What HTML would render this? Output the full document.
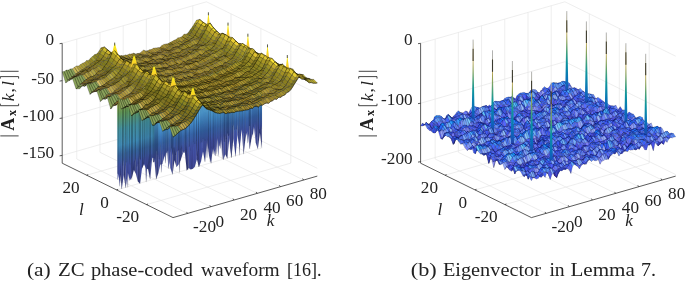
<!DOCTYPE html>
<html><head><meta charset="utf-8"><style>
    html,body{margin:0;padding:0;background:#fff;width:685px;height:281px;overflow:hidden}
    svg{display:block;will-change:transform}
    .g{stroke:#e3e3e3;stroke-width:.6}
    .a{stroke:#262626;stroke-width:.75}
    text{font-family:"Liberation Serif",serif;fill:#222}
    .t{font-size:17.2px}
    .ti{font-size:17.2px;font-style:italic}
    .yb{font-weight:bold}
    .yi{font-style:italic}
    .yln{fill:none;stroke:#222;stroke-width:.85}
    .cap{font-size:19px}
    .sb path{stroke:#000030;stroke-width:3.5;stroke-opacity:.5}
    .sa path{stroke:#000;stroke-width:4;stroke-opacity:.5}
    .sa path.rl{fill:none;stroke:#1a1400;stroke-width:6;stroke-opacity:.85}
    .sa path.cu0,.sa path.cu1,.sa path.cu2,.sa path.cu3,.sa path.cu4,.sa path.cu5{stroke-opacity:.12}
    .sa path.nk,.sb path.nk{stroke:none}
    .aa{fill:#8aa25a}.ab{fill:#b4963c}.ac{fill:#c0a84e}.ad{fill:#a89036}.ae{fill:#907e2a}.af{fill:#7e7224}.ag{fill:#786c1e}.ah{fill:#6c601e}.ai{fill:#6c661e}.aj{fill:#84781e}.ak{fill:#9c9024}.al{fill:#a2902a}.am{fill:#908424}.an{fill:#605a1e}.ao{fill:#5a5418}.ap{fill:#907e24}.aq{fill:#968424}.ar{fill:#9c8a24}.as{fill:#a28a2a}.at{fill:#9c8a2a}.au{fill:#a8902a}.av{fill:#ae9630}.aw{fill:#a89030}.ax{fill:#a88a30}.ay{fill:#9c842a}.az{fill:#a28a30}.aA{fill:#ae9636}.aB{fill:#a8962a}.aC{fill:#968a24}.aD{fill:#78721e}.aE{fill:#7e781e}.aF{fill:#ccb42a}.aG{fill:#ae962a}.aH{fill:#b4a824}.aI{fill:#baa824}.aJ{fill:#baae2a}.aK{fill:#c0ae2a}.aL{fill:#54481e}.aM{fill:#7e6c24}.aN{fill:#786624}.aO{fill:#78661e}.aP{fill:#847824}.aQ{fill:#7e721e}.aR{fill:#b4a22a}.aS{fill:#eacc30}.aT{fill:#665a1e}.aU{fill:#5a541e}.aV{fill:#8a7824}.aW{fill:#967e24}.aX{fill:#8a7224}.aY{fill:#907824}.aZ{fill:#967e2a}.aaa{fill:#90782a}.aab{fill:#847224}.aac{fill:#8a7e24}.aad{fill:#e4cc30}.aae{fill:#c0ae24}.aaf{fill:#aea224}.aag{fill:#a89c24}.aah{fill:#a29624}.aai{fill:#a29024}.aaj{fill:#54421e}.aak{fill:#7e6624}.aal{fill:#786c24}.aam{fill:#66601e}.aan{fill:#5a4e1e}.aao{fill:#846c24}.aap{fill:#96842a}.aaq{fill:#8a7e1e}.aar{fill:#ae9c24}.aas{fill:#dec630}.aat{fill:#f0d830}.aau{fill:#ae963c}.aav{fill:#a28a36}.aaw{fill:#ae9c3c}.aax{fill:#baa82a}.aay{fill:#9c8424}.aaz{fill:#ae9030}.aaA{fill:#a29030}.aaB{fill:#b49c36}.aaC{fill:#ae9c2a}.aaD{fill:#b4a82a}.aaE{fill:#6c5a24}.aaF{fill:#6c5a1e}.aaG{fill:#726024}.aaH{fill:#8a8424}.aaI{fill:#c6ae2a}.aaJ{fill:#786024}.aaK{fill:#8a841e}.aaL{fill:#c6b42a}.aaM{fill:#605418}.aaN{fill:#8a782a}.aaO{fill:#90841e}.aaP{fill:#f6de30}.aaQ{fill:#baa248}.aaR{fill:#b49c42}.aaS{fill:#90842a}.aaT{fill:#72661e}.aaU{fill:#726c1e}.aaV{fill:#605a18}.aaW{fill:#a88a2a}.aaX{fill:#ae9c36}.aaY{fill:#a89624}.aaZ{fill:#b49c2a}.aba{fill:#72601e}.abb{fill:#e4c630}.abc{fill:#c0a82a}.abd{fill:#fce436}.abe{fill:#baae24}.abf{fill:#7e6c1e}.abg{fill:#847e1e}.abh{fill:#baa242}.abi{fill:#d8c030}.abj{fill:#baae30}.abk{fill:#dec030}.abl{fill:#ccb45a}.abm{fill:#a8903c}.abn{fill:#9c8a30}.abo{fill:#baa22a}.abp{fill:#84721e}.abq{fill:#a89630}.abr{fill:#b4a224}.abs{fill:#6c6024}.abt{fill:#ccb430}.abu{fill:#60541e}.abv{fill:#f6d836}.abw{fill:#ccb454}.abx{fill:#a2962a}.aby{fill:#fcde36}.abz{fill:#725a24}.abA{fill:#846c2a}.abB{fill:#8a722a}.abC{fill:#baa848}.abD{fill:#a2903c}.abE{fill:#9c9030}.abF{fill:#c6ae30}.abG{fill:#a89c30}.abH{fill:#d2b430}.abI{fill:#f0d236}.abJ{fill:#c6a84e}.abK{fill:#baa84e}.abL{fill:#968430}.abM{fill:#968a2a}.abN{fill:#ae9c30}.abO{fill:#a28a24}.abP{fill:#d2ba30}.abQ{fill:#d8c066}.abR{fill:#c0ae48}.abS{fill:#a89c3c}.abT{fill:#b4a842}.abU{fill:#a29630}.abV{fill:#908a24}.abW{fill:#b4a236}.abX{fill:#eacc36}.abY{fill:#726624}.abZ{fill:#f0d230}.aca{fill:#fcea36}.acb{fill:#e4d230}.acc{fill:#666018}.acd{fill:#b4a242}.ace{fill:#baa842}.acf{fill:#aea242}.acg{fill:#ccba2a}.ach{fill:#ccba5a}.aci{fill:#b4a23c}.acj{fill:#a89c36}.ack{fill:#a29c30}.ba{fill:#5a72fc}.bb{fill:#425afc}.bc{fill:#485af6}.bd{fill:#4e60fc}.be{fill:#4e66fc}.bf{fill:#3c5af6}.bg{fill:#3648c6}.bh{fill:#4866fc}.bi{fill:#3c66fc}.bj{fill:#3c42ba}.bk{fill:#4e5aea}.bl{fill:#8ab4fc}.bm{fill:#5a84fc}.bn{fill:#3648cc}.bo{fill:#4248cc}.bp{fill:#424ed8}.bq{fill:#364ed8}.br{fill:#4854f0}.bs{fill:#5a66fc}.bt{fill:#60a8fc}.bu{fill:#3072fc}.bv{fill:#304ed2}.bw{fill:#5466fc}.bx{fill:#606cfc}.by{fill:#424ede}.bz{fill:#425af6}.bA{fill:#3648c0}.bB{fill:#3c4ed2}.bC{fill:#3654e4}.bD{fill:#6090fc}.bE{fill:#4272fc}.bF{fill:#4e72fc}.bG{fill:#6690fc}.bH{fill:#4860fc}.bI{fill:#8a96fc}.bJ{fill:#9cb4fc}.bK{fill:#7896fc}.bL{fill:#7e9cfc}.bM{fill:#3642c0}.bN{fill:#365af0}.bO{fill:#2a6cfc}.bP{fill:#2a72fc}.bQ{fill:#3c4ede}.bR{fill:#3c54ea}.bS{fill:#3c60fc}.bT{fill:#4e6cfc}.bU{fill:#427efc}.bV{fill:#3c4ed8}.bW{fill:#485afc}.bX{fill:#545afc}.bY{fill:#4254e4}.bZ{fill:#3c6cfc}.baa{fill:#4854e4}.bab{fill:#4e78fc}.bac{fill:#607efc}.bad{fill:#3c3cb4}.bae{fill:#3c3cae}.baf{fill:#6078fc}.bag{fill:#5a8afc}.bah{fill:#548afc}.bai{fill:#4278fc}.baj{fill:#6c96fc}.bak{fill:#84b4fc}.bal{fill:#72a2fc}.bam{fill:#4848d8}.ban{fill:#3c78fc}.bao{fill:#5490fc}.bap{fill:#2a54de}.baq{fill:#3c309c}.bar{fill:#4236ae}.bas{fill:#4e54e4}.bat{fill:#788afc}.bau{fill:#5a6cfc}.bav{fill:#3060f6}.baw{fill:#245ae4}.bax{fill:#4260fc}.bay{fill:#5472fc}.baz{fill:#96bafc}.baA{fill:#78a2fc}.baB{fill:#485af0}.baC{fill:#306cfc}.baD{fill:#304ed8}.baE{fill:#366cfc}.baF{fill:#364ed2}.baG{fill:#3c48c6}.baH{fill:#484ede}.baI{fill:#2a84fc}.baJ{fill:#2a54d8}.baK{fill:#3c5afc}.baL{fill:#3060fc}.baM{fill:#6c84fc}.baN{fill:#426cfc}.baO{fill:#3642ba}.baP{fill:#4854ea}.baQ{fill:#969cfc}.baR{fill:#7e8afc}.baS{fill:#364ecc}.baT{fill:#3666fc}.baU{fill:#3066fc}.baV{fill:#3660fc}.baW{fill:#848afc}.baX{fill:#365af6}.baY{fill:#2472fc}.baZ{fill:#1e72fc}.bba{fill:#3054d8}.bbb{fill:#484ee4}.bbc{fill:#7272fc}.bbd{fill:#4266fc}.bbe{fill:#6684fc}.bbf{fill:#5478fc}.bbg{fill:#3c54de}.bbh{fill:#4254ea}.bbi{fill:#3054e4}.bbj{fill:#4e5af6}.bbk{fill:#4e60f6}.bbl{fill:#2a66fc}.bbm{fill:#3c48cc}.bbn{fill:#84a2fc}.bbo{fill:#84a8fc}.bbp{fill:#547efc}.bbq{fill:#7ea8fc}.bbr{fill:#7eaefc}.bbs{fill:#6ca8fc}.bbt{fill:#4e90fc}.bbu{fill:#3c42b4}.bbv{fill:#304ecc}.bbw{fill:#6096fc}.bbx{fill:#3c72fc}.bby{fill:#9caefc}.bbz{fill:#3c5af0}.bbA{fill:#545af6}.bbB{fill:#4e4ee4}.bbC{fill:#90aefc}.bbD{fill:#5a7efc}.bbE{fill:#425af0}.bbF{fill:#3054de}.bbG{fill:#729cfc}.bbH{fill:#4854f6}.bbI{fill:#96a2fc}.bbJ{fill:#4872fc}.bbK{fill:#3c42c0}.bbL{fill:#3c48d2}.bbM{fill:#7884fc}.bbN{fill:#4e54f0}.bbO{fill:#546cfc}.bbP{fill:#8aaefc}.bbQ{fill:#9ca2fc}.bbR{fill:#4e5af0}.bbS{fill:#666cfc}.bbT{fill:#3c36a8}.bbU{fill:#3678fc}.bbV{fill:#488afc}.bbW{fill:#3078fc}.bbX{fill:#3c54e4}.bbY{fill:#7284fc}.bbZ{fill:#4e96fc}.bca{fill:#307efc}.bcb{fill:#7e84fc}.bcc{fill:#6c78fc}.bcd{fill:#90a8fc}.bce{fill:#667efc}.bcf{fill:#96b4fc}.bcg{fill:#4e84fc}.bch{fill:#3672fc}.bci{fill:#4e5afc}.bcj{fill:#6c8afc}.bck{fill:#96a8fc}.bcl{fill:#6cb4fc}.bcm{fill:#54a2fc}.bcn{fill:#5460fc}.bco{fill:#3c36a2}.bcp{fill:#2a60fc}.bcq{fill:#3090fc}.bcr{fill:#1e5ae4}.bcs{fill:#66a2fc}.bct{fill:#487efc}.bcu{fill:#305aea}.bcv{fill:#2454de}.bcw{fill:#72b4fc}.bcx{fill:#54a8fc}.bcy{fill:#3684fc}.bcz{fill:#2a78fc}.bcA{fill:#428afc}.bcB{fill:#8aa8fc}.bcC{fill:#96aefc}.bcD{fill:#1260f0}.bcE{fill:#1260ea}.bcF{fill:#789cfc}.bcG{fill:#5a78fc}.bcH{fill:#7278fc}.bcI{fill:#1e6cfc}.bcJ{fill:#1e78fc}.bcK{fill:#608afc}.bcL{fill:#1e8afc}.bcM{fill:#1284fc}.bcN{fill:#84c0fc}.bcO{fill:#3c84fc}.bcP{fill:#3c48c0}.bcQ{fill:#3660f6}.bcR{fill:#728afc}.bcS{fill:#7290fc}.bcT{fill:#246cfc}.bcU{fill:#6084fc}.bcV{fill:#1860ea}.bcW{fill:#3c42c6}.bcX{fill:#3084fc}.bcY{fill:#60a2fc}.bcZ{fill:#4884fc}.bda{fill:#8aa2fc}.bdb{fill:#486cfc}.bdc{fill:#4e54ea}.bdd{fill:#668afc}.bde{fill:#5a96fc}.bdf{fill:#4848d2}.bdg{fill:#3c369c}.bdh{fill:#4242ba}.bdi{fill:#2a54e4}.bdj{fill:#3654ea}.bdk{fill:#6678fc}.bdl{fill:#6072fc}.bdm{fill:#4e48de}.bdn{fill:#4248d2}.bdo{fill:#305af6}.bdp{fill:#4e4eea}.bdq{fill:#7878fc}.bdr{fill:#2478fc}.bds{fill:#4842cc}.bdt{fill:#6066fc}.bdu{fill:#5454ea}.bdv{fill:#3c54f0}.bdw{fill:#4248c6}.bdx{fill:#4254f0}.bdy{fill:#4e4ed8}.bdz{fill:#6c7efc}.bdA{fill:#4e54f6}.bdB{fill:#5a60fc}.bdC{fill:#545af0}.bdD{fill:#5454e4}.bdE{fill:#90a2fc}.bdF{fill:#4878fc}.bdG{fill:#8496fc}.bdH{fill:#3654de}.bdI{fill:#7e7efc}.bdJ{fill:#8abafc}.bdK{fill:#367efc}.bdL{fill:#9cbafc}.bdM{fill:#7890fc}.bdN{fill:#7296fc}.bdO{fill:#6c90fc}.bdP{fill:#3c7efc}.bdQ{fill:#5a9cfc}.bdR{fill:#4290fc}.bdS{fill:#5aa2fc}.bdT{fill:#4e7efc}.bdU{fill:#849cfc}.bdV{fill:#5a90fc}.bdW{fill:#78aefc}.bdX{fill:#909cfc}.bdY{fill:#669cfc}.bdZ{fill:#8ac0fc}.bea{fill:#72c6fc}.beb{fill:#2a9cfc}.bec{fill:#189cfc}.bed{fill:#127efc}.bee{fill:#3696fc}.bef{fill:#6c9cfc}.beg{fill:#2a5af0}.beh{fill:#2490fc}.bei{fill:#1884fc}.bej{fill:#7ea2fc}.bek{fill:#78bafc}.bel{fill:#2460f6}.bem{fill:#1e5aea}.ben{fill:#5ac0fc}.beo{fill:#7ec6fc}.bep{fill:#1872fc}.beq{fill:#187efc}.ber{fill:#2a7efc}.bes{fill:#7eb4fc}.bet{fill:#1272fc}.beu{fill:#0c84fc}.bev{fill:#0c7efc}.bew{fill:#0c66f0}.bex{fill:#72a8fc}.bey{fill:#364ede}.bez{fill:#1e66fc}.beA{fill:#1e60ea}.beB{fill:#2a5aea}.beC{fill:#727efc}.beD{fill:#2466fc}.beE{fill:#305ae4}.beF{fill:#4284fc}.beG{fill:#3c8afc}.beH{fill:#4242c6}.beI{fill:#2a60f6}.beJ{fill:#2a5ae4}.beK{fill:#8a9cfc}.beL{fill:#9096fc}.beM{fill:#424ee4}.beN{fill:#a2aefc}.beO{fill:#4842c0}.beP{fill:#6672fc}.beQ{fill:#3c5aea}.beR{fill:#6cc0fc}.beS{fill:#42a8fc}.beT{fill:#1e7efc}.beU{fill:#84aefc}.beV{fill:#4890fc}.beW{fill:#4e8afc}.beX{fill:#9ca8fc}.beY{fill:#3054ea}.beZ{fill:#1e60f0}.bfa{fill:#7e96fc}.bfb{fill:#305af0}.bfc{fill:#4242c0}.bfd{fill:#245aea}.bfe{fill:#5460f6}.bff{fill:#5484fc}.bfg{fill:#365aea}.bfh{fill:#9c96fc}.bfi{fill:#484eea}.bfj{fill:#544eea}.bfk{fill:#423cba}.bfl{fill:#3c3ca8}.bfm{fill:#4848cc}.bfn{fill:#4854de}.bfo{fill:#6c66f6}.bfp{fill:#5a5aea}.bfq{fill:#3c3096}.bfr{fill:#6ca2fc}.bfs{fill:#78b4fc}.bft{fill:#90b4fc}.bfu{fill:#484ed8}.bfv{fill:#6cd8fc}.bfw{fill:#2a96fc}.bfx{fill:#3ca2fc}.bfy{fill:#4296fc}.bfz{fill:#247efc}.bfA{fill:#8ac6fc}.bfB{fill:#66b4fc}.bfC{fill:#72bafc}.bfD{fill:#90bafc}.bfE{fill:#54c6fc}.bfF{fill:#42aefc}.bfG{fill:#54aefc}.bfH{fill:#42a2fc}.bfI{fill:#72c0fc}.bfJ{fill:#7ebafc}.bfK{fill:#48aefc}.bfL{fill:#3c90fc}.bfM{fill:#126cfc}.bfN{fill:#1e84fc}.bfO{fill:#248afc}.bfP{fill:#186cfc}.bfQ{fill:#0678fc}.bfR{fill:#066cf0}.bfS{fill:#067efc}.bfT{fill:#1878fc}.bfU{fill:#1266f0}.bfV{fill:#6060fc}.bfW{fill:#6666fc}.bfX{fill:#96c0fc}.bfY{fill:#7e90fc}.bfZ{fill:#4e54de}.bga{fill:#6c6cfc}.bgb{fill:#90c0fc}.bgc{fill:#787efc}.bgd{fill:#4eaefc}.bge{fill:#9c9cfc}.bgf{fill:#2a60f0}.bgg{fill:#2484fc}.bgh{fill:#609cfc}.bgi{fill:#424ed2}.bgj{fill:#6696fc}.bgk{fill:#5496fc}.bgl{fill:#6c72fc}.bgm{fill:#a2a8fc}.bgn{fill:#8490fc}.bgo{fill:#423cae}.bgp{fill:#9696fc}.bgq{fill:#4e4ede}.bgr{fill:#545aea}.bgs{fill:#5aaefc}.bgt{fill:#78a8fc}.bgu{fill:#7eccfc}.bgv{fill:#368afc}.bgw{fill:#1896fc}.bgx{fill:#66aefc}.bgy{fill:#128afc}.bgz{fill:#3c96fc}.bgA{fill:#1296fc}.bgB{fill:#0c8afc}.bgC{fill:#66c6fc}.bgD{fill:#308afc}.bgE{fill:#4254de}.bgF{fill:#4eb4fc}.bgG{fill:#5ac6fc}.bgH{fill:#48bafc}.bgI{fill:#3654d8}.bgJ{fill:#84c6fc}.bgK{fill:#3690fc}.bgL{fill:#1866fc}.bgM{fill:#2460f0}.bgN{fill:#8a90fc}.bgO{fill:#6c66fc}.bgP{fill:#6060f6}.bgQ{fill:#5454f0}.bgR{fill:#66bafc}.bgS{fill:#72aefc}.bgT{fill:#5a60f0}.bgU{fill:#8484fc}.bgV{fill:#5aa8fc}.bgW{fill:#9090fc}.cu0{fill:url(#cur0)}.cu1{fill:url(#cur1)}.cu2{fill:url(#cur2)}.cu3{fill:url(#cur3)}.cu4{fill:url(#cur4)}.cu5{fill:url(#cur5)}</style></head><body>
<svg width="685" height="281" viewBox="0 0 685 281">
<line class="g" x1="76.77" y1="159.01" x2="76.77" y2="39.11"/>
<line class="g" x1="99.98" y1="152.34" x2="99.98" y2="32.44"/>
<line class="g" x1="123.18" y1="145.66" x2="123.18" y2="25.76"/>
<line class="g" x1="146.38" y1="138.99" x2="146.38" y2="19.09"/>
<line class="g" x1="169.59" y1="132.32" x2="169.59" y2="12.42"/>
<line class="g" x1="192.79" y1="125.64" x2="192.79" y2="5.74"/>
<line class="g" x1="62.20" y1="43.30" x2="206.50" y2="1.80"/>
<line class="g" x1="62.20" y1="80.68" x2="206.50" y2="39.18"/>
<line class="g" x1="62.20" y1="118.05" x2="206.50" y2="76.55"/>
<line class="g" x1="62.20" y1="155.43" x2="206.50" y2="113.93"/>
<line class="g" x1="290.82" y1="163.10" x2="290.82" y2="43.20"/>
<line class="g" x1="260.90" y1="148.41" x2="260.90" y2="28.51"/>
<line class="g" x1="230.99" y1="133.72" x2="230.99" y2="13.82"/>
<line class="g" x1="317.30" y1="56.20" x2="206.50" y2="1.80"/>
<line class="g" x1="317.30" y1="93.58" x2="206.50" y2="39.18"/>
<line class="g" x1="317.30" y1="130.95" x2="206.50" y2="76.55"/>
<line class="g" x1="317.30" y1="168.33" x2="206.50" y2="113.93"/>
<line class="g" x1="187.57" y1="213.41" x2="76.77" y2="159.01"/>
<line class="g" x1="210.78" y1="206.74" x2="99.98" y2="152.34"/>
<line class="g" x1="233.98" y1="200.06" x2="123.18" y2="145.66"/>
<line class="g" x1="257.18" y1="193.39" x2="146.38" y2="138.99"/>
<line class="g" x1="280.39" y1="186.72" x2="169.59" y2="132.32"/>
<line class="g" x1="303.59" y1="180.04" x2="192.79" y2="125.64"/>
<line class="g" x1="146.52" y1="204.60" x2="290.82" y2="163.10"/>
<line class="g" x1="116.60" y1="189.91" x2="260.90" y2="148.41"/>
<line class="g" x1="86.69" y1="175.22" x2="230.99" y2="133.72"/>
<line class="g" x1="435.17" y1="159.01" x2="435.17" y2="39.11"/>
<line class="g" x1="458.38" y1="152.34" x2="458.38" y2="32.44"/>
<line class="g" x1="481.58" y1="145.66" x2="481.58" y2="25.76"/>
<line class="g" x1="504.78" y1="138.99" x2="504.78" y2="19.09"/>
<line class="g" x1="527.99" y1="132.32" x2="527.99" y2="12.42"/>
<line class="g" x1="551.19" y1="125.64" x2="551.19" y2="5.74"/>
<line class="g" x1="420.60" y1="43.30" x2="564.90" y2="1.80"/>
<line class="g" x1="420.60" y1="103.25" x2="564.90" y2="61.75"/>
<line class="g" x1="420.60" y1="161.70" x2="564.90" y2="120.20"/>
<line class="g" x1="649.22" y1="163.10" x2="649.22" y2="43.20"/>
<line class="g" x1="619.30" y1="148.41" x2="619.30" y2="28.51"/>
<line class="g" x1="589.39" y1="133.72" x2="589.39" y2="13.82"/>
<line class="g" x1="675.70" y1="56.20" x2="564.90" y2="1.80"/>
<line class="g" x1="675.70" y1="116.15" x2="564.90" y2="61.75"/>
<line class="g" x1="675.70" y1="174.60" x2="564.90" y2="120.20"/>
<line class="g" x1="545.97" y1="213.41" x2="435.17" y2="159.01"/>
<line class="g" x1="569.18" y1="206.74" x2="458.38" y2="152.34"/>
<line class="g" x1="592.38" y1="200.06" x2="481.58" y2="145.66"/>
<line class="g" x1="615.58" y1="193.39" x2="504.78" y2="138.99"/>
<line class="g" x1="638.79" y1="186.72" x2="527.99" y2="132.32"/>
<line class="g" x1="661.99" y1="180.04" x2="551.19" y2="125.64"/>
<line class="g" x1="504.92" y1="204.60" x2="649.22" y2="163.10"/>
<line class="g" x1="475.00" y1="189.91" x2="619.30" y2="148.41"/>
<line class="g" x1="445.09" y1="175.22" x2="589.39" y2="133.72"/>
<defs><linearGradient id="ga00" gradientUnits="userSpaceOnUse" x1="1147" y1="426" x2="1147" y2="629"><stop offset="0.00" stop-color="#f9fb0e"/><stop offset="0.50" stop-color="#fad12b"/><stop offset="1.00" stop-color="#ecb94c"/></linearGradient><linearGradient id="ga01" gradientUnits="userSpaceOnUse" x1="1341" y1="533" x2="1341" y2="736"><stop offset="0.00" stop-color="#f9fb0e"/><stop offset="0.50" stop-color="#fad12b"/><stop offset="1.00" stop-color="#ecb94c"/></linearGradient><linearGradient id="ga02" gradientUnits="userSpaceOnUse" x1="1540" y1="640" x2="1540" y2="843"><stop offset="0.00" stop-color="#f9fb0e"/><stop offset="0.50" stop-color="#fad12b"/><stop offset="1.00" stop-color="#ecb94c"/></linearGradient><linearGradient id="ga03" gradientUnits="userSpaceOnUse" x1="1732" y1="747" x2="1732" y2="950"><stop offset="0.00" stop-color="#f9fb0e"/><stop offset="0.50" stop-color="#fad12b"/><stop offset="1.00" stop-color="#ecb94c"/></linearGradient><linearGradient id="ga04" gradientUnits="userSpaceOnUse" x1="1928" y1="854" x2="1928" y2="1057"><stop offset="0.00" stop-color="#f9fb0e"/><stop offset="0.50" stop-color="#fad12b"/><stop offset="1.00" stop-color="#ecb94c"/></linearGradient><linearGradient id="ga10" gradientUnits="userSpaceOnUse" x1="2084" y1="123" x2="2084" y2="332"><stop offset="0.00" stop-color="#f9fb0e"/><stop offset="0.50" stop-color="#fad12b"/><stop offset="1.00" stop-color="#ecb94c"/></linearGradient><linearGradient id="ga11" gradientUnits="userSpaceOnUse" x1="2280" y1="226" x2="2280" y2="435"><stop offset="0.00" stop-color="#f9fb0e"/><stop offset="0.50" stop-color="#fad12b"/><stop offset="1.00" stop-color="#ecb94c"/></linearGradient><linearGradient id="ga12" gradientUnits="userSpaceOnUse" x1="2479" y1="337" x2="2479" y2="546"><stop offset="0.00" stop-color="#f9fb0e"/><stop offset="0.50" stop-color="#fad12b"/><stop offset="1.00" stop-color="#ecb94c"/></linearGradient><linearGradient id="ga13" gradientUnits="userSpaceOnUse" x1="2675" y1="444" x2="2675" y2="653"><stop offset="0.00" stop-color="#f9fb0e"/><stop offset="0.50" stop-color="#fad12b"/><stop offset="1.00" stop-color="#ecb94c"/></linearGradient><linearGradient id="ga14" gradientUnits="userSpaceOnUse" x1="2873" y1="550" x2="2873" y2="759"><stop offset="0.00" stop-color="#f9fb0e"/><stop offset="0.50" stop-color="#fad12b"/><stop offset="1.00" stop-color="#ecb94c"/></linearGradient><linearGradient id="cur0" gradientUnits="userSpaceOnUse" x1="1176" y1="705" x2="1494" y2="1812"><stop offset="0.00" stop-color="#a5a03e"/><stop offset="0.25" stop-color="#9b9b3e"/><stop offset="0.36" stop-color="#5f9254"/><stop offset="0.50" stop-color="#428c9b"/><stop offset="0.63" stop-color="#3e86af"/><stop offset="0.71" stop-color="#366298"/><stop offset="0.81" stop-color="#3e4e9b"/><stop offset="0.90" stop-color="#3e4895"/><stop offset="1.00" stop-color="#3c448b"/></linearGradient><linearGradient id="cur1" gradientUnits="userSpaceOnUse" x1="1176" y1="705" x2="1494" y2="1812"><stop offset="0.00" stop-color="#8c8835"/><stop offset="0.25" stop-color="#838335"/><stop offset="0.36" stop-color="#517c48"/><stop offset="0.50" stop-color="#387783"/><stop offset="0.63" stop-color="#357295"/><stop offset="0.71" stop-color="#2e5382"/><stop offset="0.81" stop-color="#354383"/><stop offset="0.90" stop-color="#353d7f"/><stop offset="1.00" stop-color="#333a76"/></linearGradient><linearGradient id="cur2" gradientUnits="userSpaceOnUse" x1="1176" y1="705" x2="1494" y2="1812"><stop offset="0.00" stop-color="#b5b044"/><stop offset="0.25" stop-color="#aaaa44"/><stop offset="0.36" stop-color="#68a15d"/><stop offset="0.50" stop-color="#499aaa"/><stop offset="0.63" stop-color="#4493c1"/><stop offset="0.71" stop-color="#3b6ca8"/><stop offset="0.81" stop-color="#4456aa"/><stop offset="0.90" stop-color="#444fa4"/><stop offset="1.00" stop-color="#424b99"/></linearGradient><linearGradient id="cur3" gradientUnits="userSpaceOnUse" x1="1176" y1="705" x2="1494" y2="1812"><stop offset="0.00" stop-color="#a5a548"/><stop offset="0.38" stop-color="#9baf52"/><stop offset="0.45" stop-color="#62aace"/><stop offset="0.55" stop-color="#52a0d8"/><stop offset="0.63" stop-color="#4081bf"/><stop offset="0.71" stop-color="#3662a5"/><stop offset="0.81" stop-color="#3e4e9b"/><stop offset="0.90" stop-color="#3e4895"/><stop offset="1.00" stop-color="#3c448b"/></linearGradient><linearGradient id="cur4" gradientUnits="userSpaceOnUse" x1="1176" y1="705" x2="1494" y2="1812"><stop offset="0.00" stop-color="#8c8c3d"/><stop offset="0.38" stop-color="#839546"/><stop offset="0.45" stop-color="#5390af"/><stop offset="0.55" stop-color="#4688b8"/><stop offset="0.63" stop-color="#366da2"/><stop offset="0.71" stop-color="#2e538c"/><stop offset="0.81" stop-color="#354383"/><stop offset="0.90" stop-color="#353d7f"/><stop offset="1.00" stop-color="#333a76"/></linearGradient><linearGradient id="cur5" gradientUnits="userSpaceOnUse" x1="1176" y1="705" x2="1494" y2="1812"><stop offset="0.00" stop-color="#b5b54f"/><stop offset="0.38" stop-color="#aac15b"/><stop offset="0.45" stop-color="#6cbbe3"/><stop offset="0.55" stop-color="#5bb0ee"/><stop offset="0.63" stop-color="#468ed2"/><stop offset="0.71" stop-color="#3b6cb5"/><stop offset="0.81" stop-color="#4456aa"/><stop offset="0.90" stop-color="#444fa4"/><stop offset="1.00" stop-color="#424b99"/></linearGradient></defs><g class=sa transform="scale(.1)">
<path class=aa d="M657 830l20-28-35-87-20 3zm20-28l20-15-34-87-21 15zm20-15l21-18-35-69-20 0zm21-18l20-11-35-69-20 11zm20-11l20-19-34-52-21 2z"/>
<path class=ach d="M758 739l21-14-35-52-20 14zm21-14l20-12-35-54-20 14z"/>
<path class=aci d="M799 713l20-14-34-40-21 0z"/>
<path class=aaX d="M819 699l21-13-35-41-20 14z"/>
<path class=acj d="M840 686l20-15-35-39-20 13z"/>
<path class=abq d="M860 671l20-8-34-39-21 8z"/>
<path class=abE d="M880 663l21-21-35-37-20 19z"/>
<path class=ak d="M901 642l20-10-35-28-20 1zm975-265l20-18-34-17-21-2z"/>
<path class=am d="M921 632l20-18-34-35-21 25zm81-97l20-33-34 12-20 25zm183 39l20 5-34-18-21 0z"/>
<path class=ack d="M941 614l20-12-34-39-20 16z"/>
<path class=aaH d="M961 602l21-33-35-23-20 17z"/>
<path class=aaK d="M982 569l20-34-34 4-21 7z"/>
<path class=aaC d="M1022 502l21-33-35 11-20 34zm976-308l20 21-34 6-21-17z"/>
<path class=aai d="M1043 469l20 19-35 5-20-13z"/>
<path class=aac d="M1063 488l20 22-34 5-21-22z"/>
<path class=ai d="M1083 510l21 21-35 5-20-21zm976-252l20 22-34-12-21-4z"/>
<path class=aaM d="M1104 531l20 22-35-6-20-11z"/>
<path class=ao d="M1124 553l20 17-34-22-21-1z"/>
<path class=aq d="M1144 570l21 12-35-28-20-6zm61 9l21-2-35-20-20 4zm21-2l20 0-35-21-20 1zm20 0l20 11-34-30-21-2zm772-362l21 22-35 5-20-21z"/>
<path class=aC d="M1165 582l20-8-35-13-20-7zm792-323l21-33-35 11-20 33z"/>
<path class=at d="M1266 588l21-16-35-22-20 8zm508-161l21-13-35-19-20 7zm61-22l21-16-35-24-20 9zm21-16l20-12-35-37-20 25z"/>
<path class=ay d="M1287 572l20 9-35-30-20-1zm203-45l20 5-34-25-21 2zm122-28l20-8-34-16-21 2zm20-8l20-3-34-32-20 19zm122-55l20-9-34-25-21 14z"/>
<path class=al d="M1307 581l20-10-34-31-21 11zm488-167l20 6-35-42-20 17z"/>
<path class=as d="M1327 571l21 0-35-31-20 0zm21 0l20-13-35-26-20 8zm81-19l20-2-34-31-21 14zm41-11l20-14-35-18-20-10zm40-9l21-4-35-30-20 9zm82-22l20-11-35-22-20 3zm81-32l20-15-34-23-21 4z"/>
<path class=aap d="M1368 558l20-1-34-17-21-8zm325-95l20-11-34-15-20 3zm20-11l21-5-35-21-20 11zm21-5l20-11-35-20-20 10z"/>
<path class=aZ d="M1388 557l21-8-35-14-20 5zm21-8l20 3-35-19-20 2z"/>
<path class=aA d="M1449 550l21-9-35-42-20 20zm102-21l20-9-34-39-21 12z"/>
<path class=aaW d="M1531 528l20 1-35-36-20 5z"/>
<path class=aw d="M1571 520l21-10-35-30-20 1zm81-32l21-10-35-34-20 12z"/>
<path class=av d="M1815 420l20-15-34-31-21 4z"/>
<path class=aQ d="M1896 359l21-34-35 2-20 15z"/>
<path class=aaU d="M1917 325l20-33-35 5-20 30z"/>
<path class=aE d="M1937 292l20-33-34 11-21 27z"/>
<path class=aK d="M1978 226l20-32-35 10-20 33z"/>
<path class=aD d="M2039 237l20 21-35 6-20-22z"/>
<path class=aam d="M2079 280l21 21-35-11-20-22z"/>
<path class=aa d="M691 806l21-18-35 14-20 28z"/>
<path class=abz d="M712 788l20-6-35 5-20 15z"/>
<path class=aaG d="M732 782l20-15-34 2-21 18zm20-15l21-14-35 5-20 11z"/>
<path class=aN d="M773 753l20-11-35-3-20 19z"/>
<path class=aM d="M793 742l20-11-34-6-21 14zm81-36l20-29-34-6-20 15z"/>
<path class=aal d="M813 731l21-17-35-1-20 12zm21-17l20-13-35-2-20 14z"/>
<path class=aP d="M854 701l20 5-34-20-21 13zm1077-321l20-28-34-27-21 34z"/>
<path class=af d="M894 677l21-6-35-8-20 8z"/>
<path class=aQ d="M915 671l20-14-34-15-21 21zm40-28l21-17-35-12-20 18z"/>
<path class=aj d="M935 657l20-14-34-11-20 10zm41-31l20-14-35-10-20 12zm20-14l20-18-34-25-21 33zm102-92l20 22-35-32-20-22z"/>
<path class=aaO d="M1016 594l21-33-35-26-20 34z"/>
<path class=aag d="M1037 561l20-33-35-26-20 33z"/>
<path class=acg d="M1057 528l20-29-34-30-21 33z"/>
<path class=ak d="M1077 499l21 21-35-32-20-19z"/>
<path class=ah d="M1118 542l20 22-34-33-21-21z"/>
<path class=ao d="M1138 564l21 21-35-32-20-22z"/>
<path class=am d="M1159 585l20 12-35-27-20-17zm20 12l20-13-34-2-21-12zm732-208l20-9-35-21-20 18zm142-143l20 22-34-31-21-22z"/>
<path class=ap d="M1199 584l21 10-35-20-20 8zm41 13l20-12-34-8-21 2zm142-26l21 12-35-25-20 13zm41-2l20-6-34-14-21 8zm447-152l20-11-34-17-21 16zm20-11l21-17-35-12-20 12z"/>
<path class=aq d="M1220 594l20 3-35-18-20-5zm609-154l21-16-35-4-20-6z"/>
<path class=aac d="M1260 585l21 8-35-16-20 0z"/>
<path class=aV d="M1281 593l20-1-35-4-20-11zm61-9l20-5-35-8-20 10zm508-160l20-7-35-12-20 15z"/>
<path class=aap d="M1301 592l20 8-34-28-21 16zm102-9l20-14-35-12-20 1zm325-104l20-5-35-22-20 11z"/>
<path class=aZ d="M1321 600l21-16-35-3-20-9zm163-39l20 4-34-24-21 9zm41-11l20-2-35-16-20-5zm20-2l20 1-34-21-21 4z"/>
<path class=aX d="M1362 579l20-8-34 0-21 0zm224-49l20-3-35-7-20 9zm40-9l20-19-34-3-20 11z"/>
<path class=aY d="M1443 563l21-1-35-10-20-3zm203-61l21 6-35-17-20 8z"/>
<path class=aaa d="M1464 562l20-1-35-11-20 2zm101-13l21-19-35-1-20-1zm41-22l20-6-34-11-21 10z"/>
<path class=ay d="M1504 565l21-15-35-23-20 14zm163-57l20 1-35-21-20 3zm20 1l20-7-34-24-21 10zm61-35l20-6-34-21-21 5z"/>
<path class=ae d="M1707 502l21-23-35-16-20 15z"/>
<path class=as d="M1768 468l21-2-35-30-20 11z"/>
<path class=at d="M1789 466l20-17-35-22-20 9zm20-17l20-9-34-26-21 13z"/>
<path class=aaq d="M1951 352l21-34-35-26-20 33z"/>
<path class=aC d="M1972 318l20-33-35-26-20 33z"/>
<path class=abr d="M1992 285l20-35-34-24-21 33z"/>
<path class=aad d="M2012 250l21-27-35-29-20 32z"/>
<path class=aaC d="M2033 223l20 23-35-31-20-21z"/>
<path class=aD d="M2073 268l21 22-35-32-20-21z"/>
<path class=ai d="M2094 290l20 22-35-32-20-22z"/>
<path class=aaY d="M2114 312l20-3-34-8-21-21z"/>
<path class=rl d="M691 806l21-18 20-6 20-15 21-14 20-11 20-11 21-17 20-13 20 5 20-29 21-6 20-14 20-14 21-17 20-14 20-18 21-33 20-33 20-29 21 21 20 22 20 22 21 21 20 12 20-13 21 10 20 3 20-12 21 8 20-1 20 8 21-16 20-5 20-8 21 12 20-14 20-6 21-1 20-1 20 4 21-15 20-2 20 1 21-19 20-3 20-6 20-19 21 6 20 1 20-7 21-23 20-5 20-6 21-2 20-17 20-9 21-16 20-7 20-11 21-17 20-9 20-28 21-34 20-33 20-35 21-27 20 23 20 22 21 22 20 22 20-3"/>
<path class=aa d="M726 791l20-21-34 18-21 18z"/>
<path class=aL d="M746 770l21-1-35 13-20 6z"/>
<path class=ah d="M767 769l20-10-35 8-20 15z"/>
<path class=aba d="M787 759l20-10-34 4-21 14z"/>
<path class=aM d="M807 749l20 0-34-7-20 11zm41-7l20-20-34-8-21 17z"/>
<path class=aab d="M827 749l21-7-35-11-20 11zm529-147l20-10-34-8-21 16zm81-19l21-7-35-7-20 14zm142-29l21-8-35 3-20-1zm163-54l20-7-34-14-21 23zm102-53l20-2-35-5-20 9zm61-23l20-19-35 1-20 11z"/>
<path class=aV d="M868 722l20 1-34-22-20 13zm20 1l21-14-35-3-20-5zm61-36l21-13-35-17-20 14zm570-110l20-15-35 3-20-4zm20-15l20 3-34-15-21 15zm162-37l21-16-35 0-20-1zm102-40l20-23-34 4-21 2zm61-40l20-8-34-13-21 16z"/>
<path class=aO d="M909 709l20-20-35-12-20 29z"/>
<path class=aac d="M929 689l20-2-34-16-21 6zm41-15l20-13-35-18-20 14zm284-68l21-2-35-7-20-3zm630-169l21-13-35-7-20 7zm82-47l20-12-35-26-20 28zm20-12l20-34-34-26-21 34z"/>
<path class=abg d="M990 661l20-15-34-20-21 17z"/>
<path class=aQ d="M1010 646l21-32-35-2-20 14z"/>
<path class=aj d="M1031 614l20-9-35-11-20 18z"/>
<path class=am d="M1051 605l20-22-34-22-21 33zm1037-333l20 27-35-31-20-22z"/>
<path class=aaY d="M1071 583l21-35-35-20-20 33z"/>
<path class=abP d="M1092 548l20-23-35-26-20 29z"/>
<path class=ar d="M1112 525l20 25-34-30-21-21z"/>
<path class=abp d="M1132 550l21 24-35-32-20-22z"/>
<path class=aam d="M1153 574l20 20-35-30-20-22z"/>
<path class=aU d="M1173 594l20 20-34-29-21-21z"/>
<path class=aq d="M1193 614l21 1-35-18-20-12zm21 1l20-12-35-19-20 13z"/>
<path class=ap d="M1234 603l20 3-34-12-21-10zm41 1l20-2-35-17-20 12zm20-2l20 8-34-17-21-8zm20 8l21-8-35-10-20 1zm61-18l21 5-35-18-20 5zm82-16l20 0-35-13-20 6zm325-96l20 5-35-17-20 6zm162-80l21-10-35-10-20 9z"/>
<path class=aan d="M1336 602l20 0-35-2-20-8z"/>
<path class=at d="M1397 597l20 6-35-32-20 8z"/>
<path class=aZ d="M1417 603l20-20-34 0-21-12zm61-27l20 3-34-17-21 1zm20 3l21-2-35-16-20 1zm122-34l20 3-34-21-20 3zm41-17l20 1-35-27-20 19z"/>
<path class=aaa d="M1559 565l20-11-34-6-20 2zm81-17l21-20-35-7-20 6z"/>
<path class=aX d="M1600 546l20-1-34-15-21 19z"/>
<path class=ay d="M1681 529l20-4-34-17-21-6z"/>
<path class=aao d="M1722 509l20-9-35 2-20 7z"/>
<path class=aY d="M1762 493l21-13-35-6-20 5z"/>
<path class=aal d="M1823 462l21-15-35 2-20 17z"/>
<path class=aP d="M1925 405l20-5-34-11-21 17z"/>
<path class=aC d="M2006 344l21-36-35-23-20 33z"/>
<path class=aaC d="M2027 308l20-42-35-16-20 35z"/>
<path class=aad d="M2047 266l20-24-34-19-21 27z"/>
<path class=aB d="M2067 242l21 30-35-26-20-23z"/>
<path class=ag d="M2108 299l20 23-34-32-21-22z"/>
<path class=aag d="M2128 322l21 6-35-16-20-22z"/>
<path class=aar d="M2149 328l20-1-35-18-20 3z"/>
<path class=nk d="M2084 123L2061 327 2108 332zM2084 123L2108 332 2107 314z" fill="url(#ga10)"/><path class=nk d="M2084 123v30" style="stroke:#333;stroke-width:8;stroke-opacity:1"/>
<path class=aa d="M760 889l21-18-35-101-20 21zm21-18l20-27-34-75-21 1zm20-27l20-13-34-72-20 10zm20-13l21-20-35-62-20 10zm21-20l20-14-35-48-20 0z"/>
<path class=acd d="M862 797l20-14-34-41-21 7zm20-14l21-13-35-48-20 20z"/>
<path class=aaA d="M903 770l20-4-35-43-20-1zm61-34l20-23-35-26-20 2z"/>
<path class=ace d="M923 766l20-10-34-47-21 14z"/>
<path class=acf d="M943 756l21-20-35-47-20 20z"/>
<path class=at d="M984 713l20-1-34-38-21 13zm346-79l20 1-35-25-20-8zm467-106l20-23-34-25-21 13zm122-65l20-11-34-28-21 13z"/>
<path class=abU d="M1004 712l21-14-35-37-20 13z"/>
<path class=aac d="M1025 698l20-33-35-19-20 15zm1097-433l21 28-35 6-20-27z"/>
<path class=aE d="M1045 665l20-23-34-28-21 32zm41-57l20-38-35 13-20 22zm955-275l20-37-34 12-21 36z"/>
<path class=abg d="M1065 642l21-34-35-3-20 9z"/>
<path class=am d="M1106 570l20-45-34 23-21 35z"/>
<path class=aaC d="M1126 525l21-19-35 19-20 23z"/>
<path class=ar d="M1147 506l20 33-35 11-20-25zm101 126l21 4-35-33-20 12zm813-336l21-45-35 15-20 42z"/>
<path class=aQ d="M1167 539l20 29-34 6-21-24z"/>
<path class=aam d="M1187 568l21 23-35 3-20-20z"/>
<path class=ao d="M1208 591l20 21-35 2-20-20z"/>
<path class=aan d="M1228 612l20 20-34-17-21-1z"/>
<path class=aai d="M1269 636l20 0-35-30-20-3z"/>
<path class=al d="M1289 636l20-4-34-28-21 2zm20-4l21 2-35-32-20 2zm102 1l20 0-34-36-21-5zm447-142l20-11-34-33-21 15zm20-11l21-2-35-33-20 2zm21-2l20-15-35-26-20 8z"/>
<path class=as d="M1350 635l20-4-34-29-21 8zm20-4l21 4-35-33-20 0zm61 2l21-16-35-14-20-6zm21-16l20 5-35-39-20 20zm121-21l21-5-35-26-20-3zm183-65l21-2-35-29-20 9z"/>
<path class=abq d="M1391 635l20-2-35-41-20 10zm548-183l21-4-35-43-20 19z"/>
<path class=av d="M1472 622l20-8-34-38-21 7z"/>
<path class=au d="M1492 614l20-9-34-29-20 0zm285-85l20-1-35-35-20 7z"/>
<path class=ay d="M1512 605l21-8-35-18-20-3zm21-8l20 7-34-27-21 2zm101-14l21-24-35-14-20 1zm61-32l21-2-35-20-20-1z"/>
<path class=az d="M1553 604l20-8-34-34-20 15z"/>
<path class=aw d="M1594 591l20 2-35-39-20 11z"/>
<path class=aA d="M1614 593l20-10-34-37-21 8z"/>
<path class=ae d="M1655 559l20 9-35-20-20-3zm20 9l20-17-34-23-21 20z"/>
<path class=aZ d="M1716 549l20-13-35-11-20 4zm20-13l20-5-34-22-21 16z"/>
<path class=aap d="M1817 505l21-5-35-15-20-5zm21-5l20-9-35-29-20 23z"/>
<path class=abN d="M1960 448l20-15-35-33-20 5z"/>
<path class=ap d="M1980 433l20-33-34-10-21 10z"/>
<path class=ag d="M2000 400l21-33-35 11-20 12z"/>
<path class=aaT d="M2021 367l20-34-35 11-20 34z"/>
<path class=aF d="M2082 251l20-19-35 10-20 24z"/>
<path class=aaY d="M2102 232l20 33-34 7-21-30zm81 106l21 14-35-25-20 1z"/>
<path class=aaU d="M2143 293l20 23-35 6-20-23z"/>
<path class=ah d="M2163 316l20 22-34-10-21-6z"/>
<path class=rl d="M760 889l21-18 20-27 20-13 21-20 20-14 20-14 21-13 20-4 20-10 21-20 20-23 20-1 21-14 20-33 20-23 21-34 20-38 20-45 21-19 20 33 20 29 21 23 20 21 20 20 21 4 20 0 20-4 21 2 20 1 20-4 21 4 20-2 20 0 21-16 20 5 20-8 20-9 21-8 20 7 20-8 21-5 20 2 20-10 21-24 20 9 20-17 21-2 20-13 20-5 21-2 20-1 20-23 21-5 20-9 20-11 21-2 20-15 20-11 21-4 20-15 20-33 21-33 20-34 20-37 21-45 20-19 20 33 21 28 20 23 20 22 21 14"/>
<path class=nk d="M1147 426L1101 618 1196 629zM1147 426L1196 629 1194 592z" fill="url(#ga00)"/><path class=nk d="M1147 426v30" style="stroke:#333;stroke-width:8;stroke-opacity:1"/>
<path class=aa d="M795 888l20-28-34 11-21 18zm20-28l21-18-35 2-20 27z"/>
<path class=aak d="M836 842l20-6-35-5-20 13z"/>
<path class=aN d="M856 836l20-18-34-7-21 20z"/>
<path class=aM d="M876 818l21-15-35-6-20 14zm102-65l20-5-34-12-21 20z"/>
<path class=aX d="M897 803l20-1-35-19-20 14zm569-173l20-1-34-12-21 16z"/>
<path class=aab d="M917 802l20-19-34-13-21 13zm508-166l20 1-34-4-20 2zm20 1l21-7-35 3-20 0z"/>
<path class=aV d="M937 783l21-1-35-16-20 4zm61-35l21-9-35-26-20 23zm407-102l20-10-34-1-21-4zm305-70l20-14-35-11-20 17zm122-39l20-14-35-18-20 23zm40-29l21-10-35-7-20 9zm61-15l21-23-35-7-20 15zm41-30l20-12-34-3-21 4zm20-12l21-7-35-11-20 15z"/>
<path class=aal d="M958 782l20-29-35 3-20 10z"/>
<path class=ap d="M1019 739l20-12-35-15-20 1zm264-93l20-2-34-8-21-4zm20-2l21 11-35-19-20 0zm41 1l20 3-34-14-21-2zm20 3l21-1-35-12-20-1zm21-1l20-1-35-15-20 4zm467-124l20-15-34-8-21 5zm41-25l20-3-35-15-20 11z"/>
<path class=aP d="M1039 727l20-16-34-13-21 14zm976-283l20-18-35-26-20 33z"/>
<path class=aaU d="M1059 711l21-32-35-14-20 33zm1118-385l20 22-34-32-20-23z"/>
<path class=aaq d="M1080 679l20-11-35-26-20 23zm1077-376l20 23-34-33-21-28z"/>
<path class=aj d="M1100 668l20-34-34-26-21 34zm935-242l20-33-34-26-21 33z"/>
<path class=abV d="M1120 634l21-36-35-28-20 38z"/>
<path class=aar d="M1141 598l20-41-35-32-20 45z"/>
<path class=acb d="M1161 557l20-12-34-39-21 19z"/>
<path class=aC d="M1181 545l21 29-35-35-20-33z"/>
<path class=aD d="M1202 574l20 27-35-33-20-29z"/>
<path class=acc d="M1222 601l20 22-34-32-21-23z"/>
<path class=ao d="M1242 623l21 22-35-33-20-21z"/>
<path class=am d="M1263 645l20 1-35-14-20-20z"/>
<path class=aq d="M1324 655l20-10-35-13-20 4z"/>
<path class=aY d="M1486 629l20 12-34-19-20-5z"/>
<path class=aZ d="M1506 641l21-14-35-13-20 8zm61-18l21-1-35-18-20-7zm102-33l20 0-34-31-21 24zm61-28l20 10-34-23-21 2zm81-11l21-14-35-9-20 1z"/>
<path class=aaa d="M1527 627l20-10-35-12-20 9z"/>
<path class=aap d="M1547 617l20 6-34-26-21 8zm203-45l21-15-35-21-20 13z"/>
<path class=ay d="M1588 622l20-2-35-24-20 8zm101-32l21-14-35-8-20-9zm82-33l20-4-35-22-20 5zm20-4l20-2-34-22-21 2z"/>
<path class=aaN d="M1608 620l20-28-34-1-21 5zm41-18l20-12-35-7-20 10z"/>
<path class=aan d="M1628 592l21 10-35-9-20-2z"/>
<path class=aW d="M1913 495l20-2-34-15-21 2z"/>
<path class=aac d="M1954 470l20-7-35-11-20 11z"/>
<path class=aaK d="M2055 393l21-33-35-27-20 34z"/>
<path class=ak d="M2076 360l20-34-35-30-20 37z"/>
<path class=aax d="M2096 326l20-36-34-39-21 45z"/>
<path class=aca d="M2116 290l21-11-35-47-20 19z"/>
<path class=aaY d="M2137 279l20 24-35-38-20-33z"/>
<path class=ah d="M2197 348l21 17-35-27-20-22z"/>
<path class=aag d="M2218 365l20 7-34-20-21-14z"/>
<path class=aa d="M830 854l20 7-35-1-20 28z"/>
<path class=aaG d="M850 861l20-25-34 6-21 18zm20-25l21-8-35 8-20 6z"/>
<path class=aM d="M891 828l20 1-35-11-20 18zm81-36l20-12-34 2-21 1zm650-164l21-18-35 10-20 2zm61-24l21-16-35 2-20 12z"/>
<path class=abY d="M911 829l20-30-34 4-21 15z"/>
<path class=aL d="M931 799l21-1-35 4-20 1z"/>
<path class=aal d="M952 798l20-6-35-9-20 19z"/>
<path class=aN d="M992 780l21-15-35-12-20 29z"/>
<path class=aab d="M1013 765l20-11-35-6-20 5zm20-11l20-5-34-10-21 9zm508-120l20 5-34-12-21 14zm102-24l20 1-35-19-20 28zm142-32l20-16-34-5-21 15zm81-31l21-24-35 0-20 14zm82-48l20-5-35-1-20 2zm40-20l21-20-35 4-20 7z"/>
<path class=abf d="M1053 749l21-20-35-2-20 12z"/>
<path class=aaT d="M1074 729l20-20-35 2-20 16zm1138-370l20 17-35-28-20-22z"/>
<path class=aaU d="M1094 709l20-17-34-13-21 32z"/>
<path class=aE d="M1114 692l21-19-35-5-20 11z"/>
<path class=aaq d="M1135 673l20-13-35-26-20 34z"/>
<path class=aC d="M1155 660l20-33-34-29-21 36z"/>
<path class=aR d="M1175 627l21-34-35-36-20 41z"/>
<path class=abZ d="M1196 593l20-4-35-44-20 12z"/>
<path class=aq d="M1216 589l20 23-34-38-21-29zm142 75l20 2-34-21-20 10zm20 2l21-8-35-10-20-3z"/>
<path class=ag d="M1236 612l21 22-35-33-20-27z"/>
<path class=an d="M1257 634l20 18-35-29-20-22z"/>
<path class=ao d="M1277 652l20 5-34-12-21-22z"/>
<path class=ap d="M1297 657l21-1-35-10-20-1zm102 1l20 2-34-13-21 1zm81-11l20-6-34-11-21 7zm20-6l21 0-35-12-20 1zm387-118l20 11-35-26-20 15zm20 11l20-25-34-11-21 10z"/>
<path class=am d="M1318 656l20 4-35-16-20 2zm772-240l20-30-34-26-21 33z"/>
<path class=aan d="M1338 660l20 4-34-9-21-11zm183-19l20-7-35 7-20-12zm183-53l20-3-35 5-20 0z"/>
<path class=aW d="M1419 660l20 3-34-17-20 1zm41-4l20-9-35-10-20-1z"/>
<path class=aap d="M1439 663l21-7-35-20-20 10z"/>
<path class=aZ d="M1561 639l21-5-35-17-20 10z"/>
<path class=ae d="M1582 634l20-1-35-10-20-6zm162-41l21-17-35-14-20 14z"/>
<path class=aaa d="M1602 633l20-5-34-6-21 1zm224-64l20-13-35-5-20 2z"/>
<path class=aY d="M1663 611l20-7-34-2-21-10zm142-49l21 7-35-16-20 4z"/>
<path class=aV d="M1724 585l20 8-34-17-21 14zm41-9l20 2-35-6-20-10zm81-20l20-9-34-10-21 14zm81-47l21-10-35-4-20 3zm102-50l20-9-34-6-21 7z"/>
<path class=af d="M1968 494l20-15-34-9-21 23z"/>
<path class=aP d="M2009 459l20 0-35-8-20 12z"/>
<path class=aQ d="M2049 450l21-22-35-2-20 18z"/>
<path class=abg d="M2070 428l20-12-35-23-20 33z"/>
<path class=aah d="M2110 386l20-33-34-27-20 34z"/>
<path class=abc d="M2130 353l21-33-35-30-20 36z"/>
<path class=aca d="M2151 320l20-5-34-36-21 11z"/>
<path class=aai d="M2171 315l20 22-34-34-20-24z"/>
<path class=aj d="M2191 337l21 22-35-33-20-23z"/>
<path class=aag d="M2232 376l20-5-34-6-21-17z"/>
<path class=aam d="M2252 371l21 5-35-4-20-7z"/>
<path class=rl d="M830 854l20 7 20-25 21-8 20 1 20-30 21-1 20-6 20-12 21-15 20-11 20-5 21-20 20-20 20-17 21-19 20-13 20-33 21-34 20-4 20 23 21 22 20 18 20 5 21-1 20 4 20 4 20 2 21-8 20 2 20 3 21-7 20-9 20-6 21 0 20-7 20 5 21-5 20-1 20-5 21-18 20 1 20-7 21-16 20-3 20 8 21-17 20 2 20-16 21 7 20-13 20-9 21-24 20 11 20-25 21-10 20-5 20-15 21-20 20 0 20-9 21-22 20-12 20-30 20-33 21-33 20-5 20 22 21 22 20 17 20-5 21 5"/>
<path class=aa d="M864 845l21-8-35 24-20-7zm21-8l20 0-35-1-20 25z"/>
<path class=aM d="M905 837l20-6-34-3-21 8zm81-40l21 0-35-5-20 6z"/>
<path class=aN d="M925 831l21-12-35 10-20-1z"/>
<path class=aal d="M946 819l20-2-35-18-20 30z"/>
<path class=aab d="M966 817l20-20-34 1-21 1zm41-20l20-7-35-10-20 12zm589-162l20 10-34-11-21 5zm285-71l20-19-35 2-20 9z"/>
<path class=aP d="M1027 790l20-8-34-17-21 15zm20-8l21-15-35-13-20 11zm366-110l20-12-34-2-21 8zm650-202l21-19-35-1-20 9z"/>
<path class=ag d="M1068 767l20-22-35 4-20 5zm40-34l21-20-35-4-20 20z"/>
<path class=aaU d="M1088 745l20-12-34-4-21 20z"/>
<path class=aD d="M1129 713l20-15-35-6-20 17z"/>
<path class=aE d="M1149 698l20-14-34-11-21 19z"/>
<path class=aaO d="M1169 684l21-13-35-11-20 13z"/>
<path class=ar d="M1190 671l20-23-35-21-20 33z"/>
<path class=abo d="M1210 648l20-28-34-27-21 34z"/>
<path class=abX d="M1230 620l21 3-35-34-20 4z"/>
<path class=ap d="M1251 623l20 22-35-33-20-23zm142 55l20-6-35-6-20-2zm61-4l20-6-35-5-20-3zm40-8l21-5-35-14-20 9zm427-122l21-7-35-3-20-11zm41-27l20-2-34-16-21 10zm20-2l21-15-35-6-20 5zm21-15l20-3-35-18-20 15z"/>
<path class=aaT d="M1271 645l20 21-34-32-21-22zm975-266l21-3-35 0-20-17z"/>
<path class=ak d="M1291 666l21 2-35-16-20-18zm976-290l20 5-35-10-20 5z"/>
<path class=am d="M1312 668l20 5-35-16-20-5zm20 5l20-5-34-12-21 1zm772-225l20-19-34-13-20 12z"/>
<path class=aac d="M1352 668l20-10-34 2-20-4zm732-217l20-3-34-20-21 22z"/>
<path class=aan d="M1372 658l21 20-35-14-20-4zm61 2l21 14-35-14-20-2zm407-90l20 3-34-4-21-7z"/>
<path class=aV d="M1474 668l20-2-34-10-21 7zm102-19l20-14-35 4-20-5zm61-6l20-9-35-6-20 5zm223-70l21-9-35-8-20 13zm41-28l20-1-34-21-21 24z"/>
<path class=aq d="M1515 661l20 7-35-27-20 6zm609-232l21-18-35-25-20 30z"/>
<path class=ay d="M1535 668l20-13-34-14-21 0zm122-34l20 10-34-34-21 18zm20 10l21-21-35-12-20-1z"/>
<path class=aW d="M1555 655l21-6-35-15-20 7z"/>
<path class=aY d="M1616 645l21-2-35-10-20 1zm82-22l20-12-35-7-20 7zm81-22l20-9-34-16-21 17z"/>
<path class=aZ d="M1718 611l20 2-34-25-21 16z"/>
<path class=at d="M1738 613l21-6-35-22-20 3zm285-116l20-5-34-33-21 20z"/>
<path class=ae d="M1759 607l20-6-35-8-20-8zm40-15l21 0-35-14-20-2z"/>
<path class=aX d="M1820 592l20-22-35-8-20 16z"/>
<path class=af d="M1942 537l20-20-35-8-20 25z"/>
<path class=aC d="M2043 492l20-22-34-11-20 0z"/>
<path class=aah d="M2145 411l20-32-35-26-20 33zm142-30l20 6-34-11-21-5z"/>
<path class=abc d="M2165 379l20-33-34-26-21 33z"/>
<path class=abd d="M2185 346l21 1-35-32-20 5z"/>
<path class=al d="M2206 347l20 21-35-31-20-22z"/>
<path class=aj d="M2226 368l20 11-34-20-21-22z"/>
<path class=aa d="M899 943l20-19-34-87-21 8zm20-19l21-18-35-69-20 0zm21-18l20-13-35-62-20 6zm20-13l20-24-34-50-21 12zm20-24l21-1-35-51-20 2z"/>
<path class=abQ d="M1001 868l20-9-35-62-20 20z"/>
<path class=abR d="M1021 859l20-11-34-51-21 0z"/>
<path class=abh d="M1041 848l21-18-35-40-20 7z"/>
<path class=abq d="M1062 830l20-12-35-36-20 8z"/>
<path class=aaA d="M1082 818l20-14-34-37-21 15zm874-235l20-21-34-25-21 7z"/>
<path class=abS d="M1102 804l21-13-35-46-20 22z"/>
<path class=abT d="M1123 791l20-15-35-43-20 12z"/>
<path class=abU d="M1143 776l20-22-34-41-21 20zm20-22l21-20-35-36-20 15z"/>
<path class=abV d="M1184 734l20-26-35-24-20 14z"/>
<path class=aaq d="M1204 708l20-33-34-4-21 13z"/>
<path class=am d="M1224 675l21-34-35 7-20 23zm122 8l20 18-34-28-20-5z"/>
<path class=au d="M1245 641l20-33-35 12-20 28zm691-58l20 0-35-39-20 1z"/>
<path class=al d="M1265 608l20 10-34 5-21-3zm162 98l21-8-35-26-20 6zm61-2l21-8-35-28-20 6zm102-19l20-2-34-34-21 6zm305-84l20-5-34-32-21 9zm101-52l21 3-35-37-20 2zm41-11l20-21-34-20-20 3z"/>
<path class=ap d="M1285 618l20 22-34 5-20-22zm894-217l21-34-35 12-20 32z"/>
<path class=aaT d="M1305 640l21 21-35 5-20-21z"/>
<path class=an d="M1326 661l20 22-34-15-21-2z"/>
<path class=aai d="M1366 701l21 11-35-44-20 5z"/>
<path class=abW d="M1387 712l20-4-35-50-20 10z"/>
<path class=ar d="M1407 708l20-2-34-28-21-20zm833-368l21 23-35 5-20-21z"/>
<path class=aB d="M1448 698l20 6-35-44-20 12zm752-331l20-35-35 14-20 33z"/>
<path class=at d="M1468 704l20 0-34-30-21-14zm102-16l20-3-35-30-20 13zm406-126l20-13-34-32-20 20z"/>
<path class=as d="M1509 696l20-1-35-29-20 2zm20-1l20-8-34-26-21 5zm102-20l20 3-35-33-20-10zm122-30l20-8-35-24-20-2zm20-8l20 14-34-44-21 6zm41-2l20-19-35-24-20 9zm61-30l20-4-35-28-20-3z"/>
<path class=aap d="M1549 687l21 1-35-20-20-7z"/>
<path class=av d="M1610 683l21-8-35-40-20 14zm407-131l20-14-34-38-21 15z"/>
<path class=aaW d="M1651 678l20 0-34-35-21 2z"/>
<path class=az d="M1671 678l21-18-35-26-20 9z"/>
<path class=aZ d="M1692 660l20 2-35-18-20-10z"/>
<path class=ay d="M1712 662l20-8-34-31-21 21zm122-46l20 8-34-32-21 0z"/>
<path class=aw d="M1732 654l21-9-35-34-20 12zm183-58l21-13-35-38-20 19z"/>
<path class=aA d="M1793 651l21-16-35-34-20 6z"/>
<path class=abn d="M1854 624l21-19-35-35-20 22z"/>
<path class=aq d="M2057 517l21-7-35-18-20 5z"/>
<path class=aC d="M2078 510l20-8-35-32-20 22zm20-8l20-22-34-29-21 19z"/>
<path class=ak d="M2118 480l21-12-35-20-20 3z"/>
<path class=aj d="M2139 468l20-33-35-6-20 19zm20-33l20-34-34 10-21 18z"/>
<path class=aaZ d="M2220 332l20 8-34 7-21-1z"/>
<path class=aE d="M2261 363l20 22-35-6-20-11z"/>
<path class=aaf d="M2281 385l20 20-34-29-21 3zm41 25l20 13-35-36-20-6z"/>
<path class=aH d="M2301 405l21 5-35-29-20-5z"/>
<path class=rl d="M899 943l20-19 21-18 20-13 20-24 21-1 20-9 20-11 21-18 20-12 20-14 21-13 20-15 20-22 21-20 20-26 20-33 21-34 20-33 20 10 20 22 21 21 20 22 20 18 21 11 20-4 20-2 21-8 20 6 20 0 21-8 20-1 20-8 21 1 20-3 20-2 21-8 20 3 20 0 21-18 20 2 20-8 21-9 20-8 20 14 21-16 20-19 20 8 21-19 20-4 20-5 21-13 20 0 20-21 20-13 21 3 20-14 20-21 21-7 20-8 20-22 21-12 20-33 20-34 21-34 20-35 20 8 21 23 20 22 20 20 21 5 20 13"/>
<path class=aa d="M934 918l20-4-35 10-20 19z"/>
<path class=aaJ d="M954 914l20-3-34-5-21 18z"/>
<path class=aak d="M974 911l21-14-35-4-20 13z"/>
<path class=aM d="M995 897l20-14-35-14-20 24zm40-28l21 0-35-10-20 9zm21 0l20-18-35-3-20 11zm833-233l20-28-34-3-21 19z"/>
<path class=aab d="M1015 883l20-14-34-1-21 1zm61-32l20-4-34-17-21 18zm20-4l21-19-35-10-20 12zm41-26l20-19-34-11-21 13zm833-232l20-7-34 1-20 0zm20-7l21-8-35-12-20 21z"/>
<path class=aV d="M1117 828l20-7-35-17-20 14zm386-117l20 5-35-12-20 0zm101-17l21 2-35-11-20 3zm21 2l20-9-35-4-20 2zm20-9l20-2-34-10-21 8zm20-2l21-3-35-4-20-3zm82-14l20-12-35-5-20 8zm162-63l20 10-34-17-20 4zm142-51l21-7-35-12-20 14z"/>
<path class=aP d="M1157 802l21-10-35-16-20 15zm21-10l20-19-35-19-20 22zm934-273l21-14-35-3-20 8zm21-14l20-14-35-11-20 22z"/>
<path class=aac d="M1198 773l20-15-34-24-21 20zm20-15l20-24-34-26-20 26zm102-111l20 24-35-31-20-22zm853-163l21-23-35-26-20 33z"/>
<path class=aaq d="M1238 734l21-34-35-25-20 33z"/>
<path class=aai d="M1259 700l20-37-34-22-21 34z"/>
<path class=aaI d="M1279 663l20-35-34-20-20 33z"/>
<path class=abi d="M1299 628l21 19-35-29-20-10z"/>
<path class=ai d="M1340 671l20 22-34-32-21-21z"/>
<path class=an d="M1360 693l21 15-35-25-20-22z"/>
<path class=ap d="M1381 708l20-2-35-5-20-18zm81 6l20 0-34-16-21 8zm20 0l21-3-35-7-20-6zm61 0l21-12-35-7-20 1zm468-140l20-9-35-16-20 13zm20-9l20-8-34-5-21-3zm41-15l20-12-35-21-20 21zm20-12l20-19-34-9-21 7z"/>
<path class=aan d="M1401 706l20 6-34 0-21-11zm41 0l20 8-35-8-20 2zm366-59l20-4-35 8-20-14z"/>
<path class=af d="M1421 712l21-6-35 2-20 4z"/>
<path class=aW d="M1523 716l20-2-34-18-21 8zm41-14l20 10-35-25-20 8z"/>
<path class=aZ d="M1584 712l20-18-34-6-21-1zm264-70l21-3-35-23-20 19zm21-3l20-3-35-12-20-8zm60-21l21-10-35-12-20 5z"/>
<path class=aao d="M1686 682l20-11-35 7-20 0zm142-39l20-1-34-7-21 16z"/>
<path class=aX d="M1706 671l20 5-34-16-21 18zm244-63l20-19-34-6-21 13z"/>
<path class=ae d="M1726 676l21-5-35-9-20-2zm61-14l21-15-35-10-20 8z"/>
<path class=aaa d="M1767 659l20 3-34-17-21 9z"/>
<path class=am d="M2153 491l20-7-34-16-21 12zm41-30l20-34-35-26-20 34z"/>
<path class=aah d="M2214 427l20-40-34-20-21 34z"/>
<path class=aax d="M2234 387l21-42-35-13-20 35z"/>
<path class=aaC d="M2255 345l20 15-35-20-20-8z"/>
<path class=ar d="M2275 360l20 31-34-28-21-23z"/>
<path class=aQ d="M2295 391l21 25-35-31-20-22z"/>
<path class=aaf d="M2316 416l20 5-35-16-20-20z"/>
<path class=aag d="M2336 421l20 5-34-16-21-5z"/>
<path class=aam d="M2356 426l21 3-35-6-20-13z"/>
<path class=nk d="M2280 226L2257 430 2305 435zM2280 226L2305 435 2303 417z" fill="url(#ga11)"/><path class=nk d="M2280 226v30" style="stroke:#333;stroke-width:8;stroke-opacity:1"/>
<path class=aaF d="M968 909l21-12-35 17-20 4z"/>
<path class=aL d="M989 897l20 10-35 4-20 3z"/>
<path class=aaG d="M1009 907l20-17-34 7-21 14z"/>
<path class=aN d="M1029 890l21-7-35 0-20 14z"/>
<path class=aao d="M1050 883l20-1-35-13-20 14z"/>
<path class=aab d="M1070 882l20-7-34-6-21 0zm41-25l20-4-35-6-20 4zm792-215l20-7-34 1-20 3zm20-7l21-9-35-18-20 28z"/>
<path class=aM d="M1090 875l21-18-35-6-20 18z"/>
<path class=af d="M1131 853l20-11-34-14-21 19zm20-11l20-18-34-3-20 7zm20-18l21-9-35-13-20 19zm935-273l21-16-35 3-20 12z"/>
<path class=aQ d="M1192 815l20-21-34-2-21 10zm1138-392l20-3-34-4-21-25z"/>
<path class=ai d="M1212 794l20-28-34 7-20 19zm1138-374l21 13-35-12-20-5z"/>
<path class=ag d="M1232 766l21-5-35-3-20 15z"/>
<path class=aaU d="M1253 761l20-27-35 0-20 24z"/>
<path class=aaq d="M1273 734l20-14-34-20-21 34z"/>
<path class=ak d="M1293 720l21-41-35-16-20 37z"/>
<path class=abc d="M1314 679l20-39-35-12-20 35z"/>
<path class=abO d="M1334 640l20 31-34-24-21-19z"/>
<path class=aP d="M1354 671l21 31-35-31-20-24zm732-103l20-17-34-1-21 7z"/>
<path class=ah d="M1375 702l20 5-35-14-20-22z"/>
<path class=abu d="M1395 707l20 16-34-15-21-15z"/>
<path class=am d="M1415 723l21-6-35-11-20 2zm41 0l20-1-34-16-21 6zm61 5l20-3-34-14-21 3zm630-194l20-13-34-16-21 14zm20-13l21-12-35-18-20 14zm61-34l21-34-35-26-20 34z"/>
<path class=aac d="M1436 717l20 6-35-11-20-6zm40 5l21 6-35-14-20-8zm712-213l20-19-35-6-20 7z"/>
<path class=ap d="M1497 728l20 0-35-14-20 0zm40-3l21 1-35-10-20-5zm41-5l20 3-34-21-21 12zm20 3l21-8-35-3-20-10zm41-12l20-12-34-3-21-2zm41-15l20 2-35-13-20 2zm61-7l20-6-35-7-20-5zm264-84l20-12-35-11-20 7zm20-12l20-7-34-12-21 8z"/>
<path class=aV d="M1558 726l20-6-35-6-20 2zm61-11l20-4-35-17-20 18zm40-16l21-3-35-9-20 9zm204-51l20 4-35-10-20 1zm20 4l20-10-34-3-21 3zm61-26l20-9-35 1-20-10zm20-9l20 6-34-15-21 10zm20 6l21-18-35-16-20 19zm61-37l21-16-35-5-20 9zm21-16l20-2-35-11-20 8zm61-35l20-1-35-15-20 19z"/>
<path class=aW d="M1700 698l20 1-34-17-21 3z"/>
<path class=aZ d="M1720 699l21-10-35-18-20 11zm61-16l21-2-35-22-20 12zm21-2l20-1-35-18-20-3z"/>
<path class=aY d="M1761 683l20 0-34-12-21 5zm81-19l21-16-35-5-20 4z"/>
<path class=ae d="M1822 680l20-16-34-17-21 15z"/>
<path class=aC d="M2208 490l20-3-34-26-21 23zm102-99l20 32-35-32-20-31z"/>
<path class=aaY d="M2249 453l20-41-35-25-20 40zm142-12l20-3-34-9-21-3z"/>
<path class=abP d="M2269 412l20-43-34-24-21 42z"/>
<path class=aaC d="M2289 369l21 22-35-31-20-15z"/>
<path class=aah d="M2371 433l20 8-35-15-20-5z"/>
<path class=rl d="M968 909l21-12 20 10 20-17 21-7 20-1 20-7 21-18 20-4 20-11 20-18 21-9 20-21 20-28 21-5 20-27 20-14 21-41 20-39 20 31 21 31 20 5 20 16 21-6 20 6 20-1 21 6 20 0 20-3 21 1 20-6 20 3 21-8 20-4 20-12 21-3 20 2 20 1 21-10 20-6 20 0 21-2 20-1 20-16 21-16 20 4 20-10 20-7 21-9 20-9 20 6 21-18 20-12 20-7 21-16 20-2 20-17 21-16 20-1 20-13 21-12 20-19 20-3 21-34 20-41 20-43 21 22 20 32 20-3 21 13 20 8 20-3"/>
<path class=nk d="M1341 533L1295 726 1390 736zM1341 533L1390 736 1387 699z" fill="url(#ga01)"/><path class=nk d="M1341 533v30" style="stroke:#333;stroke-width:8;stroke-opacity:1"/>
<path class=aa d="M1003 1016l20-28-34-91-21 12zm20-28l21-7-35-74-20-10zm21-7l20-31-35-60-20 17zm20-31l20-8-34-59-21 7zm20-8l20-4-34-56-20 1z"/>
<path class=abJ d="M1104 938l21-7-35-56-20 7z"/>
<path class=abK d="M1125 931l20-24-34-50-21 18z"/>
<path class=aaR d="M1145 907l20-16-34-38-20 4z"/>
<path class=aA d="M1165 891l21-6-35-43-20 11zm712-195l20-4-34-44-21 16z"/>
<path class=abL d="M1186 885l20-29-35-32-20 18z"/>
<path class=at d="M1206 856l20-8-34-33-21 9zm366-106l20 1-34-25-21-1zm20 1l21-5-35-26-20 6zm61-12l21-4-35-24-20 4zm346-90l20-8-35-18-20-6zm81-40l20-8-34-31-21 16z"/>
<path class=abE d="M1226 848l21-13-35-41-20 21zm21-13l20-20-35-49-20 28z"/>
<path class=abM d="M1267 815l20-34-34-20-21 5zm915-246l20-25-35-23-20 13z"/>
<path class=aQ d="M1287 781l21-33-35-14-20 27zm976-305l20-33-34 10-21 34z"/>
<path class=abg d="M1308 748l20-35-35 7-20 14z"/>
<path class=am d="M1328 713l20-41-34 7-21 41zm793-115l20-26-35-21-20 17zm101-62l21-27-35-19-20 19z"/>
<path class=aR d="M1348 672l21-31-35-1-20 39z"/>
<path class=ar d="M1369 641l20 29-35 1-20-31zm142 112l20 2-34-27-21-6zm20 2l21 5-35-32-20 0z"/>
<path class=aP d="M1389 670l20 28-34 4-21-31z"/>
<path class=ah d="M1409 698l21 23-35-14-20-5z"/>
<path class=ao d="M1430 721l20 21-35-19-20-16z"/>
<path class=ak d="M1450 742l20 9-34-34-21 6zm20 9l21 7-35-35-20-6zm732-207l20-8-34-27-21 12z"/>
<path class=abx d="M1491 758l20-5-35-31-20 1z"/>
<path class=al d="M1552 760l20-10-35-25-20 3zm548-159l21-3-35-30-20 2zm41-29l20 8-34-45-21 16z"/>
<path class=ay d="M1613 746l20 8-35-31-20-3zm243-56l21 6-35-32-20 16z"/>
<path class=as d="M1633 754l20-15-34-24-21 8zm102-24l20-4-35-27-20-1zm20-4l20-9-34-28-21 10zm20-9l21 3-35-37-20 6zm41 0l20-10-34-26-21 2zm122-45l20-12-35-25-20 7zm20-12l20 2-34-36-21 9zm81-29l21-8-35-30-20 12zm21-8l20-14-35-23-20 7z"/>
<path class=au d="M1674 735l20 5-35-41-20 12zm40 0l21-5-35-32-20-2zm82-15l20-3-35-34-20 0z"/>
<path class=av d="M1694 740l20-5-34-39-21 3z"/>
<path class=aZ d="M1836 707l20-17-34-10-20 1z"/>
<path class=aw d="M1897 692l20-7-34-33-20-4zm20-7l21-13-35-30-20 10zm61-23l21-13-35-32-20 9z"/>
<path class=aap d="M2019 641l20-10-34-26-21 18z"/>
<path class=abN d="M2161 580l21-11-35-35-20 1z"/>
<path class=aj d="M2243 509l20-33-35 11-20 3z"/>
<path class=aC d="M2283 443l21-35-35 4-20 41z"/>
<path class=aaL d="M2304 408l20-33-35-6-20 43z"/>
<path class=aaC d="M2324 375l20 22-34-6-21-22z"/>
<path class=aq d="M2344 397l21 24-35 2-20-32z"/>
<path class=aD d="M2365 421l20 22-35-23-20 3z"/>
<path class=aag d="M2385 443l20 15-34-25-21-13z"/>
<path class=aaf d="M2405 458l21 8-35-25-20-8z"/>
<path class=aaD d="M2426 466l20 2-35-30-20 3z"/>
<path class=aa d="M1038 987l20 2-35-1-20 28z"/>
<path class=abz d="M1058 989l20-25-34 17-21 7z"/>
<path class=aaJ d="M1078 964l20 3-34-17-20 31z"/>
<path class=aao d="M1098 967l21-22-35-3-20 8z"/>
<path class=aak d="M1119 945l20-9-35 2-20 4zm40-18l21-8-35-12-20 24z"/>
<path class=aN d="M1139 936l20-9-34 4-21 7z"/>
<path class=aX d="M1180 919l20-12-35-16-20 16zm630-195l20-1-34-3-21-3zm20-1l20 4-34-10-20 3zm81-26l21 2-35-7-20 4z"/>
<path class=aab d="M1200 907l20-18-34-4-21 6z"/>
<path class=aM d="M1220 889l21-10-35-23-20 29z"/>
<path class=ap d="M1241 879l20-10-35-21-20 8zm264-113l20 7-34-15-21-7zm41 3l20-8-35-6-20-2zm81-13l20 15-34-25-21 5zm345-72l21-10-35-14-20 12zm21-10l20-3-35-9-20-2zm40-13l21-8-35-12-20 8zm61-31l21-6-35-15-20 14zm41-12l20-15-34-5-21 3zm20-15l21-3-35-28-20 26zm21-3l20-22-35 2-20-8z"/>
<path class=aV d="M1261 869l20-18-34-16-21 13zm325-100l21-9-35-10-20 10zm21-9l20-4-35-5-20-1zm122-13l20-5-35-7-20 5zm60-14l21-9-35-7-20 9zm285-93l20-10-34-7-21 8z"/>
<path class=ag d="M1281 851l21-32-35-4-20 20zm21-32l20-19-35-19-20 34zm1097-365l21 13-35-24-20-22z"/>
<path class=aj d="M1322 800l20-26-34-26-21 33z"/>
<path class=am d="M1342 774l21-33-35-28-20 35zm1037-342l20 22-34-33-21-24z"/>
<path class=aaC d="M1363 741l20-35-35-34-20 41z"/>
<path class=aas d="M1383 706l20-20-34-45-21 31z"/>
<path class=ar d="M1403 686l21 23-35-39-20-29z"/>
<path class=aQ d="M1424 709l20 22-35-33-20-28zm833-149l20-39-34-12-21 27z"/>
<path class=aam d="M1444 731l20 22-34-32-21-23z"/>
<path class=aU d="M1464 753l21 18-35-29-20-21z"/>
<path class=aC d="M1485 771l20-5-35-15-20-9zm752-212l20 1-35-24-20 8zm61-56l20-34-35-26-20 33z"/>
<path class=aq d="M1525 773l21-4-35-16-20 5zm590-149l20-6-35-17-20 8z"/>
<path class=aan d="M1566 761l20 8-34-9-21-5z"/>
<path class=aap d="M1647 771l21-4-35-13-20-8zm41-17l20 3-34-22-21 4z"/>
<path class=aY d="M1668 767l20-13-35-15-20 15zm81-25l20 3-34-15-21 5zm20 3l20-12-34-7-20 4zm183-50l20-11-34-12-21 13zm61-24l20-10-34-12-21 13zm41-18l20-13-35-9-20 10z"/>
<path class=aZ d="M1708 757l21-10-35-7-20-5zm163-39l20-4-35-24-20 17z"/>
<path class=aaa d="M1850 727l21-9-35-11-20 10zm82-28l20-4-35-10-20 7z"/>
<path class=ae d="M1891 714l20-17-34-1-21-6z"/>
<path class=af d="M2196 578l20-8-34-1-21 11z"/>
<path class=aP d="M2216 570l21-11-35-15-20 25z"/>
<path class=aaK d="M2277 521l21-18-35-27-20 33z"/>
<path class=aR d="M2318 469l20-33-34-28-21 35z"/>
<path class=aS d="M2338 436l21-26-35-35-20 33z"/>
<path class=aG d="M2359 410l20 22-35-35-20-22z"/>
<path class=aag d="M2420 467l20 5-35-14-20-15z"/>
<path class=aah d="M2440 472l20 6-34-12-21-8zm20 6l20 2-34-12-20-2z"/>
<path class=rl d="M1038 987l20 2 20-25 20 3 21-22 20-9 20-9 21-8 20-12 20-18 21-10 20-10 20-18 21-32 20-19 20-26 21-33 20-35 20-20 21 23 20 22 20 22 21 18 20-5 20 7 21-4 20-8 20 8 21-9 20-4 20 15 21-4 20-13 20 3 21-10 20-5 20 3 20-12 21-9 20-1 20 4 21-9 20-4 20-17 21 2 20-4 20-11 21-10 20-3 20-10 21-8 20-13 20-10 21-6 20-6 20-15 21-3 20-22 20-8 21-11 20 1 20-39 21-18 20-34 20-33 21-26 20 22 20 22 21 13 20 5 20 6 20 2"/>
<path class=aa d="M1072 972l20-4-34 21-20-2zm20-4l21-3-35-1-20 25zm41-16l20-12-34 5-21 22z"/>
<path class=aaG d="M1113 965l20-13-35 15-20-3z"/>
<path class=aM d="M1153 940l21 6-35-10-20 9zm82-25l20-16-35-10-20 18z"/>
<path class=aX d="M1174 946l20-2-35-17-20 9zm20-2l20-15-34-10-21 8z"/>
<path class=aao d="M1214 929l21-14-35-8-20 12z"/>
<path class=af d="M1255 899l20-15-34-5-21 10z"/>
<path class=aaT d="M1275 884l21-22-35 7-20 10zm21-22l20-9-35-2-20 18zm20-9l20-20-34-14-21 32z"/>
<path class=aQ d="M1336 833l21-21-35-12-20 19zm122-91l21 22-35-33-20-22z"/>
<path class=aaq d="M1357 812l20-17-35-21-20 26z"/>
<path class=aC d="M1377 795l20-28-34-26-21 33zm935-248l20-23-34-21-21 18z"/>
<path class=aaC d="M1397 767l21-38-35-23-20 35z"/>
<path class=abb d="M1418 729l20-8-35-35-20 20z"/>
<path class=aq d="M1438 721l20 21-34-33-21-23zm163 67l20-8-35-11-20-8zm508-133l20-6-35-19-20 10zm20-6l20-12-34-13-21 6z"/>
<path class=ak d="M1479 764l20 4-35-15-20-22zm853-240l21-28-35-27-20 34z"/>
<path class=aU d="M1499 768l20 10-34-7-21-18z"/>
<path class=am d="M1519 778l21 4-35-16-20 5z"/>
<path class=aV d="M1540 782l20-16-35 7-20-7zm264-32l20-7-35-10-20 12zm81-16l20-9-34-7-21 9zm81-24l21-14-35-1-20 4zm21-14l20-2-35-10-20 11zm61-12l20-17-35-6-20 10zm122-53l20-19-35-9-20 15z"/>
<path class=aan d="M1560 766l20 6-34-3-21 4zm102 5l20 8-35-8-20-15zm60-13l21 12-35-13-20-3z"/>
<path class=ap d="M1580 772l21 16-35-27-20 8zm41 8l20-8-34-12-21 9zm20-8l21-1-35-15-20 4zm366-78l20-7-34-13-21 10zm20-7l21-3-35-13-20 3zm41-20l20 5-34-19-21 8zm20 5l21-17-35-15-20 13zm61-35l21-6-35-13-20 6zm82-39l20-18-35-10-20 8zm183-134l20 15-35-25-20-22z"/>
<path class=aab d="M1682 779l20-18-34 6-21 4zm20-18l20-3-34-4-20 13z"/>
<path class=aap d="M1743 770l20 0-34-23-21 10zm101-27l21-1-35-19-20 1z"/>
<path class=ay d="M1763 770l20-6-34-22-20 5zm163-42l20-3-35-28-20 17zm20-3l20-15-34-11-21-2z"/>
<path class=aZ d="M1783 764l21-14-35-5-20-3z"/>
<path class=aW d="M1824 743l20 0-34-19-21 9z"/>
<path class=ae d="M1865 742l20-8-35-7-20-4z"/>
<path class=aY d="M1905 725l21 3-35-14-20 4z"/>
<path class=aac d="M2190 612l20-6-34-6-21 3zm20-6l21-8-35-20-20 22zm41-26l20-9-34-12-21 11zm20-9l21-11-35 0-20-1z"/>
<path class=aj d="M2292 560l20-13-35-26-20 39z"/>
<path class=aR d="M2353 496l20-34-35-26-20 33z"/>
<path class=abI d="M2373 462l20-20-34-32-21 26z"/>
<path class=aB d="M2393 442l21 22-35-32-20-22z"/>
<path class=aH d="M2434 479l20-7-34-5-21-13z"/>
<path class=ah d="M2454 472l20 24-34-24-20-5z"/>
<path class=aar d="M2474 496l21-9-35-9-20-6z"/>
<path class=aah d="M2495 487l20 6-35-13-20-2z"/>
<path class=aa d="M1107 1089l20-33-35-88-20 4zm20-33l20-17-34-74-21 3zm20-17l21-24-35-63-20 13zm21-24l20-7-35-68-20 12zm20-7l20-11-34-51-21-6z"/>
<path class=aaR d="M1208 997l21-17-35-36-20 2zm61-41l21-13-35-44-20 16z"/>
<path class=ad d="M1229 980l20-13-35-38-20 15z"/>
<path class=aau d="M1249 967l20-11-34-41-21 14z"/>
<path class=abC d="M1290 943l20-11-35-48-20 15z"/>
<path class=abD d="M1310 932l20-25-34-45-21 22z"/>
<path class=abE d="M1330 907l21-26-35-28-20 9z"/>
<path class=aP d="M1351 881l20-26-35-22-20 20z"/>
<path class=aQ d="M1371 855l20-33-34-10-21 21zm976-304l20-33-35 6-20 23z"/>
<path class=aD d="M1391 822l21-34-35 7-20 17z"/>
<path class=aE d="M1412 788l20-33-35 12-20 28z"/>
<path class=ar d="M1432 755l20-33-34 7-21 38zm183 61l20-2-34-26-21-16zm671-203l20-21-35-21-20 9zm20-21l20-8-34-24-21 11z"/>
<path class=abF d="M1452 722l21-7-35 6-20 8z"/>
<path class=aq d="M1473 715l20 22-35 5-20-21z"/>
<path class=ag d="M1493 737l20 22-34 5-21-22z"/>
<path class=aT d="M1513 759l21 21-35-12-20-4z"/>
<path class=ao d="M1534 780l20 22-35-24-20-10z"/>
<path class=aC d="M1554 802l20 11-34-31-21-4z"/>
<path class=abG d="M1574 813l21-6-35-41-20 16z"/>
<path class=aai d="M1595 807l20 9-35-44-20-6z"/>
<path class=al d="M1635 814l20 0-34-34-20 8zm20 0l21-15-35-27-20 8zm509-137l20-9-35-31-20 12zm61-19l20-29-35-23-20 6zm40-31l21-14-35-33-20 18z"/>
<path class=at d="M1676 799l20 8-34-36-21 1zm467-122l21 0-35-28-20 6zm102-48l20-2-34-29-21 8z"/>
<path class=as d="M1696 807l20-4-34-24-20-8zm102-8l20-4-35-31-20 6zm40-25l21 9-35-40-20 7zm204-54l20 1-35-34-20 7zm142-52l20-11-34-26-21 6z"/>
<path class=abq d="M1716 803l21 9-35-51-20 18zm488-146l21 1-35-46-20 19z"/>
<path class=aaB d="M1737 812l20-20-35-34-20 3z"/>
<path class=ay d="M1757 792l20 0-34-22-21-12zm20 0l21 7-35-29-20 0zm41 3l20-21-34-24-21 14zm61-31l20 7-34-29-21 1zm61-12l20-3-34-21-21-3zm20-3l21-7-35-17-20 3zm21-7l20-1-35-31-20 15zm122-45l20-1-35-24-20-5z"/>
<path class=aaA d="M1859 783l20-19-35-21-20 0z"/>
<path class=au d="M1899 771l21 5-35-42-20 8zm122-38l21-13-35-26-20 2zm41-12l20-1-34-36-21 3z"/>
<path class=az d="M1920 776l20-24-35-27-20 9z"/>
<path class=aw d="M2001 741l20-8-34-37-21 14z"/>
<path class=abn d="M2082 720l21-23-35-30-20 17z"/>
<path class=aZ d="M2123 696l20-19-34-22-21 17z"/>
<path class=aj d="M2326 584l21-33-35-4-20 13zm41-66l20-34-34 12-21 28z"/>
<path class=ak d="M2387 484l20-34-34 12-20 34z"/>
<path class=abH d="M2407 450l21-14-35 6-20 20z"/>
<path class=aB d="M2428 436l20 22-34 6-21-22z"/>
<path class=aac d="M2448 458l20 22-34-1-20-15z"/>
<path class=aaf d="M2468 480l21 22-35-30-20 7z"/>
<path class=ah d="M2489 502l20 8-35-14-20-24z"/>
<path class=abr d="M2509 510l20 21-34-44-21 9z"/>
<path class=aK d="M2529 531l21-10-35-28-20-6z"/>
<path class=rl d="M1107 1089l20-33 20-17 21-24 20-7 20-11 21-17 20-13 20-11 21-13 20-11 20-25 21-26 20-26 20-33 21-34 20-33 20-33 21-7 20 22 20 22 21 21 20 22 20 11 21-6 20 9 20-2 20 0 21-15 20 8 20-4 21 9 20-20 20 0 21 7 20-4 20-21 21 9 20-19 20 7 21 5 20-24 20-3 21-7 20-1 20-8 21-13 20 1 20-1 21-23 20-1 20-19 21 0 20-9 20-11 21 1 20-29 20-2 21-14 20-21 20-8 21-33 20-33 20-34 20-34 21-14 20 22 20 22 21 22 20 8 20 21 21-10"/>
<path class=aa d="M1141 1056l21-6-35 6-20 33z"/>
<path class=abz d="M1162 1050l20-16-35 5-20 17z"/>
<path class=aak d="M1182 1034l20-7-34-12-21 24z"/>
<path class=abA d="M1202 1027l21-15-35-4-20 7zm21-15l20-1-35-14-20 11z"/>
<path class=abB d="M1243 1011l20-11-34-20-21 17zm20-11l21-19-35-14-20 13z"/>
<path class=aao d="M1284 981l20-18-35-7-20 11zm670-205l21-13-35-11-20 24z"/>
<path class=aN d="M1304 963l20-20-34 0-21 13z"/>
<path class=aM d="M1324 943l21-8-35-3-20 11zm21-8l20-15-35-13-20 25zm487-134l21-13-35 7-20 4zm427-140l21-22-35-10-20 29z"/>
<path class=aal d="M1365 920l20-27-34-12-21 26z"/>
<path class=aP d="M1385 893l21-15-35-23-20 26zm264-74l21 1-35-6-20 2zm671-196l20-18-34-13-20 21zm41-23l20-25-34-24-21 33z"/>
<path class=aQ d="M1406 878l20-31-35-25-20 33z"/>
<path class=abg d="M1426 847l20-33-34-26-21 34z"/>
<path class=aC d="M1446 814l21-35-35-24-20 33z"/>
<path class=aR d="M1467 779l20-36-35-21-20 33zm955-273l20-40-35-16-20 34z"/>
<path class=aad d="M1487 743l20 1-34-29-21 7z"/>
<path class=am d="M1507 744l21 24-35-31-20-22zm61 68l21 8-35-18-20-22zm772-207l21-5-35-16-20 8z"/>
<path class=ag d="M1528 768l20 23-35-32-20-22z"/>
<path class=an d="M1548 791l20 21-34-32-21-21z"/>
<path class=aac d="M1589 820l20 3-35-10-20-11zm711-178l20-19-34-10-21 14z"/>
<path class=ap d="M1609 823l20-4-34-12-21 6zm162-13l21 6-35-24-20 20zm366-97l21-10-35-7-20 1zm21-10l20-6-35-20-20 19zm20-6l20-14-34-6-21 0zm102-58l20 3-35-15-20 2z"/>
<path class=aan d="M1629 819l20 0-34-3-20-9z"/>
<path class=aV d="M1670 820l20-1-35-5-20 0zm81-1l20-9-34 2-21-9zm61-11l20-7-34-2-21-7zm81-16l21-13-35-15-20 19zm204-57l20-13-35-2-20 1zm20-13l20-9-34-16-21 23zm81-39l21-11-35-4-20 9zm21-11l20-7-35-8-20 11zm20-7l20-4-34-3-21-1z"/>
<path class=aq d="M1690 819l20 9-34-29-21 15z"/>
<path class=ay d="M1710 828l21-3-35-18-20-8zm82-12l20-8-35-16-20 0z"/>
<path class=aap d="M1731 825l20-6-35-16-20 4z"/>
<path class=aX d="M1853 788l20 4-35-18-20 21zm183-39l20-11-35-5-20 8z"/>
<path class=aY d="M1873 792l20 0-34-9-21-9zm41-13l20-1-35-7-20-7z"/>
<path class=aab d="M1934 778l20-2-34 0-21-5z"/>
<path class=aZ d="M1975 763l20 4-35-18-20 3zm20 4l20-12-34-13-21 7zm61-29l20 3-34-21-21 13zm20 3l21-6-35-14-20-1z"/>
<path class=aaa d="M2015 755l21-6-35-8-20 1z"/>
<path class=aaK d="M2381 575l20-32-34-25-20 33z"/>
<path class=ak d="M2401 543l21-37-35-22-20 34zm163-13l20 4-34-13-21 10z"/>
<path class=aaP d="M2442 466l20-9-34-21-21 14z"/>
<path class=aaY d="M2462 457l21 29-35-28-20-22z"/>
<path class=aaq d="M2483 486l20 25-35-31-20-22z"/>
<path class=aaU d="M2503 511l20 11-34-20-21-22z"/>
<path class=aag d="M2523 522l21 5-35-17-20-8z"/>
<path class=aam d="M2544 527l20 3-35 1-20-21z"/>
<path class=nk d="M2479 337L2456 541 2504 546zM2479 337L2504 546 2502 528z" fill="url(#ga12)"/><path class=nk d="M2479 337v30" style="stroke:#333;stroke-width:8;stroke-opacity:1"/>
<path class=aaj d="M1172 1043l20-11-30 18-21 6z"/>
<path class=aaG d="M1192 1032l21 5-31-3-20 16z"/>
<path class=aM d="M1213 1037l20-6-31-4-20 7zm162-93l21-21-31-3-20 15z"/>
<path class=aak d="M1233 1031l20-16-30-3-21 15zm61-41l20 4-30-13-21 19z"/>
<path class=aaJ d="M1253 1015l21-14-31 10-20 1z"/>
<path class=aaE d="M1274 1001l20-11-31 10-20 11z"/>
<path class=aab d="M1314 994l21-16-31-15-20 18zm21-16l20-20-31-15-20 20zm406-153l21 3-31-3-21 3zm21 3l20-13-31 4-20 6zm60-18l21 6-31-8-20 8zm285-65l20-12-30 2-21 6z"/>
<path class=aV d="M1355 958l20-14-30-9-21 8zm427-143l20 11-31-16-20 9zm20 11l20-16-30 6-21-6zm41-10l20-9-31-6-20 7zm61-15l20-10-31 1-20 0zm20-10l20 2-30-14-21 13zm102-7l20-23-31-6-20 12zm20-23l20-8-30-4-21 6zm81-28l21 2-31-13-20 13zm61-19l21-13-31-4-20 6zm82-39l20-15-31 1-20 4z"/>
<path class=ag d="M1396 923l20-18-31-12-20 27zm20-18l20-28-30 1-21 15z"/>
<path class=aQ d="M1436 877l21-13-31-17-20 31zm895-234l20-19-31-1-20 19z"/>
<path class=aaq d="M1457 864l20-28-31-22-20 33z"/>
<path class=aC d="M1477 836l20-40-30-17-21 35z"/>
<path class=aaC d="M1497 796l21-43-31-10-20 36z"/>
<path class=abi d="M1518 753l20 9-31-18-20-1z"/>
<path class=ap d="M1538 762l20 32-30-26-21-24zm142 68l21-3-31-7-21-1zm21-3l20 2-31-10-20 1zm447-92l20-12-31-10-20 9zm20-12l20-9-30-11-21 10zm61-34l20-4-30-13-21 11zm20-4l21-10-31-10-20 7z"/>
<path class=aaT d="M1558 794l21 25-31-28-20-23z"/>
<path class=an d="M1579 819l20 15-31-22-20-21z"/>
<path class=am d="M1599 834l20-11-30-3-21-8zm752-210l20 2-31-21-20 18zm20 2l21-22-31-4-21 5zm41-33l20-27-31-23-20 32z"/>
<path class=aan d="M1619 823l21 5-31-5-20-3zm102 6l20-4-31 3-20-9z"/>
<path class=aac d="M1640 828l20-4-31-5-20 4zm20-4l20 6-31-11-20 0zm650-173l21-8-31-1-20-3zm82-47l20-11-31-18-20 25z"/>
<path class=aW d="M1863 807l20 0-30-19-21 13z"/>
<path class=aZ d="M1883 807l21-6-31-9-20-4zm61-14l21 1-31-16-20 1zm122-40l21 8-31-23-20 11zm21 8l20-16-31-4-20-3z"/>
<path class=ae d="M1965 794l20-12-31-6-20 2z"/>
<path class=aY d="M1985 782l20-7-30-12-21 13z"/>
<path class=aaa d="M2005 775l21 9-31-17-20-4z"/>
<path class=aP d="M2209 701l20-12-31-6-20 14zm81-41l20-9-30-12-21 22z"/>
<path class=ak d="M2432 566l21-40-31-20-21 37z"/>
<path class=aR d="M2453 526l20-45-31-15-20 40z"/>
<path class=aby d="M2473 481l20-3-31-21-20 9z"/>
<path class=aai d="M2493 478l21 34-31-26-21-29z"/>
<path class=aj d="M2514 512l20 15-31-16-20-25z"/>
<path class=aar d="M2534 527l20-1-31-4-20-11z"/>
<path class=aam d="M2554 526l20 6-30-5-21-5zm20 6l21 18-31-20-20-3z"/>
<path class=aag d="M2595 550l20-8-31-8-20-4z"/>
<path class=rl d="M1172 1043l20-11 21 5 20-6 20-16 21-14 20-11 20 4 21-16 20-20 20-14 21-21 20-18 20-28 21-13 20-28 20-40 21-43 20 9 20 32 21 25 20 15 20-11 21 5 20-4 20 6 21-3 20 2 20-4 21 3 20-13 20 11 20-16 21 6 20-9 20 0 21-6 20-10 20 2 21 1 20-12 20-7 21 9 20-23 20-8 21 8 20-16 20-12 21 2 20-12 20-9 21-13 20-12 20-4 21-10 20-15 20-9 21-8 20-19 20 2 21-22 20-11 20-27 21-40 20-45 20-3 21 34 20 15 20-1 20 6 21 18 20-8"/>
<path class=nk d="M1540 640L1494 832 1588 843zM1540 640L1588 843 1586 806z" fill="url(#ga02)"/><path class=nk d="M1540 640v30" style="stroke:#333;stroke-width:8;stroke-opacity:1"/>
<path class=cu2 d="M1176 1799l20-90-4-677-20 11zm81 82l21-157-4-723-21 14zm21-157l20 81-4-815-20 11zm20 81l20-32-4-779-20-4zm102 33l20-152-4-781-20 18zm40-196l21 41-4-819-21 13zm142 94l21-90-4-812-20-15zm122-57l21 66-4-916-20-2zm61-8l21-27-4-829-20 13zm122 8l21 15-4-893-21 6zm21 15l20-6-4-897-20 10zm20-6l20-21-4-874-20-2zm20-21l21-74-4-799-21-1zm41 3l20-53-4-842-20 7zm20-53l21-103-4-730-21-9zm82-59l20 77-4-890-20 16zm40-96l21 100-4-827-21-2zm61 0l21-103-4-658-21 13zm41 138l20-57-4-858-20 4zm61-224l20 201-4-926-20 9zm40 9l21 180-4-941-20 19zm21 180l20-217-4-722-20-2zm40-91l21-182-4-699-20 11zm21-182l20 250-4-976-20 27zm40 80l21-65-4-826-20 45zm21-65l20 183-4-1012-20 3zm40 59l21-108-4-731-20-15zm21-108l20 171-4-903-20 1z"/>
<path class=cu1 d="M1196 1709l21 183-4-855-21-5zm41 40l20 132-4-866-20 16zm81 24l21-72-4-723-21 16zm21-72l20 37-4-780-20 20zm40 114l21 23-4-915-21 21zm41-129l20-44-4-765-20 28zm41-3l20 9-4-856-20 28zm20 9l20 101-4-997-20 40zm81 101l20-57-3-917-21-25zm41-147l20-6-4-817-20 11zm61-124l20-18-4-674-20-6zm61 223l20-143-4-777-20 4zm20-143l20 69-3-843-21-3zm41 42l20-41-4-777-20-11zm20-41l20-64-4-729-20 16zm41-95l20 197-4-898-20 9zm20 197l20-26-4-872-20 0zm102-112l20 77-4-888-20 12zm101-198l21 163-4-797-21-8zm102-21l20 88-4-748-20 9zm41-15l20 241-4-911-20 12zm40 184l20 43-3-911-21 10zm61 34l20-192-3-742-21 8zm122-35l20-170-3-846-21 40zm61-52l20-124-3-854-21-34zm81-1l21-161-4-778-21-18zm21-161l20 155-4-941-20 8z"/>
<path class=cu0 d="M1217 1892l20-143-4-718-20 6zm142-154l20 77-4-871-20 14zm142 55l21-216-4-824-21 43zm21-216l20 2-4-817-20-9zm20 2l20 214-4-999-20-32zm81 61l20-69-3-743-21-5zm20-69l21-49-4-698-20 4zm41-67l20 175-3-852-21 3zm142 35l21-31-4-692-21-6zm204-25l20 107-4-860-20 23zm20 107l20-226-4-642-20 8zm61 14l20-173-4-729-20 12zm41-73l20-188-4-651-20 12zm121 24l21-210-4-716-20 15zm102-238l20 126-3-870-21 22zm183 81l20 60-4-957-20-6z"/>
<path class=cu1 d="M1180 980l10 5-4 761-10-11zm41 15l10 3-4 660-10 173zm10 3l10 3-4 593-10 64zm20-4l10-7-4 635-10 131zm41-15l10 2-4 661-10-84zm20-5l10-8-4 831-10-163zm10-8l10-3-4 729-10 105zm31-13l10-8-4 634-10 36zm40-25l10-5-3 668-11-50zm10-5l11-11-4 690-10-11zm21-22l10-7-4 666-10 117zm20-14l10-17-4 670-10 99zm51-72l10-14-4 826-10-84zm10-14l10-23-4 790-10 59zm31-39l10 5-4 853-10 3z"/>
<path class=cu2 d="M1190 985l10 6-4 873-10-118zm10 6l10 2-4 631-10 240zm10 2l11 2-4 836-11-207zm31 8l10-7-4 759-10-159zm40-24l11 2-4 579-10 317zm21 4l10-7-4 660-10 8zm30-18l10-3-3 639-11 93zm31-18l10-6-4 725-10-85zm10-6l10-7-4 709-10 23zm41-27l10-11-4 776-10-75zm71-82l10-15-4 728-10 98zm30-52l10-22-3 773-11 39z"/>
<path class=cu0 d="M1261 987l10-5-4 640-10 0zm10-5l10-5-3 898-11-253zm71-22l11-7-4 662-10-16zm41-28l10-4-4 613-10 100zm51-38l10-7-4 752-10-79zm20-24l10-18-3 970-11-282zm10-18l11-11-4 811-10 170zm11-11l10-11-4 811-10 11zm50-85l11 6-4 861-10-94z"/>
<path class=cu4 d="M1546 767l10 17-4 801-10 35zm10 17l10 16-4 706-10 79zm10 16l10 12-4 690-10 4zm10 12l10 12-4 721-10-43zm81 28l11-1-4 685-10 109zm21-2l10-1-4 851-10-160zm30-6l10 1-3 642-11 48zm10 1l11 1-4 711-10-70zm11 1l10-6-4 649-10 68zm30-8l10 4-4 683-10 37zm20 3l11 0-4 674-10 4zm11 0l10-4-4 901-10-223zm61-21l10 1-4 708-10 12zm40 5l10-3-3 651-11 11zm71-21l11-4-4 769-11-153zm21-5l10 0-4 883-10-173zm101-25l10 1-3 692-11-87zm21-4l10-4-4 617-10 250zm30-20l10-5-4 741-10 64zm71-29l10-9-3 695-11 93zm31-17l10-1-4 730-10-83zm10-1l10-1-4 648-10 83zm20-9l10-8-4 654-10 62zm10-8l11-3-4 689-11-32zm11-3l10-4-4 683-10 10zm30-13l10-10-4 620-10 309zm20-19l11-6-4 664-11-54zm51-21l10-6-4 941-10-226zm31-18l10-14-4 726-10-69zm71-113l10-1-4 773-10-2zm10-1l10 15-4 923-10-165zm81 49l10 3-3 752-11-36z"/>
<path class=cu3 d="M1586 824l11 4-4 765-11-48zm41 9l10 4-4 652-10 55zm10 4l10 3-4 643-10 6zm10 3l10 0-3 793-11-150zm21-1l10-1-4 690-10-4zm101-9l10-1-3 678-11 6zm31-5l10-3-4 675-10 229zm10-3l10-3-4 629-10 49zm30-10l11-4-4 721-10-35zm21-3l10 0-4 643-10 65zm71-13l10 0-4 619-10 57zm10 0l10 0-4 643-10-24zm61-17l10-7-4 636-10 30zm10-7l10-2-4 654-10-16zm10-2l10-3-3 623-11 34zm10-3l11-2-4 608-10 17zm11-2l10-3-4 643-10-32zm10-3l10 0-4 634-10 9zm10 0l10-1-4 820-10-185zm10-1l10 1-4 606-10 213zm20 2l11-5-4 863-10-166zm31-17l10-8-4 800-10-48zm20-13l10-4-3 661-11 84zm10-4l11 5-4 810-10-154zm21 10l10-11-4 834-10-183zm20-21l10-9-4 779-10-62zm31-22l10-4-4 646-10 253zm30-6l10-8-4 708-10-52zm41-23l10-5-4 825-10-137zm10-5l10-4-4 919-10-90zm20-14l10-9-4 604-10 25zm31-21l10-2-4 669-10-27zm10-2l10-2-4 615-10 56zm30-13l10-6-3 752-11 195zm51-60l10-19-4 800-10 77zm31-64l10-1-4 770-10 176zm40 27l10 10-3 833-11-34zm10 10l11 10-4 736-10 87zm11 10l10 1-4 678-10 57zm10 1l10 1-4 776-10-99zm10 1l10-1-4 831-10-54zm10-1l10-1-4 719-10 113zm31 5l10 2-4 709-10 49zm10 2l10 2-4 747-10-40z"/>
<path class=cu5 d="M1597 828l10 3-4 585-10 177zm10 3l10 1-4 893-10-309zm10 1l10 1-4 711-10 181zm71 5l10-2-4 797-10 56zm10-2l10-3-4 691-10 109zm41-7l10-7-4 654-10 2zm10-7l10 5-4 724-10-75zm71-2l10-3-4 699-10-67zm10-3l10-4-3 682-11 21zm41-7l10 2-4 891-10-250zm10 2l10 2-4 659-10 230zm20-1l11-3-4 698-10-44zm11-3l10-5-4 889-10-186zm10-5l10-6-4 676-10 219zm30-6l10-4-4 612-10 35zm21-8l10-1-4 710-10 60zm20-1l10-8-4 659-10 232zm122-33l10-8-4 744-10-119zm51-20l10 5-4 640-10 165zm20-6l10-10-4 708-10 136zm30-28l11-4-4 895-10-196zm133-67l10-6-4 640-10 30zm30-10l10-5-4 709-10-89zm30-17l11-6-4 643-10 115zm21-20l10-14-4 760-10-20zm10-14l10-20-4 858-10-78zm20-39l10-23-3 750-11 73zm10-23l11-22-4 945-10-173zm41-9l10 14-4 809-10 100zm81 37l11 3-4 760-10-11z"/>
<path class=aa d="M1211 1089l20-8-31-90-20-11zm20-8l20-11-30-75-21-4zm20-11l21-9-31-60-20-6zm21-9l20-13-31-61-20 14zm20-13l20-9-31-62-20 10z"/>
<path class=abw d="M1312 1039l21-22-31-36-21-4z"/>
<path class=aau d="M1333 1017l20-15-31-36-20 15z"/>
<path class=aw d="M1353 1002l20-3-31-39-20 6zm630-172l20-16-30-26-21 8zm81-30l21-5-31-33-21 5zm82-16l20-15-31-31-20 16zm81-37l20-13-31-34-20 18z"/>
<path class=aaR d="M1373 999l21-16-31-38-21 15z"/>
<path class=abh d="M1394 983l20-5-31-46-20 13z"/>
<path class=aaw d="M1414 978l20-24-31-31-20 9z"/>
<path class=ae d="M1434 954l21-26-31-27-21 22z"/>
<path class=aP d="M1455 928l20-33-31-8-20 14z"/>
<path class=aaU d="M1475 895l20-33-31-10-20 35z"/>
<path class=aE d="M1495 862l20-34-30 2-21 22z"/>
<path class=aac d="M1515 828l21-40-31 13-20 29zm61-65l21 30-31 7-20-33zm895-204l20-36-31 10-20 39z"/>
<path class=aai d="M1536 788l20-41-31 9-20 45zm20-41l20 16-30 4-21-11zm122 119l20-2-30-25-21 1zm20-2l21 3-31-30-20 2zm834-375l20 25-31 1-20-29z"/>
<path class=aaT d="M1597 793l20 25-31 6-20-24zm975-255l21 22-31-23-20-2z"/>
<path class=an d="M1617 818l20 22-30-9-21-7z"/>
<path class=am d="M1637 840l21 21-31-28-20-2z"/>
<path class=ar d="M1658 861l20 5-31-26-20-7z"/>
<path class=au d="M1719 867l20-4-31-31-20 5zm162-25l21-1-31-32-20-1zm204-47l20-4-31-30-20 1zm223-94l20-3-30-31-21 7zm20-3l21-13-31-27-20 9z"/>
<path class=al d="M1739 863l20-5-30-24-21-2zm41-3l20-3-31-27-20-9zm264-62l20 2-31-33-20 5zm305-113l20-14-31-32-20 19z"/>
<path class=aB d="M1759 858l21 2-31-39-20 13zm610-187l20-14-30-30-21 12zm122-148l20-37-30 2-21 45z"/>
<path class=as d="M1800 857l20 3-30-31-21 1zm102-16l20-8-31-20-20-4zm40-11l21-6-31-28-20 11zm21-6l20 6-31-34-20 0zm40-10l21-3-31-24-20 1zm21-3l20-13-31-26-20 15zm81-20l20-9-31-19-20-2zm20-9l21 2-31-30-21 9zm142-66l21 2-31-28-20 2zm21 2l20-17-31-27-20 16z"/>
<path class=av d="M1820 860l21-1-31-37-20 7zm21-1l20-8-31-35-20 6zm20-8l20-9-30-34-21 8z"/>
<path class=at d="M1922 833l20-3-30-23-21 6z"/>
<path class=abq d="M2166 769l20-9-31-31-20 9z"/>
<path class=ay d="M2186 760l20-13-30-8-21-10zm20-13l21 0-31-29-20 21z"/>
<path class=aaA d="M2247 734l20-18-30-24-21 8z"/>
<path class=abx d="M2389 657l21-6-31-28-20 4z"/>
<path class=aq d="M2410 651l20-25-31-14-20 11z"/>
<path class=aQ d="M2430 626l20-34-30 8-21 12z"/>
<path class=ag d="M2450 592l21-33-31 13-20 28z"/>
<path class=aaZ d="M2511 486l21 3-31-3-20 2z"/>
<path class=aj d="M2552 514l20 24-30-3-21-20z"/>
<path class=aI d="M2593 560l20 8-31-33-20 2zm20 8l20 6-30-33-21-6z"/>
<path class=aax d="M2633 574l21 0-31-29-20-4z"/>
<path class=aa d="M1245 1078l21-16-35 19-20 8z"/>
<path class=aaj d="M1266 1062l20-1-35 9-20 11z"/>
<path class=aaE d="M1286 1061l20-16-34 16-21 9z"/>
<path class=aaG d="M1306 1045l21 0-35 3-20 13z"/>
<path class=aN d="M1327 1045l20-8-35 2-20 9zm101-51l20-22-34 6-20 5z"/>
<path class=aaJ d="M1347 1037l20-16-34-4-21 22z"/>
<path class=aao d="M1367 1021l21-8-35-11-20 15z"/>
<path class=aM d="M1388 1013l20-19-35 5-20 3zm20-19l20 0-34-11-21 16z"/>
<path class=aba d="M1448 972l21-18-35 0-20 24z"/>
<path class=aO d="M1469 954l20-18-34-8-21 26z"/>
<path class=ag d="M1489 936l20-22-34-19-20 33z"/>
<path class=aE d="M1509 914l21-26-35-26-20 33zm1078-366l20 22-35-32-20-24z"/>
<path class=aaq d="M1530 888l20-34-35-26-20 34zm935-255l20-14-35-27-20 34z"/>
<path class=aah d="M1550 854l20-34-34-32-21 40zm1118-266l20-8-34-6-21 0z"/>
<path class=aaL d="M1570 820l21-34-35-39-20 41z"/>
<path class=aas d="M1591 786l20 19-35-42-20-16z"/>
<path class=aac d="M1611 805l20 23-34-35-21-30zm102 70l20-5-35-6-20 2zm61-8l20 5-35-14-20 5zm609-178l21-3-35-15-20 14zm21-3l20-20-35-9-20 14zm20-20l20-8-34-7-21 6z"/>
<path class=ai d="M1631 828l21 22-35-32-20-25zm976-258l20 8-34-18-21-22z"/>
<path class=aaM d="M1652 850l20 20-35-30-20-22z"/>
<path class=aU d="M1672 870l20 7-34-16-21-21z"/>
<path class=ap d="M1692 877l21-2-35-9-20-5zm102-5l20-2-34-10-21-2zm20-2l21 2-35-15-20 3zm21 2l20-5-35-7-20-3zm467-140l20 1-34-15-21-2zm20 1l21-15-35-17-20 17zm21-15l20-10-35-10-20 3z"/>
<path class=aV d="M1733 870l20 5-34-8-21-3zm20 5l21-8-35-4-20 4zm122-17l21 5-35-12-20 8zm305-63l20-14-34-12-20 15zm81-42l21-12-35-7-20 13zm21-12l20-9-35-16-20 18z"/>
<path class=aab d="M1855 867l20-9-34 1-21 1z"/>
<path class=aZ d="M1896 863l20-4-35-17-20 9zm20-4l20-1-34-17-21 1zm20-1l21-12-35-13-20 8zm21-12l20 8-35-24-20 3zm101-19l21-12-35-17-20 13zm21-12l20 9-35-24-20-2zm20 9l20-21-34-8-21 5zm41-25l20 1-35-18-20 9zm20 1l20-5-34-11-21-2z"/>
<path class=ay d="M1977 854l20-10-34-20-21 6z"/>
<path class=aaa d="M1997 844l21-13-35-1-20-6z"/>
<path class=aX d="M2018 831l20-8-35-9-20 16z"/>
<path class=ae d="M2038 823l20 4-34-16-21 3z"/>
<path class=aY d="M2119 803l21-4-35-8-20 4zm81-22l21-12-35-9-20 9zm21-12l20-9-35-13-20 13zm20-9l20-7-34-6-21 0z"/>
<path class=aP d="M2363 708l20-19-34-4-21 13z"/>
<path class=aQ d="M2444 658l21-25-35-7-20 25z"/>
<path class=am d="M2485 619l20-34-34-26-21 33z"/>
<path class=aag d="M2505 585l21-33-35-29-20 36zm122-7l21-2-35-8-20-8z"/>
<path class=aaI d="M2526 552l20-33-35-33-20 37z"/>
<path class=abd d="M2546 519l20 8-34-38-21-3z"/>
<path class=ak d="M2566 527l21 21-35-34-20-25z"/>
<path class=aam d="M2648 576l20 12-35-14-20-6z"/>
<path class=rl d="M1245 1078l21-16 20-1 20-16 21 0 20-8 20-16 21-8 20-19 20 0 20-22 21-18 20-18 20-22 21-26 20-34 20-34 21-34 20 19 20 23 21 22 20 20 20 7 21-2 20-5 20 5 21-8 20 5 20-2 21 2 20-5 20-9 21 5 20-4 20-1 21-12 20 8 20-10 21-13 20-8 20 4 21-12 20 9 20-21 21-4 20 1 20-5 20-14 21-12 20-9 20-7 21-12 20-9 20 1 21-15 20-10 20-19 21-3 20-20 20-8 21-25 20-14 20-34 21-33 20-33 20 8 21 21 20 22 20 8 21-2 20 12 20-8"/>
<path class=aa d="M1280 1044l20 14-34 4-21 16z"/>
<path class=abs d="M1300 1058l21-15-35 18-20 1z"/>
<path class=aaG d="M1321 1043l20 6-35-4-20 16z"/>
<path class=aak d="M1341 1049l20-7-34 3-21 0z"/>
<path class=aN d="M1361 1042l20-6-34 1-20 8zm20-6l21-12-35-3-20 16zm41-23l20-17-34-2-20 19z"/>
<path class=aM d="M1402 1024l20-11-34 0-21 8zm40-28l21 0-35-2-20 0zm21 0l20-11-35-13-20 22z"/>
<path class=af d="M1483 985l20-22-34-9-21 18zm20-22l21-14-35-13-20 18z"/>
<path class=ag d="M1524 949l20-27-35-8-20 22z"/>
<path class=aj d="M1544 922l20-12-34-22-21 26z"/>
<path class=am d="M1564 910l21-30-35-26-20 34zm143-18l20-9-35-6-20-7zm40-7l21 3-35-18-20 5zm21 3l20 1-35-14-20-5zm691-203l20-17-35-10-20 8z"/>
<path class=aB d="M1585 880l20-33-35-27-20 34z"/>
<path class=abt d="M1605 847l20-29-34-32-21 34z"/>
<path class=at d="M1625 818l21 22-35-35-20-19z"/>
<path class=aP d="M1646 840l20 21-35-33-20-23zm223 33l21 0-35-6-20 5z"/>
<path class=ah d="M1666 861l20 12-34-23-21-22z"/>
<path class=abu d="M1686 873l21 19-35-22-20-20z"/>
<path class=aac d="M1727 883l20 2-34-10-21 2zm711-193l21-5-35-19-20 20z"/>
<path class=aq d="M1788 889l20-4-34-18-21 8zm732-247l20-30-35-27-20 34z"/>
<path class=ap d="M1808 885l21-3-35-10-20-5zm21-3l20-1-35-11-20 2zm61-9l20 5-35-20-20 9zm81-4l20-9-34-14-21 12zm81-24l21-10-35-12-20 8zm203-65l21-8-35-12-20 9zm21-8l20-4-35-15-20 7zm20-4l20-11-34-16-21 12zm20-11l21-13-35-12-20 9zm82-42l20-6-35-20-20 19zm20-6l20-19-34-4-21 3z"/>
<path class=aV d="M1849 881l20-8-34-1-21-2zm102-16l20 4-35-11-20 1zm40-5l21-6-35 0-20-8zm41-13l20-2-34-14-21 13zm203-63l20-4-34-11-21 12zm102-40l20-7-35-4-20-1zm40-24l21-5-35-7-20 10z"/>
<path class=aW d="M1910 878l20-2-34-13-21-5z"/>
<path class=aY d="M1930 876l21-11-35-6-20 4zm143-41l20 4-35-12-20-4zm20 4l20-12-34-12-21 12zm81-28l20-2-34-9-20-1z"/>
<path class=aab d="M2012 854l20-7-35-3-20 10zm203-43l20-27-35-3-20 14zm142-74l20-17-34-2-21 15z"/>
<path class=aan d="M2113 827l20 1-34-4-20-9z"/>
<path class=aX d="M2133 828l21-11-35-14-20 21z"/>
<path class=ae d="M2154 817l20-6-34-12-21 4zm40-8l21 2-35-16-20 5z"/>
<path class=aC d="M2479 668l20-3-34-32-21 25z"/>
<path class=ak d="M2499 665l21-23-35-23-20 14z"/>
<path class=aaC d="M2540 612l20-33-34-27-21 33z"/>
<path class=abk d="M2560 579l21-34-35-26-20 33z"/>
<path class=abv d="M2581 545l20 14-35-32-20-8z"/>
<path class=ar d="M2601 559l20 21-34-32-21-21z"/>
<path class=aJ d="M2621 580l21-5-35-5-20-22z"/>
<path class=ai d="M2642 575l20 15-35-12-20-8z"/>
<path class=aag d="M2662 590l20 2-34-16-21 2zm41 5l20 11-35-26-20 8z"/>
<path class=aam d="M2682 592l21 3-35-7-20-12z"/>
<path class=aa d="M1314 1160l21-21-35-81-20-14zm21-21l20-9-34-87-21 15zm20-9l20-7-34-74-20-6zm20-7l21-27-35-54-20 7zm21-27l20-5-35-55-20 6z"/>
<path class=abl d="M1416 1091l20-17-34-50-21 12z"/>
<path class=abm d="M1436 1074l21-27-35-34-20 11z"/>
<path class=aaw d="M1457 1047l20 1-35-52-20 17zm20 1l20-14-34-38-21 0z"/>
<path class=az d="M1497 1034l21-17-35-32-20 11z"/>
<path class=abn d="M1518 1017l20-15-35-39-20 22z"/>
<path class=aac d="M1538 1002l20-33-34-20-21 14zm976-314l20-21-35-2-20 3z"/>
<path class=ag d="M1558 969l21-34-35-13-20 27zm976-302l20-33-34 8-21 23z"/>
<path class=aD d="M1579 935l20-33-35 8-20 12zm20-33l20-33-34 11-21 30z"/>
<path class=am d="M1619 869l21-34-35 12-20 33zm874-151l21-30-35-20-20 17z"/>
<path class=abo d="M1640 835l20-22-35 5-20 29z"/>
<path class=ar d="M1660 813l20 22-34 5-21-22zm102 97l20 8-35-33-20-2zm40 3l21 2-35-26-20-1z"/>
<path class=abp d="M1680 835l21 21-35 5-20-21z"/>
<path class=aam d="M1701 856l20 22-35-5-20-12z"/>
<path class=ao d="M1721 878l20 21-34-7-21-19z"/>
<path class=aq d="M1741 899l21 11-35-27-20 9zm834-299l20-34-35 13-20 33z"/>
<path class=aai d="M1782 918l20-5-34-25-21-3z"/>
<path class=at d="M1823 915l20-3-35-27-20 4zm122-13l20 3-35-29-20 2zm20 3l20-15-34-25-21 11zm467-155l21-24-35-17-20 6z"/>
<path class=as d="M1843 912l20 12-34-42-21 3zm163-17l20 2-35-37-20 9zm81-26l20-5-34-29-21 10zm40-6l21 0-35-36-20 12zm21 0l20-9-35-26-20-1zm40-21l21 3-35-34-20 6zm163-63l20-3-34-32-21 13z"/>
<path class=abq d="M1863 924l21-17-35-26-20 1z"/>
<path class=al d="M1884 907l20 12-35-46-20 8zm40 8l21-13-35-24-20-5zm346-100l20-3-35-32-20 4zm203-96l20-1-34-33-21 5z"/>
<path class=av d="M1904 919l20-4-34-42-21 0zm508-157l20-12-34-35-21 5z"/>
<path class=ay d="M1985 890l21 5-35-26-20-4zm122-26l20-1-34-24-20-4zm61-10l20-12-34-25-21 11zm61-16l20-16-34-11-21-2zm102-34l20-25-35-22-20 11z"/>
<path class=aw d="M2026 897l20-11-34-32-21 6zm20-11l20-2-34-37-20 7zm20-2l21-15-35-24-20 2zm224-72l20-8-34-32-21 8z"/>
<path class=aaW d="M2209 845l20-7-35-29-20 2z"/>
<path class=aZ d="M2249 822l21-7-35-31-20 27z"/>
<path class=au d="M2310 804l21 0-35-36-20 4zm61-28l21-2-35-37-20 7z"/>
<path class=aaX d="M2392 774l20-12-35-42-20 17z"/>
<path class=aC d="M2453 726l20-7-35-29-20 19zm183-173l20 22-35 5-20-21z"/>
<path class=aQ d="M2554 634l21-34-35 12-20 30zm102-59l20 21-34-21-21 5z"/>
<path class=abc d="M2595 566l20-33-34 12-21 34z"/>
<path class=aaC d="M2615 533l21 20-35 6-20-14z"/>
<path class=ai d="M2676 596l21 15-35-21-20-15z"/>
<path class=aaf d="M2697 611l20 6-35-25-20-2z"/>
<path class=abr d="M2717 617l20 7-34-29-21-3z"/>
<path class=aar d="M2737 624l21 0-35-18-20-11z"/>
<path class=rl d="M1314 1160l21-21 20-9 20-7 21-27 20-5 20-17 21-27 20 1 20-14 21-17 20-15 20-33 21-34 20-33 20-33 21-34 20-22 20 22 21 21 20 22 20 21 21 11 20 8 20-5 21 2 20-3 20 12 21-17 20 12 20-4 21-13 20 3 20-15 21 5 20 2 20-11 20-2 21-15 20-5 20-1 21 0 20-9 20-12 21 3 20-7 20-16 21-7 20-3 20-8 21 0 20-25 20-3 21-2 20-12 20-12 21-24 20-7 20-1 21-30 20-21 20-33 21-34 20-34 20-33 21 20 20 22 20 21 21 15 20 6 20 7 21 0"/>
<path class=aa d="M1349 1123l20-8-34 24-21 21zm20-8l21-6-35 21-20 9zm21-6l20-9-35 23-20 7zm20-9l20-1-34-3-21 27z"/>
<path class=aak d="M1430 1099l21-11-35 3-20 5zm21-11l20-5-35-9-20 17z"/>
<path class=aM d="M1471 1083l20-18-34-18-21 27zm41-31l20-11-35-7-20 14z"/>
<path class=aX d="M1491 1065l21-13-35-4-20-1zm448-144l20 1-35-7-20 4z"/>
<path class=aN d="M1532 1041l20-21-34-3-21 17z"/>
<path class=ah d="M1552 1020l21-29-35 11-20 15z"/>
<path class=af d="M1573 991l20 3-35-25-20 33z"/>
<path class=aQ d="M1593 994l20-33-34-26-21 34zm122-129l20 23-34-32-21-21z"/>
<path class=aj d="M1613 961l21-33-35-26-20 33z"/>
<path class=am d="M1634 928l20-35-35-24-20 33zm142-5l20-1-34-12-21-11zm772-218l21-14-35-24-20 21z"/>
<path class=aar d="M1654 893l20-36-34-22-21 34z"/>
<path class=abk d="M1674 857l21-16-35-28-20 22z"/>
<path class=ar d="M1695 841l20 24-35-30-20-22z"/>
<path class=aam d="M1735 888l21 22-35-32-20-22zm1016-268l21 13-35-9-20-7z"/>
<path class=ao d="M1756 910l20 13-35-24-20-21z"/>
<path class=aV d="M1796 922l21 1-35-5-20-8zm102 5l20-8-34-12-21 17zm284-60l21-3-35-10-20 9zm183-62l21-8-35-18-20 25zm21-8l20-21-35 0-20 3zm40-23l21 2-35-14-20 12zm41-20l20-11-34-17-21 24z"/>
<path class=aP d="M1817 923l20-7-35-3-20 5zm630-147l20-22-35-4-20 12zm81-53l20-18-34-17-21 30z"/>
<path class=aan d="M1837 916l20 13-34-14-21-2zm41 7l20 4-35-3-20-12zm40-4l21 2-35-2-20-12z"/>
<path class=ap d="M1857 929l21-6-35-11-20 3zm163-21l20-10-34-3-21-5zm284-78l21-10-35-8-20 3zm204-96l20-11-35-5-20 1z"/>
<path class=aZ d="M1959 922l20 1-34-21-21 13zm20 1l20-6-34-12-20-3zm102-20l20-8-35-11-20 2zm61-20l20-7-35-13-20 1zm61-19l20-2-35-20-20 12zm20-2l20 0-34-17-21-3zm41-16l20 0-35-24-20 16zm20 0l20-16-34-15-21 7z"/>
<path class=ae d="M1999 917l21-9-35-18-20 15zm102-22l20-8-34-18-21 15zm224-75l20 0-35-16-20 8z"/>
<path class=aab d="M2040 898l20 0-34-1-20-2zm366-122l20-2-34 0-21 2z"/>
<path class=aY d="M2060 898l21 5-35-17-20 11zm102-22l20-9-34-4-21 0zm183-56l20-15-34-1-21 0z"/>
<path class=ay d="M2121 887l21-4-35-19-20 5z"/>
<path class=aaa d="M2243 862l21-16-35-8-20 7z"/>
<path class=aq d="M2487 743l21-9-35-15-20 7zm183-164l21 27-35-31-20-22z"/>
<path class=aaq d="M2569 691l20-31-35-26-20 33z"/>
<path class=aC d="M2589 660l20-36-34-24-21 34z"/>
<path class=aag d="M2609 624l21-40-35-18-20 34zm122 9l20-13-34-3-20-6z"/>
<path class=abi d="M2630 584l20-32-35-19-20 33z"/>
<path class=aaC d="M2650 552l20 27-34-26-21-20z"/>
<path class=aD d="M2691 606l20 22-35-32-20-21z"/>
<path class=aaf d="M2711 628l20 5-34-22-21-15z"/>
<path class=aah d="M2772 633l20 9-34-18-21 0z"/>
<path class=nk d="M2675 444L2652 648 2699 653zM2675 444L2699 653 2698 635z" fill="url(#ga13)"/><path class=nk d="M2675 444v30" style="stroke:#333;stroke-width:8;stroke-opacity:1"/>
<path class=aa d="M1384 1100l20 3-35 12-20 8z"/>
<path class=aL d="M1404 1103l20-9-34 15-21 6zm20-9l21 2-35 4-20 9zm21 2l20 5-35-2-20 1z"/>
<path class=aM d="M1465 1101l20-7-34-6-21 11zm81-47l21-9-35-4-20 11z"/>
<path class=aN d="M1485 1094l21-21-35 10-20 5zm21-21l20-4-35-4-20 18z"/>
<path class=aal d="M1526 1069l20-15-34-2-21 13z"/>
<path class=af d="M1567 1045l20-10-35-15-20 21zm20-10l20-24-34-20-21 29z"/>
<path class=aQ d="M1607 1011l21-25-35 8-20-3z"/>
<path class=aaU d="M1628 986l20-14-35-11-20 33z"/>
<path class=aj d="M1648 972l20-19-34-25-21 33z"/>
<path class=am d="M1668 953l21-39-35-21-20 35zm122-20l21 6-35-16-20-13zm41 5l20 1-34-16-21-1zm41 4l20-3-35-10-20-13zm670-193l21-10-35-16-20 11zm163-142l20 27-34-28-21-27z"/>
<path class=aB d="M1689 914l20-44-35-13-20 36z"/>
<path class=abi d="M1709 870l20-10-34-19-21 16z"/>
<path class=aq d="M1729 860l21 33-35-28-20-24zm82 79l20-1-35-16-20 1zm630-141l20-13-35-11-20 2zm81-28l20-21-34-15-21 9zm61-49l20-11-34-19-21 14z"/>
<path class=aD d="M1750 893l20 26-35-31-20-23z"/>
<path class=aT d="M1770 919l20 14-34-23-21-22z"/>
<path class=aC d="M1851 939l21 3-35-26-20 7zm773-253l20-37-35-25-20 36z"/>
<path class=ap d="M1892 939l20-1-34-15-21 6zm20-1l20 5-34-16-20-4zm20 5l21-11-35-13-20 8zm21-11l20 3-34-14-21-2zm20 3l20 1-34-14-20-1zm81-23l21 3-35-17-20 10zm366-108l21-6-35-22-20 21z"/>
<path class=aV d="M1993 936l21-11-35-2-20-1zm21-11l20 2-35-10-20 6zm20 2l20-15-34-4-21 9zm102-21l20-12-35-7-20 8zm101-31l21-10-35-3-20 2zm82-32l20 2-35-15-20 16zm81-34l20-5-34-7-21 8zm61-24l20-11-34 2-21-2zm20-11l21-2-35-18-20 22z"/>
<path class=aZ d="M2075 915l20-2-35-15-20 0zm122-31l20 9-35-26-20 9zm20 9l20-18-34-11-21 3zm122-48l20-8-34-17-21 10z"/>
<path class=aY d="M2095 913l20 0-34-10-21-5zm20 0l21-7-35-11-20 8zm41-19l20 3-34-14-21 4zm20 3l21-13-35-8-20 7zm183-60l21-14-35-3-20 0z"/>
<path class=aab d="M2258 865l20-4-35 1-20 0zm20-4l20-6-34-9-21 16zm20-6l21-12-35 3-20 0zm82-32l20-14-35-4-20 15z"/>
<path class=ar d="M2502 772l20-2-35-27-20 11z"/>
<path class=aac d="M2563 739l20-18-35-16-20 18z"/>
<path class=aaH d="M2603 710l21-24-35-26-20 31z"/>
<path class=aaY d="M2644 649l20-45-34-20-21 40z"/>
<path class=aas d="M2664 604l20-30-34-22-20 32z"/>
<path class=aG d="M2684 574l21 33-35-28-20-27z"/>
<path class=ag d="M2725 634l20 6-34-12-20-22z"/>
<path class=aah d="M2745 640l21-6-35-1-20-5zm61 14l21-14-35 2-20-9z"/>
<path class=aag d="M2766 634l20 15-35-29-20 13z"/>
<path class=aar d="M2786 649l20 5-34-21-21-13z"/>
<path class=rl d="M1384 1100l20 3 20-9 21 2 20 5 20-7 21-21 20-4 20-15 21-9 20-10 20-24 21-25 20-14 20-19 21-39 20-44 20-10 21 33 20 26 20 14 21 6 20-1 20 1 21 3 20-3 20-1 20 5 21-11 20 3 20 1 21-11 20 2 20-15 21 3 20-2 20 0 21-7 20-12 20 3 21-13 20 9 20-18 21-10 20-4 20-6 21-12 20 2 20-8 21-14 20-14 20-5 21-6 20-13 20-11 21-2 20-2 20-21 21-10 20-18 20-11 21-24 20-37 20-45 20-30 21 33 20 27 20 6 21-6 20 15 20 5 21-14"/>
<path class=nk d="M1732 747L1686 939 1780 950zM1732 747L1780 950 1778 913z" fill="url(#ga03)"/><path class=nk d="M1732 747v30" style="stroke:#333;stroke-width:8;stroke-opacity:1"/>
<path class=aa d="M1418 1204l21-7-35-94-20-3zm21-7l20-24-35-79-20 9zm20-24l20-4-34-73-21-2zm20-4l21-17-35-51-20-5z"/>
<path class=aaR d="M1500 1152l20-22-35-36-20 7zm20-22l20-6-34-51-21 21z"/>
<path class=abh d="M1540 1124l21-11-35-44-20 4z"/>
<path class=aaQ d="M1561 1113l20-14-35-45-20 15z"/>
<path class=aau d="M1581 1099l20-19-34-35-21 9z"/>
<path class=at d="M1601 1080l21-17-35-28-20 10zm366-116l20-6-34-26-21 11zm529-143l20-24-35-23-20 11z"/>
<path class=aac d="M1622 1063l20-21-35-31-20 24z"/>
<path class=af d="M1642 1042l20-33-34-23-21 25z"/>
<path class=aQ d="M1662 1009l21-34-35-3-20 14zm41-67l20-38-34 10-21 39z"/>
<path class=aaU d="M1683 975l20-33-35 11-20 19z"/>
<path class=ar d="M1723 904l21-43-35 9-20 44zm793-107l20-4-34-21-21 2z"/>
<path class=aaI d="M1744 861l20-3-35 2-20 10z"/>
<path class=aq d="M1764 858l20 31-34 4-21-33zm772-65l21-6-35-17-20 2zm41-23l20-16-34-15-21 10z"/>
<path class=ag d="M1784 889l21 26-35 4-20-26zm854-180l20-34-34 11-21 24zm122-77l20 23-35-15-20-6z"/>
<path class=an d="M1805 915l20 22-35-4-20-14z"/>
<path class=ao d="M1825 937l20 22-34-20-21-6z"/>
<path class=aC d="M1845 959l21 13-35-34-20 1z"/>
<path class=aai d="M1866 972l20-1-35-32-20-1z"/>
<path class=ak d="M1886 971l20 0-34-29-21-3zm792-330l21-38-35 1-20 45z"/>
<path class=al d="M1906 971l20 1-34-33-20 3zm20 1l21 1-35-35-20 1zm549-152l21 1-35-36-20 13z"/>
<path class=as d="M1947 973l20-9-35-21-20-5zm61-7l20-2-35-28-20-1zm20-2l20-12-34-27-21 11zm102-22l20-2-35-27-20 0zm20-2l20-1-34-33-21 7zm41-13l20 3-35-33-20-3zm40 0l21-4-35-30-20-9zm82-37l20-8-35-27-20 6zm20-8l20-9-34-30-21 12zm20-9l21-2-35-26-20-2zm21-2l20-6-35-28-20 8zm20-6l20-12-34-30-21 14zm61-23l20-22-34-22-21 6z"/>
<path class=ay d="M1987 958l21 8-35-31-20-3zm61-6l21 11-35-36-20-2zm204-29l20-21-35-27-20 18z"/>
<path class=aA d="M2069 963l20-9-35-42-20 15z"/>
<path class=au d="M2089 954l20-5-34-34-21-3zm20-5l21-7-35-29-20 2zm163-47l20 6-34-43-21 10z"/>
<path class=aw d="M2170 939l21-12-35-33-20 12zm244-86l21-5-35-39-20 14z"/>
<path class=av d="M2211 930l20-3-34-43-21 13zm81-22l21-18-35-29-20 4zm143-60l20-6-35-38-20 5z"/>
<path class=ap d="M2557 787l20-17-35-21-20 21z"/>
<path class=am d="M2597 754l20-12-34-21-20 18zm142-146l21 24-35 2-20-27z"/>
<path class=aj d="M2617 742l21-33-35 1-20 11z"/>
<path class=aE d="M2658 675l20-34-34 8-20 37z"/>
<path class=abi d="M2699 603l20-21-35-8-20 30z"/>
<path class=aaY d="M2719 582l20 26-34-1-21-33z"/>
<path class=aH d="M2780 655l20 10-34-31-21 6z"/>
<path class=aag d="M2800 665l21 8-35-24-20-15z"/>
<path class=aaf d="M2821 673l20 9-35-28-20-5z"/>
<path class=abj d="M2841 682l20-8-34-34-21 14z"/>
<path class=aa d="M1453 1187l20-15-34 25-21 7zm20-15l21-3-35 4-20 24z"/>
<path class=aaJ d="M1494 1169l20-5-35 5-20 4z"/>
<path class=aak d="M1514 1164l20-2-34-10-21 17zm81-42l21-20-35-3-20 14z"/>
<path class=aN d="M1534 1162l21-25-35-7-20 22z"/>
<path class=aab d="M1555 1137l20-2-35-11-20 6zm61-35l20-7-35-15-20 19zm508-144l20-7-35-2-20 5zm101-19l21-17-35 8-20-3zm204-71l20-15-35 0-20 12zm20-15l20-3-34-2-21 5zm20-3l21-10-35 2-20 6z"/>
<path class=aao d="M1575 1135l20-13-34-9-21 11z"/>
<path class=aM d="M1636 1095l20-22-34-10-21 17zm630-172l20-2-34 2-21 4z"/>
<path class=af d="M1656 1073l21-17-35-14-20 21z"/>
<path class=abf d="M1677 1056l20-24-35-23-20 33z"/>
<path class=aQ d="M1697 1032l20-31-34-26-21 34z"/>
<path class=abg d="M1717 1001l21-33-35-26-20 33z"/>
<path class=ak d="M1738 968l20-34-35-30-20 38zm955-266l20-34-35-27-20 34zm183-22l20 4-35-10-20 8z"/>
<path class=aax d="M1758 934l20-35-34-38-21 43zm955-266l20-33-34-32-21 38z"/>
<path class=aat d="M1778 899l21 4-35-45-20 3z"/>
<path class=am d="M1799 903l20 23-35-37-20-31zm60 67l21 8-35-19-20-22z"/>
<path class=aaU d="M1819 926l20 22-34-33-21-26z"/>
<path class=an d="M1839 948l20 22-34-33-20-22z"/>
<path class=aac d="M1880 978l20-3-34-3-21-13zm752-201l20-28-35-7-20 12zm142-134l20 22-34-33-21-24z"/>
<path class=aV d="M1900 975l20 8-34-12-20 1zm20 8l21-12-35 0-20 0zm488-103l21-12-35-3-20 6zm82-40l20-2-35-18-20 22zm101-56l20 3-34-17-20 17z"/>
<path class=aan d="M1941 971l20 14-35-13-20-1zm305-49l20 1-35 4-20 3z"/>
<path class=ap d="M1961 985l20-6-34-6-21-1zm20-6l21 3-35-18-20 9zm61 2l21-6-35-11-20 2zm468-143l20-14-34-3-21-1z"/>
<path class=ay d="M2002 982l20-2-35-22-20 6z"/>
<path class=aW d="M2022 980l20 1-34-15-21-8z"/>
<path class=aZ d="M2063 975l20-5-35-18-20 12zm284-76l21 1-35-18-20 8zm21 1l20-12-35-15-20 9z"/>
<path class=aY d="M2083 970l20 0-34-7-21-11zm61-19l20 12-34-21-21 7zm61-7l20-5-34-12-21 12z"/>
<path class=aX d="M2103 970l21-12-35-4-20 9zm82-24l20-2-35-5-20 1zm101-25l21-5-35-14-20 21zm41 0l20-22-34-9-21 18z"/>
<path class=ae d="M2164 963l21-17-35-6-20 2zm224-75l20-8-34-9-21 2z"/>
<path class=aaa d="M2307 916l20 5-35-13-20-6z"/>
<path class=aP d="M2530 824l20-11-34-16-20 24zm41-11l20-29-34 3-21 6z"/>
<path class=aq d="M2550 813l21 0-35-20-20 4zm61-26l21-10-35-23-20 16z"/>
<path class=aj d="M2652 749l20-17-34-23-21 33z"/>
<path class=aaK d="M2672 732l21-30-35-27-20 34z"/>
<path class=abd d="M2733 635l21-14-35-39-20 21z"/>
<path class=aaY d="M2754 621l20 22-35-35-20-26z"/>
<path class=aH d="M2794 665l21 4-35-14-20-23z"/>
<path class=ah d="M2815 669l20 10-35-14-20-10z"/>
<path class=aah d="M2835 679l20 2-34-8-21-8z"/>
<path class=aam d="M2855 681l21-1-35 2-20-9z"/>
<path class=rl d="M1453 1187l20-15 21-3 20-5 20-2 21-25 20-2 20-13 21-20 20-7 20-22 21-17 20-24 20-31 21-33 20-34 20-35 21 4 20 23 20 22 20 22 21 8 20-3 20 8 21-12 20 14 20-6 21 3 20-2 20 1 21-6 20-5 20 0 21-12 20-7 20 12 21-17 20-2 20-5 21-17 20 1 20-2 21-5 20 5 20-22 21 1 20-12 20-8 21-12 20-15 20-3 21-10 20-2 20-14 20-11 21 0 20-29 20 3 21-10 20-28 20-17 21-30 20-34 20-33 21-14 20 22 20 22 21 4 20 10 20 2 21-1 20 4"/>
<path class=aa d="M1488 1156l20 1-35 15-20 15z"/>
<path class=aL d="M1508 1157l20 1-34 11-21 3zm20 1l21-6-35 12-20 5zm21-6l20-6-35 16-20 2z"/>
<path class=aaG d="M1569 1146l20 0-34-9-21 25z"/>
<path class=aM d="M1589 1146l21-16-35 5-20 2zm41-23l20-9-34-12-21 20zm20-9l21-20-35 1-20 7z"/>
<path class=aN d="M1610 1130l20-7-35-1-20 13z"/>
<path class=aba d="M1671 1094l20-22-35 1-20 22z"/>
<path class=af d="M1691 1072l20-2-34-14-21 17zm20-2l21-19-35-19-20 24z"/>
<path class=aj d="M1732 1051l20-24-35-26-20 31zm20-24l20-38-34-21-21 33z"/>
<path class=aai d="M1772 989l20-28-34-27-20 34zm955-261l21-33-35-27-20 34z"/>
<path class=aax d="M1792 961l21-33-35-29-20 35z"/>
<path class=abb d="M1813 928l20 9-34-34-21-4z"/>
<path class=ap d="M1833 937l20 22-34-33-20-23zm142 60l21-4-35-8-20-14zm21-4l20-2-35-12-20 6zm122-6l20-7-35-10-20 0zm40-19l21 0-35-17-20 7zm265-69l20-7-35-12-20 8zm40-10l20-21-34-15-20 15zm20-21l21-11-35-7-20 3zm21-11l20 3-34-20-21 10zm20 3l20-14-34-8-20 2zm41-23l20-7-35-17-20 11z"/>
<path class=aaT d="M1853 959l21 21-35-32-20-22z"/>
<path class=aC d="M1874 980l20 8-35-18-20-22zm61 23l20-4-35-16-20-8z"/>
<path class=am d="M1894 988l20 2-34-12-21-8zm732-181l20-17-35-3-20-3zm81-46l20-33-34-26-21 30z"/>
<path class=aq d="M1914 990l21 13-35-28-20 3zm671-160l20-1-34-16-21 0z"/>
<path class=ar d="M1955 999l20-2-34-26-21 12z"/>
<path class=aV d="M2016 991l20-7-34-2-21-3zm81-14l21 10-35-17-20 5zm41 3l20-12-34-10-21 12zm41-12l20-2-35-3-20-12zm223-70l21 1-35-11-20 12zm142-52l21-9-35-13-20 14zm61-17l21-22-35-23-20 29z"/>
<path class=aab d="M2036 984l21-3-35-1-20 2zm21-3l20 0-35 0-20-1zm20 0l20-4-34-2-21 6zm285-62l20-10-35-10-20 22z"/>
<path class=aZ d="M2199 966l20 5-34-25-21 17zm61-19l20-3-34-22-21 17zm41-6l20-5-35-15-20 2zm20-5l20 1-34-21-21 5zm122-44l20-3-34-21-21 12z"/>
<path class=ay d="M2219 971l21-5-35-22-20 2zm61-27l21-3-35-18-20-1z"/>
<path class=ae d="M2240 966l20-19-35-8-20 5z"/>
<path class=aY d="M2341 937l21-18-35 2-20-5z"/>
<path class=aX d="M2382 909l20-11-34 2-21-1z"/>
<path class=aac d="M2646 790l20-2-34-11-21 10zm20-2l21-16-35-23-20 28zm143-113l20 13-35-23-20-22z"/>
<path class=ak d="M2687 772l20-11-35-29-20 17z"/>
<path class=abc d="M2748 695l20-33-35-27-20 33z"/>
<path class=abd d="M2768 662l20-8-34-33-21 14z"/>
<path class=au d="M2788 654l21 21-35-32-20-22z"/>
<path class=abe d="M2829 688l20 5-34-24-21-4z"/>
<path class=aaf d="M2849 693l21 2-35-16-20-10z"/>
<path class=aag d="M2870 695l20 1-35-15-20-2zm20 1l20 1-34-17-21 1z"/>
<path class=aaY d="M2910 697l21-6-35-7-20-4z"/>
<path class=aa d="M1522 1250l21 1-35-94-20-1zm21 1l20-24-35-69-20-1zm20-24l20-14-34-61-21 6zm20-14l21-5-35-62-20 6zm21-5l20-21-35-41-20 0z"/>
<path class=aaQ d="M1624 1187l20-7-34-50-21 16z"/>
<path class=aaR d="M1644 1180l21-21-35-36-20 7z"/>
<path class=az d="M1665 1159l20-12-35-33-20 9zm20-12l20-14-34-39-21 20z"/>
<path class=aaS d="M1705 1133l20-26-34-35-20 22z"/>
<path class=ap d="M1725 1107l21-25-35-12-20 2z"/>
<path class=aaT d="M1746 1082l20-33-34 2-21 19zm1118-391l20 22-35-20-20-5z"/>
<path class=ah d="M1766 1049l20-33-34 11-20 24z"/>
<path class=aaU d="M1786 1016l21-34-35 7-20 38zm956-266l20-33-35 11-20 33z"/>
<path class=aac d="M1807 982l20-33-35 12-20 28zm61-50l20 22-35 5-20-22zm772-88l20-17-34-20-21 22zm61-27l20-34-34-11-21 16z"/>
<path class=aaC d="M1827 949l20-33-34 12-21 33z"/>
<path class=al d="M1847 916l21 16-35 5-20-9zm163 111l20-4-34-30-21 4zm102-16l20 5-35-39-20 4zm61-5l20-3-35-35-20 12zm20-3l20-5-34-30-21 0zm345-107l21-12-35-24-20-3zm41-18l20-15-34-26-21 9zm81-51l21 3-35-40-20 17z"/>
<path class=ai d="M1888 954l20 21-34 5-21-21z"/>
<path class=aaV d="M1908 975l21 22-35-9-20-8z"/>
<path class=ao d="M1929 997l20 21-35-28-20-2z"/>
<path class=aq d="M1949 1018l20 4-34-19-21-13zm671-164l20-10-35-15-20 1z"/>
<path class=ar d="M1969 1022l21 4-35-27-20 4zm21 4l20 1-35-30-20 2z"/>
<path class=at d="M2030 1023l21-10-35-22-20 2zm21-10l20 13-35-42-20 7zm548-150l21-9-35-24-20 7z"/>
<path class=av d="M2071 1026l20-4-34-41-21 3z"/>
<path class=aB d="M2091 1022l21-11-35-30-20 0zm590-192l20-13-35-29-20 2z"/>
<path class=as d="M2132 1016l20-15-34-14-21-10zm81-18l21-12-35-20-20 2zm183-50l21-8-35-31-20 10zm61-21l20-1-34-34-20 7zm20-1l21-15-35-22-20 3zm82-42l20-6-35-32-20 14z"/>
<path class=ay d="M2152 1001l21 5-35-26-20 7zm122-18l21-4-35-32-20 19zm61-9l21-18-35-20-20 5zm41-21l20-5-34-29-21 18z"/>
<path class=aZ d="M2234 986l20 1-35-16-20-5zm20 1l20-4-34-17-21 5zm102-31l20-3-35-16-20-1z"/>
<path class=aaW d="M2295 979l20 5-35-40-20 3z"/>
<path class=aaz d="M2315 984l20-10-34-33-21 3z"/>
<path class=aw d="M2417 940l20-1-35-41-20 11zm20-1l20-12-34-28-21-1z"/>
<path class=aaA d="M2498 911l20-3-35-40-20 21z"/>
<path class=aaX d="M2518 908l20-12-34-39-21 11z"/>
<path class=aQ d="M2721 783l21-33-35 11-20 11z"/>
<path class=aaq d="M2762 717l20-34-34 12-21 33z"/>
<path class=aaY d="M2782 683l21-34-35 13-20 33z"/>
<path class=aaZ d="M2803 649l20-2-35 7-20 8z"/>
<path class=aai d="M2823 647l20 23-34 5-21-21z"/>
<path class=aj d="M2843 670l21 21-35-3-20-13z"/>
<path class=aaf d="M2884 713l20 16-34-34-21-2z"/>
<path class=aJ d="M2904 729l21-3-35-30-20-1z"/>
<path class=aax d="M2925 726l20 0-35-29-20-1zm20 0l20 18-34-53-21 6z"/>
<path class=rl d="M1522 1250l21 1 20-24 20-14 21-5 20-21 20-7 21-21 20-12 20-14 20-26 21-25 20-33 20-33 21-34 20-33 20-33 21 16 20 22 20 21 21 22 20 21 20 4 21 4 20 1 20-4 21-10 20 13 20-4 21-11 20 5 20-15 21 5 20-3 20-5 21-12 20 1 20-4 21-4 20 5 20-10 21-18 20-3 20-5 21-8 20-1 20-12 20-1 21-15 20-3 20-12 21-12 20-6 20-15 21-9 20-10 20-17 21 3 20-13 20-34 21-33 20-33 20-34 21-34 20-2 20 23 21 21 20 22 20 16 21-3 20 0 20 18"/>
<path class=aa d="M1557 1232l20-7-34 26-21-1zm20-7l21-2-35 4-20 24z"/>
<path class=aaJ d="M1598 1223l20-8-35-2-20 14zm20-8l20-15-34 8-21 5z"/>
<path class=aN d="M1638 1200l20-7-34-6-20 21z"/>
<path class=aM d="M1658 1193l21-12-35-1-20 7zm61-24l21-31-35-5-20 14zm41-48l20-24-34-15-21 25z"/>
<path class=aX d="M1679 1181l20 1-34-23-21 21z"/>
<path class=aaa d="M1699 1182l20-13-34-22-20 12zm671-210l20 4-34-20-21 18zm40 4l21-24-35-4-20 5z"/>
<path class=aal d="M1740 1138l20-17-35-14-20 26z"/>
<path class=aQ d="M1780 1097l21-22-35-26-20 33zm956-275l20-22-35-17-20 34z"/>
<path class=aE d="M1801 1075l20-33-35-26-20 33z"/>
<path class=aaK d="M1821 1042l20-34-34-26-21 34z"/>
<path class=aah d="M1841 1008l21-36-35-23-20 33zm956-266l20-37-35-22-20 34zm162-7l21 10-35-19-20 0z"/>
<path class=aaL d="M1862 972l20-33-35-23-20 33z"/>
<path class=aai d="M1882 939l20 23-34-30-21-16zm976-268l20 28-35-29-20-23z"/>
<path class=aP d="M1902 962l21 24-35-32-20-22zm813-128l21-12-35-5-20 13z"/>
<path class=ai d="M1923 986l20 21-35-32-20-21z"/>
<path class=aaM d="M1943 1007l20 22-34-32-21-22z"/>
<path class=am d="M1963 1029l21 0-35-11-20-21z"/>
<path class=aac d="M1984 1029l20 9-35-16-20-4z"/>
<path class=ap d="M2004 1038l20 0-34-12-21-4zm20 0l21 2-35-13-20-1zm21 2l20-3-35-14-20 4zm20-3l20-12-34-12-21 10zm122-19l20 6-34-18-21-5zm427-132l20-7-35-16-20 15zm20-7l20-11-34-14-21 9z"/>
<path class=aan d="M2085 1025l21 9-35-8-20-13z"/>
<path class=aV d="M2106 1034l20-10-35-2-20 4zm20-10l20-1-34-12-21 11zm20-1l21-2-35-5-20-5zm82-10l20-10-35-5-20 5zm203-61l20-3-34-9-21 8zm20-3l20-5-34-5-20 1zm20-5l21-7-35-10-20 12zm61-20l21-13-35-3-20 3zm41-23l20-9-34-8-21 12zm20-9l21-6-35-8-20 6zm61-24l21-18-35-6-20 10zm21-18l20-13-35-10-20 17zm20-13l20-3-34-4-21-3z"/>
<path class=aY d="M2167 1021l20-3-35-17-20 15zm325-84l20-4-35-7-20 1zm20-4l20-9-34-13-21 15z"/>
<path class=aZ d="M2207 1024l21-11-35-10-20 3zm41-21l20 7-34-24-21 12zm41-1l20-1-35-18-20 4zm20-1l20-11-34-11-21 4z"/>
<path class=ay d="M2268 1010l21-8-35-15-20-1zm122-34l20 0-34-23-20 3z"/>
<path class=aaN d="M2329 990l21 2-35-8-20-5z"/>
<path class=aao d="M2350 992l20-20-35 2-20 10z"/>
<path class=aab d="M2553 911l20-10-35-5-20 12z"/>
<path class=aaq d="M2756 800l20-24-34-26-21 33z"/>
<path class=aaO d="M2776 776l21-34-35-25-20 33z"/>
<path class=aax d="M2817 705l20-40-34-16-21 34z"/>
<path class=aaP d="M2837 665l21 6-35-24-20 2z"/>
<path class=aj d="M2878 699l20 24-34-32-21-21z"/>
<path class=aaf d="M2898 723l21 3-35-13-20-22z"/>
<path class=aam d="M2919 726l20 8-35-5-20-16zm61 19l20-5-35 4-20-18z"/>
<path class=ak d="M2939 734l20 1-34-9-21 3z"/>
<path class=nk d="M2873 550L2850 754 2898 759zM2873 550L2898 759 2897 740z" fill="url(#ga14)"/><path class=nk d="M2873 550v30" style="stroke:#333;stroke-width:8;stroke-opacity:1"/>
<path class=aL d="M1592 1213l20-1-35 13-20 7zm20-1l20 3-34 8-21 2z"/>
<path class=aaE d="M1632 1215l20-13-34 13-20 8z"/>
<path class=aN d="M1652 1202l21 2-35-4-20 15zm61-14l21-16-35 10-20-1z"/>
<path class=aM d="M1673 1204l20-6-35-5-20 7zm20-6l20-10-34-7-21 12z"/>
<path class=aaF d="M1734 1172l20-16-35 13-20 13z"/>
<path class=aaG d="M1754 1156l20-8-34-10-21 31z"/>
<path class=aab d="M1774 1148l21-11-35-16-20 17zm468-129l20 2-34-8-21 11zm61-4l20-11-34-2-21 8zm20-11l20 1-34-4-20 1zm244-69l20-19-34-5-21 13z"/>
<path class=ag d="M1795 1137l20-32-35-8-20 24z"/>
<path class=aP d="M1815 1105l20-9-34-21-21 22zm122-118l20 29-34-30-21-24zm711-95l21-11-35-2-20 7zm21-11l20-8-35-5-20 11z"/>
<path class=aQ d="M1835 1096l21-34-35-20-20 33z"/>
<path class=aaH d="M1856 1062l20-32-35-22-20 34z"/>
<path class=aai d="M1876 1030l20-43-34-15-21 36zm955-262l21-42-35-21-20 37zm183-16l20-4-34-8-20 5z"/>
<path class=aaI d="M1896 987l21-31-35-17-20 33z"/>
<path class=ar d="M1917 956l20 31-35-25-20-23zm975-261l21 34-35-30-20-28z"/>
<path class=ah d="M1957 1016l21 24-35-33-20-21z"/>
<path class=aC d="M1978 1040l20-1-35-10-20-22zm813-221l20-16-35-27-20 24z"/>
<path class=aac d="M1998 1039l20-4-34-6-21 0zm772-201l21-19-35-19-20 22z"/>
<path class=aan d="M2018 1035l21 13-35-10-20-9z"/>
<path class=ap d="M2039 1048l20 5-35-15-20 0zm20 5l20-1-34-12-21-2zm203-32l21-2-35-16-20 10zm244-61l20-14-34-9-21 7zm20-14l21 3-35-16-20 4zm21 3l20-14-35-11-20 9zm40-33l21 0-35-15-20 10zm21 0l20-15-35-9-20 9z"/>
<path class=am d="M2079 1052l21 1-35-16-20 3zm610-179l20 0-34-23-21 18zm41-17l20-11-35-11-20 3zm20-11l20-7-34-16-21 12zm61-42l20-35-34-26-21 34z"/>
<path class=aq d="M2100 1053l20-5-35-23-20 12zm20-5l20-1-34-13-21-9zm20-1l21 1-35-24-20 10zm21 1l20-12-35-13-20 1zm548-175l21-17-35-19-20 13z"/>
<path class=aW d="M2181 1036l20 14-34-29-21 2z"/>
<path class=as d="M2201 1050l21-10-35-22-20 3z"/>
<path class=aY d="M2222 1040l20-21-35 5-20-6zm61-21l20-4-35-5-20-7zm60-14l21-3-35-12-20 11z"/>
<path class=aaa d="M2364 1002l20 2-34-12-21-2zm20 2l20-12-34-20-20 20zm41-15l20-6-35-7-20 0zm20-6l20-7-34-24-21 24z"/>
<path class=aZ d="M2404 992l21-3-35-13-20-4zm82-27l20-5-35-16-20 5z"/>
<path class=ay d="M2465 976l21-11-35-16-20 3z"/>
<path class=aV d="M2628 901l20-9-34-6-21 6z"/>
<path class=aax d="M2852 726l20-45-35-16-20 40z"/>
<path class=aat d="M2872 681l20 14-34-24-21-6z"/>
<path class=aE d="M2913 729l20 15-35-21-20-24z"/>
<path class=aH d="M2933 744l20 2-34-20-21-3z"/>
<path class=aag d="M2953 746l21 3-35-15-20-8zm21 3l20-1-35-13-20-1z"/>
<path class=aam d="M2994 748l20 4-34-7-21-10z"/>
<path class=rl d="M1592 1213l20-1 20 3 20-13 21 2 20-6 20-10 21-16 20-16 20-8 21-11 20-32 20-9 21-34 20-32 20-43 21-31 20 31 20 29 21 24 20-1 20-4 21 13 20 5 20-1 21 1 20-5 20-1 21 1 20-12 20 14 21-10 20-21 20 2 21-2 20-4 20-11 20 1 21-3 20 2 20-12 21-3 20-6 20-7 21-11 20-5 20-14 21 3 20-14 20-19 21 0 20-15 20-9 21-11 20-8 20 0 21-17 20-11 20-7 21-19 20-16 20-35 21-42 20-45 20 14 21 34 20 15 20 2 21 3 20-1 20 4 20-4"/>
<path class=nk d="M1928 854L1882 1047 1977 1057zM1928 854L1977 1057 1975 1020z" fill="url(#ga04)"/><path class=nk d="M1928 854v30" style="stroke:#333;stroke-width:8;stroke-opacity:1"/>
<path class=aa d="M1626 1312l20-11-34-89-20 1zm20-11l21-19-35-67-20-3zm21-19l20-12-35-68-20 13zm20-12l20-28-34-38-21-2z"/>
<path class=az d="M1707 1242l21 3-35-47-20 6z"/>
<path class=aau d="M1728 1245l20-21-35-36-20 10z"/>
<path class=aav d="M1748 1224l20-15-34-37-21 16z"/>
<path class=aaw d="M1768 1209l21-7-35-46-20 16z"/>
<path class=ad d="M1789 1202l20-24-35-30-20 8z"/>
<path class=ap d="M1809 1178l20-22-34-19-21 11z"/>
<path class=ag d="M1829 1156l21-34-35-17-20 32zm21-34l20-33-35 7-20 9zm975-297l21-33-35 11-20 16z"/>
<path class=ah d="M1870 1089l20-33-34 6-21 34z"/>
<path class=aD d="M1890 1056l21-37-35 11-20 32zm956-264l20-34-35 10-20 35z"/>
<path class=am d="M1911 1019l20-42-35 10-20 43zm955-261l20-37-34 5-21 42z"/>
<path class=aax d="M1931 977l20-24-34 3-21 31z"/>
<path class=ar d="M1951 953l21 30-35 4-20-31zm102 121l20 5-34-31-21-13zm20 5l21 2-35-28-20-5zm854-379l20 26-34 3-21-34z"/>
<path class=aQ d="M1972 983l20 29-35 4-20-29zm975-257l21 23-35-5-20-15z"/>
<path class=aam d="M1992 1012l20 23-34 5-21-24z"/>
<path class=ao d="M2012 1035l21 21-35-17-20 1z"/>
<path class=aC d="M2033 1056l20 18-35-39-20 4z"/>
<path class=at d="M2094 1081l20-4-35-25-20 1zm61-8l20-3-35-23-20 1zm61 3l20-6-35-20-20-14zm365-107l21-4-35-30-20 14zm143-63l20-14-35-19-20 0zm20-14l20-1-34-35-21 17z"/>
<path class=aay d="M2114 1077l20-8-34-16-21-1z"/>
<path class=aq d="M2134 1069l21 4-35-25-20 5zm630-178l21-28-35-18-20 11zm21-28l20-8-35-17-20 7z"/>
<path class=ay d="M2175 1070l20 2-34-24-21-1zm244-45l20-5-35-28-20 12zm20-5l20-10-34-21-21 3zm20-10l21-6-35-21-20 6zm21-6l20-9-35-19-20 7zm20-9l20-5-34-25-21 11z"/>
<path class=al d="M2195 1072l21 4-35-40-20 12zm427-120l20-12-34-24-21 0zm81-42l21-4-35-33-20 8z"/>
<path class=aap d="M2236 1070l20-10-34-20-21 10z"/>
<path class=as d="M2256 1060l20-1-34-40-20 21zm142-26l21-9-35-21-20-2zm122-44l21-1-35-29-20 5zm41-10l20-11-34-20-21-3z"/>
<path class=au d="M2276 1059l21 2-35-40-20-2zm102-19l20-6-34-32-21 3zm264-100l21 1-35-40-20 15z"/>
<path class=aw d="M2297 1061l20-1-34-41-21 2zm61-16l20-5-35-35-20-1zm183-56l20-9-35-34-20 14zm142-53l20-26-34-29-21 11z"/>
<path class=av d="M2317 1060l20-13-34-32-20 4z"/>
<path class=aaz d="M2337 1047l21-2-35-41-20 11z"/>
<path class=aaA d="M2602 965l20-13-35-36-20 19z"/>
<path class=aaB d="M2663 941l20-5-35-44-20 9z"/>
<path class=aj d="M2805 855l20-30-34-6-21 19z"/>
<path class=aK d="M2886 721l21-37-35-3-20 45zm142 69l21-14-35-24-20-4z"/>
<path class=aaC d="M2907 684l20 16-35-5-20-14z"/>
<path class=ai d="M2968 749l20 22-35-25-20-2z"/>
<path class=aH d="M2988 771l20 5-34-27-21-3zm20 5l20 14-34-42-20 1z"/>
<path class=aaD d="M3049 776l20 6-35-34-20 4z"/>
<path class=aa d="M1661 1289l20 0-35 12-20 11zm20 0l20-26-34 19-21 19z"/>
<path class=aaj d="M1701 1263l21-4-35 11-20 12z"/>
<path class=aak d="M1722 1259l20 1-35-18-20 28z"/>
<path class=aM d="M1742 1260l20-23-34 8-21-3zm81-52l21-16-35-14-20 24z"/>
<path class=aN d="M1762 1237l21-4-35-9-20 21z"/>
<path class=aX d="M1783 1233l20-4-35-20-20 15zm609-179l21-15-35 1-20 5zm82-17l20-25-35-2-20 10zm101-41l21-11-35-5-20 9z"/>
<path class=aab d="M1803 1229l20-21-34-6-21 7zm427-151l20-5-34 3-21-4zm101-14l21 0-35-4-20 1zm366-127l21 0-35-1-20 5z"/>
<path class=aal d="M1844 1192l20-28-35-8-20 22z"/>
<path class=af d="M1864 1164l20-16-34-26-21 34z"/>
<path class=aQ d="M1884 1148l21-33-35-26-20 33zm122-126l21 23-35-33-20-29z"/>
<path class=aj d="M1905 1115l20-33-35-26-20 33z"/>
<path class=aC d="M1925 1082l20-34-34-29-21 37zm61-83l20 23-34-39-21-30zm833-106l21-21-35-17-20 8zm61-75l21-33-35-27-20 34zm81-80l21 22-35-34-20-26zm102 49l20-3-34-8-21 14z"/>
<path class=aaf d="M1945 1048l21-35-35-36-20 42z"/>
<path class=aad d="M1966 1013l20-14-35-46-20 24z"/>
<path class=aam d="M2027 1045l20 22-35-32-20-23zm995-268l21 6-35-7-20-5zm21 6l20 4-35 3-20-14zm40 1l21 8-35-10-20-6z"/>
<path class=ao d="M2047 1067l20 22-34-33-21-21z"/>
<path class=aq d="M2067 1089l21-2-35-13-20-18z"/>
<path class=ap d="M2088 1087l20 6-35-14-20-5zm20 6l20-1-34-11-21-2zm41 5l20-20-35-9-20 8zm40-16l20 8-34-20-20 3zm20 8l21-12-35-6-20-2zm448-127l20-8-35-15-20 12zm142-66l20-4-34-30-21 28z"/>
<path class=am d="M2128 1092l21 6-35-21-20 4z"/>
<path class=aV d="M2169 1078l20 4-34-9-21-4zm183-14l20-4-35-13-20 13zm81-32l20 9-34-16-21 9zm163-47l20-5-35-11-20 11zm81-30l20-18-34 4-21-1zm81-33l21-24-35-6-20 14zm21-24l20-1-35-6-20 1z"/>
<path class=aan d="M2250 1073l20 17-34-20-20 6z"/>
<path class=aZ d="M2270 1090l21-13-35-17-20 10zm21-13l20-4-35-14-20 1zm162-36l21-4-35-17-20 5zm82-25l20-11-35-15-20 5z"/>
<path class=aY d="M2311 1073l20-9-34-3-21-2zm183-61l20 12-34-20-21 6zm142-33l21-16-35-11-20 13zm82-42l20-3-35-24-20 26z"/>
<path class=aaa d="M2372 1060l20-6-34-9-21 2zm183-55l20-9-34-7-21 1z"/>
<path class=aao d="M2413 1039l20-7-35 2-20 6z"/>
<path class=ay d="M2514 1024l21-8-35-21-20 9z"/>
<path class=ae d="M2616 980l20-1-34-14-21 4z"/>
<path class=aap d="M2738 934l20-12-34-16-21 4z"/>
<path class=aac d="M2840 872l20-21-35-26-20 30z"/>
<path class=aaq d="M2860 851l20-33-34-26-21 33z"/>
<path class=aar d="M2901 785l20-34-35-30-20 37z"/>
<path class=aas d="M2921 751l20-33-34-34-21 37z"/>
<path class=aat d="M2941 718l20 20-34-38-20-16z"/>
<path class=aD d="M2982 760l20 14-34-25-21-23z"/>
<path class=ai d="M3002 774l20 3-34-6-20-22z"/>
<path class=rl d="M1661 1289l20 0 20-26 21-4 20 1 20-23 21-4 20-4 20-21 21-16 20-28 20-16 21-33 20-33 20-34 21-35 20-14 20 23 21 23 20 22 20 22 21-2 20 6 20-1 21 6 20-20 20 4 20 8 21-12 20-5 20 17 21-13 20-4 20-9 21 0 20-4 20-6 21-15 20-7 20 9 21-4 20-25 20 12 21-8 20-11 20-9 21-11 20-5 20-1 21-16 20-8 20-18 21 0 20-3 20-12 21-24 20-1 20-4 21-21 20-21 20-33 21-33 20-34 20-33 20 20 21 22 20 14 20 3 21 6 20 4 20-3 21 8"/>
<path class=aa d="M1695 1266l21 5-35 18-20 0zm21 5l20-12-35 4-20 26z"/>
<path class=aL d="M1736 1259l20 7-34-7-21 4z"/>
<path class=aM d="M1756 1266l21-7-35 1-20-1zm21-7l20-7-35-15-20 23zm20-7l20-22-34 3-21 4zm61-37l20-14-34-9-21 16z"/>
<path class=aN d="M1817 1230l21-4-35 3-20 4zm21-4l20-11-35-7-20 21z"/>
<path class=aO d="M1878 1201l21-25-35-12-20 28z"/>
<path class=aP d="M1899 1176l20-11-35-17-20 16zm894-249l20-13-34-16-21 24zm41-20l20-15-35 1-20 4zm40-31l20-12-34-13-20 21z"/>
<path class=aQ d="M1919 1165l20-24-34-26-21 33zm935-273l20-16-34-4-21 21z"/>
<path class=aj d="M1939 1141l21-33-35-26-20 33z"/>
<path class=aC d="M1960 1108l20-34-35-26-20 34zm955-264l20-33-34-26-21 33z"/>
<path class=aR d="M1980 1074l20-33-34-28-21 35zm955-263l20-33-34-27-20 34z"/>
<path class=aS d="M2000 1041l21-6-35-36-20 14z"/>
<path class=aq d="M2021 1035l20 21-35-34-20-23zm182 63l21 2-35-18-20-4zm529-139l20-6-34-16-21 0zm264-189l20 21-34-31-21-22z"/>
<path class=ag d="M2041 1056l20 22-34-33-21-23z"/>
<path class=aT d="M2061 1078l21 11-35-22-20-22z"/>
<path class=aU d="M2082 1089l20 12-35-12-20-22z"/>
<path class=am d="M2102 1101l20 5-34-19-21 2zm20 5l21 4-35-17-20-6zm21 4l20-8-35-10-20 1zm670-196l21-7-35-10-20 1z"/>
<path class=aV d="M2163 1102l20 0-34-4-21-6zm122-8l20-6-35 2-20-17zm61-12l20-14-35-4-20 9zm20-14l20 4-34-8-21 0zm41 10l20-22-35-2-20 6zm183-62l20-13-35-7-20 9zm81-41l20 7-34-19-21 16zm102-32l20-16-35-5-20 12z"/>
<path class=ap d="M2183 1102l20-4-34-20-20 20zm41-2l20-1-35-9-20-8zm386-97l20 0-34-18-21 11zm81-21l21-16-35-11-20 8zm21-16l20-7-35-22-20 18zm40-13l21-10-35-9-20 3z"/>
<path class=aW d="M2244 1099l20-1-34-20-21 12zm386-96l21-12-35-11-20 5z"/>
<path class=ay d="M2264 1098l21-4-35-21-20 5zm183-40l21 1-35-27-20 7z"/>
<path class=aX d="M2305 1088l20 0-34-11-21 13zm183-44l20-1-34-6-21 4z"/>
<path class=aY d="M2325 1088l21-6-35-9-20 4zm102-32l20 2-34-19-21 15zm142-27l21-13-35-11-20 11z"/>
<path class=ae d="M2386 1072l21 6-35-18-20 4z"/>
<path class=aZ d="M2468 1059l20-15-35-3-20-9zm40-16l21-3-35-28-20 25zm21-3l20-6-35-10-20-12z"/>
<path class=aaa d="M2549 1034l20-5-34-13-21 8z"/>
<path class=aab d="M2651 991l20-16-35 4-20 1z"/>
<path class=aac d="M2894 864l21-20-35-26-20 33z"/>
<path class=aad d="M2955 778l21-29-35-31-20 33z"/>
<path class=aG d="M2976 749l20 21-35-32-20-20z"/>
<path class=aae d="M3016 791l21 0-35-17-20-14z"/>
<path class=aaf d="M3037 791l20 11-35-25-20-3zm20 11l20-1-34-18-21-6z"/>
<path class=aag d="M3077 801l21-5-35-9-20-4z"/>
<path class=aah d="M3098 796l20 2-35-14-20 3z"/>
<path class=aai d="M3118 798l20-4-34-2-21-8z"/>
<path class=aa d="M1730 1371l20-14-34-86-21-5zm20-14l21-20-35-78-20 12zm21-20l20-17-35-54-20-7zm20-17l20-17-34-44-21 7z"/>
<path class=ab d="M1811 1303l21-8-35-43-20 7z"/>
<path class=ac d="M1832 1295l20-10-35-55-20 22zm20-10l20-14-34-45-21 4z"/>
<path class=ad d="M1872 1271l21-24-35-32-20 11z"/>
<path class=ae d="M1893 1247l20-21-35-25-20 14z"/>
<path class=af d="M1913 1226l20-30-34-20-21 25z"/>
<path class=ag d="M1933 1196l21-33-35 2-20 11zm143-145l20 22-35 5-20-22zm975-265l20 22-34-17-21 0z"/>
<path class=ah d="M1954 1163l20-34-35 12-20 24z"/>
<path class=ai d="M1974 1129l20-33-34 12-21 33zm1097-321l21 19-35-25-20-11z"/>
<path class=aj d="M1994 1096l21-33-35 11-20 34zm915-200l20-30-35-2-20 12z"/>
<path class=ak d="M2015 1063l20-33-35 11-20 33z"/>
<path class=al d="M2035 1030l20 0-34 5-21 6zm162 104l21-6-35-26-20 0zm122-11l21 2-35-37-20 6z"/>
<path class=am d="M2055 1030l21 21-35 5-20-21zm833-112l21-22-35-20-20 16zm143-153l20 21-35 5-20-21z"/>
<path class=an d="M2096 1073l20 21-34-5-21-11z"/>
<path class=ao d="M2116 1094l20 22-34-15-20-12z"/>
<path class=ap d="M2136 1116l21 11-35-21-20-5z"/>
<path class=aq d="M2157 1127l20 4-34-21-21-4z"/>
<path class=ar d="M2177 1131l20 3-34-32-20 8zm793-331l20-33-35 11-20 33z"/>
<path class=as d="M2218 1128l20-3-35-27-20 4zm61 0l20 1-35-31-20 1zm20 1l20-6-34-29-21 4zm61-14l20-3-34-30-21 6zm61-6l20-7-34-24-21-6zm142-46l21 7-35-36-20 6zm41-11l20 0-34-36-21 13zm41-14l20-8-35-27-20 0zm61-23l20-8-35-25-20-7zm40-24l21 2-35-34-20 7zm61-18l20-15-34-31-20 16z"/>
<path class=at d="M2238 1125l20 12-34-37-21-2zm529-132l20-20-35-20-20 6zm20-20l20 0-34-30-21 10zm61-23l20-24-34-19-21 7z"/>
<path class=au d="M2258 1137l21-9-35-29-20 1zm82-12l20-10-35-27-20 0zm61-15l20-1-35-37-20-4z"/>
<path class=av d="M2380 1112l21-2-35-42-20 14z"/>
<path class=aw d="M2441 1102l21-2-35-44-20 22zm21-2l20-3-35-39-20-2zm40-17l21 1-35-40-20 15zm21 1l20-18-35-23-20 1zm101-32l21-14-35-35-20 13zm41-22l20 3-34-42-21 12z"/>
<path class=ax d="M2482 1097l20-14-34-24-21-1z"/>
<path class=ay d="M2543 1066l20-3-34-23-21 3zm183-59l20-16-34-25-21 16z"/>
<path class=az d="M2584 1070l20-18-35-23-20 5z"/>
<path class=aA d="M2685 1033l21-18-35-40-20 16z"/>
<path class=aB d="M2827 958l21-8-35-36-20 13z"/>
<path class=aC d="M2868 926l20-8-34-26-20 15z"/>
<path class=aD d="M2929 866l20-33-34 11-21 20z"/>
<path class=aE d="M2949 833l21-33-35 11-20 33z"/>
<path class=aF d="M2990 767l20-24-34 6-21 29z"/>
<path class=aG d="M3010 743l21 22-35 5-20-21z"/>
<path class=aH d="M3092 827l20-1-35-25-20 1z"/>
<path class=aI d="M3112 826l20 6-34-36-21 5z"/>
<path class=aJ d="M3132 832l21 0-35-34-20-2z"/>
<path class=aK d="M3153 832l20-2-35-36-20 4z"/>
<path class=rl d="M1730 1371l20-14 21-20 20-17 20-17 21-8 20-10 20-14 21-24 20-21 20-30 21-33 20-34 20-33 21-33 20-33 20 0 21 21 20 22 20 21 20 22 21 11 20 4 20 3 21-6 20-3 20 12 21-9 20 1 20-6 21 2 20-10 20-3 21-2 20-1 20-7 21-2 20-3 20-14 21 1 20-18 20-3 21 7 20-18 20 0 21-14 20-8 20 3 21-18 20-8 20-16 21 2 20-20 20 0 20-15 21-8 20-24 20-8 21-22 20-30 20-33 21-33 20-33 20-24 21 22 20 21 20 22 21 19 20-1 20 6 21 0 20-2"/>
</g>
<defs><linearGradient id="gb00" gradientUnits="userSpaceOnUse" x1="4731" y1="396" x2="4731" y2="1226"><stop offset="0.00" stop-color="#d4d50c"/><stop offset="0.12" stop-color="#d7ae28"/><stop offset="0.25" stop-color="#bc9e47"/><stop offset="0.38" stop-color="#86a25d"/><stop offset="0.50" stop-color="#42a07c"/><stop offset="0.62" stop-color="#0c949e"/><stop offset="0.75" stop-color="#097fb2"/><stop offset="0.88" stop-color="#0c64bb"/><stop offset="1.00" stop-color="#2540a9"/></linearGradient><linearGradient id="gb01" gradientUnits="userSpaceOnUse" x1="4925" y1="503" x2="4925" y2="1333"><stop offset="0.00" stop-color="#d4d50c"/><stop offset="0.12" stop-color="#d7ae28"/><stop offset="0.25" stop-color="#bc9e47"/><stop offset="0.38" stop-color="#86a25d"/><stop offset="0.50" stop-color="#42a07c"/><stop offset="0.62" stop-color="#0c949e"/><stop offset="0.75" stop-color="#097fb2"/><stop offset="0.88" stop-color="#0c64bb"/><stop offset="1.00" stop-color="#2540a9"/></linearGradient><linearGradient id="gb02" gradientUnits="userSpaceOnUse" x1="5124" y1="610" x2="5124" y2="1440"><stop offset="0.00" stop-color="#d4d50c"/><stop offset="0.12" stop-color="#d7ae28"/><stop offset="0.25" stop-color="#bc9e47"/><stop offset="0.38" stop-color="#86a25d"/><stop offset="0.50" stop-color="#42a07c"/><stop offset="0.62" stop-color="#0c949e"/><stop offset="0.75" stop-color="#097fb2"/><stop offset="0.88" stop-color="#0c64bb"/><stop offset="1.00" stop-color="#2540a9"/></linearGradient><linearGradient id="gb03" gradientUnits="userSpaceOnUse" x1="5316" y1="717" x2="5316" y2="1547"><stop offset="0.00" stop-color="#d4d50c"/><stop offset="0.12" stop-color="#d7ae28"/><stop offset="0.25" stop-color="#bc9e47"/><stop offset="0.38" stop-color="#86a25d"/><stop offset="0.50" stop-color="#42a07c"/><stop offset="0.62" stop-color="#0c949e"/><stop offset="0.75" stop-color="#097fb2"/><stop offset="0.88" stop-color="#0c64bb"/><stop offset="1.00" stop-color="#2540a9"/></linearGradient><linearGradient id="gb04" gradientUnits="userSpaceOnUse" x1="5512" y1="824" x2="5512" y2="1654"><stop offset="0.00" stop-color="#d4d50c"/><stop offset="0.12" stop-color="#d7ae28"/><stop offset="0.25" stop-color="#bc9e47"/><stop offset="0.38" stop-color="#86a25d"/><stop offset="0.50" stop-color="#42a07c"/><stop offset="0.62" stop-color="#0c949e"/><stop offset="0.75" stop-color="#097fb2"/><stop offset="0.88" stop-color="#0c64bb"/><stop offset="1.00" stop-color="#2540a9"/></linearGradient><linearGradient id="gb10" gradientUnits="userSpaceOnUse" x1="5668" y1="111" x2="5668" y2="941"><stop offset="0.00" stop-color="#d4d50c"/><stop offset="0.12" stop-color="#d7ae28"/><stop offset="0.25" stop-color="#bc9e47"/><stop offset="0.38" stop-color="#86a25d"/><stop offset="0.50" stop-color="#42a07c"/><stop offset="0.62" stop-color="#0c949e"/><stop offset="0.75" stop-color="#097fb2"/><stop offset="0.88" stop-color="#0c64bb"/><stop offset="1.00" stop-color="#2540a9"/></linearGradient><linearGradient id="gb11" gradientUnits="userSpaceOnUse" x1="5864" y1="214" x2="5864" y2="1044"><stop offset="0.00" stop-color="#d4d50c"/><stop offset="0.12" stop-color="#d7ae28"/><stop offset="0.25" stop-color="#bc9e47"/><stop offset="0.38" stop-color="#86a25d"/><stop offset="0.50" stop-color="#42a07c"/><stop offset="0.62" stop-color="#0c949e"/><stop offset="0.75" stop-color="#097fb2"/><stop offset="0.88" stop-color="#0c64bb"/><stop offset="1.00" stop-color="#2540a9"/></linearGradient><linearGradient id="gb12" gradientUnits="userSpaceOnUse" x1="6063" y1="325" x2="6063" y2="1155"><stop offset="0.00" stop-color="#d4d50c"/><stop offset="0.12" stop-color="#d7ae28"/><stop offset="0.25" stop-color="#bc9e47"/><stop offset="0.38" stop-color="#86a25d"/><stop offset="0.50" stop-color="#42a07c"/><stop offset="0.62" stop-color="#0c949e"/><stop offset="0.75" stop-color="#097fb2"/><stop offset="0.88" stop-color="#0c64bb"/><stop offset="1.00" stop-color="#2540a9"/></linearGradient><linearGradient id="gb13" gradientUnits="userSpaceOnUse" x1="6259" y1="432" x2="6259" y2="1262"><stop offset="0.00" stop-color="#d4d50c"/><stop offset="0.12" stop-color="#d7ae28"/><stop offset="0.25" stop-color="#bc9e47"/><stop offset="0.38" stop-color="#86a25d"/><stop offset="0.50" stop-color="#42a07c"/><stop offset="0.62" stop-color="#0c949e"/><stop offset="0.75" stop-color="#097fb2"/><stop offset="0.88" stop-color="#0c64bb"/><stop offset="1.00" stop-color="#2540a9"/></linearGradient><linearGradient id="gb14" gradientUnits="userSpaceOnUse" x1="6457" y1="538" x2="6457" y2="1368"><stop offset="0.00" stop-color="#d4d50c"/><stop offset="0.12" stop-color="#d7ae28"/><stop offset="0.25" stop-color="#bc9e47"/><stop offset="0.38" stop-color="#86a25d"/><stop offset="0.50" stop-color="#42a07c"/><stop offset="0.62" stop-color="#0c949e"/><stop offset="0.75" stop-color="#097fb2"/><stop offset="0.88" stop-color="#0c64bb"/><stop offset="1.00" stop-color="#2540a9"/></linearGradient></defs><g class=sb transform="scale(.1)">
<path class=bbE d="M4228 1259l17-14-22-13-17 27z"/>
<path class=baS d="M4245 1245l18-21-23 32-17-24zm687-219l18-14-22 23-18 62z"/>
<path class=bn d="M4263 1224l17 16-22-13-18 29z"/>
<path class=bg d="M4280 1240l17 2-22 5-17-20zm171-51l18-18-23 30-17-10zm928-264l17 6-22-1-17-33z"/>
<path class=bbm d="M4297 1242l17-26-22 28-17 3z"/>
<path class=baF d="M4314 1216l17-13-22 18-17 23z"/>
<path class=bv d="M4331 1203l17-4-22 25-17-3zm103-17l17 3-22 2-17-30zm344-110l17 12-22 8-17-28zm206-60l17 7-22 0-17 12zm34-8l18-5-23 17-17-6z"/>
<path class=beB d="M4348 1199l18-21-23-7-17 53z"/>
<path class=beq d="M4366 1178l17-3-22-19-18 15z"/>
<path class=bei d="M4383 1175l17 1-22-21-17 1z"/>
<path class=ber d="M4400 1176l17 7-22-29-17 1z"/>
<path class=bbU d="M4417 1183l17 3-22-25-17-7zm344-94l17-13-22-8-17-7z"/>
<path class=baD d="M4469 1171l17-18-22 4-18 44zm498-157l17 2-22 19-17-8zm292-81l17 15-22 3-17-27z"/>
<path class=baE d="M4486 1153l17 16-22-29-17 17z"/>
<path class=bax d="M4503 1169l17 20-22-32-17-17zm962-283l17 31-22-38-17-12z"/>
<path class=baO d="M4520 1189l17-15-22 16-17-33zm103-60l17 72-22-68-17-5zm533-137l17 21-22-15-17-24z"/>
<path class=bp d="M4537 1174l18 2-23-13-17 27z"/>
<path class=bbX d="M4555 1176l17-40-22 11-18 16z"/>
<path class=baV d="M4572 1136l17-3-22-10-17 24z"/>
<path class=ban d="M4589 1133l17-2-22-23-17 15z"/>
<path class=baT d="M4606 1131l17-2-22-1-17-20zm704-208l18 4-23-22-17 26zm207-38l17-28-22-21-18 32z"/>
<path class=bgW d="M4640 1201l18-37-23-38-17 7z"/>
<path class=bdk d="M4658 1164l17-28-22-27-18 17zm824-247l17-9-22-26-17-3z"/>
<path class=bH d="M4675 1136l17 14-22-37-17-4z"/>
<path class=bbN d="M4692 1150l17-10-22-7-17-20z"/>
<path class=baP d="M4709 1140l17-15-22-31-17 39z"/>
<path class=bcd d="M4726 1125l18 8-23-63-17 24z"/>
<path class=bG d="M4744 1133l17-44-22-28-18 9z"/>
<path class=bbu d="M4795 1088l17 21-22 19-17-32z"/>
<path class=bbK d="M4812 1109l17-40-22 14-17 45zm464-161l17-13-22 71-17-55zm137-46l18 8-23 27-17 6z"/>
<path class=bR d="M4829 1069l18 6-23-7-17 15z"/>
<path class=bf d="M4847 1075l17-17-22 3-18 7z"/>
<path class=bS d="M4864 1058l17 10-22-13-17 6z"/>
<path class=bM d="M4881 1068l17 25-22-27-17-11zm34 1l17-43-22 71-17-47z"/>
<path class=bcn d="M4898 1093l17-24-22-19-17 16z"/>
<path class=bap d="M4950 1012l17 2-22 13-17 8z"/>
<path class=baX d="M5001 1023l17-15-22 6-17 9z"/>
<path class=bdj d="M5036 1003l17-3-22 5-18 15z"/>
<path class=baN d="M5053 1000l17 13-22-31-17 23z"/>
<path class=bct d="M5070 1013l17-24-22-14-17 7z"/>
<path class=bu d="M5087 989l17-14-22-4-17 4zm155-43l17-13-22-9-17 4z"/>
<path class=baC d="M5104 975l17 7-22-10-17-1z"/>
<path class=bZ d="M5121 982l18 7-23-23-17 6zm327-91l17-5-22-19-17 19z"/>
<path class=bbd d="M5139 989l17 3-22-18-18-8z"/>
<path class=bV d="M5173 1013l17-51-22-4-17 40zm481-196l17 0-22 48-17 8z"/>
<path class=baU d="M5190 962l17-22-22 2-17 16z"/>
<path class=bP d="M5207 940l18 7-23-16-17 11zm361-106l17 10-22-15-17 1z"/>
<path class=bbW d="M5225 947l17-1-22-18-18 3z"/>
<path class=bA d="M5293 935l17-12-22 8-17 75z"/>
<path class=bdF d="M5328 927l17 14-22-45-18 9z"/>
<path class=baj d="M5345 941l17-6-22-40-17 1z"/>
<path class=bcK d="M5362 935l17-10-22-28-17-2z"/>
<path class=bj d="M5396 931l17-29-22 41-17-13z"/>
<path class=bB d="M5431 910l17-19-22-5-18 51z"/>
<path class=bw d="M5499 908l18-23-23-17-17 14z"/>
<path class=bcJ d="M5534 857l17-26-22-5-17 10z"/>
<path class=bcD d="M5551 831l17 3-22-4-17-4z"/>
<path class=bO d="M5585 844l17-17-22 3-17-1z"/>
<path class=baw d="M5602 827l18-13-23 33-17-17z"/>
<path class=bbi d="M5620 814l17-1-22 51-18-17z"/>
<path class=bQ d="M5637 813l17 4-22 56-17-9z"/>
<path class=bv d="M4250 1243l17 8-22-6-17 14z"/>
<path class=baN d="M4267 1251l18-2-22-25-18 21zm155-37l17 11-22-42-17-7zm584-171l17-10-22-10-17-7z"/>
<path class=bbd d="M4285 1249l17 3-22-12-17-16zm343-100l17 20-22-40-17 2zm241-73l17 6-22-24-17 17zm17 6l17-16-22 2-17-10z"/>
<path class=baP d="M4302 1252l17 51-22-61-17-2zm17 51l17-72-22-15-17 26zm1185-381l18-3-23-11-17 9z"/>
<path class=bE d="M4336 1231l17-8-22-20-17 13zm17-8l18 8-23-32-17 4z"/>
<path class=bdY d="M4371 1231l17-16-22-37-18 21z"/>
<path class=bdS d="M4388 1215l17-7-22-33-17 3z"/>
<path class=bdP d="M4405 1208l17 6-22-38-17-1z"/>
<path class=bcS d="M4439 1225l17-18-22-21-17-3z"/>
<path class=bdo d="M4456 1207l18-46-23 28-17-3z"/>
<path class=baw d="M4474 1161l17-4-22 14-18 18zm824-237l17-3-22 14-17 13zm35-6l17 11-22-2-18-4z"/>
<path class=bO d="M4491 1157l17 17-22-21-17 18zm773-202l17-20-22-2-17 13z"/>
<path class=baE d="M4508 1174l17 5-22-10-17-16zm533-162l17 26-22-35-18 5zm17 26l17-40-22 2-17 3z"/>
<path class=bg d="M4525 1179l17 8-22 2-17-20zm189-52l17-18-22 31-17 10zm17-18l17 9-22 7-17 15zm17 9l18-12-22 27-18-8z"/>
<path class=bbX d="M4542 1187l18-17-23 4-17 15z"/>
<path class=bn d="M4560 1170l17-7-22 13-18-2zm343-104l17-15-22 42-17-25zm17-15l17 2-22 16-17 24zm258-56l17-27-22 45-17-21zm309-104l17 31-22-5-17-31z"/>
<path class=bf d="M4577 1163l17-6-22-21-17 40z"/>
<path class=bbx d="M4594 1157l17-11-22-13-17 3z"/>
<path class=bZ d="M4611 1146l17 3-22-18-17 2zm859-238l17-17-22-5-17 5z"/>
<path class=bae d="M4645 1169l18 13-23 19-17-72zm18 13l17-38-22 20-18 37z"/>
<path class=by d="M4680 1144l17 8-22-16-17 28zm17 8l17-25-22 23-17-14z"/>
<path class=bdH d="M4766 1106l17-13-22-4-17 44z"/>
<path class=baU d="M4783 1093l17-12-22-5-17 13z"/>
<path class=bcv d="M4800 1081l17-11-22 18-17-12z"/>
<path class=bbF d="M4817 1070l17-8-22 47-17-21z"/>
<path class=baD d="M4834 1062l18 9-23-2-17 40zm361-94l17 0-22-6-17 51z"/>
<path class=bba d="M4852 1071l17 5-22-1-18-6z"/>
<path class=bS d="M4937 1053l18 3-23-30-17 43z"/>
<path class=bbs d="M4955 1056l17-7-22-37-18 14z"/>
<path class=bU d="M4972 1049l17 4-22-39-17-2z"/>
<path class=bdV d="M4989 1053l17-10-22-27-17-2zm601-170l17-14-22-25-17-10zm86-19l17-34-22-13-17 0z"/>
<path class=baT d="M5023 1033l18-21-23-4-17 15z"/>
<path class=bap d="M5075 998l17-3-22 18-17-13z"/>
<path class=bi d="M5092 995l17 43-22-49-17 24z"/>
<path class=bbq d="M5109 1038l17-25-22-38-17 14z"/>
<path class=bdT d="M5126 1013l18-17-23-14-17-7z"/>
<path class=bax d="M5144 996l17 17-22-24-18-7z"/>
<path class=bH d="M5161 1013l17-18-22-3-17-3z"/>
<path class=ban d="M5212 968l17 2-22-30-17 22z"/>
<path class=bb d="M5229 970l18 82-22-105-18-7z"/>
<path class=bd d="M5247 1052l17-97-22-9-17 1z"/>
<path class=bcr d="M5281 935l17-11-22 24-17-15z"/>
<path class=beD d="M5315 921l18-3-23 5-17 12z"/>
<path class=baS d="M5350 929l17 31-22-19-17-14z"/>
<path class=bW d="M5367 960l17-21-22-4-17 6z"/>
<path class=bbb d="M5384 939l17 75-22-89-17 10z"/>
<path class=bgU d="M5401 1014l17-59-22-24-17-6z"/>
<path class=baR d="M5418 955l18 23-23-76-17 29z"/>
<path class=beN d="M5436 978l17-41-22-27-18-8z"/>
<path class=bh d="M5453 937l17-29-22-17-17 19z"/>
<path class=bY d="M5522 919l17-34-22 0-18 23z"/>
<path class=baV d="M5539 885l17-16-22-12-17 28z"/>
<path class=bgk d="M5556 869l17 21-22-59-17 26z"/>
<path class=bgh d="M5573 890l17-7-22-49-17-3z"/>
<path class=bde d="M5607 869l18-11-23-31-17 17z"/>
<path class=bgV d="M5625 858l17-12-22-32-18 13z"/>
<path class=bgz d="M5642 846l17-8-22-25-17 1z"/>
<path class=bch d="M5659 838l17 26-22-47-17-4z"/>
<path class=bbf d="M4272 1286l18-9-23-26-17-8z"/>
<path class=bay d="M4290 1277l17-5-22-23-18 2z"/>
<path class=bc d="M4307 1272l17 37-22-57-17-3z"/>
<path class=baH d="M4324 1309l17-49-22 43-17-51zm378-146l17 56-22-67-17-8z"/>
<path class=bg d="M4341 1260l17-20-22-9-17 72zm35-24l17 56-22-61-18-8zm618-178l17 39-22-44-17-4z"/>
<path class=bi d="M4358 1240l18-4-23-13-17 8zm1289-387l17 36-22-43-17 12z"/>
<path class=bau d="M4393 1292l17-50-22-27-17 16z"/>
<path class=bbD d="M4410 1242l17 3-22-37-17 7zm326-92l17-15-22-26-17 18z"/>
<path class=be d="M4427 1245l17 7-22-38-17-6zm481-121l17-43-22-15-17 16z"/>
<path class=bw d="M4444 1252l17-22-22-5-17-11z"/>
<path class=bd d="M4461 1230l18 3-23-26-17 18zm550-133l17-46-22-8-17 10z"/>
<path class=bbd d="M4479 1233l17-30-22-42-18 46zm51-43l17 14-22-25-17-5zm223-55l18 6-23-23-17-9zm275-84l18-2-23-16-17 10z"/>
<path class=bgR d="M4496 1203l17-13-22-33-17 4z"/>
<path class=bu d="M4513 1190l17 0-22-16-17-17z"/>
<path class=bH d="M4547 1204l18-15-23-2-17-8zm344-105l17 25-22-42-17-6zm258-79l17 44-22-68-18 17zm429-109l17-1-22-20-17-21z"/>
<path class=bax d="M4565 1189l17-6-22-13-18 17zm498-145l17 7-22-13-17-26z"/>
<path class=bS d="M4582 1183l17-22-22 2-17 7z"/>
<path class=baL d="M4599 1161l17-16-22 12-17 6zm1031-302l17-6-22 5-18 11z"/>
<path class=bcp d="M4616 1145l17-3-22 4-17 11z"/>
<path class=bap d="M4633 1142l17 5-22 2-17-3z"/>
<path class=bv d="M4650 1147l18 2-23 20-17-20zm1031-283l17-9-22 9-17-26z"/>
<path class=bA d="M4668 1149l17 6-22 27-18-13z"/>
<path class=bp d="M4685 1155l17 8-22-19-17 38z"/>
<path class=bfZ d="M4719 1219l17-69-22-23-17 25z"/>
<path class=baf d="M4771 1141l17 8-22-43-18 12z"/>
<path class=bdz d="M4788 1149l17 13-22-69-17 13z"/>
<path class=bbC d="M4805 1162l17-31-22-50-17 12z"/>
<path class=bdJ d="M4822 1131l17-21-22-40-17 11z"/>
<path class=bgh d="M4839 1110l18 3-23-51-17 8z"/>
<path class=bff d="M4857 1113l17-5-22-37-18-9zm189-64l17-5-22-32-18 21z"/>
<path class=bbp d="M4874 1108l17-9-22-23-17-5z"/>
<path class=bdT d="M4925 1081l17 2-22-32-17 15zm430-111l17-4-22-37-17-11z"/>
<path class=bh d="M4942 1083l18 27-23-57-17-2zm756-228l17 14-22-39-17 34z"/>
<path class=bcC d="M4960 1110l17-28-22-26-18-3z"/>
<path class=bdb d="M4977 1082l17-24-22-9-17 7z"/>
<path class=baV d="M5080 1051l17-34-22-19-17 40z"/>
<path class=bch d="M5097 1017l17 19-22-41-17 3z"/>
<path class=baS d="M5114 1036l17-7-22 9-17-43z"/>
<path class=bR d="M5131 1029l18-9-23-7-17 25z"/>
<path class=bdG d="M5166 1064l17-49-22-2-17-17z"/>
<path class=bf d="M5183 1015l17-15-22-5-17 18z"/>
<path class=bT d="M5200 1000l17 35-22-67-17 27z"/>
<path class=bft d="M5217 1035l17-35-22-32-17 0z"/>
<path class=bF d="M5234 1000l18 0-23-30-17-2z"/>
<path class=bj d="M5252 1000l17-9-22 61-18-82zm120-34l17 51-22-57-17-31zm69-30l17-4-22 46-18-23z"/>
<path class=bM d="M5269 991l17-18-22-18-17 97zm189-59l17-18-22 23-17 41z"/>
<path class=bde d="M5286 973l17-1-22-37-17 20z"/>
<path class=bcl d="M5303 972l17-4-22-44-17 11z"/>
<path class=bbV d="M5320 968l18 10-23-57-17 3z"/>
<path class=bgS d="M5338 978l17-8-22-52-18 3z"/>
<path class=bgT d="M5389 1017l17-50-22-28-17 21z"/>
<path class=bad d="M5406 967l17-15-22 62-17-75z"/>
<path class=bae d="M5423 952l18-16-23 19-17 59z"/>
<path class=bC d="M5475 914l17-1-22-5-17 29z"/>
<path class=baN d="M5492 913l17 22-22-44-17 17z"/>
<path class=br d="M5509 935l18 20-23-33-17-31z"/>
<path class=bdt d="M5527 955l17-24-22-12-18 3z"/>
<path class=beC d="M5544 931l17 1-22-47-17 34z"/>
<path class=bcB d="M5561 932l17-21-22-42-17 16z"/>
<path class=bbE d="M5595 910l17-33-22 6-17 7z"/>
<path class=bN d="M5612 877l18-18-23 10-17 14z"/>
<path class=baA d="M5664 889l17-25-22-26-17 8z"/>
<path class=bw d="M4295 1304l17-4-22-23-18 9zm17-4l17-14-22-14-17 5zm1013-290l18 14-23-56-17 4z"/>
<path class=bM d="M4329 1286l17-19-22 42-17-37zm584-163l17-14-22 15-17-25zm309-108l17 28-22-8-17-35z"/>
<path class=bbm d="M4346 1267l17 8-22-15-17 49zm481-126l17-7-22-3-17 31z"/>
<path class=baf d="M4363 1275l18 14-23-49-17 20z"/>
<path class=bbj d="M4381 1289l17 38-22-91-18 4zm412-125l17-11-22-4-17-8z"/>
<path class=bgP d="M4398 1327l17-52-22 17-17-56z"/>
<path class=bgq d="M4415 1275l17 14-22-47-17 50z"/>
<path class=bgn d="M4432 1289l17-24-22-20-17-3z"/>
<path class=baa d="M4449 1265l17-26-22 13-17-7z"/>
<path class=by d="M4466 1239l18-5-23-4-17 22zm1117-313l17-8-22-7-17 21z"/>
<path class=bdx d="M4484 1234l17 5-22-6-18-3z"/>
<path class=bbE d="M4501 1239l17-19-22-17-17 30z"/>
<path class=bbf d="M4518 1220l17 2-22-32-17 13zm1117-317l17 24-22-68-18 18z"/>
<path class=bH d="M4535 1222l17 31-22-63-17 0zm241-62l17 4-22-23-18-6zm120-48l17 11-22-24-17 9zm824-226l18 5-23-22-17-14z"/>
<path class=bdX d="M4552 1253l17-31-22-18-17-14z"/>
<path class=bd d="M4569 1222l18-17-22-16-18 15z"/>
<path class=bW d="M4587 1205l17 35-22-57-17 6zm463-139l18 41-22-58-18 2z"/>
<path class=be d="M4604 1240l17-55-22-24-17 22z"/>
<path class=bdY d="M4621 1185l17-1-22-39-17 16z"/>
<path class=bbd d="M4638 1184l17 39-22-81-17 3zm481-132l17-6-22-10-17-19z"/>
<path class=baz d="M4655 1223l18-36-23-40-17-5z"/>
<path class=bay d="M4673 1187l17 3-22-41-18-2zm635-182l17 5-22-38-17 1zm155-42l17-17-22-14-17 4z"/>
<path class=bce d="M4690 1190l17-17-22-18-17-6z"/>
<path class=bf d="M4707 1173l17-27-22 17-17-8zm550-163l17-16-22 6-18 0zm17-16l17 2-22-5-17 9z"/>
<path class=baG d="M4724 1146l17 6-22 67-17-56z"/>
<path class=bbu d="M4741 1152l17 14-22-16-17 69zm69 1l17-12-22 21-17-13z"/>
<path class=bbO d="M4758 1166l18-6-23-25-17 15zm894-239l17 23-22-97-17 6z"/>
<path class=baP d="M4844 1134l18 65-23-89-17 21z"/>
<path class=bdt d="M4862 1199l17-76-22-10-18-3zm515-161l17-58-22-14-17 4z"/>
<path class=bb d="M4879 1123l17-11-22-4-17 5zm738-223l18 3-23-26-17 33z"/>
<path class=bV d="M4930 1109l17-19-22-9-17 43zm103-21l17-22-22-15-17 46z"/>
<path class=bax d="M4947 1090l18 5-23-12-17-2zm138-28l17-8-22-3-17-7z"/>
<path class=bg d="M4965 1095l17-17-22 32-18-27zm17-17l17 5-22-1-17 28z"/>
<path class=bh d="M4999 1083l17 2-22-27-17 24zm292-87l17 9-22-32-17 18z"/>
<path class=bA d="M5016 1085l17 3-22 9-17-39zm515-156l18-16-22 42-18-20zm35-23l17 20-22 6-17-1z"/>
<path class=bdz d="M5068 1107l17-45-22-18-17 5z"/>
<path class=bdb d="M5102 1054l17-2-22-35-17 34z"/>
<path class=baK d="M5136 1046l18-18-23 1-17 7z"/>
<path class=baX d="M5154 1028l17-16-22 8-18 9z"/>
<path class=baS d="M5171 1012l17-3-22 55-17-44z"/>
<path class=bn d="M5188 1009l17 2-22 4-17 49zm326-75l17-5-22 6-17-22zm35-21l17-7-22 25-17 24z"/>
<path class=bS d="M5205 1011l17 4-22-15-17 15z"/>
<path class=bp d="M5239 1043l18-33-23-10-17 35z"/>
<path class=bbM d="M5343 1024l17-15-22-31-18-10z"/>
<path class=bgQ d="M5360 1009l17 29-22-68-17 8z"/>
<path class=bj d="M5394 980l17-12-22 49-17-51zm17-12l17 13-22-14-17 50z"/>
<path class=bci d="M5428 981l18-10-23-19-17 15z"/>
<path class=bdl d="M5446 971l17-8-22-27-18 16z"/>
<path class=bbJ d="M5480 946l17-8-22-24-17 18zm17-8l17-4-22-21-17 1z"/>
<path class=bbh d="M5600 918l17-18-22 10-17 1z"/>
<path class=bx d="M5669 950l17-27-22-34-17-36z"/>
<path class=baQ d="M5686 923l17-8-22-51-17 25z"/>
<path class=bdU d="M5703 915l17-29-22-31-17 9z"/>
<path class=bbN d="M4317 1312l17 17-22-29-17 4z"/>
<path class=bcb d="M4334 1329l17 1-22-44-17 14z"/>
<path class=bI d="M4351 1330l17-21-22-42-17 19z"/>
<path class=bdk d="M4368 1309l18-23-23-11-17-8zm1272-363l17-2-22-41-18-3z"/>
<path class=bg d="M4386 1286l17-31-22 34-18-14zm687-207l17-11-22 39-18-41z"/>
<path class=bbm d="M4403 1255l17-9-22 81-17-38zm51-5l17-16-22 31-17 24z"/>
<path class=bfl d="M4420 1246l17 84-22-55-17 52z"/>
<path class=beH d="M4437 1330l17-80-22 39-17-14z"/>
<path class=baS d="M4471 1234l18 2-23 3-17 26zm327-93l17-9-22 32-17-4zm17-9l17 0-22 21-17 11zm206-58l17 25-22-14-17-2zm430-122l17-5-22 24-18 10zm17-5l17 2-22 14-17 8z"/>
<path class=bM d="M4489 1236l17 67-22-69-18 5z"/>
<path class=bgN d="M4506 1303l17-46-22-18-17-5z"/>
<path class=beC d="M4523 1257l17 7-22-44-17 19z"/>
<path class=bbB d="M4540 1264l17 43-22-85-17-2z"/>
<path class=bfu d="M4557 1307l17-93-22 39-17-31z"/>
<path class=bA d="M4574 1214l18-2-23 10-17 31zm756-228l18 44-23-20-17-5z"/>
<path class=bW d="M4592 1212l17 19-22-26-18 17z"/>
<path class=bj d="M4609 1231l17-19-22 28-17-35zm51-22l18 12-23 2-17-39zm103-46l18 69-23-66-17-14zm121-29l17-14-22 3-17 76zm515-144l17-18-22 8-17 58zm189-65l17 97-22-96-17-20zm103-29l17 11-22 16-17 27z"/>
<path class=bB d="M4626 1212l17-15-22-12-17 55z"/>
<path class=bbd d="M4643 1197l17 12-22-25-17 1z"/>
<path class=bgO d="M4678 1221l17 27-22-61-18 36z"/>
<path class=bgp d="M4695 1248l17-36-22-22-17-3z"/>
<path class=bgq d="M4712 1212l17 55-22-94-17 17z"/>
<path class=bas d="M4729 1267l17-85-22-36-17 27z"/>
<path class=bbf d="M4746 1182l17-19-22-11-17-6z"/>
<path class=bp d="M4781 1232l17-91-22 19-18 6z"/>
<path class=bn d="M4832 1132l17 17-22-8-17 12zm258-64l17-6-22 0-17 45zm343-91l18-25-23 29-17-13z"/>
<path class=bc d="M4849 1149l18 28-23-43-17 7zm69-11l17 16-22-31-17-11z"/>
<path class=bae d="M4867 1177l17-43-22 65-18-65zm515-165l17-22-22 48-17-29z"/>
<path class=bax d="M4901 1120l17 18-22-26-17 11zm51 5l18-21-23-14-17 19zm155-63l17 3-22-11-17 8zm412-97l17-31-22 0-17 4z"/>
<path class=bcn d="M4935 1154l17-29-22-16-17 14z"/>
<path class=bS d="M4970 1104l17-9-22 0-18-5zm17-9l17-9-22-8-17 17z"/>
<path class=baV d="M5004 1086l17-12-22 9-17-5zm550-164l17-5-22-4-18 16z"/>
<path class=bbH d="M5038 1099l17 16-22-27-17-3z"/>
<path class=baB d="M5055 1115l18-36-23-13-17 22z"/>
<path class=bH d="M5124 1065l17 4-22-17-17 2z"/>
<path class=be d="M5141 1069l18-8-23-15-17 6zm361-108l17 4-22-27-17 8zm120-35l18 20-23-46-17 18z"/>
<path class=bay d="M5159 1061l17-6-22-27-18 18z"/>
<path class=bdO d="M5176 1055l17 10-22-53-17 16z"/>
<path class=ba d="M5193 1065l17 15-22-71-17 3z"/>
<path class=bby d="M5210 1080l17-25-22-44-17-2z"/>
<path class=bd d="M5227 1055l17 22-22-62-17-4z"/>
<path class=bci d="M5244 1077l18-60-23 26-17-28z"/>
<path class=baF d="M5262 1017l17-23-22 16-18 33z"/>
<path class=beg d="M5279 994l17-8-22 8-17 16z"/>
<path class=bap d="M5296 986l17-1-22 11-17-2z"/>
<path class=baD d="M5313 985l17 1-22 19-17-9z"/>
<path class=baH d="M5348 1030l17-17-22 11-18-14z"/>
<path class=bo d="M5365 1013l17-1-22-3-17 15z"/>
<path class=bz d="M5416 972l17 5-22-9-17 12zm69-23l17 12-22-15-17 17z"/>
<path class=baX d="M5536 934l18-12-23 7-17 5z"/>
<path class=baE d="M5571 917l17 8-22-19-17 7z"/>
<path class=bdy d="M5605 1022l17-96-22-8-17 8z"/>
<path class=br d="M5657 944l17-40-22 23-17-24z"/>
<path class=bbK d="M5674 904l17-8-22 54-17-23z"/>
<path class=bad d="M5708 907l17 5-22 3-17 8z"/>
<path class=by d="M5725 912l18-12-23-14-17 29z"/>
<path class=bbh d="M5743 900l17-21-22 12-18-5z"/>
<path class=bfg d="M4339 1266l17-8-22 71-17-17zm240-77l18-8-23 33-17 93zm189-20l18-13-23 7-17 19zm464-161l17-8-22 55-17 25zm17-8l18-6-23 83-17-22z"/>
<path class=bR d="M4356 1258l17 2-22 70-17-1z"/>
<path class=bB d="M4373 1260l17 25-22 24-17 21z"/>
<path class=bv d="M4390 1285l18-43-22 44-18 23zm241-84l17-10-22 21-17 19zm721-202l18-1-22 32-18-44zm86-29l18 36-23-29-17-5z"/>
<path class=beZ d="M4408 1242l17-11-22 24-17 31zm189-61l17-1-22 32-18 2zm532-151l17-9-22 44-17-3z"/>
<path class=bcV d="M4425 1231l17 4-22 11-17 9zm69-10l17-18-22 33-18-2z"/>
<path class=bbi d="M4442 1235l17-6-22 101-17-84zm447-128l17 7-22 20-17 43z"/>
<path class=bdj d="M4459 1229l17-1-22 22-17 80zm86-13l17-19-22 67-17-7z"/>
<path class=bem d="M4476 1228l18-7-23 13-17 16zm636-185l17-13-22 32-17 6zm223-66l17 22-22-13-17-1z"/>
<path class=bcu d="M4511 1203l17 7-22 93-17-67zm756-209l17 5-22 18-18 60z"/>
<path class=bbX d="M4528 1210l17 6-22 41-17 46zm34-13l17-8-22 118-17-43z"/>
<path class=bap d="M4614 1180l17 21-22 30-17-19zm292-66l17-8-22 14-17 14zm515-158l17 14-22 2-17 18zm120-33l18 9-23 2-17 31z"/>
<path class=baJ d="M4648 1191l17 6-22 0-17 15zm275-85l17 5-22 27-17-18zm86-31l17 46-22-35-17 9zm498-123l17-15-22 24-17-12z"/>
<path class=bba d="M4665 1197l18-18-23 30-17-12zm413-130l17-5-22 17-18 36zm635-178l17-9-22 27-17-11z"/>
<path class=bdH d="M4683 1179l17-11-22 53-18-12zm532-143l17-28-22 72-17-15z"/>
<path class=bQ d="M4700 1168l17-1-22 81-17-27z"/>
<path class=bV d="M4717 1167l17 8-22 37-17 36zm910-266l18 3-23 22-17 96z"/>
<path class=baG d="M4734 1175l17-1-22 93-17-55z"/>
<path class=baO d="M4751 1174l17-5-22 13-17 85z"/>
<path class=bfl d="M4786 1156l17 113-22-37-18-69z"/>
<path class=bj d="M4803 1269l17-137-22 9-17 91z"/>
<path class=bgL d="M4820 1132l17-21-22 21-17 9z"/>
<path class=bcE d="M4837 1111l17 5-22 16-17 0z"/>
<path class=baw d="M4854 1116l17 7-22 26-17-17zm138-39l17-2-22 20-17 9z"/>
<path class=bC d="M4871 1123l18-16-22 70-18-28z"/>
<path class=bn d="M4940 1111l17 7-22 36-17-16zm447-103l17-35-22 39-17 1zm258-104l17 21-22 21-18-20zm103-27l17 25-22-2-18 12z"/>
<path class=baS d="M4957 1118l18-29-23 36-17 29z"/>
<path class=beJ d="M4975 1089l17-12-22 27-18 21z"/>
<path class=baT d="M5026 1121l17-50-22 3-17 12z"/>
<path class=bcv d="M5043 1071l17-2-22 30-17-25zm52-9l17-19-22 25-17 11z"/>
<path class=bgI d="M5060 1069l18-2-23 48-17-16z"/>
<path class=bgM d="M5146 1021l18 3-23 45-17-4z"/>
<path class=baD d="M5164 1024l17 40-22-3-18 8zm566-144l18-3-23 35-17-5z"/>
<path class=bbH d="M5181 1064l17 39-22-48-17 6z"/>
<path class=beM d="M5198 1103l17-67-22 29-17-10z"/>
<path class=beD d="M5284 999l17 2-22-7-17 23z"/>
<path class=bfP d="M5301 1001l17-29-22 14-17 8z"/>
<path class=bfU d="M5318 972l17 5-22 8-17 1z"/>
<path class=bg d="M5370 998l17 10-22 5-17 17z"/>
<path class=bbF d="M5404 973l17-17-22 34-17 22zm120-36l17-14-22 42-17-4z"/>
<path class=bcC d="M5456 1006l17 3-22-57-18 25z"/>
<path class=bft d="M5473 1009l17-28-22-34-17 5z"/>
<path class=bE d="M5490 981l17-29-22-3-17-2z"/>
<path class=bS d="M5559 932l17 57-22-67-18 12z"/>
<path class=bK d="M5576 989l17-44-22-28-17 5z"/>
<path class=baN d="M5593 945l17-11-22-9-17-8z"/>
<path class=bbm d="M5610 934l17-33-22 121-17-97z"/>
<path class=bM d="M5662 925l17-8-22 27-17 2z"/>
<path class=baF d="M5679 917l17-21-22 8-17 40z"/>
<path class=bav d="M5696 896l17-7-22 7-17 8z"/>
<path class=bW d="M5765 902l17-5-22-18-17 21z"/>
<path class=nk d="M5668 111L5652 937 5686 941zM5668 111L5686 941 5684 928z" fill="url(#gb10)"/><path class=nk d="M5668 111v91" style="stroke:#aaa;stroke-width:9;stroke-opacity:1"/><path class=nk d="M5668 202v124" style="stroke:#3a3a30;stroke-width:11;stroke-opacity:1"/>
<path class=bfw d="M4361 1288l17 0-22-30-17 8z"/>
<path class=bcz d="M4378 1288l17 28-22-56-17-2zm979-278l18-4-23-7-17-22z"/>
<path class=bdF d="M4395 1316l18-22-23-9-17-25z"/>
<path class=beD d="M4413 1294l17-33-22-19-18 43z"/>
<path class=bgw d="M4430 1261l17-9-22-21-17 11z"/>
<path class=beq d="M4447 1252l17 35-22-52-17-4z"/>
<path class=baN d="M4464 1287l17 46-22-104-17 6zm309-99l18 8-23-27-17 5z"/>
<path class=bbq d="M4481 1333l18-40-23-65-17 1z"/>
<path class=bgx d="M4499 1293l17-41-22-31-18 7z"/>
<path class=beb d="M4516 1252l17-22-22-27-17 18zm824-238l17-4-22-33-17-5z"/>
<path class=bgy d="M4533 1230l17-3-22-17-17-7z"/>
<path class=beT d="M4550 1227l17 18-22-29-17-6zm155-40l17-8-22-11-17 11zm223-66l17 4-22-19-17 8z"/>
<path class=beV d="M4567 1245l17 22-22-70-17 19z"/>
<path class=bgz d="M4584 1267l18-55-23-23-17 8zm327-118l17-28-22-7-17-7z"/>
<path class=bgA d="M4602 1212l17-16-22-15-18 8z"/>
<path class=bgB d="M4619 1196l17 5-22-21-17 1z"/>
<path class=bew d="M4636 1201l17-16-22 16-17-21z"/>
<path class=bcD d="M4653 1185l17-4-22 10-17 10z"/>
<path class=bcV d="M4670 1181l18 5-23 11-17-6z"/>
<path class=bcI d="M4688 1186l17 1-22-8-18 18zm292-76l17-19-22-2-18 29z"/>
<path class=bdr d="M4722 1179l17 15-22-27-17 1z"/>
<path class=bch d="M4739 1194l17 10-22-29-17-8zm979-292l17 23-22-36-17 7z"/>
<path class=bct d="M4756 1204l17-16-22-14-17 1z"/>
<path class=bai d="M4791 1196l17-25-22-15-18 13z"/>
<path class=baF d="M4808 1171l17-17-22 115-17-113z"/>
<path class=bn d="M4825 1154l17 7-22-29-17 137z"/>
<path class=bgC d="M4842 1161l17-3-22-47-17 21z"/>
<path class=bu d="M4859 1158l17 51-22-93-17-5zm86-33l17 24-22-38-17-5zm69-20l17 46-22-76-17 2z"/>
<path class=bah d="M4876 1209l18-74-23-12-17-7z"/>
<path class=bgD d="M4894 1135l17 14-22-42-18 16z"/>
<path class=bbx d="M4962 1149l18-39-23 8-17-7z"/>
<path class=bei d="M4997 1091l17 14-22-28-17 12z"/>
<path class=bbb d="M5031 1151l17 54-22-84-17-46z"/>
<path class=bgE d="M5048 1205l17-95-22-39-17 50z"/>
<path class=bcZ d="M5065 1110l18 7-23-48-17 2z"/>
<path class=bdQ d="M5083 1117l17-34-22-16-18 2z"/>
<path class=baY d="M5100 1083l17-21-22 0-17 5z"/>
<path class=bfN d="M5117 1062l17 11-22-30-17 19z"/>
<path class=bgF d="M5134 1073l17 0-22-43-17 13z"/>
<path class=bgG d="M5151 1073l18-6-23-46-17 9z"/>
<path class=bgH d="M5169 1067l17-14-22-29-18-3z"/>
<path class=bem d="M5186 1053l17-11-22 22-17-40zm481-140l17-21-22 33-17-21z"/>
<path class=bgI d="M5203 1042l17 1-22 60-17-39z"/>
<path class=bv d="M5220 1043l17 10-22-17-17 67zm172-43l17 22-22-14-17-10z"/>
<path class=bao d="M5237 1053l17 28-22-73-17 28zm498-128l18-26-23-19-17 9z"/>
<path class=bgJ d="M5254 1081l18-29-23-52-17 8z"/>
<path class=bgd d="M5272 1052l17-34-22-24-18 6z"/>
<path class=bcM d="M5289 1018l17-13-22-6-17-5z"/>
<path class=bcr d="M5306 1005l17 41-22-45-17-2zm395-121l17 18-22-6-17 21z"/>
<path class=bdR d="M5323 1046l17-32-22-42-17 29z"/>
<path class=baC d="M5375 1006l17-6-22-2-18 1z"/>
<path class=baV d="M5409 1022l17-34-22-15-17 35z"/>
<path class=bgK d="M5426 988l17-1-22-31-17 17z"/>
<path class=baE d="M5443 987l18 33-23-50-17-14zm121-30l17 37-22-62-18-9z"/>
<path class=bS d="M5461 1020l17-57-22 43-18-36z"/>
<path class=bC d="M5478 963l17-11-22 57-17-3z"/>
<path class=bbi d="M5495 952l17 3-22 26-17 28z"/>
<path class=beg d="M5512 955l17-5-22 2-17 29z"/>
<path class=baZ d="M5529 950l17-6-22-7-17 15z"/>
<path class=bfz d="M5546 944l18 13-23-34-17 14z"/>
<path class=bb d="M5581 994l17-46-22 41-17-57z"/>
<path class=baS d="M5598 948l17-7-22 4-17 44z"/>
<path class=bax d="M5615 941l17 23-22-30-17 11z"/>
<path class=bE d="M5632 964l18-31-23-32-17 33z"/>
<path class=bgv d="M5650 933l17-20-22-9-18-3z"/>
<path class=beZ d="M5684 892l17-8-22 33-17 8z"/>
<path class=bi d="M5753 899l17 45-22-67-18 3z"/>
<path class=bcS d="M5770 944l17-48-22 6-17-25z"/>
<path class=bfg d="M5787 896l17-11-22 12-17 5z"/>
<path class=nk d="M4731 396L4716 1221 4749 1226zM4731 396L4749 1226 4747 1212z" fill="url(#gb00)"/><path class=nk d="M4731 396v91" style="stroke:#aaa;stroke-width:9;stroke-opacity:1"/><path class=nk d="M4731 487v124" style="stroke:#3a3a30;stroke-width:11;stroke-opacity:1"/>
<path class=bbW d="M4383 1310l17 4-22-26-17 0z"/>
<path class=baJ d="M4400 1314l18-13-23 15-17-28z"/>
<path class=baV d="M4418 1301l17 4-22-11-18 22zm927-259l17-9-22-19-17 32zm86-27l17-11-22-16-17 34z"/>
<path class=bcZ d="M4435 1305l17-5-22-39-17 33z"/>
<path class=bgs d="M4452 1300l17-21-22-27-17 9z"/>
<path class=baw d="M4469 1279l17-6-22 14-17-35z"/>
<path class=bn d="M4486 1273l18 10-23 50-17-46z"/>
<path class=bg d="M4504 1283l17 3-22 7-18 40zm1271-341l17-23-22 25-17-45z"/>
<path class=bN d="M4521 1286l17-18-22-16-17 41z"/>
<path class=bE d="M4538 1268l17 39-22-77-17 22zm309-76l17 4-22-35-17-7zm326-101l18 15-22-39-18 6zm447-129l17 4-22-25-17 7z"/>
<path class=bG d="M4555 1307l17-2-22-78-17 3z"/>
<path class=bdO d="M4572 1305l17-20-22-40-17-18zm413-155l17 23-22-63-18 39zm223-36l17 6-22-78-17 11z"/>
<path class=bH d="M4589 1285l18-2-23-16-17-22z"/>
<path class=beP d="M4607 1283l17 59-22-130-18 55z"/>
<path class=bcR d="M4624 1342l17-43-22-103-17 16z"/>
<path class=baA d="M4641 1299l17-27-22-71-17-5z"/>
<path class=bgt d="M4658 1272l17-2-22-85-17 16zm739-227l17-15-22-30-17 6z"/>
<path class=bfs d="M4675 1270l17-22-22-67-17 4z"/>
<path class=bgu d="M4692 1248l18-30-22-32-18-5z"/>
<path class=bgv d="M4710 1218l17 0-22-31-17-1zm807-231l17-2-22-30-17-3z"/>
<path class=bdP d="M4727 1218l17 20-22-59-17 8z"/>
<path class=bm d="M4744 1238l17-11-22-33-17-15z"/>
<path class=bh d="M4761 1227l17-4-22-19-17-10zm979-274l18 0-23-28-17-23z"/>
<path class=ba d="M4778 1223l18 19-23-54-17 16z"/>
<path class=bbY d="M4796 1242l17-13-22-33-18-8z"/>
<path class=bcC d="M4813 1229l17 6-22-64-17 25z"/>
<path class=bdd d="M4830 1235l17-43-22-38-17 17z"/>
<path class=bbf d="M4864 1196l17 8-22-46-17 3z"/>
<path class=bA d="M4881 1204l18-19-23 24-17-51z"/>
<path class=bbh d="M4899 1185l17 5-22-55-18 74zm378-96l17-22-22-15-18 29z"/>
<path class=bef d="M4916 1190l17-29-22-12-17-14z"/>
<path class=ban d="M4933 1161l17-11-22-29-17 28z"/>
<path class=bbU d="M4950 1150l17 4-22-29-17-4zm412-117l18-13-23-10-17 4z"/>
<path class=bi d="M4967 1154l18-4-23-1-17-24zm447-124l17-15-22 7-17-22z"/>
<path class=bdW d="M5002 1173l17-31-22-51-17 19z"/>
<path class=bcA d="M5019 1142l17-11-22-26-17-14z"/>
<path class=baS d="M5036 1131l17 12-22 8-17-46zm601-165l17 3-22-5-17-23z"/>
<path class=bbT d="M5053 1143l17 20-22 42-17-54z"/>
<path class=bfk d="M5070 1163l18-3-23-50-17 95z"/>
<path class=bce d="M5088 1160l17-38-22-5-18-7z"/>
<path class=bcQ d="M5105 1122l17-27-22-12-17 34z"/>
<path class=bcy d="M5122 1095l17-3-22-30-17 21z"/>
<path class=bcz d="M5139 1092l17-5-22-14-17-11z"/>
<path class=bch d="M5156 1087l17 4-22-18-17 0z"/>
<path class=bdN d="M5191 1106l17 8-22-61-17 14z"/>
<path class=baz d="M5225 1120l17-35-22-42-17-1z"/>
<path class=bbd d="M5242 1085l17 22-22-54-17-10z"/>
<path class=bd d="M5259 1107l18-18-23-8-17-28z"/>
<path class=bcK d="M5294 1067l17-4-22-45-17 34zm515-128l17-31-22-23-17 11z"/>
<path class=bbs d="M5311 1063l17 5-22-63-17 13z"/>
<path class=baN d="M5328 1068l17-26-22 4-17-41z"/>
<path class=baE d="M5380 1020l17 25-22-39-18 4z"/>
<path class=bu d="M5448 1004l18-6-23-11-17 1z"/>
<path class=baD d="M5466 998l17-2-22 24-18-33z"/>
<path class=bS d="M5483 996l17 16-22-49-17 57z"/>
<path class=bfC d="M5500 1012l17-25-22-35-17 11z"/>
<path class=bZ d="M5534 985l17 49-22-84-17 5z"/>
<path class=bcB d="M5551 1034l18-21-23-69-17 6z"/>
<path class=bdJ d="M5569 1013l17-41-22-15-18-13z"/>
<path class=bv d="M5586 972l17-15-22 37-17-37z"/>
<path class=bC d="M5603 957l17 5-22-14-17 46z"/>
<path class=bbO d="M5654 969l18 0-22-36-18 31z"/>
<path class=bbx d="M5672 969l17-37-22-19-17 20z"/>
<path class=bfG d="M5689 932l17 6-22-46-17 21z"/>
<path class=bcO d="M5706 938l17 23-22-77-17 8z"/>
<path class=bdT d="M5723 961l17-8-22-51-17-18z"/>
<path class=bdM d="M5758 953l17-11-22-43-18 26z"/>
<path class=bc d="M5792 919l17 20-22-43-17 48z"/>
<path class=bs d="M4405 1382l18 11-23-79-17-4zm1340-391l18-23-23-15-17 8z"/>
<path class=bbI d="M4423 1393l17-25-22-67-18 13z"/>
<path class=bdG d="M4440 1368l17-14-22-49-17-4z"/>
<path class=bda d="M4457 1354l17-26-22-28-17 5z"/>
<path class=bG d="M4474 1328l17-14-22-35-17 21z"/>
<path class=bbJ d="M4491 1314l18 24-23-65-17 6zm1048-301l17-17-22-11-17 2z"/>
<path class=bl d="M4509 1338l17-40-22-15-18-10z"/>
<path class=bbd d="M4526 1298l17 8-22-20-17-3zm601-158l17-24-22-21-17 27z"/>
<path class=bF d="M4543 1306l17-15-22-23-17 18zm635-183l18 1-23-33-17-4z"/>
<path class=bn d="M4560 1291l17 3-22 13-17-39zm52-17l17-17-22 26-18 2zm274-90l18 17-23 3-17-8zm189-51l18-5-23 35-17-20zm481-137l18 6-23 32-17-49z"/>
<path class=bj d="M4577 1294l17 12-22-1-17 2zm653-187l17 19-22-6-17-6z"/>
<path class=bbL d="M4594 1306l18-32-23 11-17 20z"/>
<path class=bbm d="M4629 1257l17-4-22 89-17-59z"/>
<path class=bo d="M4646 1253l17 1-22 45-17 43z"/>
<path class=bM d="M4663 1254l17 9-22 9-17 27zm17 9l17-2-22 9-17 2zm584-159l18-4-23 7-17-22z"/>
<path class=bY d="M4697 1261l18-2-23-11-17 22z"/>
<path class=bdM d="M4715 1259l17 10-22-51-18 30z"/>
<path class=bce d="M4732 1269l17 2-22-53-17 0z"/>
<path class=baf d="M4749 1271l17-34-22 1-17-20z"/>
<path class=bbE d="M4766 1237l17-5-22-5-17 11zm653-156l17-47-22-4-17 15z"/>
<path class=bz d="M4783 1232l18-10-23 1-17 4zm550-154l17-18-22 8-17-5z"/>
<path class=bA d="M4801 1222l17 9-22 11-18-19zm773-220l17-14-22 25-18 21z"/>
<path class=bad d="M4818 1231l17 29-22-31-17 13z"/>
<path class=bgq d="M4835 1260l17-32-22 7-17-6z"/>
<path class=bB d="M4852 1228l17-37-22 1-17 43z"/>
<path class=baD d="M4869 1191l17-7-22 12-17-4z"/>
<path class=bc d="M4904 1201l17 3-22-19-18 19zm17 3l17 13-22-27-17-5z"/>
<path class=bdl d="M4938 1217l17-19-22-37-17 29z"/>
<path class=bdN d="M4955 1198l17-21-22-27-17 11z"/>
<path class=baN d="M4972 1177l18-18-23-5-17-4z"/>
<path class=bi d="M4990 1159l17 5-22-14-18 4zm446-125l17-9-22-10-17 15z"/>
<path class=bg d="M5007 1164l17 23-22-14-17-23zm86-36l17 6-22 26-18 3z"/>
<path class=bw d="M5024 1187l17-11-22-34-17 31z"/>
<path class=bay d="M5041 1176l17-29-22-16-17 11z"/>
<path class=bS d="M5058 1147l17-14-22 10-17-12z"/>
<path class=bQ d="M5110 1134l17 6-22-18-17 38z"/>
<path class=ban d="M5144 1116l17-4-22-20-17 3z"/>
<path class=bE d="M5161 1112l17 11-22-36-17 5z"/>
<path class=bH d="M5196 1124l17-8-22-10-18-15zm309-93l17 19-22-38-17-16zm86-43l17 37-22-53-17 41z"/>
<path class=bbh d="M5213 1116l17-9-22 7-17-8z"/>
<path class=by d="M5247 1126l17-22-22-19-17 35z"/>
<path class=baP d="M5282 1100l17 20-22-31-18 18z"/>
<path class=baQ d="M5299 1120l17-7-22-46-17 22z"/>
<path class=bdz d="M5316 1113l17-35-22-15-17 4z"/>
<path class=bax d="M5350 1060l17 13-22-31-17 26zm309-75l18-22-23 6-17-3z"/>
<path class=bcK d="M5367 1073l18-18-23-22-17 9z"/>
<path class=bag d="M5385 1055l17 1-22-36-18 13z"/>
<path class=bb d="M5402 1056l17 25-22-36-17-25z"/>
<path class=bbx d="M5453 1025l18 5-23-26-17 11z"/>
<path class=bdb d="M5471 1030l17 21-22-53-18 6z"/>
<path class=bft d="M5488 1051l17-20-22-35-17 2z"/>
<path class=be d="M5522 1050l17-37-22-26-17 25z"/>
<path class=bcd d="M5608 1025l17-1-22-67-17 15z"/>
<path class=bdU d="M5625 1024l17-16-22-46-17-5z"/>
<path class=bK d="M5642 1008l17-23-22-19-17-4z"/>
<path class=baS d="M5677 963l17-1-22 7-18 0z"/>
<path class=bd d="M5694 962l17 54-22-84-17 37z"/>
<path class=bby d="M5711 1016l17-41-22-37-17-6z"/>
<path class=bbH d="M5728 975l17 16-22-30-17-23z"/>
<path class=bdc d="M5763 968l17 24-22-39-18 0z"/>
<path class=bgl d="M5780 992l17-28-22-22-17 11z"/>
<path class=bdx d="M5797 964l17-36-22-9-17 23z"/>
<path class=bv d="M5814 928l17-17-22 28-17-20z"/>
<path class=bR d="M5831 911l17 14-22-17-17 31z"/>
<path class=bad d="M4428 1380l17-46-22 59-18-11zm326-112l17 26-22-23-17-2z"/>
<path class=bbm d="M4445 1334l17-8-22 42-17 25zm412-103l17 5-22-8-17 32zm945-297l17 6-22 24-17 28z"/>
<path class=baG d="M4462 1326l17 6-22 22-17 14z"/>
<path class=bV d="M4479 1332l17-4-22 0-17 26z"/>
<path class=bb d="M4496 1328l17-6-22-8-17 14zm292-64l18-37-23 5-17 5z"/>
<path class=bM d="M4513 1322l18 25-22-9-18-24zm739-204l17 11-22-3-17-19z"/>
<path class=baa d="M4531 1347l17-22-22-27-17 40zm240-53l17-30-22-27-17 34z"/>
<path class=bh d="M4548 1325l17-11-22-8-17-8z"/>
<path class=bax d="M4565 1314l17-14-22-9-17 15zm17-14l17 22-22-28-17-3zm893-256l18 29-22-43-18-5z"/>
<path class=bci d="M4599 1322l18-11-23-5-17-12zm430-115l17-31-22 11-17-23zm464-134l17-10-22-12-17-21z"/>
<path class=bbX d="M4617 1311l17-28-22-9-18 32z"/>
<path class=bZ d="M4634 1283l17-10-22-16-17 17z"/>
<path class=bbx d="M4651 1273l17 0-22-20-17 4z"/>
<path class=baN d="M4668 1273l17 15-22-34-17-1zm790-225l17-4-22-19-17 9z"/>
<path class=bH d="M4685 1288l17 7-22-32-17-9zm17 7l18-35-23 1-17 2zm207-68l17 6-22-32-18-17z"/>
<path class=bbz d="M4720 1260l17-4-22 3-18 2z"/>
<path class=bg d="M4737 1256l17 12-22 1-17-10zm876-253l17 6-22 16-17-37zm137-43l18-3-23 34-17-16z"/>
<path class=bS d="M4806 1227l17 1-22-6-18 10z"/>
<path class=bn d="M4823 1228l17 18-22-15-17-9zm945-271l17-14-22 25-18 23z"/>
<path class=bj d="M4840 1246l17-15-22 29-17-29zm464-142l17 4-22 12-17-20zm223-58l17 5-22-1-17-19zm103-37l17-8-22 23-17 1zm86-16l17-2-22 25-17-54z"/>
<path class=bdk d="M4874 1236l17 2-22-47-17 37z"/>
<path class=bbC d="M4891 1238l18-11-23-43-17 7z"/>
<path class=bs d="M4926 1233l17-5-22-24-17-3zm154-36l18 29-23-93-17 14z"/>
<path class=baP d="M4943 1228l17 0-22-11-17-13z"/>
<path class=baH d="M4960 1228l17-24-22-6-17 19z"/>
<path class=bd d="M4977 1204l17 0-22-27-17 21z"/>
<path class=bdz d="M4994 1204l18 17-22-62-18 18z"/>
<path class=bdG d="M5012 1221l17-14-22-43-17-5z"/>
<path class=by d="M5046 1176l17 1-22-1-17 11zm223-47l18-17-23-8-17 22z"/>
<path class=bau d="M5063 1177l17 20-22-50-17 29zm86 4l17-35-22-30-17 24z"/>
<path class=bI d="M5098 1226l17-47-22-51-18 5zm257-86l17-29-22-51-17 18z"/>
<path class=bw d="M5115 1179l17 7-22-52-17-6zm275-94l17-4-22-26-18 18z"/>
<path class=bgl d="M5132 1186l17-5-22-41-17-6z"/>
<path class=bcU d="M5166 1146l17-6-22-28-17 4zm670-176l17-31-22-28-17 17z"/>
<path class=bc d="M5183 1140l18 34-23-51-17-11z"/>
<path class=bx d="M5201 1174l17-43-22-7-18-1z"/>
<path class=bR d="M5218 1131l17-22-22 7-17 8z"/>
<path class=bz d="M5235 1109l17 9-22-11-17 9zm52 3l17-8-22-4-18 4z"/>
<path class=bae d="M5321 1108l17 28-22-23-17 7zm326-107l17 64-22-57-17 16z"/>
<path class=bgp d="M5338 1136l17 4-22-62-17 35z"/>
<path class=bbY d="M5372 1111l18-26-23-12-17-13z"/>
<path class=be d="M5407 1081l17 6-22-31-17-1zm275-83l17-11-22-24-18 22z"/>
<path class=bbh d="M5424 1087l17-36-22 30-17-25z"/>
<path class=bQ d="M5441 1051l17-3-22-14-17 47z"/>
<path class=br d="M5510 1063l17-17-22-15-17 20z"/>
<path class=bgq d="M5544 1051l17 71-22-109-17 37z"/>
<path class=bgr d="M5561 1122l18-88-23-38-17 17z"/>
<path class=bbf d="M5579 1034l17-24-22-8-18-6z"/>
<path class=bbd d="M5596 1010l17-7-22-15-17 14zm257-71l18-11-23-3-17-14z"/>
<path class=bfu d="M5664 1065l18-67-23-13-17 23z"/>
<path class=bdb d="M5699 987l17 6-22-31-17 1z"/>
<path class=bbK d="M5733 991l17-31-22 15-17 41z"/>
<path class=bB d="M5785 943l17-9-22 58-17-24z"/>
<path class=bW d="M5819 940l17 30-22-42-17 36z"/>
<path class=baD d="M4450 1347l17-19-22 6-17 46z"/>
<path class=bbl d="M4467 1328l17-1-22-1-17 8z"/>
<path class=bba d="M4484 1327l17 19-22-14-17-6z"/>
<path class=bbd d="M4501 1346l17-5-22-13-17 4zm241-73l17 2-22-19-17 4z"/>
<path class=bS d="M4518 1341l18-19-23 0-17 6z"/>
<path class=bg d="M4536 1322l17 36-22-11-18-25zm378-106l17 13-22-2-18 11zm927-251l17-4-22 9-17-30z"/>
<path class=bp d="M4553 1358l17-38-22 5-17 22z"/>
<path class=bfg d="M4570 1320l17-13-22 7-17 11zm241-79l17-4-22-10-18 37z"/>
<path class=baV d="M4587 1307l17-4-22-3-17 14z"/>
<path class=bn d="M4604 1303l18 25-23-6-17-22zm189-56l18-6-23 23-17 30zm103-20l18-11-23 22-17-2zm86-36l17-3-22 16-17 24zm17-3l18 8-23 8-17 0zm499-137l17-1-22 23-18-29z"/>
<path class=bdA d="M4622 1328l17 17-22-34-18 11zm910-266l17 14-22-30-17 17z"/>
<path class=bgm d="M4639 1345l17-1-22-61-17 28z"/>
<path class=bgn d="M4656 1344l17-1-22-70-17 10zm1065-308l17-26-22-17-17-6z"/>
<path class=beP d="M4673 1343l17 3-22-73-17 0z"/>
<path class=bI d="M4690 1346l17-26-22-32-17-15z"/>
<path class=bX d="M4707 1320l18-23-23-2-17-7z"/>
<path class=bY d="M4725 1297l17-24-22-13-18 35z"/>
<path class=bW d="M4759 1275l17 8-22-15-17-12zm103-29l17 32-22-47-17 15zm464-124l17-15-22 1-17-4zm378-122l17 36-22-49-17 11z"/>
<path class=bM d="M4776 1283l17-36-22 47-17-26zm739-233l17 12-22 1-17 10zm154-52l18 10-23 57-17-64z"/>
<path class=bZ d="M4828 1237l17 5-22-14-17-1zm979-285l17 36-22-54-17 9z"/>
<path class=baS d="M4845 1242l17 4-22 0-17-18z"/>
<path class=bbj d="M4879 1278l17-51-22 9-17-5zm670-202l17-29-22 4-17-5z"/>
<path class=baO d="M4931 1229l17 12-22-8-17-6zm86-33l17 11-22 14-18-17zm326-89l17-5-22 34-17-28z"/>
<path class=by d="M4948 1241l17-18-22 5-17 5z"/>
<path class=bA d="M4965 1223l17-32-22 37-17 0z"/>
<path class=bo d="M5034 1207l17 1-22-1-17 14z"/>
<path class=baP d="M5051 1208l17-8-22-24-17 31z"/>
<path class=bci d="M5068 1200l17 18-22-41-17-1zm670-190l17 3-22-22-17 2z"/>
<path class=bbN d="M5085 1218l18-21-23 0-17-20z"/>
<path class=bfl d="M5103 1197l17-11-22 40-18-29z"/>
<path class=bad d="M5120 1186l17-4-22-3-17 47zm17-4l17 0-22 4-17-7zm429-135l18-12-23 87-17-71z"/>
<path class=beH d="M5154 1182l17-10-22 9-17 5z"/>
<path class=bdC d="M5171 1172l17 17-22-43-17 35z"/>
<path class=bcH d="M5188 1189l18 3-23-52-17 6z"/>
<path class=bbb d="M5206 1192l17-49-22 31-18-34z"/>
<path class=bbm d="M5223 1143l17-7-22-5-17 43z"/>
<path class=bh d="M5240 1136l17-4-22-23-17 22zm378-94l17-34-22-5-17 7z"/>
<path class=bH d="M5257 1132l17 1-22-15-17-9z"/>
<path class=br d="M5274 1133l18 14-23-18-17-11z"/>
<path class=bcn d="M5292 1147l17-14-22-21-18 17z"/>
<path class=bw d="M5309 1133l17-11-22-18-17 8z"/>
<path class=baq d="M5360 1102l17 88-22-50-17-4z"/>
<path class=bgo d="M5377 1190l18-75-23-4-17 29z"/>
<path class=bbR d="M5395 1115l17-2-22-28-18 26z"/>
<path class=bs d="M5412 1113l17 4-22-36-17 4z"/>
<path class=bdB d="M5429 1117l17-8-22-22-17-6z"/>
<path class=beL d="M5446 1109l17 1-22-59-17 36z"/>
<path class=bda d="M5463 1110l17-34-22-28-17 3z"/>
<path class=bdb d="M5480 1076l18-25-23-7-17 4z"/>
<path class=bae d="M5584 1035l17 13-22-14-18 88z"/>
<path class=bau d="M5601 1048l17-6-22-32-17 24z"/>
<path class=bv d="M5635 1008l17-5-22 6-17-6z"/>
<path class=bN d="M5652 1003l17-5-22 3-17 8z"/>
<path class=bj d="M5687 1008l17-8-22-2-18 67z"/>
<path class=bc d="M5755 1013l18-27-23-26-17 31z"/>
<path class=baN d="M5773 986l17-24-22-5-18 3z"/>
<path class=baT d="M5790 962l17-10-22-9-17 14z"/>
<path class=bbo d="M5824 988l17-23-22-25-17-6z"/>
<path class=bdc d="M5858 961l18 65-23-87-17 31z"/>
<path class=baW d="M5876 1026l17-45-22-53-18 11z"/>
<path class=bdV d="M4472 1366l17-4-22-34-17 19z"/>
<path class=bgk d="M4489 1362l17-10-22-25-17 1z"/>
<path class=bi d="M4506 1352l17 12-22-18-17-19z"/>
<path class=bfi d="M4523 1364l18 71-23-94-17 5z"/>
<path class=bgc d="M4541 1435l17-49-22-64-18 19z"/>
<path class=bbO d="M4558 1386l17-45-22 17-17-36zm189-82l17 4-22-35-17 24z"/>
<path class=bbX d="M4575 1341l17-12-22-9-17 38zm223-31l17-54-22-9-17 36z"/>
<path class=baN d="M4592 1329l17-2-22-20-17 13zm1082-308l18-10-23-13-17 5z"/>
<path class=baE d="M4609 1327l18-20-23-4-17 4zm224-83l17 16-22-23-17 4z"/>
<path class=bba d="M4627 1307l17-5-22 26-18-25zm893-257l17 7-22-7-17 1zm343-96l18-17-23 24-17 4z"/>
<path class=bA d="M4644 1302l17 25-22 18-17-17z"/>
<path class=bbu d="M4661 1327l17-10-22 27-17 1z"/>
<path class=bad d="M4678 1317l17 6-22 20-17 1zm34 0l18-17-23 20-17 26zm499-178l17 52-22 1-18-3zm549-124l17 21-22-23-17-3z"/>
<path class=bae d="M4695 1323l17-6-22 29-17-3zm687-205l18 4-23 68-17-88z"/>
<path class=bp d="M4730 1300l17 4-22-7-18 23zm1047-264l18-53-22 3-18 27z"/>
<path class=bd d="M4764 1308l17 14-22-47-17-2z"/>
<path class=bgl d="M4781 1322l17-12-22-27-17-8z"/>
<path class=baC d="M4815 1256l18-12-22-3-18 6z"/>
<path class=bbd d="M4850 1260l17 7-22-25-17-5zm945-277l17 5-22-26-17 24z"/>
<path class=bh d="M4867 1267l17-11-22-10-17-4z"/>
<path class=bg d="M4884 1256l17-32-22 54-17-32zm86-41l17 18-22-10-17 18zm309-82l17 16-22-16-17-1zm52-27l17 27-22-11-17 11zm154-31l18-13-23 14-17 34zm121-40l17 39-22-26-17-13z"/>
<path class=bv d="M4901 1224l18-7-23 10-17 51zm52-15l17 6-22 26-17-12zm120-45l17 18-22 18-17 8zm464-107l17-9-22 14-17-12zm52-26l17 4-22 0-18 12zm240-63l17-3-22 23-17-36z"/>
<path class=baU d="M4919 1217l17 5-22-6-18 11z"/>
<path class=baJ d="M4936 1222l17-13-22 20-17-13zm103-39l17-9-22 33-17-11z"/>
<path class=bfg d="M4987 1233l17-47-22 5-17 32zm516-171l17-12-22 1-18 25z"/>
<path class=beD d="M5004 1186l18-7-23 9-17 3z"/>
<path class=baw d="M5022 1179l17 4-22 13-18-8z"/>
<path class=bbF d="M5056 1174l17-10-22 44-17-1z"/>
<path class=baO d="M5090 1182l18 33-23 3-17-18z"/>
<path class=baH d="M5108 1215l17 1-22-19-18 21z"/>
<path class=baa d="M5125 1216l17-24-22-6-17 11z"/>
<path class=by d="M5142 1192l17-23-22 13-17 4z"/>
<path class=bn d="M5159 1169l17-27-22 40-17 0zm395-121l17-8-22 36-17-14zm172-57l17 4-22 41-17-36z"/>
<path class=bdH d="M5176 1142l17-12-22 42-17 10z"/>
<path class=bq d="M5193 1130l18 9-23 50-17-17zm653-165l17-11-22 11-17 23z"/>
<path class=bdf d="M5228 1191l17-13-22-35-17 49z"/>
<path class=bw d="M5245 1178l17-33-22-9-17 7z"/>
<path class=bax d="M5262 1145l17-12-22-1-17 4z"/>
<path class=bV d="M5296 1149l18-39-22 37-18-14z"/>
<path class=baF d="M5314 1110l17-4-22 27-17 14z"/>
<path class=bW d="M5348 1133l17-13-22-13-17 15z"/>
<path class=bH d="M5365 1120l17-2-22-16-17 5z"/>
<path class=bco d="M5400 1122l17 10-22-17-18 75z"/>
<path class=bdn d="M5417 1132l17-43-22 24-17 2zm481-193l17 4-22 38-17 45z"/>
<path class=bj d="M5434 1089l17 30-22-2-17-4z"/>
<path class=bbK d="M5451 1119l17-36-22 26-17 8zm17-36l17-8-22 35-17-1z"/>
<path class=baS d="M5571 1040l18-9-23 16-17 29z"/>
<path class=bbj d="M5623 1074l17-25-22-7-17 6z"/>
<path class=bbE d="M5640 1049l17-23-22-18-17 34z"/>
<path class=bE d="M5657 1026l17-5-22-18-17 5z"/>
<path class=baV d="M5692 1011l17-10-22 7-18-10z"/>
<path class=bN d="M5709 1001l17-10-22 9-17 8z"/>
<path class=bM d="M5743 995l17 20-22-5-17 26z"/>
<path class=bdF d="M5812 988l17-20-22-16-17 10z"/>
<path class=bB d="M5881 937l17 2-22 87-18-65z"/>
<path class=bbd d="M4494 1371l17 17-22-26-17 4zm481-124l17 27-22-59-17-6zm636-194l17 23-22-41-17-4zm206-55l17 3-22-13-17-5z"/>
<path class=bbf d="M4511 1388l17-15-22-21-17 10z"/>
<path class=bax d="M4528 1373l18-10-23 1-17-12zm1203-367l17 67-22-82-17 10zm34 16l17-11-22 4-17-20z"/>
<path class=bj d="M4546 1363l17 4-22 68-18-71zm154-52l17 81-22-69-17-6zm430-118l17 27-22-4-17-1z"/>
<path class=bfl d="M4563 1367l17 23-22-4-17 49z"/>
<path class=bgi d="M4580 1390l17-32-22-17-17 45z"/>
<path class=bF d="M4597 1358l17-5-22-24-17 12z"/>
<path class=bH d="M4614 1353l18 34-23-60-17 2zm275-63l17-25-22-9-17 11z"/>
<path class=bbO d="M4632 1387l17-50-22-30-18 20z"/>
<path class=bdV d="M4649 1337l17-10-22-25-17 5z"/>
<path class=baD d="M4666 1327l17-14-22 14-17-25zm687-202l17-11-22 19-17-27zm86-36l17-22-22 22-17 43z"/>
<path class=bv d="M4683 1313l17-2-22 6-17 10zm430-130l17 10-22 22-18-33zm188-49l18 11-23 4-17-16z"/>
<path class=baH d="M4717 1392l18-76-23 1-17 6z"/>
<path class=bW d="M4735 1316l17 20-22-36-18 17z"/>
<path class=bc d="M4752 1336l17-41-22 9-17-4z"/>
<path class=bg d="M4769 1295l17 23-22-10-17-4zm464-136l17 36-22-4-17-52zm189-49l17-21-22 43-17-10z"/>
<path class=baO d="M4786 1318l17-35-22 39-17-14zm842-242l17 4-22-6-17-39z"/>
<path class=bB d="M4803 1283l17-22-22 49-17 12z"/>
<path class=baJ d="M4820 1261l18-11-23 6-17 54z"/>
<path class=bcI d="M4838 1250l17-6-22 0-18 12z"/>
<path class=baw d="M4855 1244l17 15-22 1-17-16zm859-244l17 6-22-5-17 10z"/>
<path class=bn d="M4872 1259l17 31-22-23-17-7z"/>
<path class=bS d="M4906 1265l18-22-23-19-17 32z"/>
<path class=bbW d="M4924 1243l17-17-22-9-18 7zm292-86l17 2-22-20-18-9z"/>
<path class=baC d="M4941 1226l17 14-22-18-17-5zm240-61l17 0-22-23-17 27zm344-100l17-6-22-9-17 12zm51-22l18 6-23-9-17 8z"/>
<path class=bcg d="M4958 1240l17 7-22-38-17 13z"/>
<path class=baM d="M4992 1274l17-43-22 2-17-18z"/>
<path class=bav d="M5009 1231l18-26-23-19-17 47z"/>
<path class=bgg d="M5027 1205l17-11-22-15-18 7zm51-18l17-1-22-22-17 10z"/>
<path class=bcJ d="M5044 1194l17-5-22-6-17-4z"/>
<path class=bdr d="M5061 1189l17-2-22-13-17 9z"/>
<path class=bP d="M5095 1186l18-3-23-1-17-18z"/>
<path class=bdn d="M5147 1220l17-34-22 6-17 24z"/>
<path class=bfg d="M5164 1186l17-21-22 4-17 23zm498-152l17-6-22-2-17 23z"/>
<path class=bdR d="M5198 1165l18-8-23-27-17 12z"/>
<path class=bdw d="M5250 1195l17-35-22 18-17 13z"/>
<path class=bbb d="M5267 1160l17 74-22-89-17 33z"/>
<path class=bY d="M5284 1234l17-100-22-1-17 12z"/>
<path class=bh d="M5319 1145l17 5-22-40-18 39z"/>
<path class=bgj d="M5336 1150l17-25-22-19-17 4z"/>
<path class=baS d="M5370 1114l17 10-22-4-17 13zm103-39l17 26-22-18-17 36z"/>
<path class=bb d="M5387 1124l18 5-23-11-17 2z"/>
<path class=bdx d="M5405 1129l17-19-22 12-18-4z"/>
<path class=bbF d="M5456 1067l17 8-22 44-17-30z"/>
<path class=bdb d="M5490 1101l18-8-23-18-17 8z"/>
<path class=bi d="M5508 1093l17-28-22-3-18 13z"/>
<path class=bbl d="M5542 1059l17-13-22 11-17-7z"/>
<path class=bcp d="M5559 1046l17-3-22 5-17 9z"/>
<path class=bch d="M5594 1049l17 4-22-22-18 9z"/>
<path class=bbm d="M5645 1080l17-46-22 15-17 25z"/>
<path class=baV d="M5679 1028l18-9-23 2-17 5z"/>
<path class=baL d="M5697 1019l17-19-22 11-18 10z"/>
<path class=bda d="M5748 1073l17-51-22-27-17-4z"/>
<path class=bM d="M5782 1011l18 9-23 16-17-21z"/>
<path class=bV d="M5800 1020l17-22-22-15-18 53z"/>
<path class=bd d="M5834 1001l17 48-22-81-17 20z"/>
<path class=baf d="M5851 1049l17-65-22-19-17 3z"/>
<path class=bdT d="M5868 984l18 5-23-35-17 11z"/>
<path class=bak d="M5886 989l17-10-22-42-18 17z"/>
<path class=bgh d="M5903 979l17-23-22-17-17-2z"/>
<path class=bu d="M5920 956l17-9-22-4-17-4z"/>
<path class=bA d="M4516 1384l17 60-22-56-17-17z"/>
<path class=bk d="M4533 1444l18-60-23-11-17 15zm842-195l17-115-22-20-17 11z"/>
<path class=bbd d="M4551 1384l17-9-22-12-18 10z"/>
<path class=bax d="M4568 1375l17 3-22-11-17-4zm515-147l17 71-22-112-17 2zm361-119l17 59-22-79-17 21zm86-26l17 71-22-89-17 28z"/>
<path class=bg d="M4585 1378l17-19-22 31-17-23zm1048-305l17 3-22 0-17-23zm258-91l17 63-22-56-18-5z"/>
<path class=bB d="M4602 1359l17 0-22-1-17 32z"/>
<path class=bb d="M4619 1359l17 14-22-20-17 5z"/>
<path class=bj d="M4636 1373l18-4-22 18-18-34zm653-202l17 6-22 57-17-74z"/>
<path class=bp d="M4654 1369l17-10-22-22-17 50z"/>
<path class=bcG d="M4671 1359l17-7-22-25-17 10z"/>
<path class=be d="M4688 1352l17 30-22-69-17 14z"/>
<path class=bJ d="M4705 1382l17-23-22-48-17 2z"/>
<path class=bae d="M4722 1359l18 7-23 26-17-81z"/>
<path class=bdh d="M4740 1366l17-15-22-35-18 76z"/>
<path class=br d="M4757 1351l17-34-22 19-17-20z"/>
<path class=baD d="M4774 1317l17-36-22 14-17 41zm120-52l17-8-22 33-17-31zm447-140l17 15-22 10-17-5zm172-40l17-2-22 10-18 8z"/>
<path class=bap d="M4791 1281l17-9-22 46-17-23zm17-9l17 10-22 1-17 35zm516-131l17-16-22 20-18-11zm171-51l18-5-23 16-17-26z"/>
<path class=bz d="M4825 1282l18 106-23-127-17 22z"/>
<path class=bbO d="M4843 1388l17-96-22-42-18 11z"/>
<path class=bfC d="M4860 1292l17-17-22-31-17 6z"/>
<path class=bbW d="M4877 1275l17-10-22-6-17-15z"/>
<path class=bv d="M4911 1257l18 2-23 6-17 25z"/>
<path class=baV d="M4929 1259l17-5-22-11-18 22z"/>
<path class=bbU d="M4946 1254l17-7-22-21-17 17z"/>
<path class=baC d="M4963 1247l17-8-22 1-17-14z"/>
<path class=baJ d="M4980 1239l17-4-22 12-17-7z"/>
<path class=bn d="M4997 1235l17 15-22 24-17-27zm258-59l17-2-22 21-17-36z"/>
<path class=bc d="M5014 1250l18 29-23-48-17 43z"/>
<path class=bbA d="M5032 1279l17 57-22-131-18 26z"/>
<path class=bw d="M5049 1336l17-99-22-43-17 11z"/>
<path class=bcw d="M5066 1237l17-9-22-39-17 5zm412-103l17-44-22-15-17-8z"/>
<path class=baf d="M5100 1299l17-80-22-33-17 1z"/>
<path class=bff d="M5117 1219l18-2-22-34-18 3z"/>
<path class=bE d="M5135 1217l17-22-22-2-17-10zm103-37l17-4-22-17-17-2z"/>
<path class=baS d="M5152 1195l17 12-22 13-17-27zm258-66l17 3-22-3-18-5z"/>
<path class=bd d="M5169 1207l17 29-22-50-17 34z"/>
<path class=bda d="M5186 1236l17-23-22-48-17 21z"/>
<path class=bdO d="M5203 1213l18-2-23-46-17 0z"/>
<path class=baj d="M5221 1211l17-31-22-23-18 8z"/>
<path class=bQ d="M5272 1174l17-3-22-11-17 35z"/>
<path class=bM d="M5306 1177l18-36-23-7-17 100zm447-123l17-6-22 25-17-67z"/>
<path class=bbb d="M5358 1140l17 109-22-124-17 25z"/>
<path class=bi d="M5392 1134l18-5-23-5-17-10zm533-163l17 15-22-30-17 23z"/>
<path class=bbz d="M5427 1132l17-23-22 1-17 19zm395-111l17-16-22-7-17 22z"/>
<path class=bL d="M5461 1168l17-34-22-67-17 22z"/>
<path class=bac d="M5547 1154l17-66-22-29-17 6z"/>
<path class=bbw d="M5564 1088l17 5-22-47-17 13z"/>
<path class=bag d="M5581 1093l17 5-22-55-17 3z"/>
<path class=bT d="M5598 1098l18 10-22-59-18-6z"/>
<path class=bcB d="M5616 1108l17-35-22-20-17-4z"/>
<path class=bbu d="M5650 1076l17 26-22-22-17-4z"/>
<path class=baP d="M5667 1102l17-29-22-39-17 46z"/>
<path class=bcU d="M5684 1073l18-28-23-17-17 6z"/>
<path class=bai d="M5702 1045l17-3-22-23-18 9z"/>
<path class=bgh d="M5719 1042l17-7-22-35-17 19z"/>
<path class=bZ d="M5736 1035l17 19-22-48-17-6z"/>
<path class=bdC d="M5770 1048l17 41-22-67-17 51z"/>
<path class=bdq d="M5787 1089l18 6-23-84-17 11z"/>
<path class=bdt d="M5805 1095l17-74-22-1-18-9z"/>
<path class=baX d="M5839 1005l17-23-22 19-17-3z"/>
<path class=bdH d="M5856 982l17-15-22 82-17-48z"/>
<path class=bq d="M5873 967l18 15-23 2-17 65z"/>
<path class=bY d="M5908 1045l17-74-22 8-17 10z"/>
<path class=bcK d="M5942 986l17 2-22-41-17 9z"/>
<path class=bg d="M4538 1385l18 14-23 45-17-60zm18 14l17-25-22 10-18 60zm206-80l17 18-22 14-17 15zm635-196l18-1-23 12-17 115zm224-48l17 17-22 16-18-10z"/>
<path class=baD d="M4573 1374l17 12-22-11-17 9zm446-127l18 21-23-18-17-15zm258-80l17 18-22-11-17 2zm636-192l17 8-22 62-17-63z"/>
<path class=bS d="M4590 1386l17-21-22 13-17-3zm739-205l17-17-22-23-18 36z"/>
<path class=bfb d="M4607 1365l17-11-22 5-17 19z"/>
<path class=bcv d="M4624 1354l17-9-22 14-17 0z"/>
<path class=baJ d="M4641 1345l18-4-23 32-17-14z"/>
<path class=bbF d="M4659 1341l17-6-22 34-18 4zm893-264l17-4-22 81-17-71z"/>
<path class=bbi d="M4676 1335l17-16-22 40-17 10z"/>
<path class=beB d="M4693 1319l17-4-22 37-17 7z"/>
<path class=bC d="M4710 1315l17-3-22 70-17-30zm533-129l17-6-22 0-17 31z"/>
<path class=bdj d="M4727 1312l18-6-23 53-17 23z"/>
<path class=bdH d="M4745 1306l17 13-22 47-18-7z"/>
<path class=bq d="M4779 1337l17-33-22 13-17 34zm790-264l17 19-22-4-17 66z"/>
<path class=bbl d="M4796 1304l17-6-22-17-17 36z"/>
<path class=bu d="M4813 1298l17 50-22-76-17 9zm705-183l17-29-22-1-18 5z"/>
<path class=bgb d="M4830 1348l18-38-23-28-17-10z"/>
<path class=bM d="M4848 1310l17-6-22 84-18-106z"/>
<path class=bj d="M4865 1304l17-2-22-10-17 96zm326-74l17 9-22-3-17-29zm636-204l17 13-22-18-17 74z"/>
<path class=bF d="M4882 1302l17 8-22-35-17 17z"/>
<path class=baj d="M4899 1310l17-19-22-26-17 10z"/>
<path class=bbU d="M4916 1291l18-26-23-8-17 8zm430-127l17-22-22-17-17 16z"/>
<path class=baC d="M4934 1265l17 20-22-26-18-2z"/>
<path class=bab d="M4951 1285l17 3-22-34-17 5zm910-242l17-32-22-29-17 23z"/>
<path class=bG d="M4968 1288l17-19-22-22-17 7z"/>
<path class=bU d="M4985 1269l17-13-22-17-17 8z"/>
<path class=bch d="M5002 1256l17-9-22-12-17 4z"/>
<path class=bad d="M5037 1268l17 54-22-43-18-29zm34-7l17-10-22-14-17 99z"/>
<path class=baq d="M5054 1322l17-61-22 75-17-57z"/>
<path class=bf d="M5088 1251l17-31-22 8-17 9zm412-115l18-21-23-25-17 44z"/>
<path class=baF d="M5105 1220l17-13-22 92-17-71zm533-128l17-28-22 9-17 35zm34-45l17 12-22 43-17-26z"/>
<path class=baS d="M5122 1207l18-13-23 25-17 80zm808-224l17 3-22-15-17 74z"/>
<path class=bap d="M5140 1194l17 14-22 9-18 2zm275-72l17 3-22 4-18 5zm17 3l17-12-22 19-17-3z"/>
<path class=bbd d="M5157 1208l17 37-22-50-17 22z"/>
<path class=bac d="M5174 1245l17-15-22-23-17-12zm670-206l17 4-22-38-17 16z"/>
<path class=baG d="M5208 1239l18-59-23 33-17 23zm275-103l17 0-22-2-17 34z"/>
<path class=bv d="M5226 1180l17 6-22 25-18 2zm360-88l17 9-22-8-17-5zm172-48l17-15-22 25-17-19zm17-15l17-14-22 33-17 6zm189-44l17-11-22 14-17-2z"/>
<path class=baL d="M5260 1180l17-13-22 9-17 4z"/>
<path class=bax d="M5294 1185l17-3-22-11-17 3z"/>
<path class=bb d="M5311 1182l18-1-23-4-17-6z"/>
<path class=bP d="M5363 1142l17-8-22 6-17-15z"/>
<path class=bB d="M5380 1134l17-11-22 126-17-109z"/>
<path class=bcp d="M5449 1113l17 1-22-5-17 23z"/>
<path class=bn d="M5466 1114l17 22-22 32-17-59z"/>
<path class=bcI d="M5535 1086l17-9-22 6-17 2z"/>
<path class=bbX d="M5603 1101l18-26-23 23-17-5z"/>
<path class=bba d="M5655 1064l17-17-22 29-17-3zm292-78l17-1-22 1-17-15z"/>
<path class=bae d="M5689 1059l18 92-23-78-17 29z"/>
<path class=bbc d="M5707 1151l17-44-22-62-18 28z"/>
<path class=bcR d="M5724 1107l17-44-22-21-17 3z"/>
<path class=baN d="M5741 1063l17-19-22-9-17 7z"/>
<path class=bV d="M5792 1015l18 0-23 74-17-41z"/>
<path class=bo d="M5810 1015l17 11-22 69-18-6z"/>
<path class=bcz d="M5878 1011l18-34-23-10-17 15z"/>
<path class=bcV d="M5896 977l17-2-22 7-18-15z"/>
<path class=nk d="M5864 214L5848 1040 5882 1044zM5864 214L5882 1044 5880 1031z" fill="url(#gb11)"/><path class=nk d="M5864 214v91" style="stroke:#aaa;stroke-width:9;stroke-opacity:1"/><path class=nk d="M5864 305v124" style="stroke:#3a3a30;stroke-width:11;stroke-opacity:1"/>
<path class=bcv d="M4561 1383l17 5-22 11-18-14zm1082-314l17 8-22 15-17-17z"/>
<path class=baT d="M4578 1388l17 5-22-19-17 25z"/>
<path class=bi d="M4595 1393l17 3-22-10-17-12z"/>
<path class=bab d="M4612 1396l17 2-22-33-17 21z"/>
<path class=bdb d="M4629 1398l17 29-22-73-17 11z"/>
<path class=bbq d="M4646 1427l18-39-23-43-17 9z"/>
<path class=bbw d="M4664 1388l17 1-22-48-18 4zm773-220l17-8-22-35-17-3z"/>
<path class=bbp d="M4681 1389l17 14-22-68-17 6zm790-231l17 6-22-50-17-1z"/>
<path class=bdV d="M4698 1403l17-47-22-37-17 16z"/>
<path class=bgd d="M4715 1356l17-15-22-26-17 4z"/>
<path class=baI d="M4732 1341l18 10-23-39-17 3z"/>
<path class=ban d="M4750 1351l17 26-22-71-18 6z"/>
<path class=bes d="M4767 1377l17-27-22-31-17-13z"/>
<path class=bbd d="M4784 1350l17 3-22-16-17-18zm17 3l17-22-22-27-17 33zm859-276l17 46-22-59-17 28z"/>
<path class=beV d="M4818 1331l17-6-22-27-17 6zm567-161l17-14-22-22-17 8z"/>
<path class=bg d="M4835 1325l18 45-23-22-17-50zm877-243l17-22-22 91-18-92z"/>
<path class=bge d="M4853 1370l17 20-22-80-18 38z"/>
<path class=bbE d="M4870 1390l17-91-22 5-17 6z"/>
<path class=bgf d="M4887 1299l17-19-22 22-17 2z"/>
<path class=bap d="M4904 1280l17 2-22 28-17-8z"/>
<path class=bv d="M4921 1282l17 40-22-31-17 19zm121-12l17-6-22 4-18-21zm137-54l17 23-22 6-17-37zm412-119l17 67-22-72-17-19zm275-70l17-15-22 31-17-4z"/>
<path class=bcB d="M4938 1322l18 11-22-68-18 26z"/>
<path class=bbe d="M4956 1333l17-20-22-28-17-20z"/>
<path class=bax d="M4973 1313l17-31-22 6-17-3zm343-125l18 22-23-28-17 3zm35 14l17-29-22-9-17 17zm601-190l17 50-22-76-17-3z"/>
<path class=bN d="M4990 1282l17-21-22 8-17 19z"/>
<path class=baU d="M5007 1261l17 5-22-10-17 13z"/>
<path class=bch d="M5024 1266l18 4-23-23-17 9z"/>
<path class=bM d="M5059 1264l17 0-22 58-17-54z"/>
<path class=baO d="M5076 1264l17-4-22 1-17 61z"/>
<path class=bW d="M5093 1260l17 29-22-38-17 10z"/>
<path class=be d="M5110 1289l17-38-22-31-17 31z"/>
<path class=bbs d="M5127 1251l18-9-23-35-17 13z"/>
<path class=ber d="M5145 1242l17-36-22-12-18 13z"/>
<path class=bcV d="M5162 1206l17 10-22-8-17-14z"/>
<path class=bB d="M5196 1239l17-31-22 22-17 15z"/>
<path class=bn d="M5213 1208l18 7-23 24-17-9z"/>
<path class=bbb d="M5231 1215l17 126-22-161-18 59z"/>
<path class=bga d="M5248 1341l17-97-22-58-17-6z"/>
<path class=bda d="M5265 1244l17-8-22-56-17 6z"/>
<path class=bbP d="M5282 1236l17-26-22-43-17 13zm395-113l17-26-22-50-17 17z"/>
<path class=bbJ d="M5299 1210l17-22-22-3-17-18z"/>
<path class=bau d="M5334 1210l17-8-22-21-18 1z"/>
<path class=bai d="M5368 1173l17-3-22-28-17 22zm447-126l17 7-22-39-18 0z"/>
<path class=beG d="M5402 1156l17-10-22-23-17 11z"/>
<path class=bbW d="M5419 1146l18 22-22-46-18 1z"/>
<path class=bex d="M5454 1160l17-2-22-45-17 12z"/>
<path class=bh d="M5488 1164l17-7-22-21-17-22z"/>
<path class=bbz d="M5505 1157l18-39-23 18-17 0z"/>
<path class=bcu d="M5523 1118l17-14-22 11-18 21z"/>
<path class=bO d="M5540 1104l17 4-22-22-17 29z"/>
<path class=bgg d="M5557 1108l17-20-22-11-17 9z"/>
<path class=beT d="M5574 1088l17 9-22-24-17 4z"/>
<path class=bbO d="M5608 1164l18-67-23 4-17-9z"/>
<path class=beI d="M5626 1097l17-28-22 6-18 26z"/>
<path class=bff d="M5694 1097l18-15-23-23-17-12z"/>
<path class=bdn d="M5729 1060l17-13-22 60-17 44z"/>
<path class=baS d="M5746 1047l17 16-22 0-17 44z"/>
<path class=bH d="M5763 1063l17 31-22-50-17 19z"/>
<path class=bcf d="M5780 1094l17-18-22-47-17 15z"/>
<path class=bef d="M5797 1076l18-29-23-32-17 14z"/>
<path class=bbx d="M5832 1054l17-33-22 5-17-11z"/>
<path class=baD d="M5849 1021l17 6-22 12-17-13z"/>
<path class=bbi d="M5883 1012l17 0-22-1-17 32z"/>
<path class=bbU d="M5900 1012l18 1-22-36-18 34z"/>
<path class=bdP d="M5918 1013l17 15-22-53-17 2z"/>
<path class=bcs d="M5935 1028l17-16-22-29-17-8z"/>
<path class=bck d="M5969 1062l17-38-22-39-17 1z"/>
<path class=bF d="M5986 1024l18-35-23-15-17 11z"/>
<path class=nk d="M4925 503L4909 1329 4943 1333zM4925 503L4943 1333 4941 1320z" fill="url(#gb01)"/><path class=nk d="M4925 503v91" style="stroke:#aaa;stroke-width:9;stroke-opacity:1"/><path class=nk d="M4925 594v124" style="stroke:#3a3a30;stroke-width:11;stroke-opacity:1"/>
<path class=bbU d="M4583 1411l17 4-22-27-17-5zm979-281l17-2-22-20-17-4z"/>
<path class=bbx d="M4600 1415l17-15-22-7-17-5z"/>
<path class=bi d="M4617 1400l17 5-22-9-17-3zm825-220l17-30-22 18-18-22zm481-159l17 23-22-31-18-1z"/>
<path class=bax d="M4634 1405l17 1-22-8-17-2z"/>
<path class=bg d="M4651 1406l18-1-23 22-17-29zm207-64l17 20-22 8-18-45zm429-129l17-6-22 29-17 8zm326-67l18-24-23 42-17-67zm189-85l18 17-23-2-17 18z"/>
<path class=by d="M4669 1405l17 7-22-24-18 39z"/>
<path class=bd d="M4686 1412l17 0-22-23-17-1z"/>
<path class=br d="M4703 1412l17-14-22 5-17-14z"/>
<path class=bdl d="M4720 1398l17 15-22-57-17 47z"/>
<path class=bft d="M4737 1413l18-23-23-49-17 15z"/>
<path class=bbf d="M4755 1390l17-4-22-35-18-10z"/>
<path class=bH d="M4772 1386l17-21-22 12-17-26z"/>
<path class=bC d="M4789 1365l17-18-22 3-17 27z"/>
<path class=bv d="M4806 1347l17-3-22 9-17-3zm326-99l18-3-23 6-17 38zm207-49l17-2-22 13-18-22zm137-48l17 3-22 4-17 2zm17 3l17-19-22 29-17-6zm189-50l17-21-22 40-17-46zm103-37l17-6-22 33-17-31z"/>
<path class=baV d="M4823 1344l17-6-22-7-17 22zm327-99l17-4-22 1-18 9z"/>
<path class=bZ d="M4840 1338l18 4-23-17-17 6z"/>
<path class=bae d="M4875 1362l17-23-22 51-17-20zm378-116l17-5-22 100-17-126z"/>
<path class=bbm d="M4892 1339l17-6-22-34-17 91z"/>
<path class=bes d="M4909 1333l17 3-22-56-17 19z"/>
<path class=bbw d="M4926 1336l17-3-22-51-17-2z"/>
<path class=bz d="M4943 1333l18 19-23-30-17-40z"/>
<path class=baP d="M4961 1352l17-31-22 12-18-11z"/>
<path class=bB d="M4978 1321l17-15-22 7-17 20z"/>
<path class=bf d="M4995 1306l17-6-22-18-17 31z"/>
<path class=bD d="M5012 1300l17-2-22-37-17 21z"/>
<path class=bdF d="M5029 1298l18 2-23-34-17-5z"/>
<path class=bT d="M5047 1300l17 4-22-34-18-4z"/>
<path class=bcj d="M5064 1304l17-18-22-22-17 6zm154-58l18 14-23-52-17 31z"/>
<path class=bdb d="M5081 1286l17-5-22-17-17 0z"/>
<path class=bh d="M5098 1281l17-8-22-13-17 4z"/>
<path class=bn d="M5115 1273l17-25-22 41-17-29zm516-151l17-8-22-17-18 67z"/>
<path class=bO d="M5167 1241l17-13-22-22-17 36z"/>
<path class=bdr d="M5184 1228l17-4-22-8-17-10z"/>
<path class=baD d="M5201 1224l17 22-22-7-17-23zm258-74l17 1-22 9-17 8zm51-15l18-10-23 32-17 7z"/>
<path class=bcS d="M5236 1260l17-14-22-31-18-7z"/>
<path class=bbT d="M5270 1241l17-28-22 31-17 97z"/>
<path class=baF d="M5304 1207l17-4-22 7-17 26zm395-124l18-2-23 16-17 26z"/>
<path class=bS d="M5321 1203l18-4-23-11-17 22z"/>
<path class=bA d="M5356 1197l17 21-22-16-17 8z"/>
<path class=bau d="M5373 1218l17-11-22-34-17 29z"/>
<path class=bdd d="M5390 1207l17-15-22-22-17 3z"/>
<path class=bbJ d="M5407 1192l17-17-22-19-17 14zm344-107l17 25-22-63-17 13z"/>
<path class=bct d="M5424 1175l18 5-23-34-17 10zm447-109l17-39-22 0-17-6z"/>
<path class=bfb d="M5528 1125l17 6-22-13-18 39z"/>
<path class=bdK d="M5545 1131l17-1-22-26-17 14z"/>
<path class=bdQ d="M5579 1128l17 10-22-50-17 20z"/>
<path class=bE d="M5596 1138l17 8-22-49-17-9z"/>
<path class=bbp d="M5648 1114l17 32-22-77-17 28z"/>
<path class=bgb d="M5665 1146l17-42-22-27-17-8z"/>
<path class=baS d="M5717 1081l17 28-22-27-18 15z"/>
<path class=bF d="M5734 1109l17-24-22-25-17 22z"/>
<path class=baA d="M5768 1110l17-43-22-4-17-16z"/>
<path class=bci d="M5820 1078l17 47-22-78-18 29z"/>
<path class=bcb d="M5837 1125l17-15-22-56-17-7z"/>
<path class=bbO d="M5854 1110l17-44-22-45-17 33z"/>
<path class=bcT d="M5888 1027l17-15-22 0-17 15z"/>
<path class=bcr d="M5905 1012l18 9-23-9-17 0z"/>
<path class=bc d="M5940 1044l17 33-22-49-17-15z"/>
<path class=beP d="M5957 1077l17-39-22-26-17 16z"/>
<path class=bM d="M5974 1038l17-17-22 41-17-50z"/>
<path class=bcW d="M5991 1021l18 15-23-12-17 38z"/>
<path class=bdx d="M6009 1036l17-29-22-18-18 35z"/>
<path class=bbJ d="M4605 1441l17-5-22-21-17-4zm979-286l17-15-22-12-17 2zm120-28l17-21-22-23-17 21zm224-60l17 9-22-55-18-9z"/>
<path class=bdb d="M4622 1436l17-19-22-17-17 15z"/>
<path class=baT d="M4639 1417l17-20-22 8-17-5zm498-154l18 4-23-19-17 25z"/>
<path class=bap d="M4656 1397l18 1-23 8-17-1zm705-210l17 10-22 0-17 2z"/>
<path class=bv d="M4674 1398l17 6-22 1-18 1zm17 6l17-15-22 23-17-7zm361-115l17 6-22 5-18-2zm171-46l17 37-22-34-17-22zm52-37l17 22-22 13-17 5zm103-9l17 3-22 18-17-21zm34-16l17 2-22 9-17 15zm35 0l17 6-22-7-18-5zm171-56l18 11-23 10-17-8zm52-15l17 3-22 33-17-32zm69-6l17-7-22 12-17-28zm34-25l17-1-22 32-17-25z"/>
<path class=bbv d="M4708 1389l17-8-22 31-17 0z"/>
<path class=baD d="M4725 1381l17-12-22 29-17 14z"/>
<path class=baF d="M4742 1369l17 4-22 40-17-15zm1220-337l17-14-22 59-17-33z"/>
<path class=bg d="M4759 1373l18 25-22-8-18 23zm1220-355l17 26-22-6-17 39z"/>
<path class=bdx d="M4777 1398l17-10-22-2-17 4z"/>
<path class=bb d="M4794 1388l17-6-22-17-17 21zm309-78l17-31-22 2-17 5zm533-174l17 8-22-22-18 24zm154-58l17 27-22-38-17 43z"/>
<path class=bH d="M4811 1382l17 49-22-84-17 18zm120-36l17 5-22-15-17-3z"/>
<path class=bfa d="M4828 1431l17-51-22-36-17 3z"/>
<path class=bcj d="M4845 1380l18-1-23-41-17 6zm18-1l17-19-22-18-18-4z"/>
<path class=baS d="M4880 1360l17-23-22 25-17-20zm17-23l17 6-22-4-17 23zm498-137l17-19-22 26-17 11zm619-176l17-4-22 16-18-15z"/>
<path class=bax d="M4914 1343l17 3-22-13-17 6z"/>
<path class=bci d="M4948 1351l18 8-23-26-17 3z"/>
<path class=bbb d="M4966 1359l17-30-22 23-18-19z"/>
<path class=bbL d="M4983 1329l17-16-22 8-17 31z"/>
<path class=bc d="M5000 1313l17 50-22-57-17 15z"/>
<path class=bd d="M5017 1363l17-59-22-4-17 6z"/>
<path class=baV d="M5034 1304l18-15-23 9-17 2zm395-121l18-2-23-6-17 17zm172-43l17-15-22 13-17-10zm292-89l17-3-22-21-17 39z"/>
<path class=bA d="M5069 1295l17 35-22-26-17-4zm807-223l17-21-22 15-17 44z"/>
<path class=bau d="M5086 1330l17-20-22-24-17 18z"/>
<path class=bN d="M5120 1279l17-16-22 10-17 8z"/>
<path class=bch d="M5155 1267l17-11-22-11-18 3z"/>
<path class=bu d="M5172 1256l17-7-22-8-17 4z"/>
<path class=bbU d="M5189 1249l17 1-22-22-17 13z"/>
<path class=bdK d="M5206 1250l17-7-22-19-17 4z"/>
<path class=bbX d="M5240 1280l18-59-22 39-18-14zm447-167l17 14-22-23-17 42z"/>
<path class=bbi d="M5258 1221l17-15-22 40-17 14z"/>
<path class=bW d="M5292 1228l17 58-22-73-17 28z"/>
<path class=bck d="M5309 1286l17-37-22-42-17 6z"/>
<path class=bbd d="M5326 1249l18-45-23-1-17 4z"/>
<path class=bbl d="M5344 1204l17-17-22 12-18 4z"/>
<path class=bdd d="M5464 1187l17 22-22-59-17 30z"/>
<path class=bbe d="M5481 1209l17 1-22-59-17-1z"/>
<path class=bcS d="M5498 1210l17-43-22-13-17-3z"/>
<path class=bbx d="M5515 1167l18-9-23-23-17 19z"/>
<path class=bcO d="M5533 1158l17-16-22-17-18 10z"/>
<path class=bP d="M5550 1142l17 0-22-11-17-6z"/>
<path class=baE d="M5567 1142l17 13-22-25-17 1z"/>
<path class=bS d="M5653 1144l17-34-22 4-17 8z"/>
<path class=ban d="M5721 1106l18-2-22-23-18 2z"/>
<path class=bC d="M5756 1097l17-18-22 6-17 24z"/>
<path class=bej d="M5807 1105l18-9-23-35-17 6z"/>
<path class=bh d="M5825 1096l17-9-22-9-18-17z"/>
<path class=bj d="M5842 1087l17-1-22 39-17-47zm17-1l17-14-22 38-17 15z"/>
<path class=bcZ d="M5910 1048l18 19-23-55-17 15z"/>
<path class=bay d="M5945 1076l17-44-22 12-17-23z"/>
<path class=bbz d="M5996 1044l18-20-23-3-17 17zm35-24l17 5-22-18-17 29z"/>
<path class=bN d="M4627 1438l17-9-22 7-17 5z"/>
<path class=baV d="M4644 1429l17-9-22-3-17 19zm361-86l17-33-22 3-17 16z"/>
<path class=bbx d="M4661 1420l18 8-23-31-17 20zm35 10l17-28-22 2-17-6z"/>
<path class=bai d="M4679 1428l17 2-22-32-18-1z"/>
<path class=baU d="M4713 1402l17-8-22-5-17 15zm1065-295l17-21-22-7-17 18z"/>
<path class=bu d="M4730 1394l17 9-22-22-17 8zm1065-308l17 4-22-12-17 1z"/>
<path class=bdF d="M4747 1403l17 18-22-52-17 12z"/>
<path class=bes d="M4764 1421l18-26-23-22-17-4z"/>
<path class=bv d="M4782 1395l17 14-22-11-18-25zm154-57l17 14-22-6-17-3zm86-28l17-8-22 61-17-50zm790-220l18 16-23-1-17-27zm138-52l17 12-22 26-17-9zm51 5l18 4-23-3-17-26z"/>
<path class=bd d="M4799 1409l17 9-22-30-17 10z"/>
<path class=bx d="M4816 1418l17 7-22-43-17 6zm1048-299l17-2-22-31-17 1z"/>
<path class=bbu d="M4833 1425l17-45-22 51-17-49z"/>
<path class=bM d="M4850 1380l18-12-23 12-17 51z"/>
<path class=bg d="M4868 1368l17 20-22-9-18 1zm103-18l17-9-22 18-18-8zm515-157l17 28-22-12-17-22z"/>
<path class=bbj d="M4885 1388l17 37-22-65-17 19z"/>
<path class=bau d="M4902 1425l17-52-22-36-17 23z"/>
<path class=baN d="M4919 1373l17-35-22 5-17-6zm292-102l17 14-22-35-17-1z"/>
<path class=bz d="M4953 1352l18-2-23 1-17-5zm877-246l17-2-22-8-18 9z"/>
<path class=bbX d="M4988 1341l17 2-22-14-17 30z"/>
<path class=bV d="M5039 1302l18 33-23-31-17 59z"/>
<path class=bbD d="M5057 1335l17-23-22-23-18 15z"/>
<path class=bZ d="M5074 1312l17-4-22-13-17-6zm326-86l17-27-22 1-17-3z"/>
<path class=bn d="M5091 1308l17 0-22 22-17-35z"/>
<path class=bbm d="M5108 1308l17-7-22 9-17 20zm223-71l18-14-23 26-17 37z"/>
<path class=bbz d="M5125 1301l17-12-22-10-17 31z"/>
<path class=bbJ d="M5142 1289l18 20-23-46-17 16zm894-243l17-11-22-15-17 4z"/>
<path class=bay d="M5160 1309l17 6-22-48-18-4z"/>
<path class=bbn d="M5177 1315l17-27-22-32-17 11z"/>
<path class=bdV d="M5194 1288l17-17-22-22-17 7z"/>
<path class=bbf d="M5228 1285l17 12-22-54-17 7z"/>
<path class=bW d="M5245 1297l18-18-23 1-17-37zm602-193l17 15-22-32-17 9z"/>
<path class=bC d="M5263 1279l17-40-22-18-18 59z"/>
<path class=bfL d="M5280 1239l17-4-22-29-17 15z"/>
<path class=baD d="M5297 1235l17 51-22-58-17-22z"/>
<path class=baO d="M5314 1286l17-49-22 49-17-58z"/>
<path class=bS d="M5349 1223l17 15-22-34-18 45z"/>
<path class=bbr d="M5366 1238l17 2-22-53-17 17z"/>
<path class=bD d="M5383 1240l17-14-22-29-17-10z"/>
<path class=bO d="M5417 1199l17-14-22-4-17 19zm17-14l18 3-23-5-17-2z"/>
<path class=bi d="M5452 1188l17 38-22-45-18 2zm154-44l17 18-22-22-17 15zm35 4l17 15-22-27-18-11zm120-39l17-2-22-10-17 7z"/>
<path class=bcU d="M5469 1226l17-33-22-6-17-6z"/>
<path class=bbb d="M5503 1221l17-9-22-2-17-1z"/>
<path class=bgc d="M5520 1212l18 13-23-58-17 43z"/>
<path class=baf d="M5538 1225l17-47-22-20-18 9z"/>
<path class=bcK d="M5555 1178l17 3-22-39-17 16z"/>
<path class=bdY d="M5572 1181l17-14-22-25-17 0z"/>
<path class=baT d="M5589 1167l17-23-22 11-17-13z"/>
<path class=bdT d="M5623 1162l18-14-23-23-17 15z"/>
<path class=bH d="M5658 1163l17-5-22-14-17-8z"/>
<path class=bcS d="M5675 1158l17 1-22-49-17 34z"/>
<path class=baj d="M5692 1159l17-33-22-13-17-3z"/>
<path class=bav d="M5709 1126l17-27-22 28-17-14z"/>
<path class=bap d="M5726 1099l18-3-23 10-17 21zm18-3l17 13-22-5-18 2zm189-43l17-15-22 29-18-19z"/>
<path class=bbY d="M5881 1117l17-16-22-29-17 14z"/>
<path class=bh d="M5898 1101l17-31-22-19-17 21z"/>
<path class=baE d="M5915 1070l18-17-23-5-17 3z"/>
<path class=bf d="M5967 1050l17 14-22-32-17 44z"/>
<path class=bag d="M5984 1064l17-21-22-25-17 14z"/>
<path class=bbd d="M6019 1047l17-1-22-22-18 20z"/>
<path class=bax d="M6053 1035l17-7-22-3-17-5z"/>
<path class=bL d="M4649 1476l17-18-22-29-17 9z"/>
<path class=bbx d="M4666 1458l18-30-23-8-17 9z"/>
<path class=baU d="M4684 1428l17-11-22 11-18-8z"/>
<path class=bv d="M4701 1417l17 25-22-12-17-2zm189-39l17-1-22 11-17-20zm429-120l17-9-22 37-17-51zm69-33l17 6-22 9-17-2z"/>
<path class=bi d="M4718 1442l17-20-22-20-17 28zm378-126l17 3-22-11-17 4z"/>
<path class=bai d="M4735 1422l17 10-22-38-17 8zm567-162l17-2-22-23-17 4z"/>
<path class=bbd d="M4752 1432l17 23-22-52-17-9zm361-113l17 6-22-17-17 0zm17 6l17-18-22-6-17 7z"/>
<path class=bbO d="M4769 1455l18-45-23 11-17-18zm241-84l17-10-22-18-17-2zm447-116l17 15-22-82-18-3zm584-178l17 2-22-33-17 1z"/>
<path class=bfg d="M4787 1410l17-20-22 5-18 26z"/>
<path class=bap d="M4804 1390l17-16-22 35-17-14z"/>
<path class=bbF d="M4821 1374l17 5-22 39-17-9z"/>
<path class=baF d="M4838 1379l17 8-22 38-17-7zm17 8l18-11-23 4-17 45z"/>
<path class=baT d="M4873 1376l17 2-22-10-18 12zm498-137l17-14-22 13-17-15zm51-16l17-1-22-23-17 27zm516-145l17-15-22-10-18 17z"/>
<path class=bad d="M4907 1377l17 51-22-3-17-37zm962-253l17 41-22-46-17-15z"/>
<path class=bj d="M4924 1428l17-70-22 15-17 52z"/>
<path class=bav d="M4941 1358l17-8-22-12-17 35z"/>
<path class=bba d="M4958 1350l18 16-23-14-17-14z"/>
<path class=bax d="M4976 1366l17-7-22-9-18 2zm1013-293l17-1-22-8-17-14z"/>
<path class=bh d="M4993 1359l17 12-22-30-17 9zm1013-287l17-5-22-24-17 21zm17-5l18 10-22-30-18-4z"/>
<path class=bcB d="M5027 1361l17 6-22-57-17 33z"/>
<path class=bgb d="M5044 1367l17-24-22-41-17 8z"/>
<path class=bn d="M5061 1343l18 22-22-30-18-33zm447-130l17-9-22 17-17-28zm155-52l17 18-22-16-17-15z"/>
<path class=bbh d="M5079 1365l17-49-22-4-17 23zm257-116l18 27-23-39-17 49z"/>
<path class=baV d="M5147 1307l18-17-23-1-17 12zm138-41l17-6-22-21-17 40z"/>
<path class=baD d="M5165 1290l17-4-22 23-18-20z"/>
<path class=bg d="M5182 1286l17 35-22-6-17-6zm68 0l18-3-23 14-17-12z"/>
<path class=baP d="M5199 1321l17-14-22-19-17 27z"/>
<path class=bce d="M5216 1307l17 11-22-47-17 17z"/>
<path class=baf d="M5233 1318l17-32-22-1-17-14z"/>
<path class=bB d="M5268 1283l17-17-22 13-18 18z"/>
<path class=bF d="M5354 1276l17-37-22-16-18 14z"/>
<path class=bN d="M5405 1231l17-8-22 3-17 14z"/>
<path class=bE d="M5439 1222l18 33-23-70-17 14z"/>
<path class=bbB d="M5474 1270l17 19-22-63-17-38z"/>
<path class=bfu d="M5491 1289l17-76-22-20-17 33zm69-48l17-33-22-30-17 47z"/>
<path class=baO d="M5525 1204l17 26-22-18-17 9z"/>
<path class=bam d="M5542 1230l18 11-22-16-18-13z"/>
<path class=be d="M5577 1208l17 0-22-27-17-3z"/>
<path class=bat d="M5594 1208l17-4-22-37-17 14z"/>
<path class=bac d="M5611 1204l17-27-22-33-17 23z"/>
<path class=bZ d="M5628 1177l18-18-23 3-17-18z"/>
<path class=bS d="M5646 1159l17 2-22-13-18 14z"/>
<path class=bdp d="M5680 1179l17 44-22-65-17 5z"/>
<path class=baH d="M5697 1223l17-80-22 16-17-1z"/>
<path class=bbz d="M5714 1143l17-2-22-15-17 33z"/>
<path class=bdb d="M5731 1141l18 47-23-89-17 27z"/>
<path class=bau d="M5749 1188l17 15-22-107-18 3z"/>
<path class=bfa d="M5766 1203l17-70-22-24-17-13z"/>
<path class=bbJ d="M5783 1133l17-2-22-24-17 2z"/>
<path class=bbf d="M5800 1131l17 28-22-73-17 21z"/>
<path class=baM d="M5817 1159l18-5-23-64-17-4z"/>
<path class=bda d="M5835 1154l17-32-22-16-18-16z"/>
<path class=bH d="M5852 1122l17 2-22-20-17 2z"/>
<path class=bfW d="M5886 1165l17-37-22-11-17 2z"/>
<path class=bdn d="M5903 1128l17-33-22 6-17 16z"/>
<path class=bR d="M5920 1095l18-17-23-8-17 31z"/>
<path class=bdK d="M5955 1063l17 0-22-25-17 15z"/>
<path class=baE d="M5972 1063l17 10-22-23-17-12z"/>
<path class=bdG d="M6058 1079l17-5-22-39-17 11z"/>
<path class=bcS d="M6075 1074l17-23-22-23-17 7z"/>
<path class=bbM d="M4671 1506l18-15-23-33-17 18z"/>
<path class=bfa d="M4689 1491l17-13-22-50-18 30z"/>
<path class=bbq d="M4706 1478l17-27-22-34-17 11z"/>
<path class=bax d="M4723 1451l17 29-22-38-17-25zm275-75l17-6-22-11-17 7z"/>
<path class=bby d="M4740 1480l17-1-22-57-17 20z"/>
<path class=bdM d="M4757 1479l17-39-22-8-17-10zm206-70l18 3-23-62-17 8z"/>
<path class=bg d="M4774 1440l18-18-23 33-17-23zm155-62l17 11-22 39-17-51zm309-88l17 14-22 14-17-11zm309-84l18 14-23 10-17-26zm464-135l17 37-22-36-17 1z"/>
<path class=bdx d="M4792 1422l17 25-22-37-18 45z"/>
<path class=bcf d="M4809 1447l17-6-22-51-17 20z"/>
<path class=bfX d="M4826 1441l17-9-22-58-17 16z"/>
<path class=bex d="M4843 1432l17-15-22-38-17-5z"/>
<path class=baN d="M4860 1417l18 10-23-40-17-8zm52-10l17-29-22-1-17 1z"/>
<path class=bL d="M4878 1427l17 2-22-53-18 11z"/>
<path class=bbP d="M4895 1429l17-22-22-29-17-2zm498-151l17-14-22-39-17 14z"/>
<path class=by d="M4946 1389l17 20-22-51-17 70zm1151-300l17-31-22-7-17 23z"/>
<path class=bbn d="M4981 1412l17-36-22-10-18-16z"/>
<path class=bn d="M5015 1370l17-9-22 10-17-12z"/>
<path class=bR d="M5032 1361l17 0-22 0-17 10z"/>
<path class=bM d="M5049 1361l17 13-22-7-17-6z"/>
<path class=bbB d="M5066 1374l18 60-23-91-17 24zm997-273l17 23-22-45-17-2z"/>
<path class=bdI d="M5084 1434l17-70-22 1-18-22z"/>
<path class=bI d="M5101 1364l17 25-22-73-17 49z"/>
<path class=bcR d="M5118 1389l17-55-22-15-17-3z"/>
<path class=bS d="M5135 1334l17-13-22 4-17-6zm17-13l18 3-23-17-17 18zm378-102l17-13-22-2-17 9z"/>
<path class=bm d="M5170 1324l17-1-22-33-18 17z"/>
<path class=bag d="M5187 1323l17-3-22-34-17 4z"/>
<path class=bv d="M5204 1320l17-23-22 24-17-35zm258-99l17-3-22 37-18-33z"/>
<path class=baS d="M5221 1297l17-7-22 17-17 14z"/>
<path class=bW d="M5255 1304l18 22-23-40-17 32z"/>
<path class=bfY d="M5273 1326l17-15-22-28-18 3z"/>
<path class=bf d="M5290 1311l17-43-22-2-17 17z"/>
<path class=baU d="M5307 1268l17-13-22 5-17 6zm137-35l18-12-23 1-17 1z"/>
<path class=bap d="M5324 1255l17 2-22 1-17 2zm670-188l17 4-22 2-17-10z"/>
<path class=bi d="M5341 1257l18 39-23-47-17 9z"/>
<path class=baH d="M5359 1296l17 53-22-73-18-27z"/>
<path class=bfZ d="M5376 1349l17-71-22-39-17 37z"/>
<path class=bab d="M5410 1264l17-4-22-29-17-6z"/>
<path class=bbJ d="M5427 1260l17-27-22-10-17 8z"/>
<path class=baG d="M5479 1218l17 14-22 38-17-15zm240-42l17-7-22-26-17 80z"/>
<path class=bco d="M5496 1232l17 51-22 6-17-19z"/>
<path class=bad d="M5513 1283l17-64-22-6-17 76zm52-63l17 15-22 6-18-11zm343-88l17-19-22 15-17 37z"/>
<path class=bdu d="M5582 1235l17 15-22-42-17 33z"/>
<path class=bbS d="M5599 1250l17-32-22-10-17 0zm429-142l18 8-23-49-17 5z"/>
<path class=bV d="M5616 1218l17-35-22 21-17 4z"/>
<path class=bdH d="M5633 1183l18-6-23 0-17 27z"/>
<path class=bbd d="M5651 1177l17 11-22-29-18 18z"/>
<path class=bF d="M5668 1188l17-3-22-24-17-2z"/>
<path class=bj d="M5685 1185l17 54-22-60-17-18zm69-10l17 4-22 9-18-47zm86-32l17-22-22 33-18 5z"/>
<path class=bdf d="M5702 1239l17-63-22 47-17-44z"/>
<path class=bT d="M5736 1169l18 6-23-34-17 2z"/>
<path class=bae d="M5771 1179l17-27-22 51-17-15zm120-28l17-19-22 33-17-41z"/>
<path class=bbK d="M5788 1152l17-8-22-11-17 70z"/>
<path class=bc d="M5805 1144l17 42-22-55-17 2z"/>
<path class=bcn d="M5822 1186l18-43-23 16-17-28z"/>
<path class=bB d="M5857 1121l17 8-22-7-17 32z"/>
<path class=br d="M5874 1129l17 22-22-27-17-2z"/>
<path class=beM d="M5925 1113l18-5-23-13-17 33z"/>
<path class=bd d="M5943 1108l17 36-22-66-18 17z"/>
<path class=bcG d="M5960 1144l17-52-22-29-17 15z"/>
<path class=ban d="M5977 1092l17-25-22-4-17 0z"/>
<path class=bcc d="M6046 1116l17-15-22-24-18-10z"/>
<path class=bga d="M6080 1124l17-35-22-15-17 5z"/>
<path class=bj d="M4694 1485l17 9-22-3-18 15zm429-114l17-15-22 33-17-25zm275-93l17-13-22 13-17 71zm309-67l17-37-22 65-17-54zm258-83l17-4-22 20-17-36z"/>
<path class=bbb d="M4711 1494l17-12-22-4-17 13zm1202-355l17 17-22-24-17 19z"/>
<path class=bH d="M4728 1482l17-6-22-25-17 27zm773-228l17 12-22-34-17-14zm69-13l17 1-22-22-18-14z"/>
<path class=bg d="M4745 1476l17-28-22 32-17-29zm17-28l17 1-22 30-17 1zm601-170l18 39-22-21-18-39zm464-127l17-5-22 40-17-42z"/>
<path class=br d="M4779 1449l18 43-23-52-17 39zm1117-284l17-26-22 12-17-22z"/>
<path class=beN d="M4797 1492l17-10-22-60-18 18z"/>
<path class=bw d="M4814 1482l17-17-22-18-17-25zm223-87l17 15-22-49-17 9zm893-239l18-21-23-22-17 19zm18-21l17-7-22-20-18 5z"/>
<path class=bbh d="M4831 1465l17-29-22 5-17 6zm756-223l17-21-22 14-17-15z"/>
<path class=bbX d="M4848 1436l17-13-22 9-17 9z"/>
<path class=bdj d="M4865 1423l17-10-22 4-17 15z"/>
<path class=bv d="M4882 1413l18-5-22 19-18-10zm550-161l17 4-22 4-17 4z"/>
<path class=bn d="M4900 1408l17-9-22 30-17-2zm17-9l17 13-22-5-17 22z"/>
<path class=be d="M4934 1412l17 42-22-76-17 29z"/>
<path class=bby d="M4951 1454l17-33-22-32-17-11z"/>
<path class=bW d="M4968 1421l18-7-23-5-17-20zm103-34l18-19-23 6-17-13zm619-196l17 20-22-26-17 3zm343-67l18-21-23 5-17-37z"/>
<path class=baH d="M4986 1414l17-6-22 4-18-3z"/>
<path class=bY d="M5003 1408l17-12-22-20-17 36z"/>
<path class=bbO d="M5020 1396l17-1-22-25-17 6z"/>
<path class=bdE d="M5054 1410l17-23-22-26-17 0z"/>
<path class=bad d="M5089 1368l17 1-22 65-18-60zm429-102l17 8-22 9-17-51zm533-163l17 3-22 10-18-8zm34 3l17-34-22 52-17-23z"/>
<path class=bae d="M5106 1369l17 2-22-7-17 70z"/>
<path class=bbL d="M5140 1356l17-3-22-19-17 55z"/>
<path class=bcG d="M5157 1353l18-4-23-28-17 13z"/>
<path class=bT d="M5175 1349l17-8-22-17-18-3zm274-93l18 26-23-49-17 27z"/>
<path class=bbd d="M5192 1341l17-8-22-10-17 1z"/>
<path class=bax d="M5209 1333l17 1-22-14-17 3zm51-22l18 13-23-20-17-14z"/>
<path class=bbe d="M5226 1334l17 15-22-52-17 23z"/>
<path class=bdd d="M5243 1349l17-38-22-21-17 7z"/>
<path class=bM d="M5278 1324l17 4-22-2-18-22zm446-150l17 4-22-2-17 63z"/>
<path class=bp d="M5295 1328l17-20-22 3-17 15z"/>
<path class=bz d="M5312 1308l17-8-22-32-17 43z"/>
<path class=bah d="M5329 1300l17-22-22-23-17 13z"/>
<path class=bbU d="M5346 1278l17 0-22-21-17-2z"/>
<path class=bfl d="M5381 1317l17-39-22 71-17-53z"/>
<path class=bdH d="M5415 1265l17-13-22 12-17 14z"/>
<path class=bK d="M5467 1282l17 5-22-66-18 12z"/>
<path class=bcf d="M5484 1287l17-33-22-36-17 3z"/>
<path class=bo d="M5535 1274l17-24-22-31-17 64zm533-168l17 0-22-5-17 15z"/>
<path class=bL d="M5552 1250l18-9-23-35-17 13z"/>
<path class=baG d="M5604 1221l17-22-22 51-17-15zm498-149l17-11-22 28-17 35z"/>
<path class=bB d="M5621 1199l17-12-22 31-17 32z"/>
<path class=bbi d="M5638 1187l18-1-23-3-17 35z"/>
<path class=baT d="M5656 1186l17 4-22-13-18 6z"/>
<path class=bS d="M5673 1190l17 1-22-3-17-11z"/>
<path class=bc d="M5741 1178l18 32-23-41-17 7z"/>
<path class=bdl d="M5759 1210l17-28-22-7-18-6z"/>
<path class=baP d="M5776 1182l17-3-22 0-17-4z"/>
<path class=bX d="M5793 1179l17 30-22-57-17 27z"/>
<path class=bbk d="M5810 1209l17-58-22-7-17 8z"/>
<path class=bbm d="M5844 1146l18 11-22-14-18 43z"/>
<path class=bce d="M5862 1157l17 3-22-39-17 22z"/>
<path class=bd d="M5879 1160l17 5-22-36-17-8z"/>
<path class=bfW d="M5982 1124l17 44-22-76-17 52z"/>
<path class=bcb d="M5999 1168l17 4-22-105-17 25z"/>
<path class=bdX d="M6016 1172l17-48-22-53-17-4z"/>
<path class=bV d="M6119 1061l18-1-23-2-17 31z"/>
<path class=bv d="M4716 1470l17 7-22 17-17-9zm1151-328l17-1-22 16-18-11z"/>
<path class=bg d="M4733 1477l17 14-22-9-17 12zm258-71l17 8-22 0-18 7zm85-15l18-26-23 22-17 23zm172-51l17-10-22 19-17-15zm309-97l18-13-23 20-17 24zm327-102l17 28-22-9-17-3zm172-52l17 29-22-15-18 21zm34 11l17-19-22 25-17 0z"/>
<path class=bW d="M4750 1491l17 19-22-34-17 6z"/>
<path class=bdX d="M4767 1510l17-10-22-52-17 28z"/>
<path class=bcd d="M4784 1500l18-22-23-29-17-1z"/>
<path class=bM d="M4802 1478l17 0-22 14-18-43zm240-83l17 37-22-37-17 1zm670-192l17 37-22-29-17-20zm86-22l17 24-22-26-17 3z"/>
<path class=bad d="M4819 1478l17-12-22 16-17 10zm996-273l17-18-22 22-17-30z"/>
<path class=baG d="M4836 1466l17-14-22 13-17 17z"/>
<path class=bdx d="M4853 1452l17 4-22-20-17 29z"/>
<path class=ba d="M4870 1456l17 12-22-45-17 13z"/>
<path class=bS d="M4887 1468l18-55-23 0-17 10zm962-302l18-24-23 4-17 5z"/>
<path class=bbl d="M4905 1413l17-15-22 10-18 5z"/>
<path class=beD d="M4922 1398l17 1-22 0-17 9z"/>
<path class=bap d="M4939 1399l17 10-22 3-17-13z"/>
<path class=bA d="M4956 1409l17 22-22 23-17-42z"/>
<path class=bbK d="M4973 1431l18-25-23 15-17 33z"/>
<path class=bQ d="M5008 1414l17-19-22 13-17 6zm584-174l17-16-22 18-17-1z"/>
<path class=bbX d="M5025 1395l17 0-22 1-17 12zm945-268l17-2-22 3-17 7z"/>
<path class=bbb d="M5059 1432l17-41-22 19-17-15zm842-263l17 0-22-4-17-5z"/>
<path class=baS d="M5094 1365l17 18-22-15-18 19z"/>
<path class=bc d="M5111 1383l17 29-22-43-17-1zm172-42l17 25-22-42-18-13z"/>
<path class=beC d="M5128 1412l17-28-22-13-17-2z"/>
<path class=bw d="M5145 1384l17-5-22-23-17 15z"/>
<path class=bcn d="M5162 1379l18 9-23-35-17 3zm18 9l17 15-22-54-18 4z"/>
<path class=beL d="M5197 1403l17-30-22-32-17 8z"/>
<path class=bcc d="M5214 1373l17 5-22-45-17 8z"/>
<path class=bdl d="M5231 1378l17-38-22-6-17-1z"/>
<path class=bz d="M5265 1330l18 11-23-30-17 38zm207-44l17-12-22 8-18-26z"/>
<path class=bcH d="M5300 1366l17-26-22-12-17-4z"/>
<path class=bx d="M5317 1340l17 13-22-45-17 20zm206-42l17-22-22-10-17-12z"/>
<path class=baB d="M5334 1353l17-53-22 0-17 8z"/>
<path class=baV d="M5351 1300l17-13-22-9-17 22z"/>
<path class=baE d="M5368 1287l18 3-23-12-17 0z"/>
<path class=bbv d="M5386 1290l17-15-22 42-18-39z"/>
<path class=baF d="M5403 1275l17-4-22 7-17 39z"/>
<path class=bi d="M5420 1271l17 14-22-20-17 13z"/>
<path class=bbp d="M5437 1285l17-7-22-26-17 13zm241-64l17-17-22-14-17-4z"/>
<path class=bbd d="M5454 1278l18 8-23-30-17-4zm241-74l17-1-22-12-17-1z"/>
<path class=bj d="M5489 1274l17 10-22 3-17-5zm498-149l17 47-22-48-17 4z"/>
<path class=bdB d="M5506 1284l17 14-22-44-17 33z"/>
<path class=bbm d="M5540 1276l17-33-22 31-17-8zm292-89l17-21-22-15-17 58z"/>
<path class=bn d="M5575 1230l17 10-22 1-18 9z"/>
<path class=bdH d="M5609 1224l17-9-22 6-17 21z"/>
<path class=baT d="M5626 1215l17-1-22-15-17 22zm516-142l17-20-22 7-18 1z"/>
<path class=bdF d="M5643 1214l18 12-23-39-17 12z"/>
<path class=bD d="M5661 1226l17-5-22-35-18 1z"/>
<path class=baP d="M5729 1240l17-36-22-30-17 37z"/>
<path class=bH d="M5746 1204l18 18-23-44-17-4z"/>
<path class=br d="M5764 1222l17-36-22 24-18-32zm309-104l17-18-22 6-17-3z"/>
<path class=bbL d="M5781 1186l17-5-22 1-17 28zm257-93l18-4-23 35-17 48z"/>
<path class=bdt d="M5918 1169l17 17-22-47-17 26z"/>
<path class=bfV d="M5935 1186l18-24-23-6-17-17z"/>
<path class=bdn d="M5953 1162l17-35-22 8-18 21z"/>
<path class=bdf d="M6004 1172l17-47-22 43-17-44z"/>
<path class=bfc d="M6021 1125l17-32-22 79-17-4z"/>
<path class=bR d="M6107 1081l17 10-22-19-17 34z"/>
<path class=baN d="M6124 1091l18-18-23-12-17 11z"/>
<path class=bbO d="M4738 1530l17 6-22-59-17-7z"/>
<path class=bH d="M4755 1536l17-61-22 16-17-14zm1391-450l18 42-22-55-18 18z"/>
<path class=bdH d="M4772 1475l17-28-22 63-17-19zm533-160l17-20-22 71-17-25zm34-29l17 20-22 47-17-13z"/>
<path class=bC d="M4789 1447l18 1-23 52-17 10z"/>
<path class=bq d="M4807 1448l17 17-22 13-18 22zm962-265l17-13-22 52-18-18zm257-71l17-11-22 24-17 47z"/>
<path class=bv d="M4824 1465l17-18-22 31-17 0zm17-18l17 3-22 16-17 12zm17 3l17 11-22-9-17 14zm34-15l18-3-23 36-17-12zm104-30l17 15-22-14-18 25zm292-69l17-21-22 26-18-11zm618-185l17-4-22 22-17-28z"/>
<path class=bN d="M4875 1461l17-26-22 21-17-4z"/>
<path class=bfg d="M4910 1432l17 6-22-25-18 55zm412-137l17-9-22 54-17 26z"/>
<path class=bbZ d="M4927 1438l17-10-22-30-17 15z"/>
<path class=bcy d="M4944 1428l17-5-22-24-17-1z"/>
<path class=bu d="M4961 1423l17-7-22-7-17-10z"/>
<path class=bba d="M4978 1416l18-11-23 26-17-22zm808-246l17 1-22 15-17 36z"/>
<path class=baV d="M5013 1420l17-23-22 17-17-8zm1099-316l17-21-22-2-17 19z"/>
<path class=beB d="M5030 1397l17-16-22 14-17 19z"/>
<path class=bap d="M5047 1381l17 11-22 3-17 0zm618-176l18-2-22 23-18-12z"/>
<path class=bA d="M5064 1392l17 41-22-1-17-37zm464-133l17 18-22 21-17-14z"/>
<path class=bn d="M5081 1433l18-69-23 27-17 41zm722-262l17 61-22-51-17 5z"/>
<path class=bfd d="M5099 1364l17-9-22 10-18 26z"/>
<path class=baw d="M5116 1355l17 0-22 28-17-18zm532-151l17 1-22 9-17 1z"/>
<path class=baF d="M5133 1355l17 13-22 44-17-29zm876-247l17 4-22 60-17-47z"/>
<path class=bg d="M5150 1368l17 5-22 11-17 28zm17 5l17-4-22 10-17 5zm567-163l17-2-22 32-17-37zm17-2l18-25-23 21-17 36zm327-98l17 30-22-22-17-29z"/>
<path class=bM d="M5184 1369l18 21-22-2-18-9z"/>
<path class=bj d="M5202 1390l17-43-22 56-17-15z"/>
<path class=bV d="M5219 1347l17-23-22 49-17 30zm721-213l18-5-23 57-17-17z"/>
<path class=bdj d="M5236 1324l17-13-22 67-17-5z"/>
<path class=bcu d="M5253 1311l17 1-22 28-17 38z"/>
<path class=baJ d="M5270 1312l18 24-23-6-17 10z"/>
<path class=bQ d="M5356 1306l17 22-22-28-17 53z"/>
<path class=bi d="M5373 1328l18-38-23-3-17 13zm499-159l17-11-22-16-18 24z"/>
<path class=baU d="M5391 1290l17 0-22 0-18-3z"/>
<path class=bZ d="M5408 1290l17 18-22-33-17 15z"/>
<path class=bbf d="M5425 1308l17 6-22-43-17 4z"/>
<path class=bc d="M5442 1314l17 37-22-66-17-14z"/>
<path class=baB d="M5459 1351l18-73-23 0-17 7z"/>
<path class=baS d="M5477 1278l17 7-22 1-18-8zm446-131l17-13-22 35-17 0z"/>
<path class=bz d="M5494 1285l17 0-22-11-17 12z"/>
<path class=bbX d="M5511 1285l17-26-22 25-17-10zm464-145l17-5-22-8-17 35z"/>
<path class=bae d="M5545 1277l17 59-22-60-17 22z"/>
<path class=bdD d="M5562 1336l18-55-23-38-17 33z"/>
<path class=bbC d="M5580 1281l17-8-22-43-18 13z"/>
<path class=bay d="M5597 1273l17-34-22 1-17-10z"/>
<path class=bfb d="M5614 1239l17-28-22 13-17 16z"/>
<path class=bcr d="M5631 1211l17-7-22 11-17 9z"/>
<path class=baD d="M5683 1203l17 6-22 12-17 5zm446-120l17 3-22 5-17-10z"/>
<path class=baX d="M5700 1209l17-1-22-4-17 17zm292-74l17-27-22 17-17 2z"/>
<path class=bS d="M5717 1208l17 2-22-7-17 1z"/>
<path class=bcn d="M5820 1232l17-34-22 7-17-24z"/>
<path class=bB d="M5837 1198l17-20-22 9-17 18z"/>
<path class=bR d="M5854 1178l18-9-23-3-17 21z"/>
<path class=bch d="M5889 1158l17-7-22-10-17 1z"/>
<path class=bbm d="M5958 1129l17 11-22 22-18 24z"/>
<path class=bav d="M6043 1101l18 1-23-9-17 32z"/>
<path class=baE d="M6061 1102l17 8-22-21-18 4z"/>
<path class=bbh d="M6095 1140l17-36-22-4-17 18z"/>
<path class=bcR d="M6164 1128l17-34-22-41-17 20z"/>
<path class=baX d="M4760 1464l17-12-22 84-17-6z"/>
<path class=beI d="M4777 1452l17 10-22 13-17 61zm258-24l17-41-22 10-17 23z"/>
<path class=bet d="M4794 1462l18-5-23-10-17 28zm533-141l17-28-22 2-17 20z"/>
<path class=beq d="M4812 1457l17 9-22-18-18-1z"/>
<path class=bem d="M4829 1466l17-7-22 6-17-17zm154-57l17 1-22 6-17 7zm206-57l18-19-23 36-17 4zm550-167l17 0-22 25-17-2z"/>
<path class=bO d="M4846 1459l17 5-22-17-17 18zm1099-320l17 12-22-17-17 13z"/>
<path class=bch d="M4863 1464l17 11-22-25-17-3z"/>
<path class=bZ d="M4880 1475l17-20-22 6-17-11zm17-20l18 10-23-30-17 26z"/>
<path class=bu d="M4915 1465l17-33-22 0-18 3z"/>
<path class=bcr d="M4932 1432l17-10-22 16-17-6z"/>
<path class=baw d="M4949 1422l17 18-22-12-17 10zm155-52l17 4-22-10-18 69zm51-8l17 36-22-30-17-13zm395-109l17-17-22 41-17-18zm206-68l18 1-23 22-17 2z"/>
<path class=bbl d="M4966 1440l17-31-22 14-17 5z"/>
<path class=bP d="M5000 1410l18 16-22-21-18 11z"/>
<path class=baT d="M5018 1426l17 2-22-8-17-15zm876-259l17 1-22-10-17 11z"/>
<path class=bfM d="M5052 1387l17-12-22 6-17 16z"/>
<path class=bcE d="M5069 1375l17 10-22 7-17-11zm344-95l17-1-22 11-17 0z"/>
<path class=beJ d="M5086 1385l18-15-23 63-17-41zm773-221l18-13-23 27-17 20z"/>
<path class=bfN d="M5121 1374l17 10-22-29-17 9z"/>
<path class=bfO d="M5138 1384l17-22-22-7-17 0z"/>
<path class=baU d="M5172 1398l17-46-22 21-17-5zm739-230l17-20-22 3-17 7zm103-21l17-29-22-10-17 27z"/>
<path class=beg d="M5207 1333l17 4-22 53-18-21zm326-72l17-8-22 6-17 26z"/>
<path class=bap d="M5224 1337l17 11-22-1-17 43zm154-21l18-15-23 27-17-22zm121-35l17-17-22 21-17-7zm17-17l17-3-22 24-17 0zm481-149l17 32-22-12-17 5zm86-23l17 50-22-32-17-8z"/>
<path class=bfP d="M5241 1348l17-27-22 3-17 23zm790-230l17-26-22 20-17-4z"/>
<path class=bfQ d="M5258 1321l17-15-22 5-17 13z"/>
<path class=bfR d="M5275 1306l18-9-23 15-17-1z"/>
<path class=bew d="M5293 1297l17 6-22 33-18-24zm755-205l18-13-23 22-17 11z"/>
<path class=bcV d="M5310 1303l17 18-22-6-17 21zm412-111l17-7-22 23-17 1z"/>
<path class=bfS d="M5344 1293l17-7-22 0-17 9z"/>
<path class=bcD d="M5361 1286l17 30-22-10-17-20zm344-90l17-4-22 17-17-6z"/>
<path class=bfd d="M5396 1301l17-21-22 10-18 38z"/>
<path class=bcv d="M5430 1279l17 21-22 8-17-18zm447-128l17 16-22 2-18 9z"/>
<path class=baS d="M5447 1300l17 13-22 1-17-6z"/>
<path class=bA d="M5464 1313l18-23-23 61-17-37zm705-215l17 41-22-11-18-42z"/>
<path class=bn d="M5482 1290l17-9-22-3-18 73zm360-99l17-27-22 34-17 34z"/>
<path class=bfg d="M5567 1236l18-10-23 110-17-59z"/>
<path class=bbz d="M5585 1226l17-3-22 58-18 55z"/>
<path class=bcu d="M5602 1223l17 8-22 42-17 8z"/>
<path class=baJ d="M5619 1231l17 9-22-1-17 34z"/>
<path class=bbU d="M5636 1240l17 2-22-31-17 28z"/>
<path class=bdP d="M5653 1242l17 20-22-58-17 7z"/>
<path class=bdQ d="M5670 1262l18-43-23-14-17-1z"/>
<path class=bfT d="M5688 1219l17-23-22 7-18 2z"/>
<path class=beZ d="M5774 1186l17-15-22 12-18 25z"/>
<path class=bep d="M5791 1171l17 10-22-11-17 13z"/>
<path class=bcz d="M5808 1181l17 16-22-26-17-1z"/>
<path class=bv d="M5825 1197l17-6-22 41-17-61z"/>
<path class=beD d="M5928 1148l17-9-22 8-17 4zm52-5l17-28-22 25-17-11z"/>
<path class=bbW d="M5962 1151l18-8-22-14-18 5z"/>
<path class=bfU d="M6066 1079l17 13-22 10-18-1z"/>
<path class=bg d="M6100 1142l17-14-22 12-17-30z"/>
<path class=bcn d="M6117 1128l17 28-22-52-17 36z"/>
<path class=bh d="M6134 1156l17-51-22-22-17 21z"/>
<path class=bbx d="M6151 1105l18-7-23-12-17-3z"/>
<path class=bbm d="M6186 1139l17-72-22 27-17 34z"/>
<path class=nk d="M6063 325L6047 1151 6081 1155zM6063 325L6081 1155 6079 1142z" fill="url(#gb12)"/><path class=nk d="M6063 325v91" style="stroke:#aaa;stroke-width:9;stroke-opacity:1"/><path class=nk d="M6063 416v124" style="stroke:#3a3a30;stroke-width:11;stroke-opacity:1"/>
<path class=bfv d="M4782 1514l17-14-22-48-17 12z"/>
<path class=bfw d="M4799 1500l18-6-23-32-17-10z"/>
<path class=bfx d="M4817 1494l17-2-22-35-18 5z"/>
<path class=bcX d="M4834 1492l17-3-22-23-17-9z"/>
<path class=bcy d="M4851 1489l17-13-22-17-17 7z"/>
<path class=bcz d="M4868 1476l17-7-22-5-17-5zm120-32l17-8-22-27-17 31z"/>
<path class=baJ d="M4885 1469l17 25-22-19-17-11z"/>
<path class=bcU d="M4902 1494l18-7-23-32-17 20zm189-13l18-13-23-83-17-10z"/>
<path class=bbd d="M4920 1487l17 19-22-41-18-10zm17 19l17-46-22-28-17 33z"/>
<path class=bfy d="M4954 1460l17-14-22-24-17 10z"/>
<path class=bP d="M4971 1446l17-2-22-4-17-18z"/>
<path class=baI d="M5005 1436l18 8-23-34-17-1z"/>
<path class=bi d="M5023 1444l17 28-22-46-18-16zm807-232l17 24-22-39-17-16z"/>
<path class=bK d="M5040 1472l17-13-22-31-17-2z"/>
<path class=beU d="M5057 1459l17-2-22-70-17 41zm52 9l17-27-22-71-18 15z"/>
<path class=bdT d="M5074 1457l17 24-22-106-17 12z"/>
<path class=bah d="M5126 1441l17 0-22-67-17-4z"/>
<path class=bal d="M5143 1441l17-17-22-40-17-10z"/>
<path class=bao d="M5160 1424l17-27-22-35-17 22z"/>
<path class=baw d="M5177 1397l17-21-22 22-17-36z"/>
<path class=beD d="M5194 1376l18-12-23-12-17 46z"/>
<path class=beb d="M5212 1364l17 7-22-38-18 19z"/>
<path class=bfz d="M5229 1371l17 22-22-56-17-4zm584-171l17 12-22-31-17-10z"/>
<path class=bU d="M5246 1393l17 1-22-46-17-11z"/>
<path class=bfA d="M5263 1394l17-7-22-66-17 27z"/>
<path class=bfB d="M5280 1387l18-1-23-80-17 15z"/>
<path class=ban d="M5298 1386l17 33-22-122-18 9z"/>
<path class=bbs d="M5315 1419l17-48-22-68-17-6z"/>
<path class=bbZ d="M5332 1371l17-16-22-34-17-18zm378-112l17-27-22-36-17 23z"/>
<path class=bfC d="M5349 1355l17 13-22-75-17 28z"/>
<path class=bai d="M5366 1368l17 26-22-108-17 7z"/>
<path class=bdO d="M5383 1394l18-34-23-44-17-30z"/>
<path class=bfD d="M5401 1360l17-6-22-53-18 15z"/>
<path class=bW d="M5418 1354l17 94-22-168-17 21z"/>
<path class=bdz d="M5435 1448l17-81-22-88-17 1z"/>
<path class=bay d="M5452 1367l17-6-22-61-17-21zm481-168l17 32-22-83-17 20z"/>
<path class=bS d="M5469 1361l17-73-22 25-17-13z"/>
<path class=bfd d="M5486 1288l18-11-22 13-18 23z"/>
<path class=bem d="M5504 1277l17 6-22-2-17 9zm154-38l17-5-22 8-17-2z"/>
<path class=baY d="M5521 1283l17-5-22-14-17 17z"/>
<path class=ber d="M5538 1278l17 8-22-25-17 3zm361-90l17-13-22-8-17-16z"/>
<path class=bbx d="M5555 1286l17 28-22-61-17 8z"/>
<path class=bdZ d="M5572 1314l18-15-23-63-17 17z"/>
<path class=bea d="M5590 1299l17-30-22-43-18 10z"/>
<path class=bfE d="M5607 1269l17-14-22-32-17 3z"/>
<path class=bcL d="M5624 1255l17-7-22-17-17-8z"/>
<path class=bcJ d="M5641 1248l17-9-22 1-17-9z"/>
<path class=bap d="M5675 1234l18-3-23 31-17-20z"/>
<path class=baT d="M5693 1231l17 28-22-40-18 43z"/>
<path class=bfF d="M5727 1232l17-16-22-24-17 4z"/>
<path class=beh d="M5744 1216l17 9-22-40-17 7z"/>
<path class=bee d="M5761 1225l18 2-23-42-17 0z"/>
<path class=bfG d="M5779 1227l17-14-22-27-18-1z"/>
<path class=bfH d="M5796 1213l17-13-22-29-17 15z"/>
<path class=bbf d="M5847 1236l17-33-22-12-17 6z"/>
<path class=bdV d="M5864 1203l18 3-23-42-17 27z"/>
<path class=bfI d="M5882 1206l17-18-22-37-18 13z"/>
<path class=baE d="M5916 1175l17 24-22-31-17-1z"/>
<path class=bm d="M5950 1231l17-62-22-30-17 9z"/>
<path class=bbW d="M5967 1169l18-14-23-4-17-12z"/>
<path class=bch d="M5985 1155l17 11-22-23-18 8z"/>
<path class=bfJ d="M6002 1166l17 8-22-59-17 28z"/>
<path class=bdP d="M6019 1174l17-36-22 9-17-32z"/>
<path class=bO d="M6036 1138l17-6-22-14-17 29z"/>
<path class=bfK d="M6053 1132l18 6-23-46-17 26zm18 6l17 10-22-69-18 13z"/>
<path class=bfL d="M6088 1148l17-7-22-49-17-13z"/>
<path class=bv d="M6105 1141l17 4-22-3-17-50z"/>
<path class=bbX d="M6122 1145l17-28-22 11-17 14z"/>
<path class=bn d="M6139 1117l17-3-22 42-17-28z"/>
<path class=bq d="M6156 1114l18 8-23-17-17 51z"/>
<path class=bdb d="M6174 1122l17-2-22-22-18 7z"/>
<path class=bg d="M6191 1120l17 0-22 19-17-41z"/>
<path class=bC d="M6208 1120l17-20-22-33-17 72z"/>
<path class=nk d="M5124 610L5108 1436 5141 1440zM5124 610L5141 1440 5140 1426z" fill="url(#gb02)"/><path class=nk d="M5124 610v91" style="stroke:#aaa;stroke-width:9;stroke-opacity:1"/><path class=nk d="M5124 701v124" style="stroke:#3a3a30;stroke-width:11;stroke-opacity:1"/>
<path class=baj d="M4804 1539l17 0-22-39-17 14zm1117-322l17 5-22-47-17 13z"/>
<path class=bbf d="M4821 1539l18 15-22-60-18 6z"/>
<path class=bbC d="M4839 1554l17-15-22-47-17 2zm979-269l17-27-22-58-17 13z"/>
<path class=bbP d="M4856 1539l17-17-22-33-17 3z"/>
<path class=bdO d="M4873 1522l17 8-22-54-17 13z"/>
<path class=bl d="M4890 1530l17-28-22-33-17 7zm1168-337l18-10-23-51-17 6z"/>
<path class=bi d="M4907 1502l18-6-23-2-17-25zm344-102l17 9-22-16-17-22zm636-176l17-19-22 1-18-3z"/>
<path class=bax d="M4925 1496l17 12-22-21-18 7z"/>
<path class=bad d="M4942 1508l17 40-22-42-17-19z"/>
<path class=bfn d="M4959 1548l17-50-22-38-17 46z"/>
<path class=baE d="M4976 1498l17-45-22-7-17 14z"/>
<path class=bP d="M4993 1453l17 3-22-12-17 2z"/>
<path class=bch d="M5010 1456l18 18-23-38-17 8z"/>
<path class=bbd d="M5028 1474l17 24-22-54-18-8zm876-269l17 12-22-29-17 18z"/>
<path class=bcn d="M5045 1498l17-27-22 1-17-28zm979-286l17 7-22-45-17-8z"/>
<path class=br d="M5062 1471l17 2-22-14-17 13zm17 2l17-17-22 1-17 2zm69-16l17-12-22-4-17 0z"/>
<path class=bM d="M5096 1456l18-19-23 44-17-24z"/>
<path class=bbK d="M5114 1437l17 7-22 24-18 13z"/>
<path class=bp d="M5131 1444l17 13-22-16-17 27z"/>
<path class=bc d="M5165 1445l17-2-22-19-17 17z"/>
<path class=bH d="M5182 1443l17-23-22-23-17 27zm945-281l17 9-22-26-17-4zm52-20l17 19-22-39-18-8z"/>
<path class=bbG d="M5199 1420l18 11-23-55-17 21z"/>
<path class=bbr d="M5217 1431l17-2-22-65-18 12z"/>
<path class=bdZ d="M5234 1429l17-29-22-29-17-7z"/>
<path class=bW d="M5268 1409l17 16-22-31-17-1zm34-15l18 6-22-14-18 1zm636-172l17 20-22-43-17-24z"/>
<path class=bd d="M5285 1425l17-31-22-7-17 7z"/>
<path class=bae d="M5320 1400l17 31-22-12-17-33z"/>
<path class=bfo d="M5337 1431l17-1-22-59-17 48z"/>
<path class=baQ d="M5354 1430l17-25-22-50-17 16z"/>
<path class=bdp d="M5371 1405l17 34-22-71-17-13z"/>
<path class=bfp d="M5388 1439l18-66-23 21-17-26z"/>
<path class=baG d="M5406 1373l17-21-22 8-18 34z"/>
<path class=bg d="M5423 1352l17 3-22-1-17 6zm154-39l18 16-23-15-17-28z"/>
<path class=bco d="M5440 1355l17 29-22 64-17-94z"/>
<path class=bfq d="M5457 1384l17 0-22-17-17 81z"/>
<path class=bdf d="M5474 1384l17-28-22 5-17 6z"/>
<path class=bbh d="M5491 1356l18-15-23-53-17 73z"/>
<path class=bfr d="M5509 1341l17 6-22-70-18 11z"/>
<path class=bes d="M5526 1347l17-21-22-43-17-6zm137-51l17-4-22-53-17 9z"/>
<path class=bfs d="M5543 1326l17-17-22-31-17 5z"/>
<path class=bbx d="M5560 1309l17 4-22-27-17-8z"/>
<path class=bs d="M5595 1329l17-2-22-28-18 15zm188-32l18 13-22-83-18-2z"/>
<path class=bce d="M5612 1327l17-17-22-41-17 30z"/>
<path class=bbD d="M5629 1310l17 20-22-75-17 14z"/>
<path class=bft d="M5646 1330l17-34-22-48-17 7z"/>
<path class=bm d="M5680 1292l18 10-23-68-17 5z"/>
<path class=bcU d="M5698 1302l17 6-22-77-18 3z"/>
<path class=bK d="M5715 1308l17-35-22-14-17-28z"/>
<path class=bF d="M5732 1273l17-9-22-32-17 27zm344-90l17 5-22-50-18-6z"/>
<path class=bab d="M5749 1264l17 27-22-75-17 16z"/>
<path class=bbO d="M5766 1291l17 6-22-72-17-9zm241-79l17 0-22-46-17-11zm189-51l17-34-22-7-17 2z"/>
<path class=bdX d="M5801 1310l17-25-22-72-17 14z"/>
<path class=bh d="M5835 1258l17 15-22-61-17-12z"/>
<path class=bbN d="M5852 1273l17 7-22-44-17-24z"/>
<path class=baa d="M5869 1280l18-56-23-21-17 33z"/>
<path class=bam d="M5955 1242l17 6-22-17-17-32z"/>
<path class=bfu d="M5972 1248l18-25-23-54-17 62z"/>
<path class=bdL d="M5990 1223l17-11-22-57-18 14z"/>
<path class=bdz d="M6041 1219l17-26-22-55-17 36z"/>
<path class=be d="M6093 1188l17 8-22-48-17-10z"/>
<path class=bbY d="M6110 1196l17-34-22-21-17 7z"/>
<path class=baM d="M6144 1171l17-13-22-41-17 28z"/>
<path class=baA d="M6161 1158l18-16-23-28-17 3z"/>
<path class=bN d="M6213 1127l17-24-22 17-17 0z"/>
<path class=bdo d="M6230 1103l17-2-22-1-17 20z"/>
<path class=baS d="M4826 1538l18 1-23 0-17 0zm859-250l18 0-23 4-17 4z"/>
<path class=bg d="M4844 1539l17-3-22 18-18-15zm773-230l17-11-22 29-17 2zm34-10l17-2-22 33-17-20zm52-11l17-3-22 17-18-10zm68-15l17 0-22 18-17-27zm69-32l17-2-22 19-17 27zm17-2l17-3-22 37-17-15zm344-103l17 19-22 6-17-19z"/>
<path class=bB d="M4861 1536l17-6-22 9-17 15zm876-254l17-6-22-3-17 35z"/>
<path class=baP d="M4878 1530l17 53-22-61-17 17zm1220-332l17-13-22 3-17-5z"/>
<path class=bbS d="M4895 1583l17-52-22-1-17-8z"/>
<path class=bR d="M4912 1531l18-24-23-5-17 28zm189-67l18-7-23-1-17 17z"/>
<path class=bbd d="M4930 1507l17 14-22-25-18 6zm68-11l17-4-22-39-17 45zm584-167l18-2-23-14-17-4z"/>
<path class=bW d="M4947 1521l17 14-22-27-17-12z"/>
<path class=bbu d="M4964 1535l17-35-22 48-17-40zm498-175l17 54-22-30-17-29zm515-134l18-18-23 40-17-6zm69-26l17 17-22 2-17-7z"/>
<path class=baO d="M4981 1500l17-4-22 2-17 50zm1031-298l17 17-22-7-17 11z"/>
<path class=bdV d="M5015 1492l18-15-23-21-17-3z"/>
<path class=bi d="M5033 1477l17-8-22 5-18-18z"/>
<path class=bn d="M5050 1469l17 0-22 29-17-24zm481-141l17 4-22 15-17-6zm69-1l17-18-22 20-18-16zm34-29l17 1-22 11-17 17zm34-1l17-9-22 8-17 34z"/>
<path class=bV d="M5067 1469l17 12-22-10-17 27zm1099-300l18-29-23 18-17 13z"/>
<path class=bbh d="M5084 1481l17-17-22 9-17-2z"/>
<path class=bS d="M5119 1457l17-15-22-5-18 19zm326-96l17-1-22-5-17-3z"/>
<path class=bv d="M5136 1442l17 15-22-13-17-7z"/>
<path class=bM d="M5153 1457l17 13-22-13-17-13zm567-172l17-3-22 26-17-6zm240-73l17 14-22 16-17-20z"/>
<path class=br d="M5170 1470l17-13-22-12-17 12zm17-13l17-12-22-2-17 2z"/>
<path class=bcn d="M5204 1445l18 24-23-49-17 23zm69 10l17 5-22-51-17-9z"/>
<path class=beC d="M5222 1469l17-30-22-8-18-11z"/>
<path class=bfi d="M5239 1439l17 35-22-45-17 2z"/>
<path class=baW d="M5256 1474l17-19-22-55-17 29zm653-169l17-40-22-60-17 19z"/>
<path class=bfj d="M5290 1460l17 7-22-42-17-16z"/>
<path class=bp d="M5307 1467l18-63-23-10-17 31zm722-248l17-19-22 12-17 0z"/>
<path class=bbz d="M5325 1404l17-16-22 12-18-6zm618-179l17-13-22 10-17-5z"/>
<path class=bA d="M5342 1388l17 1-22 42-17-31z"/>
<path class=bco d="M5359 1389l17 69-22-28-17 1z"/>
<path class=bfk d="M5376 1458l17-58-22 5-17 25z"/>
<path class=bfl d="M5393 1400l18-2-23 41-17-34zm413-109l17-25-22 44-18-13z"/>
<path class=bad d="M5411 1398l17-17-22-8-18 66zm377-125l18 18-23 6-17-6z"/>
<path class=bz d="M5428 1381l17-20-22-9-17 21z"/>
<path class=bfm d="M5479 1414l17-38-22 8-17 0z"/>
<path class=bo d="M5496 1376l18-17-23-3-17 28z"/>
<path class=bQ d="M5514 1359l17-31-22 13-18 15zm704-204l17-26-22-2-17 34z"/>
<path class=bdx d="M5548 1332l17 6-22-12-17 21z"/>
<path class=bh d="M5565 1338l17-9-22-20-17 17z"/>
<path class=bax d="M5754 1276l17-3-22-9-17 9z"/>
<path class=bbK d="M5823 1266l17-25-22 44-17 25zm172-58l17-6-22 21-18 25z"/>
<path class=bj d="M5874 1236l18 14-23 30-17-7z"/>
<path class=bdC d="M5892 1250l17 55-22-81-18 56z"/>
<path class=bdU d="M5926 1265l17-40-22-8-17-12z"/>
<path class=bdc d="M6063 1217l18 7-23-31-17 26z"/>
<path class=bdB d="M6081 1224l17-26-22-15-18 10z"/>
<path class=bae d="M6115 1185l17 43-22-32-17-8z"/>
<path class=bdy d="M6132 1228l17-39-22-27-17 34z"/>
<path class=bc d="M6149 1189l17-20-22 2-17-9z"/>
<path class=bC d="M6184 1140l17-4-22 6-18 16z"/>
<path class=bZ d="M6235 1129l17-2-22-24-17 24z"/>
<path class=bE d="M6252 1127l17 13-22-39-17 2z"/>
<path class=bba d="M4849 1534l17 13-22-8-18-1z"/>
<path class=bax d="M4866 1547l17 2-22-13-17 3zm86-15l17-20-22 9-17-14zm171-70l18 23-22-28-18 7zm327-79l17-8-22-14-17 20zm137-40l17 4-22-18-17 9z"/>
<path class=baX d="M4883 1549l17-30-22 11-17 6zm120-49l17-15-22 11-17 4z"/>
<path class=bg d="M4900 1519l17 14-22 50-17-53zm327-71l17-28-22 49-18-24zm257-82l17-3-22 51-17-54z"/>
<path class=bbK d="M4917 1533l18 10-23-12-17 52z"/>
<path class=be d="M4935 1543l17-11-22-25-18 24zm1254-379l17 27-22-51-18 29z"/>
<path class=bn d="M4969 1512l17-4-22 27-17-14zm447-142l17 13-22 15-18 2zm618-161l17 6-22 4-17-17zm34-15l17 2-22 21-17-17z"/>
<path class=bq d="M4986 1508l17-8-22 0-17 35zm258-88l17-6-22 25-17 30z"/>
<path class=baJ d="M5020 1485l18-8-23 15-17 4z"/>
<path class=baD d="M5038 1477l17 19-22-19-18 15zm721-204l17 13-22-10-17 6zm464-124l17-12-22 18-17-19z"/>
<path class=bF d="M5055 1496l17 8-22-35-17 8z"/>
<path class=bT d="M5072 1504l17 9-22-44-17 0zm17 9l17-38-22 6-17-12z"/>
<path class=bN d="M5106 1475l17-13-22 2-17 17z"/>
<path class=baM d="M5141 1485l17 11-22-54-17 15z"/>
<path class=baf d="M5158 1496l17-15-22-24-17-15z"/>
<path class=bbH d="M5175 1481l17-1-22-10-17-13z"/>
<path class=bbj d="M5192 1480l17-4-22-19-17 13z"/>
<path class=bdx d="M5209 1476l18-28-23-3-17 12z"/>
<path class=baF d="M5261 1414l17 0-22 60-17-35z"/>
<path class=bbm d="M5278 1414l17 8-22 33-17 19z"/>
<path class=baG d="M5295 1422l17-4-22 42-17-5z"/>
<path class=bcW d="M5312 1418l18-8-23 57-17-7z"/>
<path class=bA d="M5330 1410l17 7-22-13-18 63z"/>
<path class=bc d="M5347 1417l17 58-22-87-17 16z"/>
<path class=bbQ d="M5364 1475l17-40-22-46-17-1z"/>
<path class=bj d="M5381 1435l17-45-22 68-17-69zm704-239l18 30-22-2-18-7zm69 3l17-22-22 12-17 39z"/>
<path class=bM d="M5398 1390l18-20-23 30-17 58z"/>
<path class=bbX d="M5433 1383l17 0-22-2-17 17zm618-168l17-21-22 6-17 19z"/>
<path class=bi d="M5467 1375l17-9-22-6-17 1zm206-62l17-13-22-3-17 2zm35-17l17 7-22-15-18 0zm17 7l17-18-22 0-17 3z"/>
<path class=bbu d="M5501 1363l18 25-23-12-17 38z"/>
<path class=bY d="M5519 1388l17-26-22-3-18 17zm292-87l17-42-22 32-18-18z"/>
<path class=bf d="M5536 1362l17-21-22-13-17 31z"/>
<path class=baT d="M5553 1341l17-13-22 4-17-4zm137-41l18-4-23-8-17 9zm189-56l18-6-23-2-17 3z"/>
<path class=bv d="M5570 1328l17 15-22-5-17-6zm327-90l17 3-22 9-18-14z"/>
<path class=bh d="M5604 1347l18-7-22-13-18 2zm361-113l17 0-22-22-17 13z"/>
<path class=bw d="M5622 1340l17 26-22-57-17 18z"/>
<path class=bdU d="M5639 1366l17-33-22-35-17 11z"/>
<path class=bbp d="M5656 1333l17-20-22-14-17-1z"/>
<path class=baV d="M5742 1285l17-12-22 9-17 3zm103-33l17 1-22-12-17 25z"/>
<path class=bW d="M5776 1286l17 40-22-53-17 3z"/>
<path class=bbI d="M5793 1326l18-25-23-28-17 0z"/>
<path class=baS d="M5828 1259l17-7-22 14-17 25z"/>
<path class=baE d="M5862 1253l17-9-22-5-17 2z"/>
<path class=bad d="M5914 1241l17 33-22 31-17-55zm223-39l17-3-22 29-17-43z"/>
<path class=bae d="M5931 1274l17-37-22 28-17 40z"/>
<path class=bV d="M5948 1237l17-3-22-9-17 40z"/>
<path class=bS d="M5982 1234l18-22-23 14-17-14zm35-27l17 2-22-7-17 6zm223-70l17 21-22-29-17 26zm34 22l18-38-23 19-17-13z"/>
<path class=bfg d="M6000 1212l17-5-22 1-18 18z"/>
<path class=bdu d="M6103 1226l17 3-22-31-17 26z"/>
<path class=bs d="M6120 1229l17-27-22-17-17 13z"/>
<path class=bQ d="M6171 1177l18-13-23 5-17 20z"/>
<path class=bbD d="M6206 1191l17-42-22-13-17 4z"/>
<path class=bay d="M6257 1158l17 1-22-32-17 2z"/>
<path class=bg d="M4871 1552l17 82-22-87-17-13zm223-57l17 13-22 5-17-9zm103-20l17-28-22 33-17 1zm945-273l17-14-22 14-17 27z"/>
<path class=bfe d="M4888 1634l17-80-22-5-17-2z"/>
<path class=bi d="M4905 1554l17-15-22-20-17 30zm584-172l17-10-22-6-17 9zm69-28l17 7-22-20-17 21z"/>
<path class=baE d="M4922 1539l18-5-23-1-17-14z"/>
<path class=baS d="M4940 1534l17 19-22-10-18-10z"/>
<path class=bW d="M4957 1553l17-12-22-9-17 11z"/>
<path class=bd d="M4974 1541l17 38-22-67-17 20z"/>
<path class=ba d="M4991 1579l17-58-22-13-17 4z"/>
<path class=baT d="M5008 1521l17-15-22-6-17 8zm859-261l17 23-22-30-17-1z"/>
<path class=baC d="M5025 1506l18-8-23-13-17 15z"/>
<path class=bbW d="M5043 1498l17-7-22-14-18 8z"/>
<path class=bcv d="M5060 1491l17-4-22 9-17-19zm721-218l17 17-22-4-17-13z"/>
<path class=bv d="M5077 1487l17 8-22 9-17-8zm69-6l17-6-22 10-18-23zm86-37l17 5-22-1-18 28zm292-94l17 15-22 23-18-25zm103-28l17 14-22 4-18 7zm343-89l17 12-22-11-17 3zm86-20l17 13-22-11-17-6zm223-60l18-8-23 14-17-1z"/>
<path class=bc d="M5111 1508l17-2-22-31-17 38z"/>
<path class=bbf d="M5128 1506l18-25-23-19-17 13z"/>
<path class=bM d="M5163 1475l17 32-22-11-17-11z"/>
<path class=bp d="M5180 1507l17-32-22 6-17 15z"/>
<path class=baF d="M5214 1447l18-3-23 32-17 4zm602-160l17-25-22 39-18 25z"/>
<path class=bE d="M5249 1449l17 4-22-33-17 28z"/>
<path class=bde d="M5266 1453l17-16-22-23-17 6z"/>
<path class=bbx d="M5283 1437l17 16-22-39-17 0zm138-47l17 12-22-32-18 20z"/>
<path class=bh d="M5300 1453l17 16-22-47-17-8zm619-186l17 19-22-45-17-3zm86-11l17-23-22-21-18 22z"/>
<path class=bce d="M5317 1469l18-36-23-15-17 4z"/>
<path class=bdb d="M5335 1433l17 5-22-28-18 8zm120-18l17-29-22-3-17 0z"/>
<path class=bH d="M5352 1438l17 6-22-27-17-7zm635-193l18 11-23-22-17 0z"/>
<path class=bbu d="M5369 1444l17-21-22 52-17-58zm275-108l17 65-22-35-17-26z"/>
<path class=bbK d="M5386 1423l17-15-22 27-17 40z"/>
<path class=bq d="M5403 1408l18-18-23 0-17 45zm138-43l17-11-22 8-17 26zm412-126l17-6-22 4-17 37z"/>
<path class=bbd d="M5438 1402l17 13-22-32-17-13zm292-84l17 12-22-27-17-7zm343-92l17-12-22-20-17 21zm121-40l17-11-22-11-18 13zm68-10l17-23-22 5-17-21z"/>
<path class=bS d="M5472 1386l17-4-22-7-17 8zm275-56l17-40-22-5-17 18z"/>
<path class=baL d="M5506 1372l18-22-23 13-17 3z"/>
<path class=bff d="M5575 1361l17 3-22-36-17 13zm327-91l17-3-22-29-18 6z"/>
<path class=baN d="M5592 1364l17-18-22-3-17-15zm447-130l17-21-22-4-17-2z"/>
<path class=bfg d="M5609 1346l18-24-23 25-17-4z"/>
<path class=bfh d="M5661 1401l17 12-22-80-17 33z"/>
<path class=baa d="M5678 1413l17-85-22-15-17 20z"/>
<path class=bF d="M5695 1328l18 3-23-31-17 13z"/>
<path class=bcK d="M5713 1331l17-13-22-22-18 4z"/>
<path class=bO d="M5764 1290l17-17-22 0-17 12zm86-30l17 0-22-8-17 7z"/>
<path class=bn d="M5798 1290l18-3-23 39-17-40zm310-88l17 7-22 17-18-30zm51-14l17-7-22 18-17 3zm52-13l17 2-22 14-17-27z"/>
<path class=bdi d="M5833 1262l17-2-22-1-17 42z"/>
<path class=bG d="M5884 1283l18-13-23-26-17 9z"/>
<path class=bz d="M5936 1286l17-47-22 35-17-33z"/>
<path class=bdF d="M6022 1233l17 1-22-27-17 5z"/>
<path class=bZ d="M6090 1214l18-12-23-6-17-2z"/>
<path class=baO d="M6125 1209l17-7-22 27-17-3z"/>
<path class=bR d="M6176 1181l18 5-23-9-17 22zm52-4l17-8-22-20-17 42z"/>
<path class=bbp d="M6245 1169l17 7-22-39-17 12z"/>
<path class=baX d="M6297 1145l17-11-22-13-18 38z"/>
<path class=bM d="M4893 1578l17-5-22 61-17-82z"/>
<path class=bbK d="M4910 1573l17-2-22-17-17 80z"/>
<path class=bdb d="M4927 1571l17-14-22-18-17 15z"/>
<path class=bE d="M4944 1557l18 6-22-29-18 5z"/>
<path class=bax d="M4962 1563l17 1-22-11-17-19zm309-104l17 20-22-26-17-4zm206-58l17 20-22-35-17 29zm567-162l17 29-22-34-17-1zm120-44l17 29-22-36-17 14zm120-4l18-20-23-18-17 23z"/>
<path class=bH d="M4979 1564l17-11-22-12-17 12zm326-85l17 8-22-34-17-16zm894-234l17-68-22 9-18-5z"/>
<path class=bj d="M4996 1553l17 12-22 14-17-38z"/>
<path class=bbm d="M5013 1565l17-43-22-1-17 58z"/>
<path class=bbl d="M5030 1522l18-20-23 4-17 15z"/>
<path class=bcT d="M5048 1502l17 0-22-4-18 8z"/>
<path class=bP d="M5065 1502l17 5-22-16-17 7zm17 5l17-16-22-4-17 4zm790-234l17-5-22-8-17 0z"/>
<path class=baw d="M5099 1491l17-11-22 15-17-8zm447-125l17 5-22-6-17-15zm343-98l17-18-22 33-17-23z"/>
<path class=bap d="M5116 1480l17 6-22 22-17-13zm790-230l18 9-22 11-18 13zm172-36l17-7-22 19-17-13z"/>
<path class=bv d="M5133 1486l18-1-23 21-17 2zm619-174l17 2-22 16-17-12zm172-53l17 28-22-20-17 3zm171-52l18 34-23-27-17 12zm172-51l17 35-22-15-17-7z"/>
<path class=beY d="M5151 1485l17-9-22 5-18 25z"/>
<path class=baL d="M5168 1476l17-7-22 6-17 6z"/>
<path class=bbF d="M5185 1469l17-18-22 56-17-32z"/>
<path class=bcu d="M5202 1451l17-6-22 30-17 32z"/>
<path class=beZ d="M5219 1445l18-7-23 9-17 28z"/>
<path class=bcV d="M5237 1438l17 7-22-1-18 3z"/>
<path class=bcv d="M5254 1445l17 14-22-10-17-5zm395-107l17 7-22-9-17-14zm601-194l17 12-22 13-17 8z"/>
<path class=bfa d="M5288 1479l17 0-22-42-17 16z"/>
<path class=br d="M5322 1487l18-32-23 14-17-16z"/>
<path class=bV d="M5340 1455l17-18-22-4-18 36z"/>
<path class=baS d="M5357 1437l17 8-22-7-17-5zm635-188l18 42-23-46-17-12z"/>
<path class=bA d="M5374 1445l17 4-22-5-17-6zm326-101l18-30-23 14-17 85z"/>
<path class=bQ d="M5391 1449l17-42-22 16-17 21z"/>
<path class=bfb d="M5408 1407l17-5-22 6-17 15z"/>
<path class=baC d="M5425 1402l18 5-22-17-18 18zm207-52l17-12-22-16-18 24zm687-205l17-2-22-9-17 11z"/>
<path class=bi d="M5443 1407l17 2-22-7-17-12z"/>
<path class=bbv d="M5460 1409l17-8-22 14-17-13z"/>
<path class=bbe d="M5494 1421l17-20-22-19-17 4z"/>
<path class=baN d="M5511 1401l18-18-23-11-17 10zm52-30l17 18-22-35-17 11z"/>
<path class=bu d="M5529 1383l17-17-22-16-18 22z"/>
<path class=bbJ d="M5580 1389l17-28-22 0-17-7z"/>
<path class=bn d="M5597 1361l17 33-22-30-17-3z"/>
<path class=bf d="M5614 1394l18-44-23-4-17 18zm447-126l17-54-22-1-17 21z"/>
<path class=bg d="M5666 1345l17-2-22 58-17-65z"/>
<path class=bfc d="M5683 1343l17 1-22 69-17-12z"/>
<path class=baJ d="M5718 1314l17-4-22 21-18-3zm17-4l17 2-22 6-17 13z"/>
<path class=bS d="M5769 1314l17 4-22-28-17 40z"/>
<path class=bbs d="M5786 1318l17-8-22-37-17 17z"/>
<path class=bbU d="M5803 1310l18-21-23 1-17-17z"/>
<path class=baT d="M5821 1289l17 11-22-13-18 3zm481-118l17-26-22 0-18 8z"/>
<path class=baE d="M5838 1300l17-20-22-18-17 25z"/>
<path class=bcz d="M5855 1280l17-7-22-13-17 2z"/>
<path class=bbX d="M5941 1287l17-36-22 35-17-19z"/>
<path class=bbi d="M5958 1251l17-2-22-10-17 47z"/>
<path class=bch d="M5975 1249l17 0-22-16-17 6z"/>
<path class=bz d="M6010 1291l17-54-22 19-18-11z"/>
<path class=bN d="M6027 1237l17 2-22-6-17 23zm120-35l17-7-22 7-17 7z"/>
<path class=bh d="M6113 1241l17-29-22-10-18 12z"/>
<path class=baV d="M6130 1212l17-10-22 7-17-7z"/>
<path class=bw d="M6181 1224l18 21-23-64-17 7z"/>
<path class=beB d="M6216 1177l17-27-22 25-17 11z"/>
<path class=bfd d="M6233 1150l17-6-22 33-17-2z"/>
<path class=bW d="M4915 1586l17 33-22-46-17 5z"/>
<path class=be d="M4932 1619l17-45-22-3-17 2zm103-56l18 1-23-42-17 43z"/>
<path class=bS d="M4949 1574l18-5-23-12-17 14z"/>
<path class=bax d="M4967 1569l17 2-22-8-18-6zm532-132l17-37-22 21-17-20zm189-77l17 37-22-54-17 2zm17 37l18-60-23 7-17-1z"/>
<path class=bz d="M4984 1571l17-9-22 2-17-1z"/>
<path class=beQ d="M5001 1562l17-16-22 7-17 11z"/>
<path class=bg d="M5018 1546l17 17-22 2-17-12zm997-257l17-18-22 20-18-42z"/>
<path class=baA d="M5053 1564l17-22-22-40-18 20zm601-181l17-11-22-34-17 12z"/>
<path class=bcY d="M5070 1542l17-15-22-25-17 0z"/>
<path class=bch d="M5087 1527l17 10-22-30-17-5zm653-198l17 29-22-48-17 4z"/>
<path class=bex d="M5104 1537l17-9-22-37-17 16z"/>
<path class=bdQ d="M5121 1528l17-22-22-26-17 11z"/>
<path class=bbW d="M5138 1506l18 10-23-30-17-6zm292-87l18-2-23-15-17 5z"/>
<path class=baN d="M5156 1516l17 26-22-57-18 1z"/>
<path class=baf d="M5173 1542l17 14-22-80-17 9z"/>
<path class=bdU d="M5190 1556l17-13-22-74-17 7zm687-183l17-46-22-54-17 7z"/>
<path class=bG d="M5207 1543l17-47-22-45-17 18z"/>
<path class=beR d="M5224 1496l18-19-23-32-17 6z"/>
<path class=beS d="M5242 1477l17-14-22-25-18 7z"/>
<path class=beT d="M5259 1463l17-1-22-17-17-7z"/>
<path class=baw d="M5276 1462l17 6-22-9-17-14z"/>
<path class=baD d="M5293 1468l17-13-22 24-17-20zm893-248l18-24-23 28-17-29z"/>
<path class=baS d="M5310 1455l17 5-22 19-17 0zm808-222l17 27-22-19-18-34z"/>
<path class=bM d="M5327 1460l18 29-23-2-17-8z"/>
<path class=bbR d="M5345 1489l17-3-22-31-18 32z"/>
<path class=bdk d="M5362 1486l17-22-22-27-17 18z"/>
<path class=bc d="M5379 1464l17 34-22-53-17-8z"/>
<path class=bx d="M5396 1498l17-45-22-4-17-4z"/>
<path class=bN d="M5413 1453l17-34-22-12-17 42z"/>
<path class=baE d="M5448 1417l17 16-22-26-18-5zm378-105l17-2-22-21-18 21z"/>
<path class=bbJ d="M5465 1433l17-5-22-19-17-2z"/>
<path class=bT d="M5482 1428l17 9-22-36-17 8z"/>
<path class=bbF d="M5516 1400l18-11-23 12-17 20z"/>
<path class=bi d="M5534 1389l17 23-22-29-18 18zm309-79l17 26-22-36-17-11z"/>
<path class=bdF d="M5551 1412l17-25-22-21-17 17zm120-40l17-12-22-15-17-7z"/>
<path class=bu d="M5568 1387l17-18-22 2-17-5z"/>
<path class=bap d="M5585 1369l17-4-22 24-17-18z"/>
<path class=baV d="M5602 1365l17 13-22-17-17 28zm206-49l18-4-23-2-17 8zm155-42l17-3-22-20-17 36z"/>
<path class=bn d="M5619 1378l18 19-23-3-17-33zm447-130l17 5-22 15-17-29zm138-52l17 6-22 43-18-21z"/>
<path class=bbE d="M5637 1397l17-14-22-33-18 44zm670-194l17-26-22-6-18 20z"/>
<path class=baU d="M5723 1337l17-8-22-15-18 30z"/>
<path class=bdb d="M5757 1358l17 23-22-69-17-2z"/>
<path class=bdd d="M5774 1381l17-54-22-13-17-2zm464-156l17 26-22-101-17 27z"/>
<path class=baT d="M5791 1327l17-11-22 2-17-4z"/>
<path class=bw d="M5860 1336l17 37-22-93-17 20z"/>
<path class=beU d="M5894 1327l17-30-22-29-17 5z"/>
<path class=bcw d="M5911 1297l18-2-23-45-17 18z"/>
<path class=beV d="M5929 1295l17-12-22-24-18-9z"/>
<path class=bba d="M5946 1283l17-9-22 13-17-28z"/>
<path class=bZ d="M5980 1271l17 23-22-45-17 2zm69-19l17-4-22-9-17-2zm103-33l17 10-22-27-17 10zm172-42l17-10-22-22-17 26z"/>
<path class=bcj d="M5997 1294l18-5-23-40-17 0zm258-43l17-9-22-98-17 6z"/>
<path class=bQ d="M6032 1271l17-19-22-15-17 54z"/>
<path class=bR d="M6083 1253l17-13-22-26-17 54zm52 7l17-41-22-7-17 29z"/>
<path class=beW d="M6100 1240l18-7-23-26-17 7z"/>
<path class=bag d="M6169 1229l17-9-22-25-17 7z"/>
<path class=bbX d="M6221 1202l17 23-22-48-17 68z"/>
<path class=bd d="M6272 1242l17 29-22-115-17-12z"/>
<path class=beX d="M6289 1271l18-68-23-12-17-35z"/>
<path class=bbx d="M6341 1167l17 11-22-35-17 2z"/>
<path class=beL d="M4937 1676l17-66-22 9-17-33z"/>
<path class=beM d="M4954 1610l18-9-23-27-17 45z"/>
<path class=bbO d="M4972 1601l17 9-22-41-18 5z"/>
<path class=bbY d="M4989 1610l17-12-22-27-17-2zm927-274l18 12-23-51-17 30z"/>
<path class=ba d="M5006 1598l17-19-22-17-17 9z"/>
<path class=bF d="M5023 1579l17-8-22-25-17 16z"/>
<path class=bA d="M5040 1571l18 45-23-53-17-17z"/>
<path class=bcH d="M5058 1616l17-40-22-12-18-1z"/>
<path class=bdl d="M5075 1576l17 3-22-37-17 22z"/>
<path class=bda d="M5092 1579l17 3-22-55-17 15z"/>
<path class=bau d="M5109 1582l17-3-22-42-17-10z"/>
<path class=bbI d="M5126 1579l17-13-22-38-17 9z"/>
<path class=bh d="M5143 1566l18-40-23-20-17 22zm619-182l17-18-22-8-17-29z"/>
<path class=baE d="M5161 1526l17-8-22-2-18-10zm463-139l18 2-23-11-17-13z"/>
<path class=bg d="M5178 1518l17 21-22 3-17-26zm240-68l17-12-22 15-17 45z"/>
<path class=bj d="M5195 1539l17-15-22 32-17-14zm17-15l17-11-22 30-17 13zm155-46l17 19-22-11-17 3zm532-147l17 5-22-9-17 46zm361-84l17-36-22 40-17-26zm17-36l17 7-22 24-17 9z"/>
<path class=bQ d="M5229 1513l17 4-22-21-17 47z"/>
<path class=bdO d="M5246 1517l18 0-22-40-18 19z"/>
<path class=bl d="M5264 1517l17-3-22-51-17 14z"/>
<path class=bbr d="M5281 1514l17-14-22-38-17 1z"/>
<path class=bab d="M5298 1500l17-2-22-30-17-6z"/>
<path class=bdd d="M5315 1498l17 10-22-53-17 13zm275-58l17-35-22-36-17 18z"/>
<path class=bcj d="M5332 1508l18-7-23-41-17-5z"/>
<path class=bH d="M5350 1501l17-23-22 11-18-29zm738-222l17 13-22-39-17-5z"/>
<path class=baP d="M5384 1497l17-16-22-17-17 22zm773-210l17-36-22-32-17 41z"/>
<path class=bM d="M5401 1481l17-31-22 48-17-34z"/>
<path class=baT d="M5435 1438l18 8-23-27-17 34z"/>
<path class=bax d="M5453 1446l17 61-22-90-18 2zm240-76l17 30-22-40-17 12z"/>
<path class=beN d="M5470 1507l17-45-22-29-17-16z"/>
<path class=baf d="M5487 1462l17-13-22-21-17 5z"/>
<path class=bW d="M5504 1449l17 6-22-18-17-9z"/>
<path class=bI d="M5521 1455l18 26-23-81-17 37z"/>
<path class=bce d="M5539 1481l17-57-22-35-18 11z"/>
<path class=bbd d="M5556 1424l17 3-22-15-17-23zm635-187l17 0-22-17-17 9zm35-7l17 18-22-46-17-6z"/>
<path class=bcR d="M5573 1427l17 13-22-53-17 25z"/>
<path class=bdQ d="M5607 1405l17-18-22-22-17 4z"/>
<path class=bv d="M5642 1389l17-1-22 9-18-19z"/>
<path class=bbX d="M5659 1388l17-14-22 9-17 14z"/>
<path class=bN d="M5676 1374l17-4-22 2-17 11z"/>
<path class=bdx d="M5710 1400l17-33-22 30-17-37z"/>
<path class=bdH d="M5727 1367l18-10-22-20-18 60z"/>
<path class=baN d="M5745 1357l17 27-22-55-17 8z"/>
<path class=baO d="M5779 1366l17 0-22 15-17-23z"/>
<path class=bbS d="M5796 1366l17 54-22-93-17 54z"/>
<path class=bx d="M5813 1420l18-70-23-34-17 11zm224-99l17-26-22-24-17 18z"/>
<path class=bag d="M5831 1350l17-21-22-17-18 4z"/>
<path class=bZ d="M5848 1329l17 0-22-19-17 2z"/>
<path class=bn d="M5865 1329l17 10-22-3-17-26z"/>
<path class=bbu d="M5882 1339l17-8-22 42-17-37z"/>
<path class=bdE d="M5934 1348l17-12-22-41-18 2z"/>
<path class=bcC d="M5951 1336l17-9-22-44-17 12z"/>
<path class=bci d="M5968 1327l17 45-22-98-17 9zm172-35l17-5-22-27-17-27zm103-44l17-1-22-22-17-23z"/>
<path class=bw d="M5985 1372l17-85-22-16-17 3z"/>
<path class=baS d="M6002 1287l18 11-23-4-17-23z"/>
<path class=br d="M6020 1298l17 23-22-32-18 5z"/>
<path class=bdM d="M6054 1295l17-5-22-38-17 19zm292-76l17 4-22-56-17 10z"/>
<path class=bK d="M6071 1290l17-11-22-31-17 4z"/>
<path class=bdz d="M6105 1292l18 12-23-64-17 13z"/>
<path class=bck d="M6123 1304l17-12-22-59-18 7z"/>
<path class=bdb d="M6174 1251l17-14-22-8-17-10z"/>
<path class=bbD d="M6208 1237l18-7-22-34-18 24z"/>
<path class=bco d="M6294 1218l18 22-23 31-17-29z"/>
<path class=beO d="M6312 1240l17 17-22-54-18 68z"/>
<path class=beP d="M6329 1257l17-38-22-42-17 26z"/>
<path class=bdk d="M6363 1223l17-10-22-35-17-11z"/>
<path class=bbm d="M4959 1590l18 8-23 12-17 66z"/>
<path class=bM d="M4977 1598l17 47-22-44-18 9zm618-188l17 53-22-23-17-13z"/>
<path class=bcn d="M4994 1645l17-39-22 4-17-9z"/>
<path class=bB d="M5011 1606l17-26-22 18-17 12zm120-67l17 6-22 34-17 3z"/>
<path class=bdH d="M5028 1580l17-17-22 16-17 19zm704-198l18-23-23 8-17 33zm636-204l17-9-22 54-17-4z"/>
<path class=bap d="M5045 1563l18-19-23 27-17 8zm189-59l17-10-22 19-17 11z"/>
<path class=bC d="M5063 1544l17-11-22 83-18-45zm240-43l17-8-22 7-17 14zm1082-332l17-5-22 49-17 10z"/>
<path class=bdj d="M5080 1533l17 6-22 37-17 40z"/>
<path class=baD d="M5097 1539l17 7-22 33-17-3zm103-11l17-13-22 24-17-21zm17-13l17-11-22 20-17 15zm361-109l17 4-22 17-17-3zm670-190l17-7-22 39-17-18zm34-10l17-10-22 15-17 36zm17-10l18 20-23 2-17-7z"/>
<path class=baF d="M5114 1546l17-7-22 43-17-3z"/>
<path class=bA d="M5148 1545l18 7-23 14-17 13zm894-235l17-24-22 35-17-23zm17-24l17 9-22 0-17 26z"/>
<path class=bR d="M5166 1552l17-9-22-17-18 40z"/>
<path class=bZ d="M5183 1543l17-15-22-10-17 8z"/>
<path class=baJ d="M5251 1494l18 9-23 14-17-4z"/>
<path class=bv d="M5269 1503l17 12-22 2-18 0zm532-156l17 1-22 18-17 0z"/>
<path class=bbX d="M5286 1515l17-14-22 13-17 3z"/>
<path class=bg d="M5320 1493l17 48-22-43-17 2zm189-46l17 10-22-8-17 13zm52-14l17-27-22 18-17 57zm360-101l18 5-23-1-17-5zm396-116l17-18-22 42-18-22z"/>
<path class=bs d="M5337 1541l18-34-23 1-17-10z"/>
<path class=bbh d="M5355 1507l17 0-22-6-18 7zm34 6l17-45-22 29-17-19z"/>
<path class=bw d="M5372 1507l17 6-22-35-17 23z"/>
<path class=baS d="M5406 1468l17-13-22 26-17 16zm704-198l18-20-23 42-17-13z"/>
<path class=baX d="M5423 1455l17 11-22-16-17 31z"/>
<path class=bbx d="M5440 1466l18-12-23-16-17 12z"/>
<path class=baU d="M5458 1454l17-24-22 16-18-8z"/>
<path class=bq d="M5475 1430l17 3-22 74-17-61zm790-221l17-3-22 41-17 1z"/>
<path class=bbL d="M5492 1433l17 14-22 15-17 45zm481-106l17-11-22 11-17 9zm155-77l17 10-22 44-18-12z"/>
<path class=bbu d="M5526 1457l18 41-23-43-17-6z"/>
<path class=beH d="M5544 1498l17-65-22 48-18-26zm463-166l18 15-23-60-17 85z"/>
<path class=by d="M5612 1463l17-41-22-17-17 35z"/>
<path class=baN d="M5629 1422l18-17-23-18-17 18z"/>
<path class=bbd d="M5647 1405l17 21-22-37-18-2z"/>
<path class=ba d="M5664 1426l17 4-22-42-17 1z"/>
<path class=bcG d="M5681 1430l17-33-22-23-17 14z"/>
<path class=bdF d="M5698 1397l17-9-22-18-17 4z"/>
<path class=bbv d="M5715 1388l17-6-22 18-17-30z"/>
<path class=beI d="M5750 1359l17-19-22 17-18 10z"/>
<path class=beJ d="M5767 1340l17-4-22 48-17-27z"/>
<path class=bbF d="M5784 1336l17 11-22 19-17 18z"/>
<path class=baG d="M5818 1348l18 7-23 65-17-54z"/>
<path class=bj d="M5836 1355l17 8-22-13-18 70zm103-18l17 14-22-3-18-12z"/>
<path class=bd d="M5853 1363l17 35-22-69-17 21z"/>
<path class=bby d="M5870 1398l17-24-22-45-17 0z"/>
<path class=bdl d="M5887 1374l17-14-22-21-17-10z"/>
<path class=bc d="M5904 1360l17-28-22-1-17 8z"/>
<path class=bo d="M5956 1351l17-24-22 9-17 12z"/>
<path class=bae d="M5990 1316l17 16-22 40-17-45z"/>
<path class=beK d="M6025 1347l17-37-22-12-18-11z"/>
<path class=br d="M6076 1295l17 18-22-23-17 5z"/>
<path class=bY d="M6093 1313l17-43-22 9-17 11z"/>
<path class=bad d="M6145 1260l17 47-22-15-17 12z"/>
<path class=bdf d="M6162 1307l17-25-22 5-17 5z"/>
<path class=bbb d="M6179 1282l17-4-22-27-17 36z"/>
<path class=bdz d="M6196 1278l17-13-22-28-17 14z"/>
<path class=bbO d="M6213 1265l18-8-23-20-17 0z"/>
<path class=bbz d="M6231 1257l17-41-22 14-18 7z"/>
<path class=bV d="M6334 1198l17-14-22 73-17-17z"/>
<path class=bQ d="M6351 1184l17-6-22 41-17 38z"/>
<path class=nk d="M6259 432L6243 1258 6276 1262zM6259 432L6276 1262 6275 1248z" fill="url(#gb13)"/><path class=nk d="M6259 432v91" style="stroke:#aaa;stroke-width:9;stroke-opacity:1"/><path class=nk d="M6259 523v124" style="stroke:#3a3a30;stroke-width:11;stroke-opacity:1"/>
<path class=bcv d="M4982 1590l17 17-22-9-18-8z"/>
<path class=bn d="M4999 1607l17-10-22 48-17-47zm343-115l18 34-23 15-17-48zm859-231l17-15-22 32-17 4z"/>
<path class=bA d="M5016 1597l17 22-22-13-17 39z"/>
<path class=bf d="M5033 1619l17-29-22-10-17 26zm498-148l17-39-22 25-17-10zm52 32l17-83-22-14-17 27z"/>
<path class=bbl d="M5050 1590l17-29-22 2-17 17z"/>
<path class=bet d="M5067 1561l18-15-22-2-18 19zm705-209l17-12-22 0-17 19z"/>
<path class=beu d="M5085 1546l17 0-22-13-17 11z"/>
<path class=bev d="M5102 1546l17-12-22 5-17-6zm687-206l17 5-22-9-17 4z"/>
<path class=bew d="M5119 1534l17-6-22 18-17-7z"/>
<path class=bcV d="M5136 1528l17 17-22-6-17 7z"/>
<path class=bap d="M5153 1545l18 22-23-22-17-6zm155-45l17 13-22-12-17 14zm636-175l17-23-22 35-18-5zm137-46l17-2-22 18-17-9zm241-70l17 31-22-24-18-20z"/>
<path class=baV d="M5171 1567l17-32-22 17-18-7zm549-172l17-2-22-5-17 9zm17-2l18-13-23 2-17 6z"/>
<path class=baw d="M5188 1535l17-24-22 32-17 9zm34-24l17 22-22-18-17 13zm241-65l17 3-22 5-18 12z"/>
<path class=bem d="M5205 1511l17 0-22 17-17 15zm618-173l18 12-23-2-17-1z"/>
<path class=bbd d="M5239 1533l17 61-22-90-17 11z"/>
<path class=bL d="M5256 1594l18-45-23-55-17 10z"/>
<path class=bex d="M5274 1549l17-23-22-23-18-9z"/>
<path class=baT d="M5291 1526l17-26-22 15-17-12z"/>
<path class=baU d="M5325 1513l17-21-22 1-17 8z"/>
<path class=bg d="M5360 1526l17-42-22 23-18 34zm34-46l17 39-22-6-17-6zm258-74l17 82-22-83-18 17zm34 15l17-31-22 40-17-4zm189-75l17 19-22 33-17-35zm172-27l17-33-22 24-17 37zm120-46l17 14-22 20-17-47z"/>
<path class=bv d="M5377 1484l17-4-22 27-17 0zm326-94l17 5-22 2-17 33zm138-40l17 47-22-42-18-7zm154-47l17 19-22-6-17 11z"/>
<path class=bey d="M5411 1519l17-64-22 13-17 45z"/>
<path class=bez d="M5428 1455l17-9-22 9-17 13z"/>
<path class=beA d="M5445 1446l18 0-23 20-17-11z"/>
<path class=bP d="M5480 1449l17 5-22-24-17 24z"/>
<path class=bbW d="M5497 1454l17 7-22-28-17-3z"/>
<path class=bi d="M5514 1461l17 10-22-24-17-14zm825-221l17-34-22-8-17 18z"/>
<path class=baF d="M5548 1432l18 9-22 57-18-41z"/>
<path class=bbb d="M5566 1441l17 62-22-70-17 65z"/>
<path class=baZ d="M5600 1420l17-22-22 12-17-4z"/>
<path class=beB d="M5617 1398l17-7-22 72-17-53z"/>
<path class=bC d="M5634 1391l18 15-23 16-17 41z"/>
<path class=beC d="M5669 1488l17-67-22 5-17-21z"/>
<path class=beD d="M5755 1380l17-28-22 7-18 23z"/>
<path class=bcD d="M5806 1345l17-7-22 9-17-11z"/>
<path class=bb d="M5858 1397l17-51-22 17-17-8z"/>
<path class=bj d="M5892 1365l17-10-22 19-17 24z"/>
<path class=bae d="M5909 1355l17 68-22-63-17 14z"/>
<path class=bdn d="M5926 1423l18-98-23 7-17 28z"/>
<path class=beE d="M5961 1302l17-4-22 53-17-14z"/>
<path class=bbi d="M5978 1298l17 5-22 24-17 24z"/>
<path class=baO d="M6012 1322l17 49-22-39-17-16z"/>
<path class=bdf d="M6029 1371l18-52-22 28-18-15z"/>
<path class=bcu d="M6064 1286l17-7-22 7-17 24z"/>
<path class=baD d="M6098 1277l17-11-22 47-17-18zm138-33l17-24-22 37-18 8z"/>
<path class=bbF d="M6115 1266l18 13-23-9-17 43z"/>
<path class=bdb d="M6133 1279l17 33-22-62-18 20z"/>
<path class=bbo d="M6150 1312l17-39-22-13-17-10z"/>
<path class=bbK d="M6184 1287l17-26-22 21-17 25z"/>
<path class=baS d="M6218 1246l18-2-23 21-17 13z"/>
<path class=beg d="M6253 1220l17 5-22-9-17 41z"/>
<path class=bu d="M6270 1225l17 26-22-42-17 7z"/>
<path class=beF d="M6287 1251l17-38-22-7-17 3z"/>
<path class=bdr d="M6304 1213l18-4-23-13-17 10z"/>
<path class=bcT d="M6356 1206l17-20-22-2-17 14z"/>
<path class=bcJ d="M6373 1186l17-1-22-7-17 6z"/>
<path class=bcz d="M6390 1185l17 22-22-38-17 9z"/>
<path class=beG d="M6407 1207l18-31-23-12-17 5z"/>
<path class=nk d="M5316 717L5300 1543 5333 1547zM5316 717L5333 1547 5332 1533z" fill="url(#gb03)"/><path class=nk d="M5316 717v91" style="stroke:#aaa;stroke-width:9;stroke-opacity:1"/><path class=nk d="M5316 808v124" style="stroke:#3a3a30;stroke-width:11;stroke-opacity:1"/>
<path class=bal d="M5004 1649l17-30-22-12-17-17z"/>
<path class=baU d="M5021 1619l17-26-22 4-17 10z"/>
<path class=bap d="M5038 1593l17-3-22 29-17-22zm378-112l17 1-22 37-17-39zm326-88l18 10-23-10-17 2z"/>
<path class=baX d="M5055 1590l17 14-22-14-17 29z"/>
<path class=bdY d="M5072 1604l18 19-23-62-17 29z"/>
<path class=bdZ d="M5090 1623l17-13-22-64-18 15z"/>
<path class=bea d="M5107 1610l17-36-22-28-17 0z"/>
<path class=beb d="M5124 1574l17-17-22-23-17 12z"/>
<path class=bec d="M5141 1557l17-7-22-22-17 6z"/>
<path class=bed d="M5158 1550l18 5-23-10-17-17z"/>
<path class=baw d="M5176 1555l17 0-22 12-18-22zm1236-354l18-4-23 10-17-22z"/>
<path class=bbl d="M5193 1555l17-12-22-8-17 32z"/>
<path class=bee d="M5210 1543l17 11-22-43-17 24z"/>
<path class=bbW d="M5227 1554l17 32-22-75-17 0z"/>
<path class=bef d="M5244 1586l17-29-22-24-17-22z"/>
<path class=bg d="M5261 1557l18-17-23 54-17-61zm413-124l17-6-22 61-17-82zm17-6l17-29-22 23-17 67zm172-24l17 1-22-7-17-47zm86-42l17-31-22-5-18 98z"/>
<path class=bn d="M5279 1540l17-6-22 15-18 45z"/>
<path class=bN d="M5296 1534l17-3-22-5-17 23z"/>
<path class=bbx d="M5313 1531l17-2-22-29-17 26zm533-140l17 12-22-53-18-12z"/>
<path class=bch d="M5330 1529l17 0-22-16-17-13zm430-126l17-6-22-17-18 13z"/>
<path class=bD d="M5347 1529l18 7-23-44-17 21z"/>
<path class=bM d="M5365 1536l17 54-22-64-18-34zm669-188l18-8-23 31-17-49z"/>
<path class=bY d="M5382 1590l17-88-22-18-17 42z"/>
<path class=bP d="M5399 1502l17-21-22-1-17 4z"/>
<path class=beg d="M5433 1482l17-3-22-24-17 64z"/>
<path class=beh d="M5450 1479l18-17-23-16-17 9z"/>
<path class=bei d="M5468 1462l17 7-22-23-18 0z"/>
<path class=bu d="M5485 1469l17 32-22-52-17-3z"/>
<path class=bdb d="M5502 1501l17 16-22-63-17-5z"/>
<path class=bej d="M5519 1517l17-42-22-14-17-7z"/>
<path class=bS d="M5536 1475l17-15-22 11-17-10z"/>
<path class=bbJ d="M5553 1460l18 19-23-47-17 39z"/>
<path class=bm d="M5571 1479l17-9-22-29-18-9z"/>
<path class=bj d="M5588 1470l17 27-22 6-17-62z"/>
<path class=bbm d="M5605 1497l17-55-22-22-17 83zm447-157l17-8-22-13-18 52z"/>
<path class=bcY d="M5622 1442l17 13-22-57-17 22z"/>
<path class=bek d="M5639 1455l18-8-23-56-17 7z"/>
<path class=bbV d="M5657 1447l17-14-22-27-18-15z"/>
<path class=bel d="M5708 1398l17-10-22 2-17 31z"/>
<path class=bem d="M5725 1388l17 5-22 2-17-5z"/>
<path class=bcA d="M5777 1397l17-10-22-35-17 28z"/>
<path class=ben d="M5794 1387l17-2-22-45-17 12z"/>
<path class=bca d="M5811 1385l17 19-22-59-17-5z"/>
<path class=beo d="M5828 1404l18-13-23-53-17 7z"/>
<path class=bbX d="M5880 1404l17-37-22-21-17 51z"/>
<path class=baD d="M5897 1367l17-1-22-1-17-19zm447-136l17 19-22-10-17-31z"/>
<path class=bW d="M5914 1366l17 35-22-46-17 10z"/>
<path class=bad d="M5931 1401l18-40-23 62-17-68z"/>
<path class=bep d="M5966 1330l17-21-22-7-17 23z"/>
<path class=beq d="M5983 1309l17 13-22-24-17 4z"/>
<path class=baC d="M6000 1322l17 42-22-61-17-5z"/>
<path class=bbD d="M6017 1364l17-16-22-26-17-19z"/>
<path class=bcS d="M6069 1332l17 3-22-49-17 33z"/>
<path class=bl d="M6086 1335l17-10-22-46-17 7z"/>
<path class=bdW d="M6103 1325l17-22-22-26-17 2z"/>
<path class=bde d="M6120 1303l18-1-23-36-17 11z"/>
<path class=bZ d="M6138 1302l17 6-22-29-18-13zm103-40l17 23-22-41-18 2z"/>
<path class=bA d="M6155 1308l17 16-22-12-17-33z"/>
<path class=bQ d="M6172 1324l17-51-22 0-17 39z"/>
<path class=bv d="M6189 1273l17 9-22 5-17-14z"/>
<path class=bax d="M6206 1282l17 4-22-25-17 26z"/>
<path class=bE d="M6223 1286l18-24-23-16-17 15z"/>
<path class=ba d="M6258 1285l17 36-22-101-17 24z"/>
<path class=bbo d="M6275 1321l17-54-22-42-17-5z"/>
<path class=bbd d="M6292 1267l17-15-22-1-17-26zm69-17l17-13-22-31-17 34z"/>
<path class=baL d="M6309 1252l18-23-23-16-17 38z"/>
<path class=ber d="M6327 1229l17 2-22-22-18 4z"/>
<path class=bes d="M6378 1237l17-5-22-46-17 20z"/>
<path class=bcm d="M6395 1232l17-31-22-16-17 1z"/>
<path class=baN d="M6430 1197l17 55-22-76-18 31z"/>
<path class=bN d="M5026 1634l17-6-22-9-17 30zm1099-325l18-5-23-1-17 22z"/>
<path class=bbx d="M5043 1628l17-9-22-26-17 26zm962-268l17 12-22-50-17-13z"/>
<path class=bdP d="M5060 1619l17 7-22-36-17 3z"/>
<path class=baN d="M5077 1626l18 7-23-29-17-14z"/>
<path class=bH d="M5095 1633l17-8-22-2-18-19zm979-283l17 7-22-25-17 8z"/>
<path class=bW d="M5112 1625l17 7-22-22-17 13z"/>
<path class=bT d="M5129 1632l17-20-22-38-17 36z"/>
<path class=bdQ d="M5146 1612l17-23-22-32-17 17z"/>
<path class=bdR d="M5163 1589l18 7-23-46-17 7zm825-245l17 16-22-51-17 21z"/>
<path class=bdS d="M5181 1596l17-14-22-27-18-5z"/>
<path class=bcO d="M5198 1582l17-9-22-18-17 0z"/>
<path class=bcA d="M5215 1573l17 4-22-34-17 12z"/>
<path class=bbU d="M5232 1577l17-12-22-11-17-11z"/>
<path class=baD d="M5249 1565l17-14-22 35-17-32zm120-43l18 3-22 11-18-7zm138-38l17 16-22 1-17-32zm653-185l17-2-22 11-17-6z"/>
<path class=bv d="M5266 1551l18-5-23 11-17 29zm584-164l18 9-22-5-18 13zm413-108l17-2-22 8-17-23zm189-63l17 8-22 28-17-55z"/>
<path class=baL d="M5284 1546l17-7-22 1-18 17z"/>
<path class=bbl d="M5301 1539l17-7-22 2-17 6zm17-7l17-7-22 6-17 3z"/>
<path class=baw d="M5335 1525l17-4-22 8-17 2z"/>
<path class=bap d="M5352 1521l17 1-22 7-17 0z"/>
<path class=bg d="M5387 1525l17 6-22 59-17-54zm223-47l17-18-22 37-17-27zm258-82l17 22-22-15-17-12zm309-99l17 27-22 0-17-16z"/>
<path class=bbm d="M5404 1531l17 13-22-42-17 88z"/>
<path class=bdT d="M5421 1544l17-35-22-28-17 21z"/>
<path class=bcy d="M5438 1509l17-12-22-15-17-1z"/>
<path class=bdr d="M5455 1497l18-14-23-4-17 3z"/>
<path class=bcJ d="M5473 1483l17-6-22-15-18 17zm17-6l17 7-22-15-17-7z"/>
<path class=bM d="M5524 1500l17 9-22 8-17-16z"/>
<path class=bcn d="M5541 1509l17 14-22-48-17 42zm516-120l17-39-22-10-18 8z"/>
<path class=bdU d="M5558 1523l18-26-23-37-17 15z"/>
<path class=bh d="M5576 1497l17-16-22-2-18-19z"/>
<path class=bb d="M5593 1481l17-3-22-8-17 9z"/>
<path class=bq d="M5627 1460l17-13-22-5-17 55z"/>
<path class=baS d="M5644 1447l18 41-23-33-17-13z"/>
<path class=bR d="M5662 1488l17-54-22 13-18 8z"/>
<path class=bdo d="M5679 1434l17-5-22 4-17 14z"/>
<path class=baT d="M5696 1429l17 5-22-7-17 6zm223-54l17-13-22 4-17 1z"/>
<path class=bdV d="M5713 1434l17 11-22-47-17 29z"/>
<path class=bab d="M5730 1445l17 22-22-79-17 10z"/>
<path class=bdW d="M5747 1467l18-50-23-24-17-5z"/>
<path class=baE d="M5765 1417l17 5-22-19-18-10z"/>
<path class=bbJ d="M5782 1422l17 3-22-28-17 6z"/>
<path class=bag d="M5799 1425l17-15-22-23-17 10z"/>
<path class=ban d="M5816 1410l17-13-22-12-17 2z"/>
<path class=bba d="M5833 1397l17-10-22 17-17-19z"/>
<path class=bbN d="M5885 1418l17-1-22-13-17-1z"/>
<path class=bbX d="M5902 1417l17-42-22-8-17 37zm206-70l17-38-22 16-17 10zm86-23l17-28-22-23-17 51z"/>
<path class=bn d="M5936 1362l18 19-23 20-17-35z"/>
<path class=bB d="M5954 1381l17-21-22 1-18 40z"/>
<path class=baU d="M5971 1360l17-16-22-14-17 31z"/>
<path class=bax d="M6022 1372l17-27-22 19-17-42z"/>
<path class=baO d="M6039 1345l18 44-23-41-17 16z"/>
<path class=bd d="M6091 1357l17-10-22-12-17-3z"/>
<path class=baV d="M6143 1304l17-5-22 3-18 1z"/>
<path class=bZ d="M6211 1296l17-4-22-10-17-9z"/>
<path class=bS d="M6228 1292l18-12-23 6-17-4zm18-12l17-1-22-17-18 24zm137-31l17-3-22-9-17 13z"/>
<path class=bj d="M6280 1277l17 26-22 18-17-36z"/>
<path class=bam d="M6297 1303l17 6-22-42-17 54z"/>
<path class=bI d="M6314 1309l17 3-22-60-17 15z"/>
<path class=bdX d="M6331 1312l18 3-22-86-18 23z"/>
<path class=bL d="M6349 1315l17-56-22-28-17-2z"/>
<path class=bbd d="M6366 1259l17-10-22 1-17-19zm34-13l17 3-22-17-17 5z"/>
<path class=bi d="M6417 1249l18-27-23-21-17 31z"/>
<path class=bdK d="M6435 1222l17-6-22-19-18 4z"/>
<path class=bcC d="M5048 1695l17-31-22-36-17 6z"/>
<path class=bL d="M5065 1664l17-4-22-41-17 9z"/>
<path class=be d="M5082 1660l18 13-23-47-17-7z"/>
<path class=bdc d="M5100 1673l17 32-22-72-18-7z"/>
<path class=bdI d="M5117 1705l17-46-22-34-17 8z"/>
<path class=bcn d="M5134 1659l17-23-22-4-17-7z"/>
<path class=bbh d="M5151 1636l17-22-22-2-17 20z"/>
<path class=baV d="M5168 1614l18-17-23-8-17 23z"/>
<path class=baU d="M5186 1597l17-11-22 10-18-7z"/>
<path class=baL d="M5203 1586l17-5-22 1-17 14z"/>
<path class=baE d="M5220 1581l17 18-22-26-17 9z"/>
<path class=bax d="M5237 1599l17 34-22-56-17-4zm498-147l17 3-22-10-17-11zm86-31l17 12-22-23-17 15z"/>
<path class=bJ d="M5254 1633l17-13-22-55-17 12z"/>
<path class=baM d="M5271 1620l18 13-23-82-17 14z"/>
<path class=bbC d="M5289 1633l17-38-22-49-18 5z"/>
<path class=bdJ d="M5306 1595l17-22-22-34-17 7z"/>
<path class=bbt d="M5323 1573l17-22-22-19-17 7z"/>
<path class=bcX d="M5340 1551l17-6-22-20-17 7z"/>
<path class=bdK d="M5357 1545l17 8-22-32-17 4z"/>
<path class=bai d="M5374 1553l18 9-23-40-17-1z"/>
<path class=bbp d="M5392 1562l17-3-22-34-18-3z"/>
<path class=bF d="M5409 1559l17-19-22-9-17-6z"/>
<path class=bn d="M5426 1540l17 5-22-1-17-13zm481-146l17-9-22 32-17 1zm395-116l17 26-22-1-17-26z"/>
<path class=bce d="M5443 1545l17 16-22-52-17 35z"/>
<path class=bdL d="M5460 1561l18-13-23-51-17 12z"/>
<path class=bal d="M5478 1548l17-30-22-35-18 14z"/>
<path class=bcm d="M5495 1518l17-18-22-23-17 6z"/>
<path class=bcz d="M5512 1500l17-1-22-15-17-7z"/>
<path class=bv d="M5529 1499l17 26-22-25-17-16zm498-140l17-2-22 15-17-12zm395-115l18-3-23 8-17-3z"/>
<path class=bH d="M5546 1525l17-18-22 2-17-9zm69-26l17 9-22-30-17 3z"/>
<path class=bM d="M5563 1507l18 5-23 11-17-14z"/>
<path class=bbb d="M5581 1512l17 5-22-20-18 26z"/>
<path class=bd d="M5598 1517l17-18-22-18-17 16zm601-162l17-11-22-20-17-27z"/>
<path class=bdM d="M5632 1508l17-14-22-34-17 18z"/>
<path class=bdN d="M5649 1494l18-18-23-29-17 13z"/>
<path class=bg d="M5667 1476l17 16-22-4-18-41zm446-135l17-4-22 10-17 10z"/>
<path class=bbX d="M5684 1492l17-36-22-22-17 54z"/>
<path class=bU d="M5701 1456l17-3-22-24-17 5z"/>
<path class=bbx d="M5718 1453l17-1-22-18-17-5z"/>
<path class=bj d="M5752 1455l18 44-23-32-17-22zm310-89l17 31-22-8-18-44zm257-62l17-17-22 22-17-6z"/>
<path class=baH d="M5770 1499l17-42-22-40-18 50z"/>
<path class=bbD d="M5787 1457l17-27-22-8-17-5z"/>
<path class=bS d="M5804 1430l17-9-22 4-17-3zm326-93l18-3-23-25-17 38zm103-10l18-39-23 4-17 4zm155-65l17-3-22-10-17 10zm17-3l17-15-22 2-17 3z"/>
<path class=bdd d="M5838 1433l17-2-22-34-17 13z"/>
<path class=baA d="M5855 1431l18-10-23-34-17 10z"/>
<path class=bdb d="M5873 1421l17 5-22-30-18-9zm412-104l17-39-22-1-17 2z"/>
<path class=bz d="M5890 1426l17-32-22 24-17-22zm34-41l17 27-22-37-17 42z"/>
<path class=bdO d="M5941 1412l18-22-23-28-17 13zm533-149l17-21-22-18-17-8z"/>
<path class=bi d="M5959 1390l17-4-22-5-18-19z"/>
<path class=bT d="M5976 1386l17 14-22-40-17 21zm206-50l17 19-22-58-17 2z"/>
<path class=bbG d="M5993 1400l17-23-22-33-17 16z"/>
<path class=bZ d="M6010 1377l17-18-22 1-17-16z"/>
<path class=baK d="M6044 1357l18 9-23-21-17 27z"/>
<path class=bdu d="M6079 1397l17-7-22-40-17 39z"/>
<path class=baP d="M6096 1390l17-49-22 16-17-7z"/>
<path class=bcg d="M6148 1334l17-5-22-25-18 5z"/>
<path class=bdF d="M6165 1329l17 7-22-37-17 5z"/>
<path class=bw d="M6216 1344l17-17-22-31-17 28z"/>
<path class=baT d="M6251 1288l17 5-22-13-18 12z"/>
<path class=bbd d="M6268 1293l17 24-22-38-17 1z"/>
<path class=bbu d="M6336 1287l18 5-23 20-17-3z"/>
<path class=bae d="M6354 1292l17 1-22 22-18-3z"/>
<path class=baG d="M6371 1293l17-31-22-3-17 56z"/>
<path class=bh d="M6440 1241l17 31-22-50-18 27z"/>
<path class=bbP d="M6457 1272l17-9-22-47-17 6z"/>
<path class=bp d="M5070 1667l17 17-22-20-17 31z"/>
<path class=bY d="M5087 1684l18-37-23 13-17 4z"/>
<path class=bg d="M5105 1647l17 3-22 23-18-13z"/>
<path class=bad d="M5122 1650l17 13-22 42-17-32zm17 13l17-38-22 34-17 46z"/>
<path class=bn d="M5156 1625l17 3-22 8-17 23zm395-100l17 10-22-10-17-26zm52-22l17-5-22 19-17-5z"/>
<path class=bH d="M5173 1628l17 22-22-36-17 22zm69 4l17 18-22-51-17-18zm704-199l18-2-23-19-17-27zm121-45l17 8-22-30-18-9zm395-101l17-26-22 11-17-31z"/>
<path class=bbC d="M5190 1650l18-1-22-52-18 17zm155-47l17-1-22-51-17 22z"/>
<path class=baz d="M5208 1649l17-20-22-43-17 11zm154-47l17-17-22-40-17 6z"/>
<path class=bcK d="M5225 1629l17 3-22-51-17 5z"/>
<path class=bdA d="M5259 1650l17-28-22 11-17-34zm1117-338l17 12-22-31-17-1z"/>
<path class=bdn d="M5276 1622l18 6-23-8-17 13z"/>
<path class=bae d="M5294 1628l17-5-22 10-18-13z"/>
<path class=bdw d="M5311 1623l17-20-22-8-17 38z"/>
<path class=bw d="M5328 1603l17 0-22-30-17 22zm86-1l17-38-22-5-17 3zm550-171l17-14-22-27-18 22z"/>
<path class=bdb d="M5379 1585l18 4-23-36-17-8zm1031-305l17 3-22-24-17 3z"/>
<path class=bd d="M5397 1589l17 13-22-40-18-9zm51-13l17 14-22-45-17-5zm447-124l17-28-22 2-17-5zm464-140l17 0-22-20-18-5z"/>
<path class=be d="M5431 1564l17 12-22-36-17 19zm876-260l17 21-22-47-17 39zm17 21l17-22-22 1-17-26z"/>
<path class=bdB d="M5465 1590l18-18-23-11-17-16z"/>
<path class=bbA d="M5483 1572l17 3-22-27-18 13z"/>
<path class=bdC d="M5500 1575l17 48-22-105-17 30z"/>
<path class=bcn d="M5517 1623l17-83-22-40-17 18zm326-154l17 2-22-38-17-12z"/>
<path class=bbG d="M5534 1540l17-15-22-26-17 1z"/>
<path class=bdx d="M5568 1535l18-27-23-1-17 18z"/>
<path class=bv d="M5586 1508l17-5-22 9-18-5zm704-206l17 2-22 13-17-24z"/>
<path class=bbg d="M5620 1498l17 1-22 0-17 18z"/>
<path class=bA d="M5637 1499l17 21-22-12-17-9zm52-7l17 11-22-11-17-16z"/>
<path class=baP d="M5654 1520l17-20-22-6-17 14z"/>
<path class=bW d="M5671 1500l18-8-22-16-18 18zm516-154l17 26-22-36-17-7zm154-43l18 9-23-25-17 17zm86-20l18 56-23-95-17 15z"/>
<path class=bI d="M5706 1503l17 18-22-65-17 36z"/>
<path class=bcR d="M5723 1521l17-47-22-21-17 3z"/>
<path class=baN d="M5740 1474l17-10-22-12-17 1z"/>
<path class=bz d="M5757 1464l18 46-23-55-17-3z"/>
<path class=bbB d="M5775 1510l17-27-22 16-18-44z"/>
<path class=bdD d="M5792 1483l17 23-22-49-17 42z"/>
<path class=bbR d="M5809 1506l17-49-22-27-17 27z"/>
<path class=ba d="M5826 1457l17 12-22-48-17 9zm155-40l17 1-22-32-17 4z"/>
<path class=bX d="M5860 1471l18 18-23-58-17 2z"/>
<path class=bcb d="M5878 1489l17-37-22-31-18 10z"/>
<path class=bax d="M5912 1424l17-5-22-25-17 32zm344-99l17-4-22-33-18 39z"/>
<path class=bF d="M5929 1419l17 14-22-48-17 9z"/>
<path class=br d="M5998 1418l17 26-22-44-17-14z"/>
<path class=bcc d="M6015 1444l17-29-22-38-17 23z"/>
<path class=bdE d="M6032 1415l17 3-22-59-17 18z"/>
<path class=bcC d="M6049 1418l18-30-23-31-17 2z"/>
<path class=bbu d="M6084 1396l17 4-22-3-17-31z"/>
<path class=bbK d="M6101 1400l17-41-22 31-17 7z"/>
<path class=bq d="M6118 1359l17-7-22-11-17 49z"/>
<path class=bbd d="M6135 1352l17 14-22-29-17 4z"/>
<path class=bh d="M6152 1366l18-29-22-3-18 3z"/>
<path class=bi d="M6170 1337l17 9-22-17-17 5z"/>
<path class=bbN d="M6204 1372l17-7-22-10-17-19z"/>
<path class=bo d="M6221 1365l17-39-22 18-17 11z"/>
<path class=bV d="M6238 1326l18-1-23 2-17 17z"/>
<path class=bdF d="M6273 1321l17-19-22-9-17-5z"/>
<path class=bbh d="M6393 1324l17-44-22-18-17 31z"/>
<path class=bdG d="M6445 1339l17-52-22-46-18 3z"/>
<path class=bB d="M6479 1261l17-18-22 20-17 9z"/>
<path class=bdH d="M6496 1243l17-12-22 11-17 21z"/>
<path class=bbj d="M5092 1698l18-6-23-8-17-17zm997-278l17 1-22-25-17-8z"/>
<path class=bc d="M5110 1692l17-15-22-30-18 37zm549-164l17-4-22-4-17-21zm17-4l18-6-23-18-17 20zm516-150l17 37-22-65-17-9z"/>
<path class=bT d="M5127 1677l17-7-22-20-17-3zm51-18l17 5-22-36-17-3z"/>
<path class=bb d="M5144 1670l17-12-22 5-17-13zm429-126l18-16-23 7-17-10z"/>
<path class=bax d="M5161 1658l17 1-22-34-17 38z"/>
<path class=bW d="M5195 1664l18-9-23-5-17-22zm1066-326l17 44-22-57-18 1zm223-60l17 23-22-40-17 26z"/>
<path class=by d="M5213 1655l17-18-22 12-18 1z"/>
<path class=br d="M5230 1637l17 30-22-38-17 20zm103-21l17 18-22-31-17 20zm17 18l17-39-22 8-17 0zm619-193l17 4-22-14-18 2z"/>
<path class=bdt d="M5247 1667l17-4-22-31-17-3z"/>
<path class=bbB d="M5264 1663l17-9-22-4-17-18z"/>
<path class=baG d="M5281 1654l18-44-23 12-17 28zm619-215l17-9-22 22-17 37zm326-76l17-27-22 29-17 7z"/>
<path class=bg d="M5299 1610l17 6-22 12-18-6zm68-15l17-16-22 23-17 1zm17-16l18 17-23-11-17 17zm464-125l17 3-22 12-17-12zm103-28l18 15-23-8-17-14zm430-123l17-3-22 12-17 0z"/>
<path class=bM d="M5316 1616l17 0-22 7-17 5zm464-133l17 2-22 25-18-46zm51-20l17-9-22 3-17 49zm34-6l18-4-23 18-17-2zm533-157l17-6-22 30-17-12z"/>
<path class=bbh d="M5402 1596l17-19-22 12-18-4z"/>
<path class=bA d="M5419 1577l17 0-22 25-17-13z"/>
<path class=bV d="M5436 1577l17-7-22-6-17 38z"/>
<path class=bn d="M5453 1570l17-2-22 8-17-12z"/>
<path class=baO d="M5470 1568l18 5-23 17-17-14z"/>
<path class=bae d="M5488 1573l17 27-22-28-18 18zm51 17l17-35-22-15-17 83zm498-178l17 20-22-17-17 29z"/>
<path class=bdu d="M5505 1600l17-17-22-8-17-3z"/>
<path class=bdg d="M5522 1583l17 7-22 33-17-48z"/>
<path class=be d="M5556 1555l17-11-22-19-17 15z"/>
<path class=baK d="M5591 1528l17-1-22-19-18 27z"/>
<path class=bdb d="M5608 1527l17 4-22-28-17 5zm34-3l17 4-22-29-17-1z"/>
<path class=bbD d="M5625 1531l17-7-22-26-17 5z"/>
<path class=bdv d="M5694 1518l17-36-22 10-18 8z"/>
<path class=bbv d="M5711 1482l17 2-22 19-17-11z"/>
<path class=bj d="M5728 1484l17 24-22 13-17-18zm155-31l17-14-22 50-18-18zm137-37l17-4-22 32-17-26z"/>
<path class=baa d="M5745 1508l17 9-22-43-17 47z"/>
<path class=baf d="M5762 1517l18-34-23-19-17 10z"/>
<path class=bdw d="M5797 1485l17 7-22-9-17 27z"/>
<path class=bad d="M5814 1492l17-29-22 43-17-23zm653-199l17-15-22 9-17 52z"/>
<path class=bbg d="M5917 1430l17-4-22-2-17 28zm326-94l18 2-23-12-17 39z"/>
<path class=bS d="M5934 1426l17 0-22-7-17 5zm361-98l17-19-22-7-17 19z"/>
<path class=baP d="M5986 1445l17-19-22-9-17 14z"/>
<path class=bdx d="M6003 1426l17-10-22 2-17-1zm120-54l17 21-22-34-17 41z"/>
<path class=bdf d="M6054 1432l18 36-23-50-17-3z"/>
<path class=bdy d="M6072 1468l17-48-22-32-18 30z"/>
<path class=bdn d="M6106 1421l17-49-22 28-17-4z"/>
<path class=bdl d="M6140 1393l17 10-22-51-17 7z"/>
<path class=bdz d="M6157 1403l18-29-23-8-17-14zm344-102l17 18-22-76-17 18z"/>
<path class=ba d="M6175 1374l17 0-22-37-18 29z"/>
<path class=bcH d="M6209 1411l17-48-22 9-17-26z"/>
<path class=bw d="M6278 1382l17-54-22-7-17 4z"/>
<path class=baU d="M6312 1309l17-14-22 9-17-2z"/>
<path class=bba d="M6329 1295l17-10-22 40-17-21z"/>
<path class=bv d="M6346 1285l18 9-23 9-17 22z"/>
<path class=baS d="M6364 1294l17 9-22 9-18-9zm68-15l18 16-23-12-17-3z"/>
<path class=baF d="M6415 1294l17-15-22 1-17 44z"/>
<path class=bbu d="M6450 1295l17-2-22 46-18-56z"/>
<path class=bck d="M6518 1319l17-30-22-58-17 12z"/>
<path class=bbb d="M5115 1713l17-24-22 3-18 6zm17-24l17 50-22-62-17 15z"/>
<path class=baa d="M5149 1739l17-74-22 5-17 7z"/>
<path class=bdj d="M5166 1665l17-18-22 11-17 12z"/>
<path class=bv d="M5183 1647l17 4-22 8-17-1zm790-224l18-6-22 24-18-15zm69-18l17-8-22 15-17 4z"/>
<path class=bj d="M5200 1651l18 67-23-54-17-5zm310-59l17-13-22 21-17-27z"/>
<path class=baH d="M5218 1718l17-65-22 2-18 9z"/>
<path class=bW d="M5235 1653l17 4-22-20-17 18z"/>
<path class=bg d="M5252 1657l17-27-22 37-17-30zm429-152l18 39-23-20-17 4zm138-28l17 2-22 13-17-7zm172-60l17 15-22 13-17-4zm154-25l17 26-22-25-17-21z"/>
<path class=baG d="M5269 1630l17 5-22 28-17 4z"/>
<path class=bM d="M5286 1635l18-6-23 25-17 9zm481-133l18 0-23 15-17-9z"/>
<path class=bq d="M5304 1629l17-23-22 4-18 44z"/>
<path class=baD d="M5321 1606l17 6-22 4-17-6zm343-108l17 7-22 23-17-4z"/>
<path class=bn d="M5338 1612l17 11-22-7-17 0zm721-215l18 1-23 34-17-20zm447-130l17 12-22 22-17-23z"/>
<path class=bA d="M5355 1623l17-11-22 22-17-18zm859-254l17-16-22 58-17-37z"/>
<path class=bY d="M5372 1612l17 4-22-21-17 39zm653-159l17-48-22 11-17 10z"/>
<path class=bS d="M5389 1616l18-30-23-7-17 16zm464-154l17 1-22-9-17 9zm52 0l17-19-22-4-17 14zm498-144l17-25-22 7-17 3z"/>
<path class=bba d="M5407 1586l17-7-22 17-18-17zm979-285l17 17-22-15-17-9z"/>
<path class=baX d="M5424 1579l17 8-22-10-17 19zm996-286l17-6-22 7-17 6z"/>
<path class=bbd d="M5441 1587l17 5-22-15-17 0z"/>
<path class=be d="M5458 1592l17 14-22-36-17 7z"/>
<path class=bdk d="M5475 1606l17 0-22-38-17 2z"/>
<path class=bdl d="M5492 1606l18-14-22-19-18-5z"/>
<path class=bae d="M5527 1579l17 25-22-21-17 17z"/>
<path class=bdm d="M5544 1604l17-2-22-12-17-7z"/>
<path class=bdn d="M5561 1602l17-31-22-16-17 35z"/>
<path class=bc d="M5578 1571l18-19-23-8-17 11z"/>
<path class=bax d="M5596 1552l17-15-22-9-18 16zm120-31l17-9-22-30-17 36z"/>
<path class=bdo d="M5613 1537l17-30-22 20-17 1z"/>
<path class=bap d="M5630 1507l17-12-22 36-17-4zm17-12l17 3-22 26-17 7z"/>
<path class=br d="M5699 1544l17-23-22-3-18 6z"/>
<path class=bH d="M5733 1512l17 36-22-64-17-2zm721-202l18 7-22-22-18-16z"/>
<path class=bbY d="M5750 1548l17-46-22 6-17-24z"/>
<path class=bbj d="M5785 1502l17 33-22-52-18 34z"/>
<path class=baB d="M5802 1535l17-58-22 8-17-2z"/>
<path class=bbg d="M5836 1479l17-17-22 1-17 29z"/>
<path class=bb d="M5870 1463l18 30-23-36-17-3z"/>
<path class=bbO d="M5888 1493l17-31-22-9-18 4z"/>
<path class=bi d="M5922 1443l17 1-22-14-17 9zm17 1l17-10-22-8-17 4zm498-157l17 23-22-31-17 15z"/>
<path class=baT d="M5956 1434l17-11-22 3-17 0z"/>
<path class=baP d="M6008 1432l17 21-22-27-17 19z"/>
<path class=bbL d="M6077 1398l17-20-22 90-18-36z"/>
<path class=bQ d="M6094 1378l17-14-22 56-17 48z"/>
<path class=bC d="M6111 1364l17-1-22 58-17-1zm378-89l17-8-22 11-17 15z"/>
<path class=bbv d="M6128 1363l17 29-22-20-17 49z"/>
<path class=bdp d="M6162 1418l18 1-23-16-17-10z"/>
<path class=bdq d="M6180 1419l17 23-22-68-18 29z"/>
<path class=bas d="M6197 1442l17-73-22 5-17 0z"/>
<path class=bbm d="M6231 1353l17-3-22 13-17 48z"/>
<path class=bN d="M6248 1350l18-11-23-3-17 27z"/>
<path class=baS d="M6266 1339l17 43-22-44-18-2zm34-16l17-2-22 7-17 54z"/>
<path class=bV d="M6283 1382l17-59-22 59-17-44z"/>
<path class=baU d="M6317 1321l17-4-22-8-17 19z"/>
<path class=bP d="M6334 1317l17-14-22-8-17 14zm35-18l17 2-22-7-18-9z"/>
<path class=bdr d="M6351 1303l18-4-23-14-17 10z"/>
<path class=bR d="M6472 1317l17-42-22 18-17 2z"/>
<path class=bbu d="M6523 1279l17 15-22 25-17-18z"/>
<path class=bds d="M6540 1294l18 63-23-68-17 30z"/>
<path class=bbF d="M5137 1669l17-8-22 28-17 24zm1168-322l17-13-22-11-17 59z"/>
<path class=bq d="M5154 1661l17 6-22 72-17-50z"/>
<path class=bg d="M5171 1667l17 11-22-13-17 74zm344-87l17-12-22 24-18 14zm515-132l17-15-22 20-17-21z"/>
<path class=bE d="M5188 1678l17-7-22-24-17 18z"/>
<path class=bbd d="M5205 1671l18 21-23-41-17-4zm1254-346l18-16-23 1-17-23z"/>
<path class=bj d="M5223 1692l17-12-22 38-18-67zm584-190l17 24-22 9-17-33z"/>
<path class=bcW d="M5240 1680l17-10-22-17-17 65z"/>
<path class=bax d="M5257 1670l17-14-22 1-17-4zm86-39l17 54-22-73-17-6zm51-8l18 11-23-18-17-4z"/>
<path class=bS d="M5274 1656l17-11-22-15-17 27z"/>
<path class=bb d="M5291 1645l18 47-23-57-17-5z"/>
<path class=be d="M5309 1692l17-56-22-7-18 6zm68-30l17-39-22-11-17 11z"/>
<path class=baN d="M5326 1636l17-5-22-25-17 23zm824-222l17-11-22-11-17-29z"/>
<path class=bI d="M5360 1685l17-23-22-39-17-11z"/>
<path class=bs d="M5412 1634l17 42-22-90-18 30z"/>
<path class=bT d="M5429 1676l17-80-22-17-17 7zm567-211l17 23-22-71-18 6z"/>
<path class=baE d="M5446 1596l17-13-22 4-17-8z"/>
<path class=bv d="M5463 1583l17 25-22-16-17-5zm241-53l17-14-22 28-18-39zm86-33l17 5-22 0-18 0zm498-140l17-10-22 35-17-43zm257-68l18-19-23 24-17-15z"/>
<path class=bad d="M5480 1608l17 56-22-58-17-14z"/>
<path class=bo d="M5497 1664l18-84-23 26-17 0z"/>
<path class=bA d="M5532 1568l17 42-22-31-17 13z"/>
<path class=bp d="M5549 1610l17-47-22 41-17-25z"/>
<path class=baG d="M5566 1563l17 0-22 39-17 2z"/>
<path class=bM d="M5583 1563l18 3-23 5-17 31zm172-60l17 40-22 5-17-36zm412-100l18 20-23-5-17-26z"/>
<path class=bR d="M5601 1566l17-13-22-1-18 19z"/>
<path class=baX d="M5618 1553l17-19-22 3-17 15z"/>
<path class=bO d="M5635 1534l17-8-22-19-17 30zm876-262l17 7-22-12-17 8z"/>
<path class=bcX d="M5652 1526l17 20-22-51-17 12z"/>
<path class=bcY d="M5669 1546l17-8-22-40-17-3z"/>
<path class=bcZ d="M5686 1538l18-8-23-25-17-7z"/>
<path class=bn d="M5721 1516l17 0-22 5-17 23zm172-43l17-1-22 21-18-30z"/>
<path class=bN d="M5738 1516l17-13-22 9-17 9z"/>
<path class=bbm d="M5772 1543l18-46-23 5-17 46zm791-273l17-9-22 96-18-63z"/>
<path class=bbL d="M5824 1526l17-30-22-19-17 58z"/>
<path class=bH d="M5841 1496l17 16-22-33-17-2z"/>
<path class=bda d="M5858 1512l17 3-22-53-17 17zm378-111l17-3-22-45-17 16z"/>
<path class=bbe d="M5875 1515l18-42-23-10-17-1zm224-80l17 20-22-77-17 20z"/>
<path class=bbh d="M5910 1472l17 12-22-22-17 31z"/>
<path class=bh d="M5927 1484l17-23-22-18-17 19z"/>
<path class=bi d="M5944 1461l17-16-22-1-17-1zm17-16l17 3-22-14-17 10z"/>
<path class=bdb d="M5978 1448l18 17-23-42-17 11z"/>
<path class=bcC d="M6013 1488l17-40-22-16-17-15z"/>
<path class=bdc d="M6047 1433l17 93-22-121-17 48z"/>
<path class=bx d="M6064 1526l18-86-23-43-17 8z"/>
<path class=bdd d="M6082 1440l17-5-22-37-18-1z"/>
<path class=baA d="M6116 1455l17-41-22-50-17 14z"/>
<path class=bde d="M6133 1414l17 0-22-51-17 1z"/>
<path class=bdf d="M6185 1423l17-5-22 1-18-1z"/>
<path class=bdg d="M6202 1418l17 29-22-5-17-23z"/>
<path class=bdh d="M6219 1447l17-46-22-32-17 73z"/>
<path class=bbf d="M6253 1398l18-40-23-8-17 3zm155-50l17-31-22 1-17-17z"/>
<path class=bZ d="M6271 1358l17-1-22-18-18 11zm120-35l17 25-22-47-17-2z"/>
<path class=bu d="M6322 1334l17-2-22-11-17 2zm17-2l17-7-22-8-17 4z"/>
<path class=bP d="M6356 1325l18-6-23-16-17 14z"/>
<path class=bbW d="M6374 1319l17 4-22-24-18 4z"/>
<path class=baT d="M6425 1317l17-8-22-16-17 25z"/>
<path class=bbx d="M6442 1309l17 16-22-38-17 6z"/>
<path class=baS d="M6477 1309l17-26-22 34-18-7z"/>
<path class=bdi d="M6494 1283l17-11-22 3-17 42z"/>
<path class=baJ d="M6528 1279l17 10-22-10-17-12z"/>
<path class=bcN d="M5159 1718l17-20-22-37-17 8z"/>
<path class=bcO d="M5176 1698l17-26-22-5-17-6z"/>
<path class=bcv d="M5193 1672l17 5-22 1-17-11zm292-87l17-1-22 24-17-25z"/>
<path class=bi d="M5210 1677l18 7-23-13-17 7zm86-11l17-10-22-11-17 11z"/>
<path class=bv d="M5228 1684l17-11-22 19-18-21zm34-23l17 5-22 4-17 10zm258-87l17-11-22 17-18 84zm584-163l17-2-22 26-17 5zm51-11l17 10-22 4-17 0zm258-65l17 15-22-2-17-25z"/>
<path class=baS d="M5245 1673l17-12-22 19-17 12zm962-273l17-23-22 41-17 5z"/>
<path class=bS d="M5279 1666l17 0-22-10-17 14zm327-94l17-4-22-2-18-3z"/>
<path class=bg d="M5313 1656l18 16-22 20-18-47zm138-16l17-46-22 2-17 80zm103-70l17 74-22-34-17-42zm275-65l17 22-22-1-17-24zm429-133l17 18-22 8-17 3z"/>
<path class=bB d="M5331 1672l17-24-22-12-17 56zm549-152l18-29-23 24-17-3zm207-101l17-8-22 29-18 86z"/>
<path class=bbd d="M5348 1648l17 0-22-17-17 5zm1116-311l18-15-23 3-17-16z"/>
<path class=bA d="M5365 1648l17 3-22 34-17-54z"/>
<path class=bbm d="M5382 1651l17-39-22 50-17 23zm687-214l18-18-23 107-17-93z"/>
<path class=bbF d="M5399 1612l18-12-23 23-17 39zm395-117l18 5-22-3-18 46z"/>
<path class=bap d="M5417 1600l17-4-22 38-18-11z"/>
<path class=bcP d="M5434 1596l17 44-22 36-17-42z"/>
<path class=bO d="M5468 1594l17-9-22-2-17 13z"/>
<path class=bV d="M5502 1584l18-10-23 90-17-56zm722-207l17-9-22 79-17-29zm17-9l17 4-22 29-17 46z"/>
<path class=baw d="M5537 1563l17 7-22-2-17 12zm1031-297l17 17-22-13-18 19z"/>
<path class=baH d="M5571 1644l17-48-22-33-17 47z"/>
<path class=bab d="M5588 1596l18-24-23-9-17 0z"/>
<path class=bcQ d="M5623 1568l17-20-22 5-17 13z"/>
<path class=baE d="M5640 1548l17 19-22-33-17 19zm120-20l17-17-22-8-17 13zm223-68l18-8-23-4-17-3zm310-81l17-21-22-1-17 1z"/>
<path class=bD d="M5657 1567l17 3-22-44-17 8z"/>
<path class=bbJ d="M5674 1570l17-21-22-3-17-20zm69-27l17-15-22-12-17 0z"/>
<path class=bax d="M5691 1549l18 20-23-31-17 8zm894-266l17 62-22-84-17 9z"/>
<path class=bcR d="M5709 1569l17-9-22-30-18 8z"/>
<path class=bbe d="M5726 1560l17-17-22-27-17 14z"/>
<path class=bba d="M5777 1511l17-16-22 48-17-40z"/>
<path class=baJ d="M5812 1500l17 5-22-3-17-5z"/>
<path class=bs d="M5846 1527l17 9-22-40-17 30z"/>
<path class=bcn d="M5863 1536l17-16-22-8-17-16z"/>
<path class=bz d="M5898 1491l17 20-22-38-18 42z"/>
<path class=bcS d="M5915 1511l17-14-22-25-17 1z"/>
<path class=bH d="M5932 1497l17-9-22-4-17-12zm498-147l17-6-22-27-17 31z"/>
<path class=bbz d="M5949 1488l17-21-22-6-17 23zm326-98l18-11-22-21-18 40z"/>
<path class=bZ d="M5966 1467l17-7-22-15-17 16z"/>
<path class=baD d="M6001 1452l17-14-22 27-18-17z"/>
<path class=baF d="M6018 1438l17-3-22 53-17-23zm17-3l17-2-22 15-17 40z"/>
<path class=baX d="M6052 1433l17 4-22-4-17 15z"/>
<path class=bq d="M6121 1409l17-5-22 51-17-20zm17-5l17-4-22 14-17 41z"/>
<path class=bc d="M6172 1410l18 44-23-51-17 11z"/>
<path class=baB d="M6190 1454l17-54-22 23-18-20z"/>
<path class=bbl d="M6310 1358l17-13-22 2-17 10z"/>
<path class=bcT d="M6327 1345l17-12-22 1-17 13z"/>
<path class=bP d="M6344 1333l17 13-22-14-17 2z"/>
<path class=bbx d="M6361 1346l18 22-23-43-17 7z"/>
<path class=bai d="M6379 1368l17-41-22-8-18 6z"/>
<path class=baC d="M6396 1327l17 8-22-12-17-4z"/>
<path class=bcU d="M6447 1344l17-7-22-28-17 8z"/>
<path class=bf d="M6482 1322l17-8-22-5-18 16z"/>
<path class=baU d="M6499 1314l17-23-22-8-17 26z"/>
<path class=baZ d="M6516 1291l17-17-22-2-17 11z"/>
<path class=bcV d="M6533 1274l17-4-22 9-17-7z"/>
<path class=bcr d="M6550 1270l18-4-23 23-17-10z"/>
<path class=bcu d="M5181 1704l17-12-22 6-17 20zm515-150l18-11-23 6-17 21z"/>
<path class=bO d="M5198 1692l17-5-22-15-17 26z"/>
<path class=bP d="M5215 1687l18-10-23 0-17-5zm1203-342l17-12-22 2-17-8z"/>
<path class=bap d="M5233 1677l17 21-22-14-18-7zm1151-338l17 9-22 20-18-22z"/>
<path class=bW d="M5250 1698l17 59-22-84-17 11z"/>
<path class=bz d="M5267 1757l17-93-22-3-17 12zm636-251l17 6-22-21-18 29zm17 6l17-14-22 13-17-20z"/>
<path class=baw d="M5284 1664l17-14-22 16-17-5z"/>
<path class=bcv d="M5301 1650l17 5-22 11-17 0z"/>
<path class=baL d="M5318 1655l18 2-23-1-17 10zm310-83l17-12-22 8-17 4zm687-174l17-42-22 2-17 21zm86-50l17-3-22-18-17 41z"/>
<path class=bv d="M5336 1657l17 1-22 14-18-16zm378-114l17 5-22 21-18-20zm893-271l17 18-22 55-17-62z"/>
<path class=bN d="M5353 1658l17-4-22-6-17 24z"/>
<path class=baV d="M5370 1654l17-9-22 3-17 0zm395-119l17 0-22-7-17 15z"/>
<path class=baD d="M5387 1645l17-10-22 16-17-3zm567-170l17-4-22 17-17 9z"/>
<path class=bi d="M5404 1635l18 13-23-36-17 39zm636-188l17 54-22-66-17 3z"/>
<path class=bcw d="M5422 1648l17-10-22-38-18 12z"/>
<path class=bcx d="M5439 1638l17-20-22-22-17 4z"/>
<path class=baJ d="M5456 1618l17 16-22 6-17-44zm155-49l17 3-22 0-18 24zm824-236l17 12-22 5-17-15z"/>
<path class=baX d="M5473 1634l17-18-22-22-17 46z"/>
<path class=bcy d="M5490 1616l17-14-22-17-17 9z"/>
<path class=bcz d="M5507 1602l18 3-23-21-17 1zm859-235l18-28-23 7-17-13z"/>
<path class=bcA d="M5525 1605l17 6-22-37-18 10zm1013-279l17-28-22-24-17 17z"/>
<path class=bbd d="M5542 1611l17 53-22-101-17 11z"/>
<path class=bcB d="M5559 1664l17-42-22-52-17-7z"/>
<path class=bg d="M5576 1622l17-43-22 65-17-74zm155-74l17 10-22 2-17 9zm154-32l18-10-23 14-17 16z"/>
<path class=bq d="M5593 1579l18-10-23 27-17 48zm344-81l17-23-22 22-17 14z"/>
<path class=baE d="M5645 1560l17 19-22-31-17 20z"/>
<path class=bax d="M5662 1579l17 13-22-25-17-19zm601-167l17 57-22-97-17-4z"/>
<path class=bf d="M5679 1592l17-38-22 16-17-3zm773-247l17 8-22-9-17 6z"/>
<path class=bbX d="M5748 1558l17-23-22 8-17 17z"/>
<path class=bE d="M5782 1535l17 10-22-34-17 17z"/>
<path class=bG d="M5799 1545l18 15-23-65-17 16z"/>
<path class=bbD d="M5817 1560l17 0-22-60-18-5z"/>
<path class=bcj d="M5834 1560l17-7-22-48-17-5z"/>
<path class=bbO d="M5851 1553l17-28-22 2-17-22z"/>
<path class=bA d="M5868 1525l17-9-22 20-17-9z"/>
<path class=bS d="M5971 1471l17 24-22-28-17 21zm516-145l17 7-22-11-18 15z"/>
<path class=bay d="M5988 1495l18 12-23-47-17 7z"/>
<path class=bcC d="M6006 1507l17-12-22-43-18 8z"/>
<path class=bZ d="M6023 1495l17-48-22-9-17 14z"/>
<path class=baU d="M6057 1501l17-84-22 16-17 2z"/>
<path class=bcD d="M6074 1417l18-16-23 36-17-4z"/>
<path class=bcE d="M6092 1401l17 13-22 5-18 18zm498-125l17-4-22 11-17-17z"/>
<path class=baZ d="M6109 1414l17 5-22-8-17 8z"/>
<path class=bu d="M6126 1419l17 31-22-41-17 2z"/>
<path class=bm d="M6143 1450l17 8-22-54-17 5z"/>
<path class=bcF d="M6160 1458l17-4-22-54-17 4z"/>
<path class=bcG d="M6177 1454l18-3-23-41-17-10z"/>
<path class=bM d="M6195 1451l17-17-22 20-18-44z"/>
<path class=bB d="M6212 1434l17-23-22-11-17 54z"/>
<path class=bai d="M6229 1411l17-7-22-27-17 23z"/>
<path class=bbV d="M6246 1404l17 8-22-44-17 9z"/>
<path class=bcH d="M6280 1469l18-21-23-58-17-18z"/>
<path class=bau d="M6298 1448l17-50-22-19-18 11z"/>
<path class=bcI d="M6332 1356l17-13-22 2-17 13z"/>
<path class=bcJ d="M6349 1343l17 24-22-34-17 12z"/>
<path class=bbz d="M6469 1353l18-27-23 11-17 7z"/>
<path class=baN d="M6504 1333l17 14-22-33-17 8z"/>
<path class=bcK d="M6521 1347l17-21-22-35-17 23z"/>
<path class=bcL d="M6555 1298l18-14-23-14-17 4z"/>
<path class=bcM d="M6573 1284l17-8-22-10-18 4z"/>
<path class=nk d="M6457 538L6442 1363 6475 1368zM6457 538L6475 1368 6473 1354z" fill="url(#gb14)"/><path class=nk d="M6457 538v91" style="stroke:#aaa;stroke-width:9;stroke-opacity:1"/><path class=nk d="M6457 629v124" style="stroke:#3a3a30;stroke-width:11;stroke-opacity:1"/>
<path class=nk d="M5512 824L5496 1650 5530 1654zM5512 824L5530 1654 5528 1641z" fill="url(#gb04)"/><path class=nk d="M5512 824v91" style="stroke:#aaa;stroke-width:9;stroke-opacity:1"/><path class=nk d="M5512 915v124" style="stroke:#3a3a30;stroke-width:11;stroke-opacity:1"/>
<path class=bu d="M5203 1710l17-6-22-12-17 12zm17-6l18 10-23-27-17 5zm1203-334l17-23-22-2-17 3z"/>
<path class=bao d="M5238 1714l17 3-22-40-18 10z"/>
<path class=bbd d="M5255 1717l17 12-22-31-17-21zm189-63l17 15-22-31-17 10zm309-87l17 9-22-18-17-10z"/>
<path class=bj d="M5272 1729l17-15-22 43-17-59z"/>
<path class=bn d="M5289 1714l17-27-22-23-17 93z"/>
<path class=bbZ d="M5306 1687l17-7-22-30-17 14z"/>
<path class=bca d="M5323 1680l18 1-23-26-17-5z"/>
<path class=ban d="M5341 1681l17 2-22-26-18-2z"/>
<path class=bE d="M5358 1683l17 1-22-26-17-1zm1202-348l17-7-22-30-17 28z"/>
<path class=bT d="M5375 1684l17 14-22-44-17 4zm1237-333l17 28-22-107-17 4z"/>
<path class=bbC d="M5392 1698l17-13-22-40-17 9zm1237-319l17-53-22-36-17-18z"/>
<path class=bG d="M5409 1685l18-27-23-23-17 10z"/>
<path class=bZ d="M5427 1658l17-4-22-6-18-13zm51-13l17-9-22-2-17-16zm69-16l17-21-22 3-17-6z"/>
<path class=bbf d="M5461 1669l17-24-22-27-17 20z"/>
<path class=bi d="M5495 1636l17 3-22-23-17 18zm997-273l17-17-22-20-18 27zm17-17l17 9-22-22-17-7z"/>
<path class=bh d="M5512 1639l18 38-23-75-17 14z"/>
<path class=bbo d="M5530 1677l17-48-22-24-18-3z"/>
<path class=bg d="M5564 1608l17 14-22 42-17-53zm120-17l17 16-22-15-17-13zm636-184l17-16-22 7-17 50z"/>
<path class=bae d="M5581 1622l17 55-22-55-17 42z"/>
<path class=bcb d="M5598 1677l17-19-22-79-17 43z"/>
<path class=bcc d="M5615 1658l18 8-22-97-18 10z"/>
<path class=bcd d="M5633 1666l17-40-22-54-17-3z"/>
<path class=bce d="M5650 1626l17 15-22-81-17 12z"/>
<path class=bcf d="M5667 1641l17-50-22-12-17-19z"/>
<path class=bz d="M5701 1607l18-25-23-28-17 38zm842-251l17-21-22-9-17 21z"/>
<path class=bcg d="M5719 1582l17-19-22-20-18 11z"/>
<path class=bch d="M5736 1563l17 4-22-19-17-5z"/>
<path class=baM d="M5770 1576l17 18-22-59-17 23zm704-185l18-28-23-10-17-8z"/>
<path class=bJ d="M5787 1594l17-24-22-35-17 0z"/>
<path class=bH d="M5804 1570l18 7-23-32-17-10zm430-122l17-18-22-19-17 23zm292-93l17 1-22-9-17-14z"/>
<path class=bci d="M5822 1577l17-17-22 0-18-15zm240-54l17-34-22 12-17-54z"/>
<path class=bp d="M5839 1560l17-9-22 9-17 0z"/>
<path class=bbL d="M5856 1551l17-9-22 11-17 7z"/>
<path class=bc d="M5873 1542l17 13-22-30-17 28z"/>
<path class=bat d="M5890 1555l18-5-23-34-17 9z"/>
<path class=bS d="M5908 1550l17-46-22 2-18 10z"/>
<path class=baJ d="M5925 1504l17-10-22 18-17-6z"/>
<path class=bv d="M5942 1494l17 22-22-18-17 14zm51 0l18 14-23-13-17-24z"/>
<path class=bcj d="M5959 1516l17 19-22-60-17 23z"/>
<path class=bbG d="M5976 1535l17-41-22-23-17 4z"/>
<path class=bM d="M6011 1508l17 8-22-9-18-12zm189-72l17 25-22-10-18 3z"/>
<path class=br d="M6028 1516l17-9-22-12-17 12zm189-55l17-13-22-14-17 17z"/>
<path class=bck d="M6045 1507l17 16-22-76-17 48z"/>
<path class=bbz d="M6079 1489l17-9-22-63-17 84z"/>
<path class=bcl d="M6096 1480l18-1-22-78-18 16z"/>
<path class=bcm d="M6114 1479l17-17-22-48-17-13z"/>
<path class=bai d="M6131 1462l17 15-22-58-17-5z"/>
<path class=bW d="M6148 1477l17 13-22-40-17-31zm120-46l17 33-22-52-17-8z"/>
<path class=bcn d="M6165 1490l17-35-22 3-17-8z"/>
<path class=bV d="M6182 1455l18-19-23 18-17 4z"/>
<path class=bF d="M6251 1430l17 1-22-27-17 7z"/>
<path class=bco d="M6285 1464l18 2-23 3-17-57z"/>
<path class=bbT d="M6303 1466l17-59-22 41-18 21z"/>
<path class=bcp d="M6337 1391l17-17-22-18-17 42z"/>
<path class=bcq d="M6354 1374l17-5-22-26-17 13z"/>
<path class=bcr d="M6371 1369l18 6-23-8-17-24z"/>
<path class=bbU d="M6389 1375l17-6-22-30-18 28z"/>
<path class=bbW d="M6406 1369l17 1-22-22-17-9z"/>
<path class=bP d="M6440 1347l17 1-22-15-17 12z"/>
<path class=baD d="M6457 1348l17 43-22-46-17-12z"/>
<path class=bcs d="M6577 1328l18 4-22-48-18 14z"/>
<path class=bct d="M6595 1332l17 19-22-75-17 8z"/>
<path class=bbf d="M5225 1751l18 15-23-62-17 6zm739-202l17-23-22-10-17-22z"/>
<path class=bbG d="M5243 1766l17-45-22-7-18-10z"/>
<path class=baV d="M5260 1721l17-11-22 7-17-3z"/>
<path class=bn d="M5277 1710l17 15-22 4-17-12zm258-67l17-7-22 41-18-38zm446-117l17-27-22 36-17-19z"/>
<path class=bbH d="M5294 1725l17 32-22-43-17 15z"/>
<path class=bd d="M5311 1757l17-41-22-29-17 27zm86-38l17-20-22-1-17-14zm120 13l18-89-23-4-17-3zm207-125l17 6-22-31-18 25z"/>
<path class=bT d="M5328 1716l18 20-23-56-17 7zm1272-356l17-20-22-8-18-4z"/>
<path class=bw d="M5346 1736l17 16-22-71-18-1zm755-226l18-13-23-17-17 9z"/>
<path class=bI d="M5363 1752l17-14-22-55-17-2z"/>
<path class=bbI d="M5380 1738l17-19-22-35-17-1zm825-248l17 3-22-57-18 19z"/>
<path class=br d="M5414 1699l18 2-23-16-17 13zm842-248l17 54-22-75-17 18z"/>
<path class=bR d="M5432 1701l17-38-22-5-18 27z"/>
<path class=baL d="M5449 1663l17-21-22 12-17 4z"/>
<path class=baD d="M5466 1642l17 14-22 13-17-15zm550-147l17 7-22 6-18-14z"/>
<path class=bH d="M5483 1656l17 41-22-52-17 24zm636-159l17-5-22-13-18 1zm446-145l17 20-22-37-17 21z"/>
<path class=bX d="M5500 1697l17 35-22-96-17 9z"/>
<path class=bB d="M5552 1636l17 7-22-14-17 48zm292-60l17-34-22 18-17 17z"/>
<path class=bbJ d="M5569 1643l17-11-22-24-17 21zm859-247l17 0-22-26-17-1z"/>
<path class=bi d="M5586 1632l17 2-22-12-17-14z"/>
<path class=bM d="M5603 1634l17-10-22 53-17-55z"/>
<path class=bbm d="M5620 1624l18-19-23 53-17 19zm18-19l17 7-22 54-18-8z"/>
<path class=bbK d="M5655 1612l17 4-22 10-17 40zm996-259l17-25-22-2-17 53z"/>
<path class=bj d="M5672 1616l17 7-22 18-17-15zm618-173l18 6-23 15-17-33z"/>
<path class=bbL d="M5689 1623l17-17-22-15-17 50z"/>
<path class=bg d="M5706 1606l18 1-23 0-17-16zm327-104l17 12-22 2-17-8zm584-162l17 11-22 0-17-19z"/>
<path class=bbn d="M5741 1613l17-10-22-40-17 19z"/>
<path class=be d="M5758 1603l17 14-22-50-17-4zm756-228l17 23-22-52-17 17z"/>
<path class=bbM d="M5775 1617l17-19-22-22-17-9z"/>
<path class=baP d="M5792 1598l17-5-22 1-17-18z"/>
<path class=bbN d="M5809 1593l18 7-23-30-17 24z"/>
<path class=bbj d="M5827 1600l17-24-22 1-18-7zm309-108l17 43-22-73-17 17z"/>
<path class=baS d="M5861 1542l17 11-22-2-17 9z"/>
<path class=bW d="M5878 1553l17 32-22-43-17 9zm670-170l17-31-22 4-17-1z"/>
<path class=bc d="M5895 1585l18-44-23 14-17-13z"/>
<path class=bA d="M5913 1541l17 8-22 1-18 5z"/>
<path class=bbO d="M5930 1549l17 4-22-49-17 46z"/>
<path class=bbP d="M5947 1553l17-4-22-55-17 10z"/>
<path class=bbF d="M5998 1499l18-4-23-1-17 41z"/>
<path class=by d="M6050 1514l17-15-22 8-17 9zm34-6l17 2-22-21-17 34z"/>
<path class=baO d="M6067 1499l17 9-22 15-17-16z"/>
<path class=bbQ d="M6153 1535l17-33-22-25-17-15z"/>
<path class=bbB d="M6170 1502l17-12-22 0-17-13z"/>
<path class=bbR d="M6187 1490l18 0-23-35-17 35z"/>
<path class=bs d="M6222 1493l17-26-22-6-17-25z"/>
<path class=bY d="M6239 1467l17-16-22-3-17 13z"/>
<path class=bbS d="M6273 1505l17-62-22-12-17-1z"/>
<path class=bbT d="M6308 1449l17 11-22 6-18-2z"/>
<path class=baG d="M6325 1460l17-53-22 0-17 59z"/>
<path class=baT d="M6342 1407l17-11-22-5-17 16z"/>
<path class=bbU d="M6359 1396l17 5-22-27-17 17z"/>
<path class=bbV d="M6376 1401l18-6-23-26-17 5z"/>
<path class=bbx d="M6394 1395l17 2-22-22-18-6z"/>
<path class=bab d="M6411 1397l17-1-22-27-17 6z"/>
<path class=bZ d="M6445 1396l17-30-22-19-17 23z"/>
<path class=bbW d="M6462 1366l17-2-22-16-17-1z"/>
<path class=bv d="M6479 1364l18 4-23 23-17-43z"/>
<path class=bbX d="M6497 1368l17 7-22-12-18 28z"/>
<path class=bbY d="M6531 1398l17-15-22-28-17-9z"/>
<path class=bL d="M6582 1372l18-12-23-32-17 7z"/>
<path class=bae d="M6634 1351l17 2-22 26-17-28z"/>
<path class=bg d="M5248 1747l17-4-22 23-18-15zm257-70l17 10-22 10-17-41zm241-72l17 4-22 4-17-6zm34-9l17-5-22 26-17-14zm69-23l17 6-22-3-17 24zm51-6l17-16-22 34-17-32zm344-122l17 21-22 1-17 26z"/>
<path class=bd d="M5265 1743l17 49-22-71-17 45zm429-97l17-6-22-17-17-7z"/>
<path class=baf d="M5282 1792l17-56-22-26-17 11z"/>
<path class=bbd d="M5299 1736l17 2-22-13-17-15zm275-73l17-13-22-7-17-7z"/>
<path class=bM d="M5316 1738l17-5-22 24-17-32zm481-147l17 13-22-6-17 19zm35 6l17-24-22 27-18-7zm326-100l17-25-22 63-17-43zm137-56l18-4-23 6-17 62zm18-4l17 51-22-39-18-6z"/>
<path class=bB d="M5333 1733l18-5-23-12-17 41z"/>
<path class=bA d="M5351 1728l17-1-22 9-18-20zm189-63l17-13-22-9-18 89zm996-299l17 37-22-5-17-23z"/>
<path class=bbu d="M5368 1727l17-7-22 32-17-16z"/>
<path class=baG d="M5385 1720l17-35-22 53-17 14z"/>
<path class=bV d="M5402 1685l17-10-22 44-17 19zm515-134l18 7-22-17-18 44z"/>
<path class=bq d="M5419 1675l17 4-22 20-17 20z"/>
<path class=bbv d="M5436 1679l18-1-22 23-18-2z"/>
<path class=bf d="M5454 1678l17 8-22-23-17 38z"/>
<path class=bbw d="M5471 1686l17-9-22-35-17 21z"/>
<path class=bbx d="M5488 1677l17 0-22-21-17-14z"/>
<path class=bj d="M5522 1687l18-22-23 67-17-35zm756-213l17-33-22 64-17-54z"/>
<path class=baN d="M5557 1652l17 11-22-27-17 7zm326-80l17-5-22-14-17-11zm120-57l18 28-23-44-17 27z"/>
<path class=bS d="M5591 1650l17-12-22-6-17 11zm17-12l17-7-22 3-17-2z"/>
<path class=bax d="M5625 1631l18 24-23-31-17 10zm241-52l17-7-22-30-17 34z"/>
<path class=bbo d="M5643 1655l17-7-22-43-18 19z"/>
<path class=bH d="M5660 1648l17 26-22-62-17-7zm275-90l17 2-22-11-17-8z"/>
<path class=bby d="M5677 1674l17-28-22-30-17-4z"/>
<path class=bc d="M5711 1640l18-23-23-11-17 17z"/>
<path class=bb d="M5729 1617l17-12-22 2-18-1z"/>
<path class=bQ d="M5763 1609l17-13-22 7-17 10z"/>
<path class=baP d="M5814 1604l18-7-23-4-17 5zm310-101l17 38-22-44-18 13z"/>
<path class=br d="M5952 1560l17-7-22 0-17-4z"/>
<path class=baS d="M5969 1553l17-48-22 44-17 4zm86-42l17 11-22-8-17-12zm550-159l17-16-22 24-18 12z"/>
<path class=baD d="M5986 1505l17 10-22 11-17 23zm636-169l17-7-22 11-17 20z"/>
<path class=bbq d="M6021 1543l17-21-22-27-18 4z"/>
<path class=bE d="M6038 1522l17-11-22-9-17-7z"/>
<path class=bbz d="M6072 1522l17-23-22 0-17 15z"/>
<path class=bv d="M6089 1499l17-14-22 23-17-9zm361-108l17 11-22-6-17 0zm223-79l18 22-23-6-17 25z"/>
<path class=bn d="M6106 1485l18 18-23 7-17-2z"/>
<path class=bbA d="M6141 1541l17-44-22-5-17 5z"/>
<path class=bbm d="M6175 1472l17 1-22 29-17 33zm52-11l17-16-22 48-17-3z"/>
<path class=bad d="M6192 1473l18 62-23-45-17 12z"/>
<path class=bo d="M6210 1535l17-74-22 29-18 0z"/>
<path class=bW d="M6261 1466l17 8-22-23-17 16z"/>
<path class=bbB d="M6330 1488l17 7-22-35-17-11z"/>
<path class=bas d="M6347 1495l17-32-22-56-17 53z"/>
<path class=bbC d="M6364 1463l17-27-22-40-17 11z"/>
<path class=bbp d="M6381 1436l17-29-22-6-17-5z"/>
<path class=baU d="M6398 1407l18-13-22 1-18 6zm104-30l17-20-22 11-18-4z"/>
<path class=baJ d="M6416 1394l17 5-22-2-17-2zm103-37l17 9-22 9-17-7z"/>
<path class=baV d="M6433 1399l17-8-22 5-17 1z"/>
<path class=bac d="M6467 1402l17 27-22-63-17 30z"/>
<path class=bbD d="M6484 1429l18-52-23-13-17 2z"/>
<path class=baH d="M6553 1403l17-17-22-3-17 15z"/>
<path class=bbE d="M6570 1386l17-13-22-21-17 31z"/>
<path class=bz d="M6587 1373l18-21-23 20-17-20z"/>
<path class=bba d="M6639 1329l17-13-22 35-17-11z"/>
<path class=bbF d="M6656 1316l17-4-22 41-17-2z"/>
<path class=baV d="M5270 1744l17-3-22 2-17 4zm652-182l18-6-23-5-17 16zm172-47l17-8-22-8-17 23z"/>
<path class=baF d="M5287 1741l17-13-22 64-17-49z"/>
<path class=bv d="M5304 1728l17-15-22 23-17 56zm636-172l17 22-22-20-18-7zm652-194l18 2-23 9-17 13z"/>
<path class=bap d="M5321 1713l17 4-22 21-17-2zm155-28l17-9-22 10-17-8z"/>
<path class=bg d="M5338 1717l18 59-23-43-17 5zm361-82l17-10-22 21-17 28zm17-10l18 4-23 11-17 6zm430-145l17 40-22 21-17-38zm189-25l17-9-22 42-17-51zm223-54l17-1-22 3-17-37z"/>
<path class=baW d="M5356 1776l17-6-22-42-18 5zm17-6l17-12-22-31-17 1z"/>
<path class=bd d="M5390 1758l17-33-22-5-17 7zm584-182l17 8-22-31-17 7z"/>
<path class=baX d="M5407 1725l17-32-22-8-17 35z"/>
<path class=baY d="M5424 1693l17-13-22-5-17 10z"/>
<path class=baZ d="M5441 1680l18-2-23 1-17-4z"/>
<path class=baw d="M5459 1678l17 7-22-7-18 1zm670-196l17-2-22 23-18-18z"/>
<path class=bba d="M5493 1676l17 12-22-11-17 9zm292-87l17 9-22-2-17 13z"/>
<path class=bax d="M5510 1688l17 24-22-35-17 0zm138-23l17-19-22 9-18-24zm154-67l17 33-22-40-17 5zm601-169l18 6-23-28-17 29z"/>
<path class=bbb d="M5527 1712l18 45-23-70-17-10z"/>
<path class=bbc d="M5545 1757l17-44-22-48-18 22z"/>
<path class=baf d="M5562 1713l17-37-22-24-17 13z"/>
<path class=bbd d="M5579 1676l17-11-22-2-17-11zm687-193l17-14-22-3-17-21zm344-119l17 19-22-31-18 21z"/>
<path class=bH d="M5596 1665l17 17-22-32-17 13zm361-87l17-2-22-16-17-2zm550-172l17 23-22-52-18 52z"/>
<path class=bbe d="M5613 1682l17-20-22-24-17 12z"/>
<path class=bbf d="M5630 1662l18 3-23-34-17 7z"/>
<path class=bbg d="M5665 1646l17-7-22 9-17 7z"/>
<path class=bA d="M5682 1639l17-4-22 39-17-26z"/>
<path class=bbh d="M5734 1629l17-1-22-11-18 23z"/>
<path class=bf d="M5751 1628l17-26-22 3-17 12z"/>
<path class=baJ d="M5768 1602l17-13-22 20-17-4z"/>
<path class=be d="M5819 1631l18-30-23 3-17-13z"/>
<path class=bq d="M5837 1601l17-30-22 26-18 7z"/>
<path class=bbi d="M5854 1571l17-5-22 7-17 24zm446-122l18-9-23 1-17 33z"/>
<path class=baD d="M5871 1566l17 11-22 2-17-6zm206-50l17-1-22 7-17-11z"/>
<path class=bb d="M5888 1577l17 23-22-28-17 7zm17 23l17-38-22 5-17 5z"/>
<path class=baM d="M5991 1584l17-12-22-67-17 48z"/>
<path class=bay d="M6008 1572l18 5-23-62-17-10z"/>
<path class=bbj d="M6026 1577l17 13-22-47-18-28zm463-124l18-47-23 23-17-27z"/>
<path class=bbk d="M6043 1590l17-47-22-21-17 21z"/>
<path class=bi d="M6060 1543l17-27-22-5-17 11z"/>
<path class=bbl d="M6111 1507l18-25-23 3-17 14z"/>
<path class=bbm d="M6163 1520l17-23-22 0-17 44zm189-74l17-16-22 65-17-7z"/>
<path class=bS d="M6180 1497l17-6-22-19-17 25z"/>
<path class=baN d="M6197 1491l18 1-23-19-17-1zm258-80l17 8-22-28-17 8z"/>
<path class=bM d="M6215 1492l17 6-22 37-18-62z"/>
<path class=bo d="M6232 1498l17 5-22-42-17 74z"/>
<path class=bbn d="M6249 1503l17-20-22-38-17 16z"/>
<path class=baS d="M6283 1469l17-20-22 25-17-8z"/>
<path class=baT d="M6318 1440l17 15-22-18-18 4z"/>
<path class=bB d="M6369 1430l17-11-22 44-17 32zm206-30l17-38-22 24-17 17z"/>
<path class=bn d="M6386 1419l17 10-22 7-17 27z"/>
<path class=baE d="M6421 1435l17-33-22-8-18 13zm275-89l17-15-22 3-18-22z"/>
<path class=baC d="M6438 1402l17 9-22-12-17-5z"/>
<path class=bW d="M6472 1419l17 34-22-51-17-11z"/>
<path class=bbo d="M6524 1429l17-23-22-49-17 20z"/>
<path class=bbp d="M6541 1406l17-5-22-35-17-9z"/>
<path class=bbq d="M6627 1383l17-7-22-40-17 16z"/>
<path class=bbr d="M6644 1376l17-11-22-36-17 7z"/>
<path class=bbs d="M6661 1365l17-17-22-32-17 13z"/>
<path class=bbt d="M6678 1348l18-2-23-34-17 4z"/>
<path class=bai d="M5292 1767l17 3-22-29-17 3z"/>
<path class=baj d="M5309 1770l17 4-22-46-17 13z"/>
<path class=bak d="M5326 1774l17 0-22-61-17 15z"/>
<path class=bal d="M5343 1774l18-12-23-45-17-4z"/>
<path class=bn d="M5361 1762l17-20-22 34-18-59zm910-285l17 16-22-10-17 20zm275-84l17 19-22-6-17 23z"/>
<path class=bj d="M5378 1742l17 19-22 9-17 6z"/>
<path class=bam d="M5395 1761l17 11-22-14-17 12z"/>
<path class=bp d="M5412 1772l17-43-22-4-17 33z"/>
<path class=bZ d="M5429 1729l17-8-22-28-17 32z"/>
<path class=bt d="M5446 1721l18-3-23-38-17 13z"/>
<path class=ban d="M5464 1718l17 20-22-60-18 2z"/>
<path class=bao d="M5481 1738l17-49-22-4-17-7zm395-134l17-18-22-20-17 5z"/>
<path class=bP d="M5498 1689l17-6-22-7-17 9zm636-177l17-8-22-22-18 25zm189-60l17 0-22-12-18 9z"/>
<path class=bap d="M5515 1683l17 14-22-9-17-12zm206-68l17 15-22-5-17 10z"/>
<path class=bg d="M5532 1697l18 37-23-22-17-24zm292-72l18 15-23-9-17-33zm155-59l17 17-22-7-17 2zm34-3l18-19-23 28-17 12z"/>
<path class=baq d="M5550 1734l17 42-22-19-18-45z"/>
<path class=bar d="M5567 1776l17-44-22-19-17 44z"/>
<path class=bas d="M5584 1732l17-26-22-30-17 37z"/>
<path class=bat d="M5601 1706l17 1-22-42-17 11z"/>
<path class=bd d="M5618 1707l17-14-22-11-17-17z"/>
<path class=bau d="M5635 1693l18 2-23-33-17 20zm18 2l17-20-22-10-18-3z"/>
<path class=bf d="M5670 1675l17-25-22-4-17 19z"/>
<path class=bav d="M5687 1650l17-25-22 14-17 7z"/>
<path class=baw d="M5704 1625l17-10-22 20-17 4z"/>
<path class=bv d="M5738 1630l18 20-22-21-18-4zm602-178l17 49-22-46-17-15zm189-42l17-17-22 36-17-23z"/>
<path class=bax d="M5756 1650l17-18-22-4-17 1zm721-223l17 18-22-26-17-8zm155-33l17-22-22 11-17-19zm34-20l17 9-22-18-17 11zm17 9l17-24-22-11-17 17z"/>
<path class=bay d="M5773 1632l17 25-22-55-17 26zm446-111l18-12-22-17-18-1zm155-52l17 24-22-63-17 16z"/>
<path class=baz d="M5790 1657l17-12-22-56-17 13zm825-229l17-34-22-30-18-2z"/>
<path class=baA d="M5807 1645l17-20-22-27-17-9z"/>
<path class=baB d="M5842 1640l17-14-22-25-18 30z"/>
<path class=bF d="M5859 1626l17-22-22-33-17 30z"/>
<path class=baC d="M5893 1586l17-12-22 3-17-11z"/>
<path class=baD d="M5910 1574l17 1-22 25-17-23zm52-11l17 3-22 12-17-22z"/>
<path class=bN d="M5927 1575l18 5-23-18-17 38z"/>
<path class=baE d="M5945 1580l17-17-22-7-18 6zm171-56l18-12-23-5-17 8zm344-99l17 2-22-16-17-9z"/>
<path class=by d="M5996 1583l17-20-22 21-17-8z"/>
<path class=baF d="M6031 1544l17-8-22 41-18-5z"/>
<path class=baG d="M6048 1536l17 14-22 40-17-13z"/>
<path class=baH d="M6065 1550l17 43-22-50-17 47z"/>
<path class=bw d="M6082 1593l17-43-22-34-17 27z"/>
<path class=bab d="M6099 1550l17-26-22-9-17 1z"/>
<path class=baI d="M6151 1504l17-3-22-21-17 2z"/>
<path class=baJ d="M6168 1501l17 13-22 6-17-40z"/>
<path class=bH d="M6185 1514l17 21-22-38-17 23zm52-5l17-2-22-9-17-6zm189-58l17 11-22-27-18-6z"/>
<path class=bL d="M6202 1535l17-14-22-30-17 6z"/>
<path class=bQ d="M6254 1507l17-30-22 26-17-5z"/>
<path class=baK d="M6288 1493l17-21-22-3-17 14z"/>
<path class=baL d="M6305 1472l18-20-23-3-17 20z"/>
<path class=baM d="M6357 1501l17-32-22-23-17 9z"/>
<path class=bK d="M6391 1493l17-40-22-34-17 11z"/>
<path class=baN d="M6408 1453l18-2-23-22-17-10z"/>
<path class=bS d="M6443 1462l17-37-22-23-17 33z"/>
<path class=baO d="M6494 1445l18-11-23 19-17-34z"/>
<path class=bB d="M6512 1434l17-24-22-4-18 47z"/>
<path class=baP d="M6563 1412l17 48-22-59-17 5z"/>
<path class=baQ d="M6580 1460l17-16-22-44-17 1z"/>
<path class=baR d="M6597 1444l18-16-23-66-17 38z"/>
<path class=baS d="M6649 1372l17 2-22 2-17 7z"/>
<path class=baT d="M6700 1359l18-20-22 7-18 2z"/>
<path class=baU d="M6718 1339l17-3-22-5-17 15z"/>
<path class=ba d="M5314 1808l17-32-22-6-17-3z"/>
<path class=bb d="M5331 1776l17 4-22-6-17-4z"/>
<path class=bc d="M5348 1780l18 9-23-15-17 0zm86-31l17 24-22-44-17 43z"/>
<path class=bd d="M5366 1789l17-7-22-20-18 12z"/>
<path class=be d="M5383 1782l17-21-22-19-17 20zm326-48l17-71-22-38-17 25z"/>
<path class=bf d="M5400 1761l17-20-22 20-17-19z"/>
<path class=bg d="M5417 1741l17 8-22 23-17-11zm223-64l18 4-23 12-17 14zm18 4l17 3-22 11-18-2zm446-124l17-11-22 4-17 43zm103-20l17-3-22 1-17-21zm189-66l17-11-22 33-17-24z"/>
<path class=bh d="M5451 1773l18-47-23-5-17 8z"/>
<path class=bi d="M5469 1726l17 19-22-27-18 3zm429-129l17 19-22-30-17 18zm275-75l17 39-22-60-17 3z"/>
<path class=bj d="M5486 1745l17 49-22-56-17-20zm1030-316l18 78-22-73-18 11z"/>
<path class=bk d="M5503 1794l17-52-22-53-17 49z"/>
<path class=bl d="M5520 1742l17-11-22-48-17 6z"/>
<path class=bm d="M5537 1731l17-22-22-12-17-14zm791-230l17-19-22-30-18 20z"/>
<path class=bn d="M5554 1709l18-7-22 32-18-37zm69-33l17 1-22 30-17-1zm739-191l17 0-22 16-17-49z"/>
<path class=bo d="M5572 1702l17-20-22 94-17-42z"/>
<path class=bp d="M5589 1682l17-10-22 60-17 44zm1048-237l17-38-22-13-17 34z"/>
<path class=bq d="M5606 1672l17 4-22 30-17 26z"/>
<path class=br d="M5675 1684l17 13-22-22-17 20z"/>
<path class=bs d="M5692 1697l17 37-22-84-17 25z"/>
<path class=bt d="M5726 1663l17-21-22-27-17 10z"/>
<path class=bu d="M5743 1642l18-2-23-10-17-15z"/>
<path class=bv d="M5761 1640l17 25-22-15-18-20zm532-146l17 7-22-8-17-16zm206-63l17-2-22 16-17-18z"/>
<path class=bw d="M5778 1665l17 24-22-57-17 18z"/>
<path class=bx d="M5795 1689l17-32-22 0-17-25z"/>
<path class=by d="M5812 1657l17-16-22 4-17 12z"/>
<path class=bz d="M5829 1641l18-1-23-15-17 20zm430-132l17 7-22-9-17 2z"/>
<path class=bA d="M5847 1640l17 1-22-1-18-15z"/>
<path class=bB d="M5864 1641l17-37-22 22-17 14z"/>
<path class=bC d="M5881 1604l17-7-22 7-17 22z"/>
<path class=bD d="M5915 1616l17-17-22-25-17 12z"/>
<path class=bE d="M5932 1599l18 9-23-33-17-1z"/>
<path class=bF d="M5950 1608l17-2-22-26-18-5z"/>
<path class=bG d="M5967 1606l17-11-22-32-17 17z"/>
<path class=bH d="M5984 1595l17 47-22-76-17-3z"/>
<path class=bI d="M6001 1642l17-29-22-30-17-17zm17-29l18-8-23-42-17 20z"/>
<path class=bJ d="M6036 1605l17-11-22-50-18 19z"/>
<path class=bK d="M6053 1594l17 2-22-60-17 8zm618-171l17-32-22-17-17-2z"/>
<path class=bL d="M6070 1596l17-25-22-21-17-14zm120-35l17-24-22-23-17-13z"/>
<path class=bM d="M6087 1571l17-14-22 36-17-43zm498-155l17 9-22 35-17-48z"/>
<path class=bN d="M6121 1546l18-21-23-1-17 26z"/>
<path class=bO d="M6139 1525l17-11-22-2-18 12z"/>
<path class=bP d="M6156 1514l17 8-22-18-17 8z"/>
<path class=bQ d="M6224 1534l18-22-23 9-17 14z"/>
<path class=bR d="M6242 1512l17-3-22 0-18 12z"/>
<path class=bS d="M6276 1516l17-22-22-17-17 30zm412-125l17-15-22 7-17-9zm17-15l18 2-23-19-17 24z"/>
<path class=bT d="M6310 1501l18 0-23-29-17 21z"/>
<path class=bU d="M6345 1482l17 3-22-33-17 0z"/>
<path class=bV d="M6379 1485l17-14-22-2-17 32zm34-25l18 3-23-10-17 40z"/>
<path class=bW d="M6431 1463l17 35-22-47-18 2z"/>
<path class=bX d="M6448 1498l17 1-22-37-17-11z"/>
<path class=bY d="M6465 1499l17-54-22-20-17 37z"/>
<path class=bZ d="M6482 1445l17-14-22-4-17-2z"/>
<path class=baa d="M6534 1507l17-81-22-16-17 24z"/>
<path class=bab d="M6551 1426l17 20-22-53-17 17z"/>
<path class=bac d="M6568 1446l17-30-22-4-17-19z"/>
<path class=bad d="M6602 1425l18-12-23 31-17 16z"/>
<path class=bae d="M6620 1413l17 32-22-17-18 16z"/>
<path class=baf d="M6654 1407l17 16-22-51-17 22z"/>
<path class=bag d="M6723 1378l17-7-22-32-18 20z"/>
<path class=bah d="M6740 1371l17-2-22-33-17 3z"/>
</g>
<line class="a" x1="62.20" y1="163.20" x2="62.20" y2="43.30"/>
<line class="a" x1="62.20" y1="163.20" x2="173.00" y2="217.60"/>
<line class="a" x1="173.00" y1="217.60" x2="317.30" y2="176.10"/>
<line class="a" x1="62.20" y1="43.30" x2="59.60" y2="43.70"/>
<line class="a" x1="62.20" y1="80.68" x2="59.60" y2="81.08"/>
<line class="a" x1="62.20" y1="118.05" x2="59.60" y2="118.45"/>
<line class="a" x1="62.20" y1="155.43" x2="59.60" y2="155.83"/>
<line class="a" x1="187.57" y1="213.41" x2="186.57" y2="211.91"/>
<line class="a" x1="210.78" y1="206.74" x2="209.78" y2="205.24"/>
<line class="a" x1="233.98" y1="200.06" x2="232.98" y2="198.56"/>
<line class="a" x1="257.18" y1="193.39" x2="256.18" y2="191.89"/>
<line class="a" x1="280.39" y1="186.72" x2="279.39" y2="185.22"/>
<line class="a" x1="303.59" y1="180.04" x2="302.59" y2="178.54"/>
<line class="a" x1="146.52" y1="204.60" x2="148.02" y2="204.00"/>
<line class="a" x1="116.60" y1="189.91" x2="118.10" y2="189.31"/>
<line class="a" x1="86.69" y1="175.22" x2="88.19" y2="174.62"/>
<line class="a" x1="420.60" y1="163.20" x2="420.60" y2="43.30"/>
<line class="a" x1="420.60" y1="163.20" x2="531.40" y2="217.60"/>
<line class="a" x1="531.40" y1="217.60" x2="675.70" y2="176.10"/>
<line class="a" x1="420.60" y1="43.30" x2="418.00" y2="43.70"/>
<line class="a" x1="420.60" y1="103.25" x2="418.00" y2="103.65"/>
<line class="a" x1="420.60" y1="161.70" x2="418.00" y2="162.10"/>
<line class="a" x1="545.97" y1="213.41" x2="544.97" y2="211.91"/>
<line class="a" x1="569.18" y1="206.74" x2="568.18" y2="205.24"/>
<line class="a" x1="592.38" y1="200.06" x2="591.38" y2="198.56"/>
<line class="a" x1="615.58" y1="193.39" x2="614.58" y2="191.89"/>
<line class="a" x1="638.79" y1="186.72" x2="637.79" y2="185.22"/>
<line class="a" x1="661.99" y1="180.04" x2="660.99" y2="178.54"/>
<line class="a" x1="504.92" y1="204.60" x2="506.42" y2="204.00"/>
<line class="a" x1="475.00" y1="189.91" x2="476.50" y2="189.31"/>
<line class="a" x1="445.09" y1="175.22" x2="446.59" y2="174.62"/>
<text class="t" x="54.2" y="44.7" text-anchor="end">0</text>
<text class="t" x="54.2" y="83.5" text-anchor="end">-50</text>
<text class="t" x="54.2" y="120.6" text-anchor="end">-100</text>
<text class="t" x="54.2" y="157.7" text-anchor="end">-150</text>
<text class="t" x="62.4" y="193.1" text-anchor="start">20</text>
<text class="t" x="100.2" y="208.0" text-anchor="start">0</text>
<text class="t" x="116.3" y="222.4" text-anchor="start">-20</text>
<text class="ti" x="79.0" y="215.3">l</text>
<text class="t" x="193.1" y="232.4" text-anchor="start">-20</text>
<text class="t" x="215.6" y="226.6" text-anchor="start">0</text>
<text class="t" x="239.9" y="219.5" text-anchor="start">20</text>
<text class="t" x="263.4" y="212.5" text-anchor="start">40</text>
<text class="t" x="286.1" y="205.6" text-anchor="start">60</text>
<text class="t" x="309.7" y="199.3" text-anchor="start">80</text>
<text class="ti" x="266.8" y="225.9">k</text>
<text class="yb" font-size="18" transform="translate(14.2,130.8) rotate(-90)">A</text>
<text class="yb" font-size="12" transform="translate(15.6,116.1) rotate(-90)">x</text>
<text class="yi" font-size="17.5" transform="translate(14.2,101.3) rotate(-90)">k</text>
<text class="yr" font-size="17.5" transform="translate(14.2,92.5) rotate(-90)">,</text>
<text class="yi" font-size="17.5" transform="translate(14.2,86.0) rotate(-90)">l</text>
<path class="yln" d="M0.3 135.9H18.6M0.3 103.7V105.7H18.6V103.7M0.3 78.6V76.6H18.6V78.6M0.3 71.3H18.6"/>
<text class="t" x="412.6" y="44.9" text-anchor="end">0</text>
<text class="t" x="412.6" y="104.5" text-anchor="end">-100</text>
<text class="t" x="412.6" y="163.8" text-anchor="end">-200</text>
<text class="t" x="420.8" y="193.1" text-anchor="start">20</text>
<text class="t" x="458.6" y="208.0" text-anchor="start">0</text>
<text class="t" x="474.7" y="222.4" text-anchor="start">-20</text>
<text class="ti" x="437.4" y="215.3">l</text>
<text class="t" x="551.5" y="232.4" text-anchor="start">-20</text>
<text class="t" x="574.0" y="226.6" text-anchor="start">0</text>
<text class="t" x="598.3" y="219.5" text-anchor="start">20</text>
<text class="t" x="621.8" y="212.5" text-anchor="start">40</text>
<text class="t" x="644.5" y="205.6" text-anchor="start">60</text>
<text class="t" x="668.1" y="199.3" text-anchor="start">80</text>
<text class="ti" x="625.2" y="225.9">k</text>
<text class="yb" font-size="18" transform="translate(372.6,130.8) rotate(-90)">A</text>
<text class="yb" font-size="12" transform="translate(374.0,116.1) rotate(-90)">x</text>
<text class="yi" font-size="17.5" transform="translate(372.6,101.3) rotate(-90)">k</text>
<text class="yr" font-size="17.5" transform="translate(372.6,92.5) rotate(-90)">,</text>
<text class="yi" font-size="17.5" transform="translate(372.6,86.0) rotate(-90)">l</text>
<path class="yln" d="M358.7 135.9H377.0M358.7 103.7V105.7H377.0V103.7M358.7 78.6V76.6H377.0V78.6M358.7 71.3H377.0"/>
<text class="cap" x="27.0" y="276" textLength="23.7" lengthAdjust="spacingAndGlyphs">(a)</text>
<text class="cap" x="58.1" y="276" textLength="26.7" lengthAdjust="spacingAndGlyphs">ZC</text>
<text class="cap" x="90.9" y="276" textLength="102.1" lengthAdjust="spacingAndGlyphs">phase-coded</text>
<text class="cap" x="201.0" y="276" textLength="78.7" lengthAdjust="spacingAndGlyphs">waveform</text>
<text class="cap" x="286.9" y="276" textLength="34.6" lengthAdjust="spacingAndGlyphs">[16].</text>
<text class="cap" x="410.8" y="276" textLength="25.9" lengthAdjust="spacingAndGlyphs">(b)</text>
<text class="cap" x="442.9" y="276" textLength="98.1" lengthAdjust="spacingAndGlyphs">Eigenvector</text>
<text class="cap" x="549.4" y="276" textLength="15.3" lengthAdjust="spacingAndGlyphs">in</text>
<text class="cap" x="570.5" y="276" textLength="64.3" lengthAdjust="spacingAndGlyphs">Lemma</text>
<text class="cap" x="640.9" y="276" textLength="15.0" lengthAdjust="spacingAndGlyphs">7.</text>
</svg>
</body></html>
